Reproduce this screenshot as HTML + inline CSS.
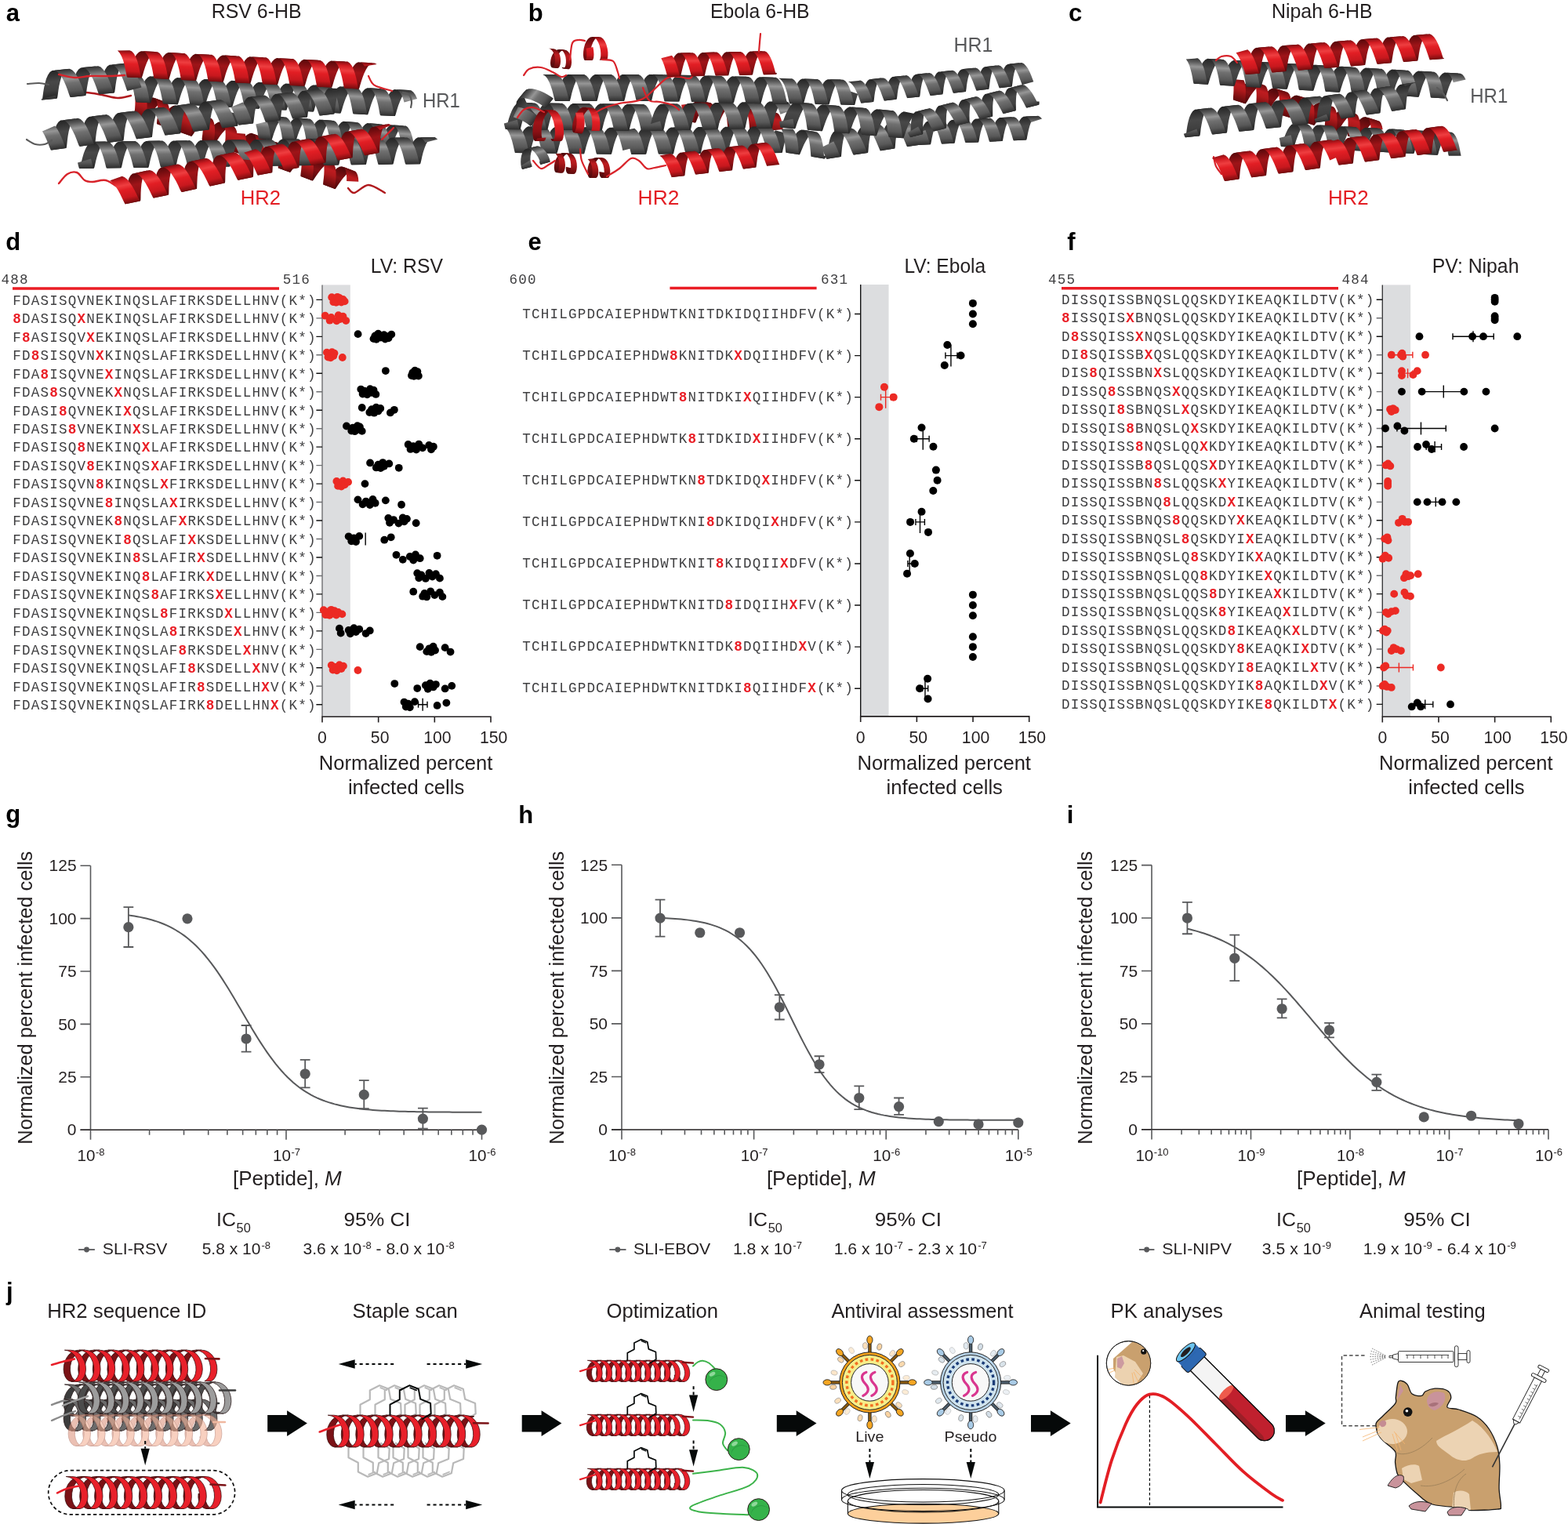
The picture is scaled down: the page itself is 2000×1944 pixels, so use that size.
<!DOCTYPE html><html><head><meta charset="utf-8"><title>Figure</title><style>html,body{margin:0;padding:0;background:#fff;width:2000px;height:1944px;overflow:hidden}svg{display:block}</style></head><body><svg width="2000" height="1944" viewBox="0 0 2000 1944" font-family="'Liberation Sans',Arial,Helvetica,sans-serif" fill="#231f20"><defs><linearGradient id="hg1f" gradientUnits="userSpaceOnUse" x1="241.07" y1="140.88" x2="230.93" y2="169.12"><stop offset="0" stop-color="#690c0e"/><stop offset="0.3" stop-color="#be1c20"/><stop offset="0.5" stop-color="#b01a1c"/><stop offset="1" stop-color="#600a0c"/></linearGradient><linearGradient id="hg1b" gradientUnits="userSpaceOnUse" x1="241.07" y1="140.88" x2="230.93" y2="169.12"><stop offset="0" stop-color="#4c080a"/><stop offset="0.5" stop-color="#841014"/><stop offset="1" stop-color="#48080a"/></linearGradient><linearGradient id="hg2f" gradientUnits="userSpaceOnUse" x1="378.2" y1="190.93" x2="367.8" y2="219.07"><stop offset="0" stop-color="#690c0e"/><stop offset="0.3" stop-color="#be1c20"/><stop offset="0.5" stop-color="#b01a1c"/><stop offset="1" stop-color="#600a0c"/></linearGradient><linearGradient id="hg2b" gradientUnits="userSpaceOnUse" x1="378.2" y1="190.93" x2="367.8" y2="219.07"><stop offset="0" stop-color="#4c080a"/><stop offset="0.5" stop-color="#841014"/><stop offset="1" stop-color="#48080a"/></linearGradient><linearGradient id="hg3f" gradientUnits="userSpaceOnUse" x1="427.09" y1="154.04" x2="424.91" y2="183.96"><stop offset="0" stop-color="#303030"/><stop offset="0.16" stop-color="#5c5c5c"/><stop offset="0.34" stop-color="#969696"/><stop offset="0.5" stop-color="#707070"/><stop offset="0.78" stop-color="#585858"/><stop offset="1" stop-color="#2e2e2e"/></linearGradient><linearGradient id="hg3b" gradientUnits="userSpaceOnUse" x1="427.09" y1="154.04" x2="424.91" y2="183.96"><stop offset="0" stop-color="#242424"/><stop offset="0.4" stop-color="#484848"/><stop offset="0.7" stop-color="#404040"/><stop offset="1" stop-color="#222222"/></linearGradient><linearGradient id="hg4f" gradientUnits="userSpaceOnUse" x1="325.77" y1="178" x2="326.23" y2="212"><stop offset="0" stop-color="#303030"/><stop offset="0.16" stop-color="#5c5c5c"/><stop offset="0.34" stop-color="#969696"/><stop offset="0.5" stop-color="#707070"/><stop offset="0.78" stop-color="#585858"/><stop offset="1" stop-color="#2e2e2e"/></linearGradient><linearGradient id="hg4b" gradientUnits="userSpaceOnUse" x1="325.77" y1="178" x2="326.23" y2="212"><stop offset="0" stop-color="#242424"/><stop offset="0.4" stop-color="#484848"/><stop offset="0.7" stop-color="#404040"/><stop offset="1" stop-color="#222222"/></linearGradient><linearGradient id="hg5f" gradientUnits="userSpaceOnUse" x1="344.92" y1="105.52" x2="343.08" y2="139.48"><stop offset="0" stop-color="#303030"/><stop offset="0.16" stop-color="#5c5c5c"/><stop offset="0.34" stop-color="#969696"/><stop offset="0.5" stop-color="#707070"/><stop offset="0.78" stop-color="#585858"/><stop offset="1" stop-color="#2e2e2e"/></linearGradient><linearGradient id="hg5b" gradientUnits="userSpaceOnUse" x1="344.92" y1="105.52" x2="343.08" y2="139.48"><stop offset="0" stop-color="#242424"/><stop offset="0.4" stop-color="#484848"/><stop offset="0.7" stop-color="#404040"/><stop offset="1" stop-color="#222222"/></linearGradient><linearGradient id="hg6f" gradientUnits="userSpaceOnUse" x1="111.21" y1="85.59" x2="114.79" y2="121.41"><stop offset="0" stop-color="#303030"/><stop offset="0.16" stop-color="#5c5c5c"/><stop offset="0.34" stop-color="#969696"/><stop offset="0.5" stop-color="#707070"/><stop offset="0.78" stop-color="#585858"/><stop offset="1" stop-color="#2e2e2e"/></linearGradient><linearGradient id="hg6b" gradientUnits="userSpaceOnUse" x1="111.21" y1="85.59" x2="114.79" y2="121.41"><stop offset="0" stop-color="#242424"/><stop offset="0.4" stop-color="#484848"/><stop offset="0.7" stop-color="#404040"/><stop offset="1" stop-color="#222222"/></linearGradient><linearGradient id="hg7f" gradientUnits="userSpaceOnUse" x1="177.69" y1="140.65" x2="182.31" y2="176.35"><stop offset="0" stop-color="#303030"/><stop offset="0.16" stop-color="#5c5c5c"/><stop offset="0.34" stop-color="#969696"/><stop offset="0.5" stop-color="#707070"/><stop offset="0.78" stop-color="#585858"/><stop offset="1" stop-color="#2e2e2e"/></linearGradient><linearGradient id="hg7b" gradientUnits="userSpaceOnUse" x1="177.69" y1="140.65" x2="182.31" y2="176.35"><stop offset="0" stop-color="#242424"/><stop offset="0.4" stop-color="#484848"/><stop offset="0.7" stop-color="#404040"/><stop offset="1" stop-color="#222222"/></linearGradient><linearGradient id="hg8f" gradientUnits="userSpaceOnUse" x1="363.05" y1="118.61" x2="366.95" y2="152.39"><stop offset="0" stop-color="#303030"/><stop offset="0.16" stop-color="#5c5c5c"/><stop offset="0.34" stop-color="#969696"/><stop offset="0.5" stop-color="#707070"/><stop offset="0.78" stop-color="#585858"/><stop offset="1" stop-color="#2e2e2e"/></linearGradient><linearGradient id="hg8b" gradientUnits="userSpaceOnUse" x1="363.05" y1="118.61" x2="366.95" y2="152.39"><stop offset="0" stop-color="#242424"/><stop offset="0.4" stop-color="#484848"/><stop offset="0.7" stop-color="#404040"/><stop offset="1" stop-color="#222222"/></linearGradient><linearGradient id="hg9f" gradientUnits="userSpaceOnUse" x1="313.87" y1="72.02" x2="312.13" y2="105.98"><stop offset="0" stop-color="#820e12"/><stop offset="0.16" stop-color="#d21c22"/><stop offset="0.34" stop-color="#ee3e40"/><stop offset="0.5" stop-color="#e21e24"/><stop offset="0.78" stop-color="#c8181e"/><stop offset="1" stop-color="#760c0e"/></linearGradient><linearGradient id="hg9b" gradientUnits="userSpaceOnUse" x1="313.87" y1="72.02" x2="312.13" y2="105.98"><stop offset="0" stop-color="#58080a"/><stop offset="0.4" stop-color="#9e1418"/><stop offset="0.7" stop-color="#8c1014"/><stop offset="1" stop-color="#54080a"/></linearGradient><linearGradient id="hg10f" gradientUnits="userSpaceOnUse" x1="231.27" y1="208.39" x2="238.73" y2="243.61"><stop offset="0" stop-color="#820e12"/><stop offset="0.16" stop-color="#d21c22"/><stop offset="0.34" stop-color="#ee3e40"/><stop offset="0.5" stop-color="#e21e24"/><stop offset="0.78" stop-color="#c8181e"/><stop offset="1" stop-color="#760c0e"/></linearGradient><linearGradient id="hg10b" gradientUnits="userSpaceOnUse" x1="231.27" y1="208.39" x2="238.73" y2="243.61"><stop offset="0" stop-color="#58080a"/><stop offset="0.4" stop-color="#9e1418"/><stop offset="0.7" stop-color="#8c1014"/><stop offset="1" stop-color="#54080a"/></linearGradient><linearGradient id="hg11f" gradientUnits="userSpaceOnUse" x1="402.89" y1="175.29" x2="409.11" y2="208.71"><stop offset="0" stop-color="#820e12"/><stop offset="0.16" stop-color="#d21c22"/><stop offset="0.34" stop-color="#ee3e40"/><stop offset="0.5" stop-color="#e21e24"/><stop offset="0.78" stop-color="#c8181e"/><stop offset="1" stop-color="#760c0e"/></linearGradient><linearGradient id="hg11b" gradientUnits="userSpaceOnUse" x1="402.89" y1="175.29" x2="409.11" y2="208.71"><stop offset="0" stop-color="#58080a"/><stop offset="0.4" stop-color="#9e1418"/><stop offset="0.7" stop-color="#8c1014"/><stop offset="1" stop-color="#54080a"/></linearGradient><linearGradient id="hg12f" gradientUnits="userSpaceOnUse" x1="933.11" y1="135.16" x2="928.89" y2="162.84"><stop offset="0" stop-color="#690c0e"/><stop offset="0.3" stop-color="#be1c20"/><stop offset="0.5" stop-color="#b01a1c"/><stop offset="1" stop-color="#600a0c"/></linearGradient><linearGradient id="hg12b" gradientUnits="userSpaceOnUse" x1="933.11" y1="135.16" x2="928.89" y2="162.84"><stop offset="0" stop-color="#4c080a"/><stop offset="0.5" stop-color="#841014"/><stop offset="1" stop-color="#48080a"/></linearGradient><linearGradient id="hg13f" gradientUnits="userSpaceOnUse" x1="726.23" y1="162" x2="725.77" y2="196"><stop offset="0" stop-color="#303030"/><stop offset="0.16" stop-color="#5c5c5c"/><stop offset="0.34" stop-color="#969696"/><stop offset="0.5" stop-color="#707070"/><stop offset="0.78" stop-color="#585858"/><stop offset="1" stop-color="#2e2e2e"/></linearGradient><linearGradient id="hg13b" gradientUnits="userSpaceOnUse" x1="726.23" y1="162" x2="725.77" y2="196"><stop offset="0" stop-color="#242424"/><stop offset="0.4" stop-color="#484848"/><stop offset="0.7" stop-color="#404040"/><stop offset="1" stop-color="#222222"/></linearGradient><linearGradient id="hg14f" gradientUnits="userSpaceOnUse" x1="899.83" y1="162" x2="900.17" y2="196"><stop offset="0" stop-color="#303030"/><stop offset="0.16" stop-color="#5c5c5c"/><stop offset="0.34" stop-color="#969696"/><stop offset="0.5" stop-color="#707070"/><stop offset="0.78" stop-color="#585858"/><stop offset="1" stop-color="#2e2e2e"/></linearGradient><linearGradient id="hg14b" gradientUnits="userSpaceOnUse" x1="899.83" y1="162" x2="900.17" y2="196"><stop offset="0" stop-color="#242424"/><stop offset="0.4" stop-color="#484848"/><stop offset="0.7" stop-color="#404040"/><stop offset="1" stop-color="#222222"/></linearGradient><linearGradient id="hg15f" gradientUnits="userSpaceOnUse" x1="1027.53" y1="166.2" x2="1022.47" y2="197.8"><stop offset="0" stop-color="#303030"/><stop offset="0.16" stop-color="#5c5c5c"/><stop offset="0.34" stop-color="#969696"/><stop offset="0.5" stop-color="#707070"/><stop offset="0.78" stop-color="#585858"/><stop offset="1" stop-color="#2e2e2e"/></linearGradient><linearGradient id="hg15b" gradientUnits="userSpaceOnUse" x1="1027.53" y1="166.2" x2="1022.47" y2="197.8"><stop offset="0" stop-color="#242424"/><stop offset="0.4" stop-color="#484848"/><stop offset="0.7" stop-color="#404040"/><stop offset="1" stop-color="#222222"/></linearGradient><linearGradient id="hg16f" gradientUnits="userSpaceOnUse" x1="1108.44" y1="160.19" x2="1113.56" y2="193.81"><stop offset="0" stop-color="#303030"/><stop offset="0.16" stop-color="#5c5c5c"/><stop offset="0.34" stop-color="#969696"/><stop offset="0.5" stop-color="#707070"/><stop offset="0.78" stop-color="#585858"/><stop offset="1" stop-color="#2e2e2e"/></linearGradient><linearGradient id="hg16b" gradientUnits="userSpaceOnUse" x1="1108.44" y1="160.19" x2="1113.56" y2="193.81"><stop offset="0" stop-color="#242424"/><stop offset="0.4" stop-color="#484848"/><stop offset="0.7" stop-color="#404040"/><stop offset="1" stop-color="#222222"/></linearGradient><linearGradient id="hg17f" gradientUnits="userSpaceOnUse" x1="1244.3" y1="151.52" x2="1245.7" y2="181.48"><stop offset="0" stop-color="#303030"/><stop offset="0.16" stop-color="#5c5c5c"/><stop offset="0.34" stop-color="#969696"/><stop offset="0.5" stop-color="#707070"/><stop offset="0.78" stop-color="#585858"/><stop offset="1" stop-color="#2e2e2e"/></linearGradient><linearGradient id="hg17b" gradientUnits="userSpaceOnUse" x1="1244.3" y1="151.52" x2="1245.7" y2="181.48"><stop offset="0" stop-color="#242424"/><stop offset="0.4" stop-color="#484848"/><stop offset="0.7" stop-color="#404040"/><stop offset="1" stop-color="#222222"/></linearGradient><linearGradient id="hg18f" gradientUnits="userSpaceOnUse" x1="739.19" y1="132" x2="738.81" y2="166"><stop offset="0" stop-color="#303030"/><stop offset="0.16" stop-color="#5c5c5c"/><stop offset="0.34" stop-color="#969696"/><stop offset="0.5" stop-color="#707070"/><stop offset="0.78" stop-color="#585858"/><stop offset="1" stop-color="#2e2e2e"/></linearGradient><linearGradient id="hg18b" gradientUnits="userSpaceOnUse" x1="739.19" y1="132" x2="738.81" y2="166"><stop offset="0" stop-color="#242424"/><stop offset="0.4" stop-color="#484848"/><stop offset="0.7" stop-color="#404040"/><stop offset="1" stop-color="#222222"/></linearGradient><linearGradient id="hg19f" gradientUnits="userSpaceOnUse" x1="914.6" y1="131" x2="915.4" y2="165"><stop offset="0" stop-color="#303030"/><stop offset="0.16" stop-color="#5c5c5c"/><stop offset="0.34" stop-color="#969696"/><stop offset="0.5" stop-color="#707070"/><stop offset="0.78" stop-color="#585858"/><stop offset="1" stop-color="#2e2e2e"/></linearGradient><linearGradient id="hg19b" gradientUnits="userSpaceOnUse" x1="914.6" y1="131" x2="915.4" y2="165"><stop offset="0" stop-color="#242424"/><stop offset="0.4" stop-color="#484848"/><stop offset="0.7" stop-color="#404040"/><stop offset="1" stop-color="#222222"/></linearGradient><linearGradient id="hg20f" gradientUnits="userSpaceOnUse" x1="1081.48" y1="136.06" x2="1078.52" y2="169.94"><stop offset="0" stop-color="#303030"/><stop offset="0.16" stop-color="#5c5c5c"/><stop offset="0.34" stop-color="#969696"/><stop offset="0.5" stop-color="#707070"/><stop offset="0.78" stop-color="#585858"/><stop offset="1" stop-color="#2e2e2e"/></linearGradient><linearGradient id="hg20b" gradientUnits="userSpaceOnUse" x1="1081.48" y1="136.06" x2="1078.52" y2="169.94"><stop offset="0" stop-color="#242424"/><stop offset="0.4" stop-color="#484848"/><stop offset="0.7" stop-color="#404040"/><stop offset="1" stop-color="#222222"/></linearGradient><linearGradient id="hg21f" gradientUnits="userSpaceOnUse" x1="1235.32" y1="125.46" x2="1242.68" y2="154.54"><stop offset="0" stop-color="#303030"/><stop offset="0.16" stop-color="#5c5c5c"/><stop offset="0.34" stop-color="#969696"/><stop offset="0.5" stop-color="#707070"/><stop offset="0.78" stop-color="#585858"/><stop offset="1" stop-color="#2e2e2e"/></linearGradient><linearGradient id="hg21b" gradientUnits="userSpaceOnUse" x1="1235.32" y1="125.46" x2="1242.68" y2="154.54"><stop offset="0" stop-color="#242424"/><stop offset="0.4" stop-color="#484848"/><stop offset="0.7" stop-color="#404040"/><stop offset="1" stop-color="#222222"/></linearGradient><linearGradient id="hg22f" gradientUnits="userSpaceOnUse" x1="770" y1="95" x2="770" y2="129"><stop offset="0" stop-color="#303030"/><stop offset="0.16" stop-color="#5c5c5c"/><stop offset="0.34" stop-color="#969696"/><stop offset="0.5" stop-color="#707070"/><stop offset="0.78" stop-color="#585858"/><stop offset="1" stop-color="#2e2e2e"/></linearGradient><linearGradient id="hg22b" gradientUnits="userSpaceOnUse" x1="770" y1="95" x2="770" y2="129"><stop offset="0" stop-color="#242424"/><stop offset="0.4" stop-color="#484848"/><stop offset="0.7" stop-color="#404040"/><stop offset="1" stop-color="#222222"/></linearGradient><linearGradient id="hg23f" gradientUnits="userSpaceOnUse" x1="662.88" y1="124.19" x2="689.12" y2="145.81"><stop offset="0" stop-color="#303030"/><stop offset="0.16" stop-color="#5c5c5c"/><stop offset="0.34" stop-color="#969696"/><stop offset="0.5" stop-color="#707070"/><stop offset="0.78" stop-color="#585858"/><stop offset="1" stop-color="#2e2e2e"/></linearGradient><linearGradient id="hg23b" gradientUnits="userSpaceOnUse" x1="662.88" y1="124.19" x2="689.12" y2="145.81"><stop offset="0" stop-color="#242424"/><stop offset="0.4" stop-color="#484848"/><stop offset="0.7" stop-color="#404040"/><stop offset="1" stop-color="#222222"/></linearGradient><linearGradient id="hg24f" gradientUnits="userSpaceOnUse" x1="676.91" y1="188.41" x2="683.09" y2="211.59"><stop offset="0" stop-color="#303030"/><stop offset="0.16" stop-color="#5c5c5c"/><stop offset="0.34" stop-color="#969696"/><stop offset="0.5" stop-color="#707070"/><stop offset="0.78" stop-color="#585858"/><stop offset="1" stop-color="#2e2e2e"/></linearGradient><linearGradient id="hg24b" gradientUnits="userSpaceOnUse" x1="676.91" y1="188.41" x2="683.09" y2="211.59"><stop offset="0" stop-color="#242424"/><stop offset="0.4" stop-color="#484848"/><stop offset="0.7" stop-color="#404040"/><stop offset="1" stop-color="#222222"/></linearGradient><linearGradient id="hg25f" gradientUnits="userSpaceOnUse" x1="920.42" y1="97.01" x2="919.58" y2="130.99"><stop offset="0" stop-color="#303030"/><stop offset="0.16" stop-color="#5c5c5c"/><stop offset="0.34" stop-color="#969696"/><stop offset="0.5" stop-color="#707070"/><stop offset="0.78" stop-color="#585858"/><stop offset="1" stop-color="#2e2e2e"/></linearGradient><linearGradient id="hg25b" gradientUnits="userSpaceOnUse" x1="920.42" y1="97.01" x2="919.58" y2="130.99"><stop offset="0" stop-color="#242424"/><stop offset="0.4" stop-color="#484848"/><stop offset="0.7" stop-color="#404040"/><stop offset="1" stop-color="#222222"/></linearGradient><linearGradient id="hg26f" gradientUnits="userSpaceOnUse" x1="1045.36" y1="101" x2="1044.64" y2="133"><stop offset="0" stop-color="#303030"/><stop offset="0.16" stop-color="#5c5c5c"/><stop offset="0.34" stop-color="#969696"/><stop offset="0.5" stop-color="#707070"/><stop offset="0.78" stop-color="#585858"/><stop offset="1" stop-color="#2e2e2e"/></linearGradient><linearGradient id="hg26b" gradientUnits="userSpaceOnUse" x1="1045.36" y1="101" x2="1044.64" y2="133"><stop offset="0" stop-color="#242424"/><stop offset="0.4" stop-color="#484848"/><stop offset="0.7" stop-color="#404040"/><stop offset="1" stop-color="#222222"/></linearGradient><linearGradient id="hg27f" gradientUnits="userSpaceOnUse" x1="1197.41" y1="91.59" x2="1200.59" y2="120.41"><stop offset="0" stop-color="#303030"/><stop offset="0.16" stop-color="#5c5c5c"/><stop offset="0.34" stop-color="#969696"/><stop offset="0.5" stop-color="#707070"/><stop offset="0.78" stop-color="#585858"/><stop offset="1" stop-color="#2e2e2e"/></linearGradient><linearGradient id="hg27b" gradientUnits="userSpaceOnUse" x1="1197.41" y1="91.59" x2="1200.59" y2="120.41"><stop offset="0" stop-color="#242424"/><stop offset="0.4" stop-color="#484848"/><stop offset="0.7" stop-color="#404040"/><stop offset="1" stop-color="#222222"/></linearGradient><linearGradient id="hg28f" gradientUnits="userSpaceOnUse" x1="714.09" y1="63.05" x2="711.91" y2="86.95"><stop offset="0" stop-color="#690c0e"/><stop offset="0.3" stop-color="#be1c20"/><stop offset="0.5" stop-color="#b01a1c"/><stop offset="1" stop-color="#600a0c"/></linearGradient><linearGradient id="hg28b" gradientUnits="userSpaceOnUse" x1="714.09" y1="63.05" x2="711.91" y2="86.95"><stop offset="0" stop-color="#4c080a"/><stop offset="0.5" stop-color="#841014"/><stop offset="1" stop-color="#48080a"/></linearGradient><linearGradient id="hg29f" gradientUnits="userSpaceOnUse" x1="757" y1="47" x2="757" y2="77"><stop offset="0" stop-color="#820e12"/><stop offset="0.16" stop-color="#d21c22"/><stop offset="0.34" stop-color="#ee3e40"/><stop offset="0.5" stop-color="#e21e24"/><stop offset="0.78" stop-color="#c8181e"/><stop offset="1" stop-color="#760c0e"/></linearGradient><linearGradient id="hg29b" gradientUnits="userSpaceOnUse" x1="757" y1="47" x2="757" y2="77"><stop offset="0" stop-color="#58080a"/><stop offset="0.4" stop-color="#9e1418"/><stop offset="0.7" stop-color="#8c1014"/><stop offset="1" stop-color="#54080a"/></linearGradient><linearGradient id="hg30f" gradientUnits="userSpaceOnUse" x1="699" y1="140" x2="699" y2="180"><stop offset="0" stop-color="#820e12"/><stop offset="0.16" stop-color="#d21c22"/><stop offset="0.34" stop-color="#ee3e40"/><stop offset="0.5" stop-color="#e21e24"/><stop offset="0.78" stop-color="#c8181e"/><stop offset="1" stop-color="#760c0e"/></linearGradient><linearGradient id="hg30b" gradientUnits="userSpaceOnUse" x1="699" y1="140" x2="699" y2="180"><stop offset="0" stop-color="#58080a"/><stop offset="0.4" stop-color="#9e1418"/><stop offset="0.7" stop-color="#8c1014"/><stop offset="1" stop-color="#54080a"/></linearGradient><linearGradient id="hg31f" gradientUnits="userSpaceOnUse" x1="746.11" y1="136.63" x2="741.89" y2="170.37"><stop offset="0" stop-color="#820e12"/><stop offset="0.16" stop-color="#d21c22"/><stop offset="0.34" stop-color="#ee3e40"/><stop offset="0.5" stop-color="#e21e24"/><stop offset="0.78" stop-color="#c8181e"/><stop offset="1" stop-color="#760c0e"/></linearGradient><linearGradient id="hg31b" gradientUnits="userSpaceOnUse" x1="746.11" y1="136.63" x2="741.89" y2="170.37"><stop offset="0" stop-color="#58080a"/><stop offset="0.4" stop-color="#9e1418"/><stop offset="0.7" stop-color="#8c1014"/><stop offset="1" stop-color="#54080a"/></linearGradient><linearGradient id="hg32f" gradientUnits="userSpaceOnUse" x1="721.08" y1="195.04" x2="718.92" y2="220.96"><stop offset="0" stop-color="#690c0e"/><stop offset="0.3" stop-color="#be1c20"/><stop offset="0.5" stop-color="#b01a1c"/><stop offset="1" stop-color="#600a0c"/></linearGradient><linearGradient id="hg32b" gradientUnits="userSpaceOnUse" x1="721.08" y1="195.04" x2="718.92" y2="220.96"><stop offset="0" stop-color="#4c080a"/><stop offset="0.5" stop-color="#841014"/><stop offset="1" stop-color="#48080a"/></linearGradient><linearGradient id="hg33f" gradientUnits="userSpaceOnUse" x1="762" y1="201" x2="762" y2="227"><stop offset="0" stop-color="#690c0e"/><stop offset="0.3" stop-color="#be1c20"/><stop offset="0.5" stop-color="#b01a1c"/><stop offset="1" stop-color="#600a0c"/></linearGradient><linearGradient id="hg33b" gradientUnits="userSpaceOnUse" x1="762" y1="201" x2="762" y2="227"><stop offset="0" stop-color="#4c080a"/><stop offset="0.5" stop-color="#841014"/><stop offset="1" stop-color="#48080a"/></linearGradient><linearGradient id="hg34f" gradientUnits="userSpaceOnUse" x1="916.17" y1="66.5" x2="916.83" y2="96.5"><stop offset="0" stop-color="#820e12"/><stop offset="0.16" stop-color="#d21c22"/><stop offset="0.34" stop-color="#ee3e40"/><stop offset="0.5" stop-color="#e21e24"/><stop offset="0.78" stop-color="#c8181e"/><stop offset="1" stop-color="#760c0e"/></linearGradient><linearGradient id="hg34b" gradientUnits="userSpaceOnUse" x1="916.17" y1="66.5" x2="916.83" y2="96.5"><stop offset="0" stop-color="#58080a"/><stop offset="0.4" stop-color="#9e1418"/><stop offset="0.7" stop-color="#8c1014"/><stop offset="1" stop-color="#54080a"/></linearGradient><linearGradient id="hg35f" gradientUnits="userSpaceOnUse" x1="915.25" y1="189.1" x2="918.75" y2="218.9"><stop offset="0" stop-color="#820e12"/><stop offset="0.16" stop-color="#d21c22"/><stop offset="0.34" stop-color="#ee3e40"/><stop offset="0.5" stop-color="#e21e24"/><stop offset="0.78" stop-color="#c8181e"/><stop offset="1" stop-color="#760c0e"/></linearGradient><linearGradient id="hg35b" gradientUnits="userSpaceOnUse" x1="915.25" y1="189.1" x2="918.75" y2="218.9"><stop offset="0" stop-color="#58080a"/><stop offset="0.4" stop-color="#9e1418"/><stop offset="0.7" stop-color="#8c1014"/><stop offset="1" stop-color="#54080a"/></linearGradient><linearGradient id="hg36f" gradientUnits="userSpaceOnUse" x1="1667.5" y1="125.69" x2="1658.5" y2="154.31"><stop offset="0" stop-color="#690c0e"/><stop offset="0.3" stop-color="#be1c20"/><stop offset="0.5" stop-color="#b01a1c"/><stop offset="1" stop-color="#600a0c"/></linearGradient><linearGradient id="hg36b" gradientUnits="userSpaceOnUse" x1="1667.5" y1="125.69" x2="1658.5" y2="154.31"><stop offset="0" stop-color="#4c080a"/><stop offset="0.5" stop-color="#841014"/><stop offset="1" stop-color="#48080a"/></linearGradient><linearGradient id="hg37f" gradientUnits="userSpaceOnUse" x1="1746.82" y1="163.02" x2="1745.18" y2="192.98"><stop offset="0" stop-color="#303030"/><stop offset="0.16" stop-color="#5c5c5c"/><stop offset="0.34" stop-color="#969696"/><stop offset="0.5" stop-color="#707070"/><stop offset="0.78" stop-color="#585858"/><stop offset="1" stop-color="#2e2e2e"/></linearGradient><linearGradient id="hg37b" gradientUnits="userSpaceOnUse" x1="1746.82" y1="163.02" x2="1745.18" y2="192.98"><stop offset="0" stop-color="#242424"/><stop offset="0.4" stop-color="#484848"/><stop offset="0.7" stop-color="#404040"/><stop offset="1" stop-color="#222222"/></linearGradient><linearGradient id="hg38f" gradientUnits="userSpaceOnUse" x1="1688.97" y1="83.53" x2="1687.03" y2="116.47"><stop offset="0" stop-color="#303030"/><stop offset="0.16" stop-color="#5c5c5c"/><stop offset="0.34" stop-color="#969696"/><stop offset="0.5" stop-color="#707070"/><stop offset="0.78" stop-color="#585858"/><stop offset="1" stop-color="#2e2e2e"/></linearGradient><linearGradient id="hg38b" gradientUnits="userSpaceOnUse" x1="1688.97" y1="83.53" x2="1687.03" y2="116.47"><stop offset="0" stop-color="#242424"/><stop offset="0.4" stop-color="#484848"/><stop offset="0.7" stop-color="#404040"/><stop offset="1" stop-color="#222222"/></linearGradient><linearGradient id="hg39f" gradientUnits="userSpaceOnUse" x1="1595.17" y1="132.1" x2="1598.83" y2="165.9"><stop offset="0" stop-color="#303030"/><stop offset="0.16" stop-color="#5c5c5c"/><stop offset="0.34" stop-color="#969696"/><stop offset="0.5" stop-color="#707070"/><stop offset="0.78" stop-color="#585858"/><stop offset="1" stop-color="#2e2e2e"/></linearGradient><linearGradient id="hg39b" gradientUnits="userSpaceOnUse" x1="1595.17" y1="132.1" x2="1598.83" y2="165.9"><stop offset="0" stop-color="#242424"/><stop offset="0.4" stop-color="#484848"/><stop offset="0.7" stop-color="#404040"/><stop offset="1" stop-color="#222222"/></linearGradient><linearGradient id="hg40f" gradientUnits="userSpaceOnUse" x1="1737.63" y1="115.18" x2="1742.37" y2="146.82"><stop offset="0" stop-color="#303030"/><stop offset="0.16" stop-color="#5c5c5c"/><stop offset="0.34" stop-color="#969696"/><stop offset="0.5" stop-color="#707070"/><stop offset="0.78" stop-color="#585858"/><stop offset="1" stop-color="#2e2e2e"/></linearGradient><linearGradient id="hg40b" gradientUnits="userSpaceOnUse" x1="1737.63" y1="115.18" x2="1742.37" y2="146.82"><stop offset="0" stop-color="#242424"/><stop offset="0.4" stop-color="#484848"/><stop offset="0.7" stop-color="#404040"/><stop offset="1" stop-color="#222222"/></linearGradient><linearGradient id="hg41f" gradientUnits="userSpaceOnUse" x1="1707.19" y1="52.55" x2="1709.81" y2="85.45"><stop offset="0" stop-color="#820e12"/><stop offset="0.16" stop-color="#d21c22"/><stop offset="0.34" stop-color="#ee3e40"/><stop offset="0.5" stop-color="#e21e24"/><stop offset="0.78" stop-color="#c8181e"/><stop offset="1" stop-color="#760c0e"/></linearGradient><linearGradient id="hg41b" gradientUnits="userSpaceOnUse" x1="1707.19" y1="52.55" x2="1709.81" y2="85.45"><stop offset="0" stop-color="#58080a"/><stop offset="0.4" stop-color="#9e1418"/><stop offset="0.7" stop-color="#8c1014"/><stop offset="1" stop-color="#54080a"/></linearGradient><linearGradient id="hg42f" gradientUnits="userSpaceOnUse" x1="1624.69" y1="188.16" x2="1629.31" y2="221.84"><stop offset="0" stop-color="#820e12"/><stop offset="0.16" stop-color="#d21c22"/><stop offset="0.34" stop-color="#ee3e40"/><stop offset="0.5" stop-color="#e21e24"/><stop offset="0.78" stop-color="#c8181e"/><stop offset="1" stop-color="#760c0e"/></linearGradient><linearGradient id="hg42b" gradientUnits="userSpaceOnUse" x1="1624.69" y1="188.16" x2="1629.31" y2="221.84"><stop offset="0" stop-color="#58080a"/><stop offset="0.4" stop-color="#9e1418"/><stop offset="0.7" stop-color="#8c1014"/><stop offset="1" stop-color="#54080a"/></linearGradient><linearGradient id="hg43f" gradientUnits="userSpaceOnUse" x1="1772.93" y1="169.13" x2="1777.07" y2="201.87"><stop offset="0" stop-color="#820e12"/><stop offset="0.16" stop-color="#d21c22"/><stop offset="0.34" stop-color="#ee3e40"/><stop offset="0.5" stop-color="#e21e24"/><stop offset="0.78" stop-color="#c8181e"/><stop offset="1" stop-color="#760c0e"/></linearGradient><linearGradient id="hg43b" gradientUnits="userSpaceOnUse" x1="1772.93" y1="169.13" x2="1777.07" y2="201.87"><stop offset="0" stop-color="#58080a"/><stop offset="0.4" stop-color="#9e1418"/><stop offset="0.7" stop-color="#8c1014"/><stop offset="1" stop-color="#54080a"/></linearGradient></defs><text x="7.7" y="26.8" font-size="31" font-weight="bold" fill="#000">a</text><text x="673.65" y="26.8" font-size="31" font-weight="bold" fill="#000">b</text><text x="1363.09" y="26.8" font-size="31" font-weight="bold" fill="#000">c</text><text x="7.13" y="319.4" font-size="31" font-weight="bold" fill="#000">d</text><text x="673.49" y="318.8" font-size="31" font-weight="bold" fill="#000">e</text><text x="1361.17" y="318.8" font-size="31" font-weight="bold" fill="#000">f</text><text x="7.13" y="1048.5" font-size="31" font-weight="bold" fill="#000">g</text><text x="661.33" y="1050.3" font-size="31" font-weight="bold" fill="#000">h</text><text x="1360.73" y="1050.3" font-size="31" font-weight="bold" fill="#000">i</text><text x="7.9" y="1657.5" font-size="31" font-weight="bold" fill="#000">j</text><text x="269.76" y="22.8" font-size="25.8" textLength="114.77" lengthAdjust="spacingAndGlyphs">RSV 6-HB</text><text x="905.97" y="23" font-size="25.8" textLength="126.54" lengthAdjust="spacingAndGlyphs">Ebola 6-HB</text><text x="1621.96" y="22.8" font-size="25.8" textLength="128.76" lengthAdjust="spacingAndGlyphs">Nipah 6-HB</text><rect x="411" y="363.4" width="35.83" height="550.8" fill="#dcdddf"/><path d="M411 363.4V914.2" stroke="#6d6e71" stroke-width="1.4" fill="none"/><path d="M403.4 382.4H411M403.4 429.34H411M403.4 476.28H411M403.4 523.22H411M403.4 570.16H411M403.4 617.1H411M403.4 664.04H411M403.4 710.98H411M403.4 757.92H411M403.4 804.86H411M403.4 851.8H411M403.4 898.74H411" stroke="#111" stroke-width="1.4" fill="none"/><path d="M403.4 405.87H411M403.4 452.81H411M403.4 499.75H411M403.4 546.69H411M403.4 593.63H411M403.4 640.57H411M403.4 687.51H411M403.4 734.45H411M403.4 781.39H411M403.4 828.33H411M403.4 875.27H411" stroke="#6d6e71" stroke-width="1.4" fill="none"/><path d="M410.2 914.2H626.8M411 914.2V921.4M482.67 914.2V921.4M554.33 914.2V921.4M626 914.2V921.4" stroke="#231f20" stroke-width="1.6" fill="none"/><text x="405.11" y="947.5" font-size="21.2">0</text><text x="472.87" y="947.5" font-size="21.2">50</text><text x="540.16" y="947.5" font-size="21.2">100</text><text x="611.93" y="947.5" font-size="21.2">150</text><text x="406.81" y="982.4" font-size="25.3" textLength="221.46" lengthAdjust="spacingAndGlyphs">Normalized percent</text><text x="443.93" y="1012.7" font-size="25.3" textLength="148.34" lengthAdjust="spacingAndGlyphs">infected cells</text><text x="472.77" y="347.9" font-size="25.8" textLength="92.14" lengthAdjust="spacingAndGlyphs">LV: RSV</text><text x="16.15" y="388.7" font-size="17.6" letter-spacing="1.19" font-family="'Liberation Mono','Courier New',monospace" fill="#404042" xml:space="preserve">FDASISQVNEKINQSLAFIRKSDELLHNV(K*)</text><text x="16.15" y="412.17" font-size="17.6" letter-spacing="1.19" font-family="'Liberation Mono','Courier New',monospace" fill="#404042" xml:space="preserve"><tspan font-weight="bold" fill="#ea1d25">8</tspan>DASISQ<tspan font-weight="bold" fill="#ea1d25">X</tspan>NEKINQSLAFIRKSDELLHNV(K*)</text><text x="16.15" y="435.64" font-size="17.6" letter-spacing="1.19" font-family="'Liberation Mono','Courier New',monospace" fill="#404042" xml:space="preserve">F<tspan font-weight="bold" fill="#ea1d25">8</tspan>ASISQV<tspan font-weight="bold" fill="#ea1d25">X</tspan>EKINQSLAFIRKSDELLHNV(K*)</text><text x="16.15" y="459.11" font-size="17.6" letter-spacing="1.19" font-family="'Liberation Mono','Courier New',monospace" fill="#404042" xml:space="preserve">FD<tspan font-weight="bold" fill="#ea1d25">8</tspan>SISQVN<tspan font-weight="bold" fill="#ea1d25">X</tspan>KINQSLAFIRKSDELLHNV(K*)</text><text x="16.15" y="482.58" font-size="17.6" letter-spacing="1.19" font-family="'Liberation Mono','Courier New',monospace" fill="#404042" xml:space="preserve">FDA<tspan font-weight="bold" fill="#ea1d25">8</tspan>ISQVNE<tspan font-weight="bold" fill="#ea1d25">X</tspan>INQSLAFIRKSDELLHNV(K*)</text><text x="16.15" y="506.05" font-size="17.6" letter-spacing="1.19" font-family="'Liberation Mono','Courier New',monospace" fill="#404042" xml:space="preserve">FDAS<tspan font-weight="bold" fill="#ea1d25">8</tspan>SQVNEK<tspan font-weight="bold" fill="#ea1d25">X</tspan>NQSLAFIRKSDELLHNV(K*)</text><text x="16.15" y="529.52" font-size="17.6" letter-spacing="1.19" font-family="'Liberation Mono','Courier New',monospace" fill="#404042" xml:space="preserve">FDASI<tspan font-weight="bold" fill="#ea1d25">8</tspan>QVNEKI<tspan font-weight="bold" fill="#ea1d25">X</tspan>QSLAFIRKSDELLHNV(K*)</text><text x="16.15" y="552.99" font-size="17.6" letter-spacing="1.19" font-family="'Liberation Mono','Courier New',monospace" fill="#404042" xml:space="preserve">FDASIS<tspan font-weight="bold" fill="#ea1d25">8</tspan>VNEKIN<tspan font-weight="bold" fill="#ea1d25">X</tspan>SLAFIRKSDELLHNV(K*)</text><text x="16.15" y="576.46" font-size="17.6" letter-spacing="1.19" font-family="'Liberation Mono','Courier New',monospace" fill="#404042" xml:space="preserve">FDASISQ<tspan font-weight="bold" fill="#ea1d25">8</tspan>NEKINQ<tspan font-weight="bold" fill="#ea1d25">X</tspan>LAFIRKSDELLHNV(K*)</text><text x="16.15" y="599.93" font-size="17.6" letter-spacing="1.19" font-family="'Liberation Mono','Courier New',monospace" fill="#404042" xml:space="preserve">FDASISQV<tspan font-weight="bold" fill="#ea1d25">8</tspan>EKINQS<tspan font-weight="bold" fill="#ea1d25">X</tspan>AFIRKSDELLHNV(K*)</text><text x="16.15" y="623.4" font-size="17.6" letter-spacing="1.19" font-family="'Liberation Mono','Courier New',monospace" fill="#404042" xml:space="preserve">FDASISQVN<tspan font-weight="bold" fill="#ea1d25">8</tspan>KINQSL<tspan font-weight="bold" fill="#ea1d25">X</tspan>FIRKSDELLHNV(K*)</text><text x="16.15" y="646.87" font-size="17.6" letter-spacing="1.19" font-family="'Liberation Mono','Courier New',monospace" fill="#404042" xml:space="preserve">FDASISQVNE<tspan font-weight="bold" fill="#ea1d25">8</tspan>INQSLA<tspan font-weight="bold" fill="#ea1d25">X</tspan>IRKSDELLHNV(K*)</text><text x="16.15" y="670.34" font-size="17.6" letter-spacing="1.19" font-family="'Liberation Mono','Courier New',monospace" fill="#404042" xml:space="preserve">FDASISQVNEK<tspan font-weight="bold" fill="#ea1d25">8</tspan>NQSLAF<tspan font-weight="bold" fill="#ea1d25">X</tspan>RKSDELLHNV(K*)</text><text x="16.15" y="693.81" font-size="17.6" letter-spacing="1.19" font-family="'Liberation Mono','Courier New',monospace" fill="#404042" xml:space="preserve">FDASISQVNEKI<tspan font-weight="bold" fill="#ea1d25">8</tspan>QSLAFI<tspan font-weight="bold" fill="#ea1d25">X</tspan>KSDELLHNV(K*)</text><text x="16.15" y="717.28" font-size="17.6" letter-spacing="1.19" font-family="'Liberation Mono','Courier New',monospace" fill="#404042" xml:space="preserve">FDASISQVNEKIN<tspan font-weight="bold" fill="#ea1d25">8</tspan>SLAFIR<tspan font-weight="bold" fill="#ea1d25">X</tspan>SDELLHNV(K*)</text><text x="16.15" y="740.75" font-size="17.6" letter-spacing="1.19" font-family="'Liberation Mono','Courier New',monospace" fill="#404042" xml:space="preserve">FDASISQVNEKINQ<tspan font-weight="bold" fill="#ea1d25">8</tspan>LAFIRK<tspan font-weight="bold" fill="#ea1d25">X</tspan>DELLHNV(K*)</text><text x="16.15" y="764.22" font-size="17.6" letter-spacing="1.19" font-family="'Liberation Mono','Courier New',monospace" fill="#404042" xml:space="preserve">FDASISQVNEKINQS<tspan font-weight="bold" fill="#ea1d25">8</tspan>AFIRKS<tspan font-weight="bold" fill="#ea1d25">X</tspan>ELLHNV(K*)</text><text x="16.15" y="787.69" font-size="17.6" letter-spacing="1.19" font-family="'Liberation Mono','Courier New',monospace" fill="#404042" xml:space="preserve">FDASISQVNEKINQSL<tspan font-weight="bold" fill="#ea1d25">8</tspan>FIRKSD<tspan font-weight="bold" fill="#ea1d25">X</tspan>LLHNV(K*)</text><text x="16.15" y="811.16" font-size="17.6" letter-spacing="1.19" font-family="'Liberation Mono','Courier New',monospace" fill="#404042" xml:space="preserve">FDASISQVNEKINQSLA<tspan font-weight="bold" fill="#ea1d25">8</tspan>IRKSDE<tspan font-weight="bold" fill="#ea1d25">X</tspan>LHNV(K*)</text><text x="16.15" y="834.63" font-size="17.6" letter-spacing="1.19" font-family="'Liberation Mono','Courier New',monospace" fill="#404042" xml:space="preserve">FDASISQVNEKINQSLAF<tspan font-weight="bold" fill="#ea1d25">8</tspan>RKSDEL<tspan font-weight="bold" fill="#ea1d25">X</tspan>HNV(K*)</text><text x="16.15" y="858.1" font-size="17.6" letter-spacing="1.19" font-family="'Liberation Mono','Courier New',monospace" fill="#404042" xml:space="preserve">FDASISQVNEKINQSLAFI<tspan font-weight="bold" fill="#ea1d25">8</tspan>KSDELL<tspan font-weight="bold" fill="#ea1d25">X</tspan>NV(K*)</text><text x="16.15" y="881.57" font-size="17.6" letter-spacing="1.19" font-family="'Liberation Mono','Courier New',monospace" fill="#404042" xml:space="preserve">FDASISQVNEKINQSLAFIR<tspan font-weight="bold" fill="#ea1d25">8</tspan>SDELLH<tspan font-weight="bold" fill="#ea1d25">X</tspan>V(K*)</text><text x="16.15" y="905.04" font-size="17.6" letter-spacing="1.19" font-family="'Liberation Mono','Courier New',monospace" fill="#404042" xml:space="preserve">FDASISQVNEKINQSLAFIRK<tspan font-weight="bold" fill="#ea1d25">8</tspan>DELLHN<tspan font-weight="bold" fill="#ea1d25">X</tspan>(K*)</text><text x="1.4" y="361.8" font-size="17.6" letter-spacing="1.19" font-family="'Liberation Mono','Courier New',monospace" fill="#404042">488</text><text x="360.8" y="361.8" font-size="17.6" letter-spacing="1.19" font-family="'Liberation Mono','Courier New',monospace" fill="#404042">516</text><path d="M16 368H356" stroke="#ea1d25" stroke-width="3.6"/><circle cx="423.18" cy="379.2" r="4.9" fill="#ec2a24"/><circle cx="425.33" cy="385.2" r="4.9" fill="#ec2a24"/><circle cx="427.48" cy="381.4" r="4.9" fill="#ec2a24"/><circle cx="428.77" cy="385.9" r="4.9" fill="#ec2a24"/><circle cx="430.35" cy="378.8" r="4.9" fill="#ec2a24"/><circle cx="431.64" cy="383.6" r="4.9" fill="#ec2a24"/><circle cx="433.22" cy="380.2" r="4.9" fill="#ec2a24"/><circle cx="435.37" cy="385.6" r="4.9" fill="#ec2a24"/><circle cx="437.52" cy="382" r="4.9" fill="#ec2a24"/><circle cx="439.67" cy="384.4" r="4.9" fill="#ec2a24"/><circle cx="414.73" cy="402.67" r="4.9" fill="#ec2a24"/><circle cx="420.6" cy="408.67" r="4.9" fill="#ec2a24"/><circle cx="422.47" cy="404.87" r="4.9" fill="#ec2a24"/><circle cx="429.35" cy="409.37" r="4.9" fill="#ec2a24"/><circle cx="431.64" cy="402.27" r="4.9" fill="#ec2a24"/><circle cx="433.93" cy="407.07" r="4.9" fill="#ec2a24"/><circle cx="437.52" cy="403.67" r="4.9" fill="#ec2a24"/><circle cx="441.24" cy="409.07" r="4.9" fill="#ec2a24"/><circle cx="456.58" cy="426.14" r="4.9" fill="#000"/><circle cx="476.5" cy="432.14" r="4.9" fill="#000"/><circle cx="478.37" cy="428.34" r="4.9" fill="#000"/><circle cx="480.09" cy="432.84" r="4.9" fill="#000"/><circle cx="482.38" cy="425.74" r="4.9" fill="#000"/><circle cx="485.53" cy="430.54" r="4.9" fill="#000"/><circle cx="489.83" cy="427.14" r="4.9" fill="#000"/><circle cx="491.27" cy="432.54" r="4.9" fill="#000"/><circle cx="492.56" cy="428.94" r="4.9" fill="#000"/><circle cx="495.57" cy="431.34" r="4.9" fill="#000"/><circle cx="499.29" cy="426.54" r="4.9" fill="#000"/><circle cx="416.88" cy="449.61" r="4.9" fill="#ec2a24"/><circle cx="418.45" cy="455.61" r="4.9" fill="#ec2a24"/><circle cx="419.89" cy="451.81" r="4.9" fill="#ec2a24"/><circle cx="421.75" cy="456.31" r="4.9" fill="#ec2a24"/><circle cx="423.47" cy="449.21" r="4.9" fill="#ec2a24"/><circle cx="425.33" cy="454.01" r="4.9" fill="#ec2a24"/><circle cx="426.48" cy="450.61" r="4.9" fill="#ec2a24"/><circle cx="436.8" cy="456.01" r="4.9" fill="#ec2a24"/><circle cx="491.84" cy="473.08" r="4.9" fill="#000"/><circle cx="524.95" cy="479.08" r="4.9" fill="#000"/><circle cx="526.38" cy="475.28" r="4.9" fill="#000"/><circle cx="527.96" cy="479.78" r="4.9" fill="#000"/><circle cx="529.25" cy="472.68" r="4.9" fill="#000"/><circle cx="530.68" cy="477.48" r="4.9" fill="#000"/><circle cx="532.4" cy="474.08" r="4.9" fill="#000"/><circle cx="533.84" cy="479.48" r="4.9" fill="#000"/><circle cx="460.31" cy="496.55" r="4.9" fill="#000"/><circle cx="462.6" cy="502.55" r="4.9" fill="#000"/><circle cx="464.75" cy="498.75" r="4.9" fill="#000"/><circle cx="468.33" cy="503.25" r="4.9" fill="#000"/><circle cx="472.06" cy="496.15" r="4.9" fill="#000"/><circle cx="474.07" cy="500.95" r="4.9" fill="#000"/><circle cx="476.5" cy="497.55" r="4.9" fill="#000"/><circle cx="479.37" cy="502.95" r="4.9" fill="#000"/><circle cx="461.74" cy="520.02" r="4.9" fill="#000"/><circle cx="471.34" cy="526.02" r="4.9" fill="#000"/><circle cx="474.07" cy="522.22" r="4.9" fill="#000"/><circle cx="477.22" cy="526.72" r="4.9" fill="#000"/><circle cx="479.8" cy="519.62" r="4.9" fill="#000"/><circle cx="482.38" cy="524.42" r="4.9" fill="#000"/><circle cx="485.25" cy="521.02" r="4.9" fill="#000"/><circle cx="497.86" cy="526.42" r="4.9" fill="#000"/><circle cx="502.88" cy="522.82" r="4.9" fill="#000"/><circle cx="441.96" cy="543.49" r="4.9" fill="#000"/><circle cx="448.27" cy="549.49" r="4.9" fill="#000"/><circle cx="449.99" cy="545.69" r="4.9" fill="#000"/><circle cx="452.57" cy="550.19" r="4.9" fill="#000"/><circle cx="455.86" cy="543.09" r="4.9" fill="#000"/><circle cx="456.87" cy="547.89" r="4.9" fill="#000"/><circle cx="458.87" cy="544.49" r="4.9" fill="#000"/><circle cx="461.74" cy="549.89" r="4.9" fill="#000"/><circle cx="520.65" cy="566.96" r="4.9" fill="#000"/><circle cx="523.52" cy="572.96" r="4.9" fill="#000"/><circle cx="527.1" cy="569.16" r="4.9" fill="#000"/><circle cx="530.97" cy="573.66" r="4.9" fill="#000"/><circle cx="534.27" cy="566.56" r="4.9" fill="#000"/><circle cx="539" cy="571.36" r="4.9" fill="#000"/><circle cx="547.17" cy="567.96" r="4.9" fill="#000"/><circle cx="550.03" cy="573.36" r="4.9" fill="#000"/><circle cx="552.9" cy="569.76" r="4.9" fill="#000"/><circle cx="472.06" cy="590.43" r="4.9" fill="#000"/><circle cx="479.8" cy="596.43" r="4.9" fill="#000"/><circle cx="482.38" cy="592.63" r="4.9" fill="#000"/><circle cx="485.53" cy="597.13" r="4.9" fill="#000"/><circle cx="488.26" cy="590.03" r="4.9" fill="#000"/><circle cx="489.83" cy="594.83" r="4.9" fill="#000"/><circle cx="496.28" cy="591.43" r="4.9" fill="#000"/><circle cx="508.75" cy="596.83" r="4.9" fill="#000"/><circle cx="429.35" cy="613.9" r="4.9" fill="#ec2a24"/><circle cx="431.07" cy="619.9" r="4.9" fill="#ec2a24"/><circle cx="433.07" cy="616.1" r="4.9" fill="#ec2a24"/><circle cx="435.37" cy="620.6" r="4.9" fill="#ec2a24"/><circle cx="437.52" cy="613.5" r="4.9" fill="#ec2a24"/><circle cx="439.67" cy="618.3" r="4.9" fill="#ec2a24"/><circle cx="444.11" cy="614.9" r="4.9" fill="#ec2a24"/><circle cx="465.47" cy="617.1" r="4.9" fill="#000"/><circle cx="456.44" cy="637.37" r="4.9" fill="#000"/><circle cx="462.6" cy="643.37" r="4.9" fill="#000"/><circle cx="466.76" cy="639.57" r="4.9" fill="#000"/><circle cx="471.77" cy="644.07" r="4.9" fill="#000"/><circle cx="475.5" cy="636.97" r="4.9" fill="#000"/><circle cx="478.65" cy="641.77" r="4.9" fill="#000"/><circle cx="491.84" cy="638.37" r="4.9" fill="#000"/><circle cx="512.05" cy="643.77" r="4.9" fill="#000"/><circle cx="495.28" cy="660.84" r="4.9" fill="#000"/><circle cx="497" cy="666.84" r="4.9" fill="#000"/><circle cx="502.02" cy="663.04" r="4.9" fill="#000"/><circle cx="508.47" cy="667.54" r="4.9" fill="#000"/><circle cx="513.77" cy="660.44" r="4.9" fill="#000"/><circle cx="515.63" cy="665.24" r="4.9" fill="#000"/><circle cx="518.93" cy="661.84" r="4.9" fill="#000"/><circle cx="530.68" cy="667.24" r="4.9" fill="#000"/><circle cx="444.68" cy="684.31" r="4.9" fill="#000"/><circle cx="448.27" cy="690.31" r="4.9" fill="#000"/><circle cx="451.42" cy="686.51" r="4.9" fill="#000"/><circle cx="454" cy="691.01" r="4.9" fill="#000"/><circle cx="458.3" cy="683.91" r="4.9" fill="#000"/><circle cx="490.26" cy="688.71" r="4.9" fill="#000"/><circle cx="498.72" cy="685.31" r="4.9" fill="#000"/><path d="M466.18 679.51V695.51" stroke="#000" stroke-width="1.4" fill="none"/><circle cx="505.46" cy="707.78" r="4.9" fill="#000"/><circle cx="513.77" cy="713.78" r="4.9" fill="#000"/><circle cx="522.8" cy="709.98" r="4.9" fill="#000"/><circle cx="527.24" cy="714.48" r="4.9" fill="#000"/><circle cx="529.97" cy="707.38" r="4.9" fill="#000"/><circle cx="535.7" cy="712.18" r="4.9" fill="#000"/><circle cx="557.63" cy="708.78" r="4.9" fill="#000"/><circle cx="532.26" cy="731.25" r="4.9" fill="#000"/><circle cx="534.27" cy="737.25" r="4.9" fill="#000"/><circle cx="537.42" cy="733.45" r="4.9" fill="#000"/><circle cx="542.87" cy="737.95" r="4.9" fill="#000"/><circle cx="547.45" cy="730.85" r="4.9" fill="#000"/><circle cx="551.47" cy="735.65" r="4.9" fill="#000"/><circle cx="555.91" cy="732.25" r="4.9" fill="#000"/><circle cx="560.93" cy="737.65" r="4.9" fill="#000"/><circle cx="527.24" cy="754.72" r="4.9" fill="#000"/><circle cx="539.14" cy="760.72" r="4.9" fill="#000"/><circle cx="541.43" cy="756.92" r="4.9" fill="#000"/><circle cx="544.3" cy="761.42" r="4.9" fill="#000"/><circle cx="549.17" cy="754.32" r="4.9" fill="#000"/><circle cx="554.33" cy="759.12" r="4.9" fill="#000"/><circle cx="560.93" cy="755.72" r="4.9" fill="#000"/><circle cx="564.37" cy="761.12" r="4.9" fill="#000"/><circle cx="412.72" cy="778.19" r="4.9" fill="#ec2a24"/><circle cx="415.3" cy="784.19" r="4.9" fill="#ec2a24"/><circle cx="417.74" cy="780.39" r="4.9" fill="#ec2a24"/><circle cx="420.32" cy="784.89" r="4.9" fill="#ec2a24"/><circle cx="422.47" cy="777.79" r="4.9" fill="#ec2a24"/><circle cx="424.47" cy="782.59" r="4.9" fill="#ec2a24"/><circle cx="426.77" cy="779.19" r="4.9" fill="#ec2a24"/><circle cx="428.92" cy="784.59" r="4.9" fill="#ec2a24"/><circle cx="431.35" cy="780.99" r="4.9" fill="#ec2a24"/><circle cx="436.37" cy="783.39" r="4.9" fill="#ec2a24"/><circle cx="432.93" cy="801.66" r="4.9" fill="#000"/><circle cx="434.65" cy="807.66" r="4.9" fill="#000"/><circle cx="444.68" cy="803.86" r="4.9" fill="#000"/><circle cx="446.83" cy="808.36" r="4.9" fill="#000"/><circle cx="451.42" cy="801.26" r="4.9" fill="#000"/><circle cx="454" cy="806.06" r="4.9" fill="#000"/><circle cx="458.3" cy="802.66" r="4.9" fill="#000"/><circle cx="466.61" cy="808.06" r="4.9" fill="#000"/><circle cx="471.77" cy="804.46" r="4.9" fill="#000"/><circle cx="535.7" cy="825.13" r="4.9" fill="#000"/><circle cx="544.3" cy="831.13" r="4.9" fill="#000"/><circle cx="547.45" cy="827.33" r="4.9" fill="#000"/><circle cx="550.03" cy="831.83" r="4.9" fill="#000"/><circle cx="552.61" cy="824.73" r="4.9" fill="#000"/><circle cx="555.05" cy="829.53" r="4.9" fill="#000"/><circle cx="567.66" cy="826.13" r="4.9" fill="#000"/><circle cx="574.54" cy="831.53" r="4.9" fill="#000"/><circle cx="422.75" cy="848.6" r="4.9" fill="#ec2a24"/><circle cx="424.62" cy="854.6" r="4.9" fill="#ec2a24"/><circle cx="427.91" cy="850.8" r="4.9" fill="#ec2a24"/><circle cx="429.63" cy="855.3" r="4.9" fill="#ec2a24"/><circle cx="432.93" cy="848.2" r="4.9" fill="#ec2a24"/><circle cx="435.37" cy="853" r="4.9" fill="#ec2a24"/><circle cx="437.95" cy="849.6" r="4.9" fill="#ec2a24"/><circle cx="456.44" cy="855" r="4.9" fill="#ec2a24"/><circle cx="503.31" cy="872.07" r="4.9" fill="#000"/><circle cx="532.26" cy="878.07" r="4.9" fill="#000"/><circle cx="542.87" cy="874.27" r="4.9" fill="#000"/><circle cx="545.73" cy="878.77" r="4.9" fill="#000"/><circle cx="548.6" cy="871.67" r="4.9" fill="#000"/><circle cx="552.61" cy="876.47" r="4.9" fill="#000"/><circle cx="555.91" cy="873.07" r="4.9" fill="#000"/><circle cx="567.66" cy="878.47" r="4.9" fill="#000"/><circle cx="576.26" cy="874.87" r="4.9" fill="#000"/><circle cx="515.49" cy="895.54" r="4.9" fill="#000"/><circle cx="517.78" cy="901.54" r="4.9" fill="#000"/><circle cx="520.65" cy="897.74" r="4.9" fill="#000"/><circle cx="522.8" cy="902.24" r="4.9" fill="#000"/><circle cx="528.96" cy="895.14" r="4.9" fill="#000"/><circle cx="557.63" cy="899.94" r="4.9" fill="#000"/><circle cx="569.38" cy="896.54" r="4.9" fill="#000"/><path d="M539.14 890.74V906.74M533.55 898.74H545.02M533.55 894.74V902.74M545.02 894.74V902.74" stroke="#000" stroke-width="1.4" fill="none"/><rect x="1097.7" y="363" width="35.83" height="550.9" fill="#dcdddf"/><path d="M1097.7 363V913.9" stroke="#111" stroke-width="1.4" fill="none"/><path d="M1090.1 400.5H1097.7M1090.1 453.58H1097.7M1090.1 506.66H1097.7M1090.1 559.74H1097.7M1090.1 612.82H1097.7M1090.1 665.9H1097.7M1090.1 718.98H1097.7M1090.1 772.06H1097.7M1090.1 825.14H1097.7M1090.1 878.22H1097.7" stroke="#111" stroke-width="1.4" fill="none"/><path d="M1096.9 913.9H1313.5M1097.7 913.9V921.1M1169.37 913.9V921.1M1241.03 913.9V921.1M1312.7 913.9V921.1" stroke="#231f20" stroke-width="1.6" fill="none"/><text x="1091.81" y="947.5" font-size="21.2">0</text><text x="1159.57" y="947.5" font-size="21.2">50</text><text x="1226.86" y="947.5" font-size="21.2">100</text><text x="1298.63" y="947.5" font-size="21.2">150</text><text x="1093.51" y="982.4" font-size="25.3" textLength="221.46" lengthAdjust="spacingAndGlyphs">Normalized percent</text><text x="1130.63" y="1012.7" font-size="25.3" textLength="148.34" lengthAdjust="spacingAndGlyphs">infected cells</text><text x="1153.39" y="347.9" font-size="25.8" textLength="103.82" lengthAdjust="spacingAndGlyphs">LV: Ebola</text><text x="666.15" y="405.7" font-size="17.6" letter-spacing="1.19" font-family="'Liberation Mono','Courier New',monospace" fill="#404042" xml:space="preserve">TCHILGPDCAIEPHDWTKNITDKIDQIIHDFV(K*)</text><text x="666.15" y="458.78" font-size="17.6" letter-spacing="1.19" font-family="'Liberation Mono','Courier New',monospace" fill="#404042" xml:space="preserve">TCHILGPDCAIEPHDW<tspan font-weight="bold" fill="#ea1d25">8</tspan>KNITDK<tspan font-weight="bold" fill="#ea1d25">X</tspan>DQIIHDFV(K*)</text><text x="666.15" y="511.86" font-size="17.6" letter-spacing="1.19" font-family="'Liberation Mono','Courier New',monospace" fill="#404042" xml:space="preserve">TCHILGPDCAIEPHDWT<tspan font-weight="bold" fill="#ea1d25">8</tspan>NITDKI<tspan font-weight="bold" fill="#ea1d25">X</tspan>QIIHDFV(K*)</text><text x="666.15" y="564.94" font-size="17.6" letter-spacing="1.19" font-family="'Liberation Mono','Courier New',monospace" fill="#404042" xml:space="preserve">TCHILGPDCAIEPHDWTK<tspan font-weight="bold" fill="#ea1d25">8</tspan>ITDKID<tspan font-weight="bold" fill="#ea1d25">X</tspan>IIHDFV(K*)</text><text x="666.15" y="618.02" font-size="17.6" letter-spacing="1.19" font-family="'Liberation Mono','Courier New',monospace" fill="#404042" xml:space="preserve">TCHILGPDCAIEPHDWTKN<tspan font-weight="bold" fill="#ea1d25">8</tspan>TDKIDQ<tspan font-weight="bold" fill="#ea1d25">X</tspan>IHDFV(K*)</text><text x="666.15" y="671.1" font-size="17.6" letter-spacing="1.19" font-family="'Liberation Mono','Courier New',monospace" fill="#404042" xml:space="preserve">TCHILGPDCAIEPHDWTKNI<tspan font-weight="bold" fill="#ea1d25">8</tspan>DKIDQI<tspan font-weight="bold" fill="#ea1d25">X</tspan>HDFV(K*)</text><text x="666.15" y="724.18" font-size="17.6" letter-spacing="1.19" font-family="'Liberation Mono','Courier New',monospace" fill="#404042" xml:space="preserve">TCHILGPDCAIEPHDWTKNIT<tspan font-weight="bold" fill="#ea1d25">8</tspan>KIDQII<tspan font-weight="bold" fill="#ea1d25">X</tspan>DFV(K*)</text><text x="666.15" y="777.26" font-size="17.6" letter-spacing="1.19" font-family="'Liberation Mono','Courier New',monospace" fill="#404042" xml:space="preserve">TCHILGPDCAIEPHDWTKNITD<tspan font-weight="bold" fill="#ea1d25">8</tspan>IDQIIH<tspan font-weight="bold" fill="#ea1d25">X</tspan>FV(K*)</text><text x="666.15" y="830.34" font-size="17.6" letter-spacing="1.19" font-family="'Liberation Mono','Courier New',monospace" fill="#404042" xml:space="preserve">TCHILGPDCAIEPHDWTKNITDK<tspan font-weight="bold" fill="#ea1d25">8</tspan>DQIIHD<tspan font-weight="bold" fill="#ea1d25">X</tspan>V(K*)</text><text x="666.15" y="883.42" font-size="17.6" letter-spacing="1.19" font-family="'Liberation Mono','Courier New',monospace" fill="#404042" xml:space="preserve">TCHILGPDCAIEPHDWTKNITDKI<tspan font-weight="bold" fill="#ea1d25">8</tspan>QIIHDF<tspan font-weight="bold" fill="#ea1d25">X</tspan>(K*)</text><text x="649.6" y="361.8" font-size="17.6" letter-spacing="1.19" font-family="'Liberation Mono','Courier New',monospace" fill="#404042">600</text><text x="1046.9" y="361.8" font-size="17.6" letter-spacing="1.19" font-family="'Liberation Mono','Courier New',monospace" fill="#404042">631</text><path d="M854.4 367.5H1041.6" stroke="#ea1d25" stroke-width="3.6"/><circle cx="1240.89" cy="386.9" r="5" fill="#000"/><circle cx="1240.89" cy="400.5" r="5" fill="#000"/><circle cx="1240.89" cy="413.3" r="5" fill="#000"/><circle cx="1208.35" cy="439.98" r="5" fill="#000"/><circle cx="1225.55" cy="453.58" r="5" fill="#000"/><circle cx="1204.77" cy="466.08" r="5" fill="#000"/><path d="M1212.94 439.58V467.58M1205.92 453.58H1220.97M1205.92 449.58V457.58M1220.97 449.58V457.58" stroke="#000" stroke-width="1.4" fill="none"/><circle cx="1127.94" cy="493.76" r="5" fill="#ec2a24"/><circle cx="1139.7" cy="506.66" r="5" fill="#ec2a24"/><circle cx="1121.35" cy="519.16" r="5" fill="#ec2a24"/><path d="M1129.66 492.66V520.66M1123.5 506.66H1136.4M1123.5 502.66V510.66M1136.4 502.66V510.66" stroke="#ec2a24" stroke-width="1.4" fill="none"/><circle cx="1175.53" cy="545.44" r="5" fill="#000"/><circle cx="1165.78" cy="559.74" r="5" fill="#000"/><circle cx="1190.44" cy="569.74" r="5" fill="#000"/><path d="M1177.25 545.74V573.74M1169.37 559.74H1185.13M1169.37 555.74V563.74M1185.13 555.74V563.74" stroke="#000" stroke-width="1.4" fill="none"/><circle cx="1193.88" cy="599.62" r="5" fill="#000"/><circle cx="1195.6" cy="612.82" r="5" fill="#000"/><circle cx="1190.29" cy="626.02" r="5" fill="#000"/><circle cx="1175.53" cy="652.8" r="5" fill="#000"/><circle cx="1161.05" cy="665.9" r="5" fill="#000"/><circle cx="1183.99" cy="678.9" r="5" fill="#000"/><path d="M1173.52 651.9V679.9M1167.93 665.9H1179.4M1167.93 661.9V669.9M1179.4 661.9V669.9" stroke="#000" stroke-width="1.4" fill="none"/><circle cx="1160.91" cy="706.08" r="5" fill="#000"/><circle cx="1166.79" cy="718.98" r="5" fill="#000"/><circle cx="1157.04" cy="731.78" r="5" fill="#000"/><path d="M1160.19 704.98V732.98M1157.9 718.98H1163.63M1157.9 714.98V722.98M1163.63 714.98V722.98" stroke="#000" stroke-width="1.4" fill="none"/><circle cx="1240.89" cy="758.66" r="5" fill="#000"/><circle cx="1240.89" cy="772.06" r="5" fill="#000"/><circle cx="1240.89" cy="785.26" r="5" fill="#000"/><circle cx="1240.89" cy="812.24" r="5" fill="#000"/><circle cx="1240.89" cy="825.14" r="5" fill="#000"/><circle cx="1240.89" cy="837.94" r="5" fill="#000"/><circle cx="1183.13" cy="865.72" r="5" fill="#000"/><circle cx="1173.09" cy="878.22" r="5" fill="#000"/><circle cx="1183.56" cy="891.42" r="5" fill="#000"/><path d="M1179.97 864.22V892.22M1176.53 878.22H1183.7M1176.53 874.22V882.22M1183.7 874.22V882.22" stroke="#000" stroke-width="1.4" fill="none"/><rect x="1763.3" y="363.4" width="35.83" height="550.9" fill="#dcdddf"/><path d="M1763.3 363.4V914.3" stroke="#3a3a3c" stroke-width="1.4" fill="none"/><path d="M1755.7 382.3H1763.3M1755.7 429.22H1763.3M1755.7 476.14H1763.3M1755.7 523.06H1763.3M1755.7 569.98H1763.3M1755.7 616.9H1763.3M1755.7 663.82H1763.3M1755.7 710.74H1763.3M1755.7 757.66H1763.3M1755.7 804.58H1763.3M1755.7 851.5H1763.3M1755.7 898.42H1763.3" stroke="#111" stroke-width="1.4" fill="none"/><path d="M1755.7 405.76H1763.3M1755.7 452.68H1763.3M1755.7 499.6H1763.3M1755.7 546.52H1763.3M1755.7 593.44H1763.3M1755.7 640.36H1763.3M1755.7 687.28H1763.3M1755.7 734.2H1763.3M1755.7 781.12H1763.3M1755.7 828.04H1763.3M1755.7 874.96H1763.3" stroke="#6d6e71" stroke-width="1.4" fill="none"/><path d="M1762.5 914.3H1979.1M1763.3 914.3V921.5M1834.97 914.3V921.5M1906.63 914.3V921.5M1978.3 914.3V921.5" stroke="#231f20" stroke-width="1.6" fill="none"/><text x="1757.41" y="947.5" font-size="21.2">0</text><text x="1825.17" y="947.5" font-size="21.2">50</text><text x="1892.46" y="947.5" font-size="21.2">100</text><text x="1964.23" y="947.5" font-size="21.2">150</text><text x="1759.11" y="982.4" font-size="25.3" textLength="221.46" lengthAdjust="spacingAndGlyphs">Normalized percent</text><text x="1796.23" y="1012.7" font-size="25.3" textLength="148.34" lengthAdjust="spacingAndGlyphs">infected cells</text><text x="1826.87" y="347.9" font-size="25.8" textLength="110.55" lengthAdjust="spacingAndGlyphs">PV: Nipah</text><text x="1354.05" y="387.6" font-size="17.6" letter-spacing="1.19" font-family="'Liberation Mono','Courier New',monospace" fill="#404042" xml:space="preserve">DISSQISSBNQSLQQSKDYIKEAQKILDTV(K*)</text><text x="1354.05" y="411.06" font-size="17.6" letter-spacing="1.19" font-family="'Liberation Mono','Courier New',monospace" fill="#404042" xml:space="preserve"><tspan font-weight="bold" fill="#ea1d25">8</tspan>ISSQIS<tspan font-weight="bold" fill="#ea1d25">X</tspan>BNQSLQQSKDYIKEAQKILDTV(K*)</text><text x="1354.05" y="434.52" font-size="17.6" letter-spacing="1.19" font-family="'Liberation Mono','Courier New',monospace" fill="#404042" xml:space="preserve">D<tspan font-weight="bold" fill="#ea1d25">8</tspan>SSQISS<tspan font-weight="bold" fill="#ea1d25">X</tspan>NQSLQQSKDYIKEAQKILDTV(K*)</text><text x="1354.05" y="457.98" font-size="17.6" letter-spacing="1.19" font-family="'Liberation Mono','Courier New',monospace" fill="#404042" xml:space="preserve">DI<tspan font-weight="bold" fill="#ea1d25">8</tspan>SQISSB<tspan font-weight="bold" fill="#ea1d25">X</tspan>QSLQQSKDYIKEAQKILDTV(K*)</text><text x="1354.05" y="481.44" font-size="17.6" letter-spacing="1.19" font-family="'Liberation Mono','Courier New',monospace" fill="#404042" xml:space="preserve">DIS<tspan font-weight="bold" fill="#ea1d25">8</tspan>QISSBN<tspan font-weight="bold" fill="#ea1d25">X</tspan>SLQQSKDYIKEAQKILDTV(K*)</text><text x="1354.05" y="504.9" font-size="17.6" letter-spacing="1.19" font-family="'Liberation Mono','Courier New',monospace" fill="#404042" xml:space="preserve">DISSQ<tspan font-weight="bold" fill="#ea1d25">8</tspan>SSBNQS<tspan font-weight="bold" fill="#ea1d25">X</tspan>QQSKDYIKEAQKILDTV(K*)</text><text x="1354.05" y="528.36" font-size="17.6" letter-spacing="1.19" font-family="'Liberation Mono','Courier New',monospace" fill="#404042" xml:space="preserve">DISSQI<tspan font-weight="bold" fill="#ea1d25">8</tspan>SBNQSL<tspan font-weight="bold" fill="#ea1d25">X</tspan>QSKDYIKEAQKILDTV(K*)</text><text x="1354.05" y="551.82" font-size="17.6" letter-spacing="1.19" font-family="'Liberation Mono','Courier New',monospace" fill="#404042" xml:space="preserve">DISSQIS<tspan font-weight="bold" fill="#ea1d25">8</tspan>BNQSLQ<tspan font-weight="bold" fill="#ea1d25">X</tspan>SKDYIKEAQKILDTV(K*)</text><text x="1354.05" y="575.28" font-size="17.6" letter-spacing="1.19" font-family="'Liberation Mono','Courier New',monospace" fill="#404042" xml:space="preserve">DISSQISS<tspan font-weight="bold" fill="#ea1d25">8</tspan>NQSLQQ<tspan font-weight="bold" fill="#ea1d25">X</tspan>KDYIKEAQKILDTV(K*)</text><text x="1354.05" y="598.74" font-size="17.6" letter-spacing="1.19" font-family="'Liberation Mono','Courier New',monospace" fill="#404042" xml:space="preserve">DISSQISSB<tspan font-weight="bold" fill="#ea1d25">8</tspan>QSLQQS<tspan font-weight="bold" fill="#ea1d25">X</tspan>DYIKEAQKILDTV(K*)</text><text x="1354.05" y="622.2" font-size="17.6" letter-spacing="1.19" font-family="'Liberation Mono','Courier New',monospace" fill="#404042" xml:space="preserve">DISSQISSBN<tspan font-weight="bold" fill="#ea1d25">8</tspan>SLQQSK<tspan font-weight="bold" fill="#ea1d25">X</tspan>YIKEAQKILDTV(K*)</text><text x="1354.05" y="645.66" font-size="17.6" letter-spacing="1.19" font-family="'Liberation Mono','Courier New',monospace" fill="#404042" xml:space="preserve">DISSQISSBNQ<tspan font-weight="bold" fill="#ea1d25">8</tspan>LQQSKD<tspan font-weight="bold" fill="#ea1d25">X</tspan>IKEAQKILDTV(K*)</text><text x="1354.05" y="669.12" font-size="17.6" letter-spacing="1.19" font-family="'Liberation Mono','Courier New',monospace" fill="#404042" xml:space="preserve">DISSQISSBNQS<tspan font-weight="bold" fill="#ea1d25">8</tspan>QQSKDY<tspan font-weight="bold" fill="#ea1d25">X</tspan>KEAQKILDTV(K*)</text><text x="1354.05" y="692.58" font-size="17.6" letter-spacing="1.19" font-family="'Liberation Mono','Courier New',monospace" fill="#404042" xml:space="preserve">DISSQISSBNQSL<tspan font-weight="bold" fill="#ea1d25">8</tspan>QSKDYI<tspan font-weight="bold" fill="#ea1d25">X</tspan>EAQKILDTV(K*)</text><text x="1354.05" y="716.04" font-size="17.6" letter-spacing="1.19" font-family="'Liberation Mono','Courier New',monospace" fill="#404042" xml:space="preserve">DISSQISSBNQSLQ<tspan font-weight="bold" fill="#ea1d25">8</tspan>SKDYIK<tspan font-weight="bold" fill="#ea1d25">X</tspan>AQKILDTV(K*)</text><text x="1354.05" y="739.5" font-size="17.6" letter-spacing="1.19" font-family="'Liberation Mono','Courier New',monospace" fill="#404042" xml:space="preserve">DISSQISSBNQSLQQ<tspan font-weight="bold" fill="#ea1d25">8</tspan>KDYIKE<tspan font-weight="bold" fill="#ea1d25">X</tspan>QKILDTV(K*)</text><text x="1354.05" y="762.96" font-size="17.6" letter-spacing="1.19" font-family="'Liberation Mono','Courier New',monospace" fill="#404042" xml:space="preserve">DISSQISSBNQSLQQS<tspan font-weight="bold" fill="#ea1d25">8</tspan>DYIKEA<tspan font-weight="bold" fill="#ea1d25">X</tspan>KILDTV(K*)</text><text x="1354.05" y="786.42" font-size="17.6" letter-spacing="1.19" font-family="'Liberation Mono','Courier New',monospace" fill="#404042" xml:space="preserve">DISSQISSBNQSLQQSK<tspan font-weight="bold" fill="#ea1d25">8</tspan>YIKEAQ<tspan font-weight="bold" fill="#ea1d25">X</tspan>ILDTV(K*)</text><text x="1354.05" y="809.88" font-size="17.6" letter-spacing="1.19" font-family="'Liberation Mono','Courier New',monospace" fill="#404042" xml:space="preserve">DISSQISSBNQSLQQSKD<tspan font-weight="bold" fill="#ea1d25">8</tspan>IKEAQK<tspan font-weight="bold" fill="#ea1d25">X</tspan>LDTV(K*)</text><text x="1354.05" y="833.34" font-size="17.6" letter-spacing="1.19" font-family="'Liberation Mono','Courier New',monospace" fill="#404042" xml:space="preserve">DISSQISSBNQSLQQSKDY<tspan font-weight="bold" fill="#ea1d25">8</tspan>KEAQKI<tspan font-weight="bold" fill="#ea1d25">X</tspan>DTV(K*)</text><text x="1354.05" y="856.8" font-size="17.6" letter-spacing="1.19" font-family="'Liberation Mono','Courier New',monospace" fill="#404042" xml:space="preserve">DISSQISSBNQSLQQSKDYI<tspan font-weight="bold" fill="#ea1d25">8</tspan>EAQKIL<tspan font-weight="bold" fill="#ea1d25">X</tspan>TV(K*)</text><text x="1354.05" y="880.26" font-size="17.6" letter-spacing="1.19" font-family="'Liberation Mono','Courier New',monospace" fill="#404042" xml:space="preserve">DISSQISSBNQSLQQSKDYIK<tspan font-weight="bold" fill="#ea1d25">8</tspan>AQKILD<tspan font-weight="bold" fill="#ea1d25">X</tspan>V(K*)</text><text x="1354.05" y="903.72" font-size="17.6" letter-spacing="1.19" font-family="'Liberation Mono','Courier New',monospace" fill="#404042" xml:space="preserve">DISSQISSBNQSLQQSKDYIKE<tspan font-weight="bold" fill="#ea1d25">8</tspan>QKILDT<tspan font-weight="bold" fill="#ea1d25">X</tspan>(K*)</text><text x="1337" y="361.8" font-size="17.6" letter-spacing="1.19" font-family="'Liberation Mono','Courier New',monospace" fill="#404042">455</text><text x="1711.6" y="361.8" font-size="17.6" letter-spacing="1.19" font-family="'Liberation Mono','Courier New',monospace" fill="#404042">484</text><path d="M1354 367.7H1707" stroke="#ea1d25" stroke-width="3.6"/><circle cx="1906.63" cy="379.8" r="4.9" fill="#000"/><circle cx="1906.63" cy="382.3" r="4.9" fill="#000"/><circle cx="1906.63" cy="384.8" r="4.9" fill="#000"/><circle cx="1906.63" cy="403.26" r="4.9" fill="#000"/><circle cx="1906.63" cy="405.76" r="4.9" fill="#000"/><circle cx="1906.63" cy="408.26" r="4.9" fill="#000"/><circle cx="1810.46" cy="429.22" r="4.9" fill="#000"/><circle cx="1878.11" cy="429.22" r="4.9" fill="#000"/><circle cx="1892.01" cy="429.22" r="4.9" fill="#000"/><circle cx="1935.3" cy="429.22" r="4.9" fill="#000"/><path d="M1878.97 422.22V436.22M1853.03 429.22H1905.2M1853.03 425.22V433.22M1905.2 425.22V433.22" stroke="#000" stroke-width="1.4" fill="none"/><circle cx="1774.77" cy="452.68" r="4.9" fill="#ec2a24"/><circle cx="1786.95" cy="452.68" r="4.9" fill="#ec2a24"/><circle cx="1788.38" cy="450.68" r="4.9" fill="#ec2a24"/><circle cx="1789.24" cy="454.68" r="4.9" fill="#ec2a24"/><circle cx="1818.05" cy="452.68" r="4.9" fill="#ec2a24"/><path d="M1789.1 446.68V458.68M1777.63 452.68H1801.86M1777.63 448.68V456.68M1801.86 448.68V456.68" stroke="#ec2a24" stroke-width="1.4" fill="none"/><circle cx="1787.95" cy="473.14" r="4.9" fill="#ec2a24"/><circle cx="1787.95" cy="479.14" r="4.9" fill="#ec2a24"/><circle cx="1802.43" cy="478.14" r="4.9" fill="#ec2a24"/><circle cx="1807.73" cy="473.14" r="4.9" fill="#ec2a24"/><path d="M1795.55 470.14V482.14M1789.1 476.14H1802M1789.1 472.14V480.14M1802 472.14V480.14" stroke="#ec2a24" stroke-width="1.4" fill="none"/><circle cx="1787.95" cy="499.6" r="4.9" fill="#000"/><circle cx="1813.61" cy="499.6" r="4.9" fill="#000"/><circle cx="1867.36" cy="499.6" r="4.9" fill="#000"/><circle cx="1895.45" cy="499.6" r="4.9" fill="#000"/><path d="M1841.27 491.6V507.6M1813.61 499.6H1867.36M1813.61 495.6V503.6M1867.36 495.6V503.6" stroke="#000" stroke-width="1.4" fill="none"/><circle cx="1773.05" cy="522.06" r="4.9" fill="#ec2a24"/><circle cx="1774.77" cy="525.06" r="4.9" fill="#ec2a24"/><circle cx="1776.92" cy="521.06" r="4.9" fill="#ec2a24"/><circle cx="1779.78" cy="523.06" r="4.9" fill="#ec2a24"/><circle cx="1767.03" cy="546.52" r="4.9" fill="#000"/><circle cx="1782.36" cy="543.52" r="4.9" fill="#000"/><circle cx="1791.39" cy="549.52" r="4.9" fill="#000"/><circle cx="1906.63" cy="546.52" r="4.9" fill="#000"/><path d="M1812.46 538.52V554.52M1781.93 546.52H1844.28M1781.93 542.52V550.52M1844.28 542.52V550.52" stroke="#000" stroke-width="1.4" fill="none"/><circle cx="1808.02" cy="569.98" r="4.9" fill="#000"/><circle cx="1819.06" cy="566.98" r="4.9" fill="#000"/><circle cx="1826.08" cy="572.98" r="4.9" fill="#000"/><circle cx="1867.07" cy="569.98" r="4.9" fill="#000"/><path d="M1830.09 562.98V576.98M1819.2 569.98H1838.55M1819.2 565.98V573.98M1838.55 565.98V573.98" stroke="#000" stroke-width="1.4" fill="none"/><circle cx="1767.6" cy="593.44" r="4.9" fill="#ec2a24"/><circle cx="1770.47" cy="591.44" r="4.9" fill="#ec2a24"/><circle cx="1773.33" cy="594.44" r="4.9" fill="#ec2a24"/><circle cx="1770.18" cy="613.9" r="4.9" fill="#ec2a24"/><circle cx="1770.18" cy="616.9" r="4.9" fill="#ec2a24"/><circle cx="1770.18" cy="619.9" r="4.9" fill="#ec2a24"/><circle cx="1807.73" cy="640.36" r="4.9" fill="#000"/><circle cx="1820.49" cy="640.36" r="4.9" fill="#000"/><circle cx="1839.55" cy="640.36" r="4.9" fill="#000"/><circle cx="1857.33" cy="640.36" r="4.9" fill="#000"/><path d="M1831.24 634.36V646.36M1820.63 640.36H1842.13M1820.63 636.36V644.36M1842.13 636.36V644.36" stroke="#000" stroke-width="1.4" fill="none"/><circle cx="1783.94" cy="666.82" r="4.9" fill="#ec2a24"/><circle cx="1788.67" cy="661.82" r="4.9" fill="#ec2a24"/><circle cx="1791.97" cy="665.82" r="4.9" fill="#ec2a24"/><circle cx="1796.12" cy="665.82" r="4.9" fill="#ec2a24"/><circle cx="1766.17" cy="687.28" r="4.9" fill="#ec2a24"/><circle cx="1769.46" cy="685.28" r="4.9" fill="#ec2a24"/><circle cx="1770.47" cy="689.28" r="4.9" fill="#ec2a24"/><circle cx="1763.59" cy="712.74" r="4.9" fill="#ec2a24"/><circle cx="1766.88" cy="708.74" r="4.9" fill="#ec2a24"/><circle cx="1771.18" cy="711.74" r="4.9" fill="#ec2a24"/><circle cx="1790.96" cy="737.2" r="4.9" fill="#ec2a24"/><circle cx="1793.4" cy="732.2" r="4.9" fill="#ec2a24"/><circle cx="1796.27" cy="735.2" r="4.9" fill="#ec2a24"/><circle cx="1799.13" cy="734.2" r="4.9" fill="#ec2a24"/><circle cx="1808.74" cy="732.2" r="4.9" fill="#ec2a24"/><circle cx="1778.21" cy="757.66" r="4.9" fill="#ec2a24"/><circle cx="1791.39" cy="755.66" r="4.9" fill="#ec2a24"/><circle cx="1793.83" cy="759.66" r="4.9" fill="#ec2a24"/><circle cx="1798.99" cy="760.66" r="4.9" fill="#ec2a24"/><circle cx="1767.74" cy="781.12" r="4.9" fill="#ec2a24"/><circle cx="1770.47" cy="783.12" r="4.9" fill="#ec2a24"/><circle cx="1774.77" cy="780.12" r="4.9" fill="#ec2a24"/><circle cx="1779.93" cy="779.12" r="4.9" fill="#ec2a24"/><circle cx="1764.02" cy="804.58" r="4.9" fill="#ec2a24"/><circle cx="1766.17" cy="802.58" r="4.9" fill="#ec2a24"/><circle cx="1768.32" cy="806.58" r="4.9" fill="#ec2a24"/><circle cx="1769.75" cy="804.58" r="4.9" fill="#ec2a24"/><circle cx="1774.77" cy="830.04" r="4.9" fill="#ec2a24"/><circle cx="1777.63" cy="826.04" r="4.9" fill="#ec2a24"/><circle cx="1781.22" cy="828.04" r="4.9" fill="#ec2a24"/><circle cx="1786.95" cy="830.04" r="4.9" fill="#ec2a24"/><circle cx="1765.02" cy="851.5" r="4.9" fill="#ec2a24"/><circle cx="1767.31" cy="849.5" r="4.9" fill="#ec2a24"/><circle cx="1837.83" cy="851.5" r="4.9" fill="#ec2a24"/><path d="M1784.37 845.5V857.5M1766.17 851.5H1802.43M1766.17 847.5V855.5M1802.43 847.5V855.5" stroke="#ec2a24" stroke-width="1.4" fill="none"/><circle cx="1763.59" cy="874.96" r="4.9" fill="#ec2a24"/><circle cx="1766.17" cy="872.96" r="4.9" fill="#ec2a24"/><circle cx="1769.03" cy="875.96" r="4.9" fill="#ec2a24"/><circle cx="1774.77" cy="876.96" r="4.9" fill="#ec2a24"/><circle cx="1800.71" cy="901.42" r="4.9" fill="#000"/><circle cx="1807.73" cy="896.42" r="4.9" fill="#000"/><circle cx="1812.18" cy="901.42" r="4.9" fill="#000"/><circle cx="1850.02" cy="898.42" r="4.9" fill="#000"/><path d="M1817.77 892.42V904.42M1812.03 898.42H1827.8M1812.03 894.42V902.42M1827.8 894.42V902.42" stroke="#000" stroke-width="1.4" fill="none"/><path d="M115.5 1104.2V1441.2M102.5 1441.2H115.5M102.5 1373.8H115.5M102.5 1306.4H115.5M102.5 1239H115.5M102.5 1171.6H115.5M102.5 1104.2H115.5" stroke="#58595b" stroke-width="1.6" fill="none"/><path d="M102.5 1441.2H614.5" stroke="#231f20" stroke-width="1.6" fill="none"/><path d="M115.5 1441.2V1453.8M190.61 1441.2V1447.7M234.54 1441.2V1447.7M265.71 1441.2V1447.7M289.89 1441.2V1447.7M309.65 1441.2V1447.7M326.35 1441.2V1447.7M340.82 1441.2V1447.7M353.58 1441.2V1447.7M365 1441.2V1453.8M440.11 1441.2V1447.7M484.04 1441.2V1447.7M515.21 1441.2V1447.7M539.39 1441.2V1447.7M559.15 1441.2V1447.7M575.85 1441.2V1447.7M590.32 1441.2V1447.7M603.08 1441.2V1447.7M614.5 1441.2V1453.8" stroke="#58595b" stroke-width="1.6" fill="none"/><text x="85.84" y="1448.4" font-size="21">0</text><text x="74.23" y="1381" font-size="21">25</text><text x="74.17" y="1313.6" font-size="21">50</text><text x="74.23" y="1246.2" font-size="21">75</text><text x="62.49" y="1178.8" font-size="21">100</text><text x="62.55" y="1111.4" font-size="21">125</text><text x="98.55" y="1481.2" font-size="20.6">10</text><text x="121.88" y="1474.3" font-size="13">-8</text><text x="348.1" y="1481.2" font-size="20.6">10</text><text x="371.43" y="1474.3" font-size="13">-7</text><text x="597.56" y="1481.2" font-size="20.6">10</text><text x="620.89" y="1474.3" font-size="13">-6</text><text x="297" y="1512.4" font-size="26">[Peptide], <tspan font-style="italic">M</tspan></text><text transform="translate(40.8 1272.7) rotate(-90)" text-anchor="middle" font-size="25.6" textLength="374" lengthAdjust="spacingAndGlyphs">Normalized percent infected cells</text><path d="M163.86 1167.38L167.61 1167.92L171.37 1168.51L175.12 1169.16L178.88 1169.88L182.63 1170.67L186.39 1171.53L190.15 1172.48L193.9 1173.53L197.66 1174.67L201.41 1175.92L205.17 1177.29L208.92 1178.79L212.68 1180.42L216.43 1182.2L220.19 1184.13L223.94 1186.24L227.7 1188.52L231.45 1191L235.21 1193.67L238.97 1196.56L242.72 1199.66L246.48 1203L250.23 1206.57L253.99 1210.38L257.74 1214.44L261.5 1218.75L265.25 1223.3L269.01 1228.11L272.76 1233.15L276.52 1238.43L280.27 1243.92L284.03 1249.62L287.78 1255.5L291.54 1261.55L295.3 1267.74L299.05 1274.04L302.81 1280.41L306.56 1286.84L310.32 1293.29L314.07 1299.72L317.83 1306.11L321.58 1312.42L325.34 1318.62L329.09 1324.69L332.85 1330.6L336.6 1336.32L340.36 1341.84L344.11 1347.15L347.87 1352.22L351.63 1357.06L355.38 1361.65L359.14 1365.99L362.89 1370.08L366.65 1373.93L370.4 1377.53L374.16 1380.9L377.91 1384.03L381.67 1386.95L385.42 1389.65L389.18 1392.15L392.93 1394.46L396.69 1396.58L400.45 1398.54L404.2 1400.34L407.96 1401.99L411.71 1403.51L415.47 1404.89L419.22 1406.16L422.98 1407.31L426.73 1408.37L430.49 1409.33L434.24 1410.21L438 1411.01L441.75 1411.74L445.51 1412.4L449.26 1413L453.02 1413.54L456.78 1414.04L460.53 1414.49L464.29 1414.9L468.04 1415.27L471.8 1415.6L475.55 1415.91L479.31 1416.18L483.06 1416.43L486.82 1416.66L490.57 1416.86L494.33 1417.05L498.08 1417.22L501.84 1417.37L505.59 1417.51L509.35 1417.63L513.11 1417.75L516.86 1417.85L520.62 1417.94L524.37 1418.03L528.13 1418.1L531.88 1418.17L535.64 1418.23L539.39 1418.29L543.15 1418.34L546.9 1418.39L550.66 1418.43L554.41 1418.47L558.17 1418.5L561.93 1418.53L565.68 1418.56L569.44 1418.58L573.19 1418.61L576.95 1418.63L580.7 1418.65L584.46 1418.66L588.21 1418.68L591.97 1418.69L595.72 1418.7L599.48 1418.72L603.23 1418.73L606.99 1418.74L610.74 1418.74L614.5 1418.75" stroke="#58595b" stroke-width="2" fill="none"/><path d="M163.86 1157.04V1208M157.46 1157.04H170.26M157.46 1208H170.26M314.07 1308.02V1341.72M307.67 1308.02H320.47M307.67 1341.72H320.47M389.18 1351.96V1387.28M382.78 1351.96H395.58M382.78 1387.28H395.58M464.29 1378.11V1414.24M457.89 1378.11H470.69M457.89 1414.24H470.69M539.39 1413.57V1439.58M532.99 1413.57H545.79M532.99 1439.58H545.79" stroke="#58595b" stroke-width="1.8" fill="none"/><circle cx="163.86" cy="1182.65" r="6.6" fill="#58595b"/><circle cx="238.97" cy="1171.87" r="6.6" fill="#58595b"/><circle cx="314.07" cy="1325" r="6.6" fill="#58595b"/><circle cx="389.18" cy="1369.76" r="6.6" fill="#58595b"/><circle cx="464.29" cy="1396.45" r="6.6" fill="#58595b"/><circle cx="539.39" cy="1427.05" r="6.6" fill="#58595b"/><circle cx="614.5" cy="1441.2" r="6.6" fill="#58595b"/><text x="276.02" y="1563.8" font-size="24.8">IC</text><text x="301.62" y="1572.3" font-size="16.3">50</text><text x="438.48" y="1563.8" font-size="24.8" textLength="85.01" lengthAdjust="spacingAndGlyphs">95% CI</text><path d="M100.1 1594H120.9" stroke="#58595b" stroke-width="1.8"/><circle cx="110.5" cy="1594" r="3.4" fill="#58595b"/><text x="130.85" y="1600.4" font-size="21" textLength="82.46" lengthAdjust="spacingAndGlyphs">SLI-RSV</text><g transform="translate(257.66 0) scale(1 1)"><text x="0" y="1600.4" font-size="21" xml:space="preserve">5.8 x 10</text><text x="75.72" y="1592.6" font-size="13" xml:space="preserve">-8</text></g><g transform="translate(386.5 0) scale(1 1)"><text x="0" y="1600.4" font-size="21" xml:space="preserve">3.6 x 10</text><text x="75.72" y="1592.6" font-size="13" xml:space="preserve">-8</text><text x="87.28" y="1600.4" font-size="21" xml:space="preserve"> - 8.0 x 10</text><text x="181.66" y="1592.6" font-size="13" xml:space="preserve">-8</text></g><path d="M793 1103.3V1441M780 1441H793M780 1373.46H793M780 1305.92H793M780 1238.38H793M780 1170.84H793M780 1103.3H793" stroke="#58595b" stroke-width="1.6" fill="none"/><path d="M780 1441H1298.8" stroke="#231f20" stroke-width="1.6" fill="none"/><path d="M793 1441V1453.6M843.75 1441V1447.5M873.44 1441V1447.5M894.51 1441V1447.5M910.85 1441V1447.5M924.2 1441V1447.5M935.48 1441V1447.5M945.26 1441V1447.5M953.89 1441V1447.5M961.6 1441V1453.6M1012.35 1441V1447.5M1042.04 1441V1447.5M1063.11 1441V1447.5M1079.45 1441V1447.5M1092.8 1441V1447.5M1104.08 1441V1447.5M1113.86 1441V1447.5M1122.49 1441V1447.5M1130.2 1441V1453.6M1180.95 1441V1447.5M1210.64 1441V1447.5M1231.71 1441V1447.5M1248.05 1441V1447.5M1261.4 1441V1447.5M1272.68 1441V1447.5M1282.46 1441V1447.5M1291.09 1441V1447.5M1298.8 1441V1453.6" stroke="#58595b" stroke-width="1.6" fill="none"/><text x="763.34" y="1448.2" font-size="21">0</text><text x="751.73" y="1380.66" font-size="21">25</text><text x="751.67" y="1313.12" font-size="21">50</text><text x="751.73" y="1245.58" font-size="21">75</text><text x="739.99" y="1178.04" font-size="21">100</text><text x="740.05" y="1110.5" font-size="21">125</text><text x="776.05" y="1481.2" font-size="20.6">10</text><text x="799.38" y="1474.3" font-size="13">-8</text><text x="944.7" y="1481.2" font-size="20.6">10</text><text x="968.03" y="1474.3" font-size="13">-7</text><text x="1113.26" y="1481.2" font-size="20.6">10</text><text x="1136.59" y="1474.3" font-size="13">-6</text><text x="1281.85" y="1481.2" font-size="20.6">10</text><text x="1305.18" y="1474.3" font-size="13">-5</text><text x="977.9" y="1512.4" font-size="26">[Peptide], <tspan font-style="italic">M</tspan></text><text transform="translate(719 1272.7) rotate(-90)" text-anchor="middle" font-size="25.6" textLength="374" lengthAdjust="spacingAndGlyphs">Normalized percent infected cells</text><path d="M842.02 1170.83L845.82 1171L849.63 1171.19L853.44 1171.4L857.24 1171.64L861.05 1171.92L864.86 1172.22L868.66 1172.56L872.47 1172.95L876.28 1173.38L880.08 1173.87L883.89 1174.41L887.7 1175.02L891.5 1175.71L895.31 1176.48L899.11 1177.34L902.92 1178.3L906.73 1179.38L910.53 1180.58L914.34 1181.92L918.15 1183.42L921.95 1185.08L925.76 1186.93L929.57 1188.98L933.37 1191.25L937.18 1193.75L940.99 1196.51L944.79 1199.54L948.6 1202.87L952.41 1206.51L956.21 1210.46L960.02 1214.76L963.83 1219.4L967.63 1224.4L971.44 1229.75L975.25 1235.46L979.05 1241.51L982.86 1247.9L986.67 1254.59L990.47 1261.56L994.28 1268.78L998.08 1276.2L1001.89 1283.78L1005.7 1291.47L1009.5 1299.21L1013.31 1306.95L1017.12 1314.64L1020.92 1322.22L1024.73 1329.64L1028.54 1336.85L1032.34 1343.82L1036.15 1350.51L1039.96 1356.89L1043.76 1362.94L1047.57 1368.64L1051.38 1373.99L1055.18 1378.98L1058.99 1383.62L1062.8 1387.91L1066.6 1391.87L1070.41 1395.5L1074.22 1398.82L1078.02 1401.85L1081.83 1404.61L1085.63 1407.11L1089.44 1409.38L1093.25 1411.42L1097.05 1413.27L1100.86 1414.93L1104.67 1416.42L1108.47 1417.76L1112.28 1418.96L1116.09 1420.04L1119.89 1421L1123.7 1421.86L1127.51 1422.63L1131.31 1423.31L1135.12 1423.93L1138.93 1424.47L1142.73 1424.96L1146.54 1425.39L1150.35 1425.77L1154.15 1426.12L1157.96 1426.42L1161.77 1426.69L1165.57 1426.93L1169.38 1427.15L1173.18 1427.34L1176.99 1427.5L1180.8 1427.65L1184.6 1427.79L1188.41 1427.91L1192.22 1428.01L1196.02 1428.11L1199.83 1428.19L1203.64 1428.26L1207.44 1428.33L1211.25 1428.39L1215.06 1428.44L1218.86 1428.48L1222.67 1428.52L1226.48 1428.56L1230.28 1428.59L1234.09 1428.62L1237.9 1428.64L1241.7 1428.67L1245.51 1428.69L1249.32 1428.7L1253.12 1428.72L1256.93 1428.73L1260.73 1428.75L1264.54 1428.76L1268.35 1428.77L1272.15 1428.78L1275.96 1428.78L1279.77 1428.79L1283.57 1428.8L1287.38 1428.8L1291.19 1428.81L1294.99 1428.81L1298.8 1428.81" stroke="#58595b" stroke-width="2" fill="none"/><path d="M842.02 1147.61V1194.61M835.62 1147.61H848.42M835.62 1194.61H848.42M994.28 1269.18V1300.52M987.88 1269.18H1000.68M987.88 1300.52H1000.68M1045.03 1347.25V1368.06M1038.63 1347.25H1051.43M1038.63 1368.06H1051.43M1095.79 1385.35V1415.06M1089.39 1385.35H1102.19M1089.39 1415.06H1102.19M1146.54 1400.48V1421.82M1140.14 1400.48H1152.94M1140.14 1421.82H1152.94" stroke="#58595b" stroke-width="1.8" fill="none"/><circle cx="842.02" cy="1171.11" r="6.6" fill="#58595b"/><circle cx="892.77" cy="1189.75" r="6.6" fill="#58595b"/><circle cx="943.52" cy="1189.75" r="6.6" fill="#58595b"/><circle cx="994.28" cy="1284.85" r="6.6" fill="#58595b"/><circle cx="1045.03" cy="1357.79" r="6.6" fill="#58595b"/><circle cx="1095.79" cy="1400.48" r="6.6" fill="#58595b"/><circle cx="1146.54" cy="1411.55" r="6.6" fill="#58595b"/><circle cx="1197.29" cy="1430.6" r="6.6" fill="#58595b"/><circle cx="1248.05" cy="1433.98" r="6.6" fill="#58595b"/><circle cx="1298.8" cy="1432.08" r="6.6" fill="#58595b"/><text x="954.12" y="1563.8" font-size="24.8">IC</text><text x="979.72" y="1572.3" font-size="16.3">50</text><text x="1115.78" y="1563.8" font-size="24.8" textLength="85.12" lengthAdjust="spacingAndGlyphs">95% CI</text><path d="M777.3 1594H798.5" stroke="#58595b" stroke-width="1.8"/><circle cx="787.9" cy="1594" r="3.4" fill="#58595b"/><text x="808.14" y="1600.4" font-size="21" textLength="97.96" lengthAdjust="spacingAndGlyphs">SLI-EBOV</text><g transform="translate(934.88 0) scale(1.01 1)"><text x="0" y="1600.4" font-size="21" xml:space="preserve">1.8 x 10</text><text x="75.72" y="1592.6" font-size="13" xml:space="preserve">-7</text></g><g transform="translate(1063.68 0) scale(1.01 1)"><text x="0" y="1600.4" font-size="21" xml:space="preserve">1.6 x 10</text><text x="75.72" y="1592.6" font-size="13" xml:space="preserve">-7</text><text x="87.28" y="1600.4" font-size="21" xml:space="preserve"> - 2.3 x 10</text><text x="181.66" y="1592.6" font-size="13" xml:space="preserve">-7</text></g><path d="M1469 1103.6V1440.8M1456 1440.8H1469M1456 1373.36H1469M1456 1305.92H1469M1456 1238.48H1469M1456 1171.04H1469M1456 1103.6H1469" stroke="#58595b" stroke-width="1.6" fill="none"/><path d="M1456 1440.8H1975" stroke="#231f20" stroke-width="1.6" fill="none"/><path d="M1469 1440.8V1453.4M1507.08 1440.8V1447.3M1529.36 1440.8V1447.3M1545.16 1440.8V1447.3M1557.42 1440.8V1447.3M1567.44 1440.8V1447.3M1575.9 1440.8V1447.3M1583.24 1440.8V1447.3M1589.71 1440.8V1447.3M1595.5 1440.8V1453.4M1633.58 1440.8V1447.3M1655.86 1440.8V1447.3M1671.66 1440.8V1447.3M1683.92 1440.8V1447.3M1693.94 1440.8V1447.3M1702.4 1440.8V1447.3M1709.74 1440.8V1447.3M1716.21 1440.8V1447.3M1722 1440.8V1453.4M1760.08 1440.8V1447.3M1782.36 1440.8V1447.3M1798.16 1440.8V1447.3M1810.42 1440.8V1447.3M1820.44 1440.8V1447.3M1828.9 1440.8V1447.3M1836.24 1440.8V1447.3M1842.71 1440.8V1447.3M1848.5 1440.8V1453.4M1886.58 1440.8V1447.3M1908.86 1440.8V1447.3M1924.66 1440.8V1447.3M1936.92 1440.8V1447.3M1946.94 1440.8V1447.3M1955.4 1440.8V1447.3M1962.74 1440.8V1447.3M1969.21 1440.8V1447.3M1975 1440.8V1453.4" stroke="#58595b" stroke-width="1.6" fill="none"/><text x="1439.34" y="1448" font-size="21">0</text><text x="1427.73" y="1380.56" font-size="21">25</text><text x="1427.67" y="1313.12" font-size="21">50</text><text x="1427.73" y="1245.68" font-size="21">75</text><text x="1415.99" y="1178.24" font-size="21">100</text><text x="1416.05" y="1110.8" font-size="21">125</text><text x="1448.41" y="1481.2" font-size="20.6">10</text><text x="1471.74" y="1474.3" font-size="13">-10</text><text x="1578.58" y="1481.2" font-size="20.6">10</text><text x="1601.91" y="1474.3" font-size="13">-9</text><text x="1705.05" y="1481.2" font-size="20.6">10</text><text x="1728.38" y="1474.3" font-size="13">-8</text><text x="1831.6" y="1481.2" font-size="20.6">10</text><text x="1854.93" y="1474.3" font-size="13">-7</text><text x="1958.06" y="1481.2" font-size="20.6">10</text><text x="1981.39" y="1474.3" font-size="13">-6</text><text x="1654" y="1512.4" font-size="26">[Peptide], <tspan font-style="italic">M</tspan></text><text transform="translate(1392.9 1272.7) rotate(-90)" text-anchor="middle" font-size="25.6" textLength="374" lengthAdjust="spacingAndGlyphs">Normalized percent infected cells</text><path d="M1514.43 1184.66L1517.95 1185.51L1521.47 1186.42L1524.99 1187.37L1528.51 1188.38L1532.03 1189.45L1535.55 1190.57L1539.07 1191.76L1542.59 1193.02L1546.12 1194.34L1549.64 1195.74L1553.16 1197.21L1556.68 1198.76L1560.2 1200.38L1563.72 1202.09L1567.24 1203.89L1570.76 1205.77L1574.28 1207.75L1577.8 1209.82L1581.32 1211.98L1584.84 1214.24L1588.36 1216.6L1591.89 1219.06L1595.41 1221.62L1598.93 1224.28L1602.45 1227.04L1605.97 1229.91L1609.49 1232.88L1613.01 1235.96L1616.53 1239.13L1620.05 1242.4L1623.57 1245.77L1627.09 1249.23L1630.61 1252.78L1634.13 1256.41L1637.66 1260.13L1641.18 1263.92L1644.7 1267.78L1648.22 1271.71L1651.74 1275.69L1655.26 1279.73L1658.78 1283.81L1662.3 1287.92L1665.82 1292.06L1669.34 1296.22L1672.86 1300.38L1676.38 1304.55L1679.9 1308.72L1683.43 1312.87L1686.95 1316.99L1690.47 1321.08L1693.99 1325.13L1697.51 1329.14L1701.03 1333.09L1704.55 1336.98L1708.07 1340.8L1711.59 1344.54L1715.11 1348.21L1718.63 1351.8L1722.15 1355.29L1725.67 1358.7L1729.2 1362L1732.72 1365.22L1736.24 1368.33L1739.76 1371.34L1743.28 1374.25L1746.8 1377.05L1750.32 1379.75L1753.84 1382.35L1757.36 1384.85L1760.88 1387.25L1764.4 1389.55L1767.92 1391.75L1771.44 1393.85L1774.96 1395.86L1778.49 1397.78L1782.01 1399.61L1785.53 1401.36L1789.05 1403.02L1792.57 1404.6L1796.09 1406.1L1799.61 1407.52L1803.13 1408.87L1806.65 1410.15L1810.17 1411.37L1813.69 1412.52L1817.21 1413.61L1820.73 1414.64L1824.26 1415.62L1827.78 1416.54L1831.3 1417.41L1834.82 1418.23L1838.34 1419.01L1841.86 1419.74L1845.38 1420.43L1848.9 1421.08L1852.42 1421.7L1855.94 1422.28L1859.46 1422.82L1862.98 1423.33L1866.5 1423.82L1870.03 1424.27L1873.55 1424.7L1877.07 1425.1L1880.59 1425.48L1884.11 1425.84L1887.63 1426.18L1891.15 1426.49L1894.67 1426.79L1898.19 1427.07L1901.71 1427.33L1905.23 1427.58L1908.75 1427.81L1912.27 1428.03L1915.8 1428.23L1919.32 1428.42L1922.84 1428.6L1926.36 1428.77L1929.88 1428.93L1933.4 1429.08L1936.92 1429.22" stroke="#58595b" stroke-width="2" fill="none"/><path d="M1514.43 1150.81V1191.27M1508.03 1150.81H1520.83M1508.03 1191.27H1520.83M1574.78 1192.62V1251.16M1568.38 1192.62H1581.18M1568.38 1251.16H1581.18M1635.14 1274.36V1298.37M1628.74 1274.36H1641.54M1628.74 1298.37H1641.54M1695.5 1304.84V1323.45M1689.1 1304.84H1701.9M1689.1 1323.45H1701.9M1755.85 1370.66V1390.89M1749.45 1370.66H1762.25M1749.45 1390.89H1762.25" stroke="#58595b" stroke-width="1.8" fill="none"/><circle cx="1514.43" cy="1171.04" r="6.6" fill="#58595b"/><circle cx="1574.78" cy="1222.29" r="6.6" fill="#58595b"/><circle cx="1635.14" cy="1286.77" r="6.6" fill="#58595b"/><circle cx="1695.5" cy="1314.01" r="6.6" fill="#58595b"/><circle cx="1755.85" cy="1380.37" r="6.6" fill="#58595b"/><circle cx="1816.21" cy="1424.88" r="6.6" fill="#58595b"/><circle cx="1876.56" cy="1423.27" r="6.6" fill="#58595b"/><circle cx="1936.92" cy="1433.52" r="6.6" fill="#58595b"/><text x="1628.12" y="1563.8" font-size="24.8">IC</text><text x="1653.72" y="1572.3" font-size="16.3">50</text><text x="1790.27" y="1563.8" font-size="24.8" textLength="85.53" lengthAdjust="spacingAndGlyphs">95% CI</text><path d="M1452.9 1594H1472.4" stroke="#58595b" stroke-width="1.8"/><circle cx="1462.65" cy="1594" r="3.4" fill="#58595b"/><text x="1482.24" y="1600.4" font-size="21" textLength="88.66" lengthAdjust="spacingAndGlyphs">SLI-NIPV</text><g transform="translate(1609.8 0) scale(1.01 1)"><text x="0" y="1600.4" font-size="21" xml:space="preserve">3.5 x 10</text><text x="75.72" y="1592.6" font-size="13" xml:space="preserve">-9</text></g><g transform="translate(1738.69 0) scale(1.01 1)"><text x="0" y="1600.4" font-size="21" xml:space="preserve">1.9 x 10</text><text x="75.72" y="1592.6" font-size="13" xml:space="preserve">-9</text><text x="87.28" y="1600.4" font-size="21" xml:space="preserve"> - 6.4 x 10</text><text x="181.66" y="1592.6" font-size="13" xml:space="preserve">-9</text></g><path d="M167 122C164.17 122.5 156.17 125.17 150 125C143.83 124.83 136.67 122.17 130 121C123.33 119.83 116.5 118.33 110 118C103.5 117.67 94.17 118.83 91 119" stroke="#b01a1e" stroke-width="2.4" fill="none" stroke-linecap="round" stroke-linejoin="round"/><g><path d="M186.4 153.1L186.8 153.3L187.8 152.1L189.4 149.7L191.6 146.4L194.2 142.5L197.3 138.6L200.6 134.9L203.9 132L207.1 130.2L209.9 129.7L197.2 125.1L194.8 124.3L191.9 124.8L188.7 126.6L185.4 129.5L182.2 133.1L179.1 137.1L176.4 140.9L174.3 144.2L172.7 146.6L171.7 147.8ZM215.2 163.5L215.6 163.6L216.6 162.4L218.2 160L220.4 156.7L223 152.9L226.1 148.9L229.4 145.3L232.7 142.4L235.9 140.6L238.7 140L226 135.5L223.6 134.6L220.7 135.1L217.5 137L214.2 139.9L210.9 143.5L207.9 147.4L205.2 151.3L203.1 154.6L201.5 157L200.5 158.2ZM244 173.8L244.4 174L245.4 172.8L247 170.4L249.2 167L251.8 163.2L254.9 159.3L258.2 155.6L261.5 152.7L264.7 150.9L267.5 150.4L254.8 145.8L252.4 145L249.5 145.5L246.3 147.3L243 150.2L239.7 153.8L236.7 157.8L234 161.6L231.9 164.9L230.3 167.3L229.3 168.5ZM272.8 184.2L273.2 184.3L274.2 183.1L275.8 180.7L278 177.4L280.6 173.6L283.7 169.6L287 166L290.3 163.1L293.5 161.3L296.3 160.7L283.6 156.2L281.2 155.3L278.3 155.8L275.1 157.7L271.8 160.6L268.5 164.2L265.5 168.1L262.8 172L260.7 175.3L259.1 177.7L258.1 178.9ZM301.6 194.5L301.6 194.7L301.7 194.8L287.3 188.8L287.1 189.1L286.9 189.2Z" fill="url(#hg1b)"/><path d="M184.7 121.4L186.3 124.5L187.3 128.8L187.6 133.8L187.5 139.1L187.2 144.1L186.7 148.3L186.4 151.4L186.4 153.1L171.7 147.8L171.2 147.6L171.3 145.9L171.6 142.7L172.1 138.4L172.4 133.4L172.5 128.1L172.1 123.1L171.1 118.9ZM209.9 129.7L212.4 130.6L214.2 132.8L215.5 136.2L216.2 140.6L216.5 145.5L216.3 150.5L215.9 155.1L215.5 159L215.2 161.9L215.2 163.5L200.5 158.2L200 158L200 156.4L200.3 153.6L200.8 149.7L201.2 145L201.3 140L201.1 135.1L200.4 130.8L199.1 127.4L197.2 125.1ZM238.7 140L241.2 140.9L243 143.2L244.3 146.6L245 150.9L245.3 155.8L245.1 160.8L244.7 165.5L244.3 169.4L244 172.2L244 173.8L229.3 168.5L228.8 168.4L228.8 166.8L229.1 163.9L229.6 160L230 155.3L230.1 150.4L229.9 145.5L229.2 141.1L227.9 137.7L226 135.5ZM267.5 150.4L270 151.3L271.8 153.5L273.1 156.9L273.8 161.3L274.1 166.2L273.9 171.2L273.5 175.8L273.1 179.7L272.8 182.6L272.8 184.2L258.1 178.9L257.6 178.7L257.6 177.1L257.9 174.3L258.4 170.4L258.8 165.7L258.9 160.7L258.7 155.8L258 151.5L256.7 148.1L254.8 145.8ZM296.3 160.7L298.7 161.6L300.6 163.9L301.9 167.3L302.6 171.6L302.8 176.5L302.7 181.5L302.3 186.2L301.8 190.1L301.5 192.9L301.6 194.5L286.9 189.2L286.4 189.1L286.4 187.5L286.7 184.6L287.2 180.7L287.6 176L287.7 171L287.5 166.2L286.8 161.8L285.5 158.4L283.6 156.2Z" fill="url(#hg1f)"/></g><g><path d="M312.3 198.6L312.8 198.7L313.8 197.5L315.4 195.1L317.6 191.9L320.3 188L323.4 184.1L326.7 180.5L330.1 177.7L333.3 175.9L336.1 175.4L323.5 170.7L321 169.8L318.2 170.3L315 172.1L311.6 175L308.3 178.6L305.2 182.5L302.5 186.3L300.3 189.6L298.7 192L297.7 193.2ZM341 209.2L341.5 209.3L342.5 208.1L344.1 205.8L346.3 202.5L349 198.7L352.1 194.7L355.4 191.1L358.8 188.3L362 186.5L364.8 186L352.2 181.3L349.7 180.4L346.9 180.9L343.7 182.7L340.3 185.6L337 189.2L333.9 193.1L331.2 196.9L329 200.2L327.4 202.6L326.4 203.8ZM369.7 219.8L370.2 220L371.2 218.8L372.8 216.4L375 213.1L377.7 209.3L380.8 205.3L384.1 201.7L387.5 198.9L390.7 197.1L393.5 196.6L380.9 191.9L378.4 191L375.6 191.5L372.4 193.3L369 196.2L365.7 199.8L362.6 203.7L359.9 207.5L357.7 210.8L356.1 213.2L355.1 214.4ZM398.4 230.4L398.9 230.6L399.9 229.4L401.5 227L403.7 223.7L406.4 219.9L409.5 216L412.8 212.4L416.2 209.5L419.4 207.7L422.2 207.2L409.6 202.5L407.1 201.6L404.3 202.1L401.1 203.9L397.7 206.8L394.4 210.4L391.3 214.3L388.6 218.1L386.4 221.4L384.8 223.8L383.8 225ZM427.1 241L427.6 241.2L428.6 240L430.2 237.6L432.4 234.3L435.1 230.5L438.2 226.6L441.5 223L444.9 220.1L448.1 218.3L450.9 217.8L438.3 213.1L435.8 212.3L433 212.8L429.8 214.6L426.4 217.4L423.1 221L420 224.9L417.3 228.8L415.1 232L413.5 234.4L412.5 235.6Z" fill="url(#hg2b)"/><path d="M312.8 170.8L313.6 175.2L313.8 180.1L313.6 185.2L313.2 190L312.7 194L312.4 197L312.3 198.6L297.7 193.2L297.3 193L297.3 191.3L297.6 188.4L298.1 184.3L298.5 179.5L298.7 174.4L298.5 169.5ZM336.1 175.4L338.5 176.3L340.4 178.5L341.7 182L342.3 186.3L342.5 191.2L342.3 196.2L341.9 200.8L341.4 204.8L341.1 207.6L341 209.2L326.4 203.8L326 203.6L326 202L326.3 199.2L326.8 195.2L327.2 190.6L327.4 185.6L327.3 180.7L326.6 176.4L325.3 172.9L323.5 170.7ZM364.8 186L367.2 186.9L369.1 189.1L370.4 192.6L371 196.9L371.2 201.8L371 206.8L370.6 211.5L370.1 215.4L369.8 218.2L369.7 219.8L355.1 214.4L354.7 214.2L354.7 212.6L355 209.8L355.5 205.9L355.9 201.2L356.1 196.2L356 191.3L355.3 187L354 183.5L352.2 181.3ZM393.5 196.6L395.9 197.5L397.8 199.8L399.1 203.2L399.7 207.5L399.9 212.4L399.7 217.4L399.3 222.1L398.8 226L398.5 228.8L398.4 230.4L383.8 225L383.4 224.8L383.4 223.3L383.7 220.4L384.2 216.5L384.6 211.8L384.8 206.8L384.7 201.9L384 197.6L382.7 194.2L380.9 191.9ZM422.2 207.2L424.6 208.1L426.5 210.4L427.8 213.8L428.4 218.2L428.6 223L428.4 228L428 232.7L427.5 236.6L427.2 239.5L427.1 241L412.5 235.6L412.1 235.4L412.1 233.9L412.4 231L412.9 227.1L413.3 222.4L413.5 217.4L413.4 212.6L412.7 208.2L411.4 204.8L409.6 202.5ZM450.9 217.8L453.2 218.6L454.9 220.5L456.2 223.5L457 227.3L457.3 231.7L442.1 231.1L442.2 226.5L441.9 222.1L441.2 218.2L440 215.2L438.3 213.1Z" fill="url(#hg2f)"/></g><path d="M444 240C445.33 241 447.67 246.67 452 246C456.33 245.33 463.5 236 470 236C476.5 236 487.5 244.33 491 246" stroke="#b01a1e" stroke-width="2.4" fill="none" stroke-linecap="round" stroke-linejoin="round"/><g><path d="M346.1 178.2L346.6 178.2L347.2 176.8L348.1 174.1L349.3 170.3L350.9 165.9L352.7 161.3L354.9 156.9L357.3 153.2L359.9 150.6L362.5 149.3L349 148.3L346.5 148.2L343.8 149.5L341.3 152.1L338.9 155.7L336.7 160.1L334.8 164.7L333.3 169.2L332.1 172.9L331.2 175.7L330.6 177.1ZM376.6 180.4L377.1 180.5L377.8 179L378.6 176.3L379.8 172.5L381.4 168.1L383.2 163.5L385.4 159.1L387.8 155.4L390.4 152.8L393 151.6L379.6 150.6L377 150.4L374.4 151.7L371.8 154.3L369.4 158L367.2 162.3L365.3 167L363.8 171.4L362.6 175.2L361.7 177.9L361.1 179.3ZM407.2 182.7L407.6 182.7L408.3 181.3L409.2 178.5L410.4 174.8L411.9 170.3L413.8 165.7L415.9 161.3L418.4 157.7L420.9 155.1L423.6 153.8L410.1 152.8L407.5 152.6L404.9 153.9L402.3 156.5L399.9 160.2L397.7 164.6L395.9 169.2L394.3 173.6L393.1 177.4L392.2 180.1L391.6 181.5ZM437.7 184.9L438.2 184.9L438.8 183.5L439.7 180.8L440.9 177L442.4 172.6L444.3 167.9L446.5 163.6L448.9 159.9L451.5 157.3L454.1 156L440.6 155L438 154.8L435.4 156.1L432.8 158.7L430.4 162.4L428.2 166.8L426.4 171.4L424.8 175.8L423.6 179.6L422.8 182.3L422.1 183.8ZM468.2 187.1L468.7 187.1L469.3 185.7L470.2 183L471.4 179.2L472.9 174.8L474.8 170.2L477 165.8L479.4 162.1L482 159.5L484.6 158.2L471.1 157.3L468.5 157.1L465.9 158.4L463.4 161L460.9 164.6L458.8 169L456.9 173.6L455.4 178.1L454.2 181.8L453.3 184.6L452.6 186ZM498.7 189.3L499.2 189.4L499.8 187.9L500.7 185.2L501.9 181.4L503.4 177L505.3 172.4L507.5 168L509.9 164.3L512.5 161.7L515.1 160.5L501.6 159.5L499.1 159.3L496.4 160.6L493.9 163.2L491.5 166.9L489.3 171.2L487.4 175.9L485.9 180.3L484.7 184.1L483.8 186.8L483.2 188.2Z" fill="url(#hg3b)"/><path d="M340.7 155.1L342.3 159.8L343.6 164.8L344.5 169.6L345.2 173.7L345.7 176.6L346.1 178.2L330.6 177.1L330.1 177L329.6 175.4L329.1 172.4L328.4 168.3L327.5 163.5L326.2 158.5ZM362.5 149.3L365.1 149.5L367.5 151.2L369.7 154.1L371.5 158.1L373 162.8L374.2 167.6L375.1 172.2L375.7 176.1L376.2 178.9L376.6 180.4L361.1 179.3L360.6 179.3L360.2 177.8L359.7 174.9L359.1 171L358.2 166.4L357 161.6L355.5 156.9L353.6 152.9L351.5 150L349 148.3ZM393 151.6L395.6 151.7L398 153.4L400.2 156.4L402 160.4L403.6 165L404.7 169.8L405.6 174.4L406.2 178.3L406.7 181.2L407.2 182.7L391.6 181.5L391.1 181.5L390.7 180L390.2 177.1L389.6 173.2L388.7 168.6L387.5 163.8L386 159.2L384.1 155.2L382 152.2L379.6 150.6ZM423.6 153.8L426.1 154L428.5 155.6L430.7 158.6L432.6 162.6L434.1 167.2L435.3 172.1L436.1 176.7L436.8 180.6L437.2 183.4L437.7 184.9L422.1 183.8L421.6 183.7L421.2 182.2L420.7 179.4L420.1 175.5L419.2 170.9L418 166L416.5 161.4L414.7 157.4L412.5 154.4L410.1 152.8ZM454.1 156L456.6 156.2L459.1 157.9L461.2 160.8L463.1 164.8L464.6 169.4L465.8 174.3L466.7 178.9L467.3 182.8L467.8 185.6L468.2 187.1L452.6 186L452.2 185.9L451.7 184.4L451.2 181.6L450.6 177.7L449.7 173.1L448.6 168.3L447 163.6L445.2 159.6L443 156.7L440.6 155ZM484.6 158.2L487.2 158.4L489.6 160.1L491.7 163L493.6 167L495.1 171.7L496.3 176.5L497.2 181.1L497.8 185L498.3 187.8L498.7 189.3L483.2 188.2L482.7 188.2L482.2 186.7L481.8 183.8L481.1 179.9L480.3 175.3L479.1 170.5L477.6 165.8L475.7 161.8L473.5 158.9L471.1 157.3ZM515.1 160.5L517.6 160.6L519.9 162.1L522 164.9L523.9 168.6L525.4 173L526.6 177.7L527.5 182.2L528.2 186.2L528.7 189.3L529.1 191.2L513.5 190.6L513.1 190.1L512.6 188.2L512.1 185.2L511.5 181.2L510.6 176.7L509.4 172L507.9 167.6L506.1 163.8L504 161L501.6 159.5Z" fill="url(#hg3f)"/></g><g><path d="M119.4 214.8L119.9 214.8L120.5 213.1L121.2 209.9L122.2 205.6L123.5 200.4L125.2 195L127.2 189.9L129.6 185.5L132.2 182.3L135.1 180.6L119.8 180.8L116.8 180.8L114 182.5L111.3 185.7L109 190.1L106.9 195.3L105.3 200.7L104 205.8L103 210.2L102.3 213.4L101.7 215ZM154 214.3L154.6 214.3L155.2 212.6L155.9 209.5L156.9 205.1L158.2 199.9L159.9 194.5L161.9 189.4L164.3 185L166.9 181.8L169.7 180.1L154.4 180.3L151.5 180.4L148.7 182.1L146 185.3L143.7 189.7L141.6 194.8L140 200.2L138.7 205.4L137.7 209.7L137 212.9L136.4 214.6ZM188.7 213.9L189.3 213.8L189.9 212.2L190.6 209L191.6 204.6L192.9 199.5L194.5 194.1L196.6 188.9L198.9 184.5L201.6 181.3L204.4 179.6L189.1 179.8L186.2 179.9L183.4 181.6L180.7 184.8L178.3 189.2L176.3 194.3L174.6 199.8L173.3 204.9L172.4 209.3L171.6 212.4L171 214.1ZM223.4 213.4L223.9 213.4L224.5 211.7L225.3 208.5L226.2 204.1L227.5 199L229.2 193.6L231.2 188.5L233.6 184.1L236.3 180.9L239.1 179.2L223.8 179.4L220.9 179.4L218 181.1L215.4 184.3L213 188.7L211 193.9L209.3 199.3L208 204.4L207 208.8L206.3 212L205.7 213.6ZM258.1 212.9L258.6 212.9L259.2 211.2L259.9 208.1L260.9 203.7L262.2 198.5L263.9 193.1L265.9 188L268.3 183.6L270.9 180.4L273.8 178.7L258.5 178.9L255.5 179L252.7 180.7L250.1 183.9L247.7 188.3L245.7 193.4L244 198.8L242.7 204L241.7 208.3L241 211.5L240.4 213.2ZM292.7 212.5L293.3 212.4L293.9 210.8L294.6 207.6L295.6 203.2L296.9 198.1L298.6 192.7L300.6 187.5L303 183.1L305.6 179.9L308.4 178.2L293.1 178.4L290.2 178.5L287.4 180.2L284.7 183.4L282.4 187.8L280.3 192.9L278.7 198.3L277.4 203.5L276.4 207.9L275.7 211L275.1 212.7ZM327.4 212L328 212L328.6 210.3L329.3 207.1L330.3 202.7L331.6 197.6L333.2 192.2L335.3 187L337.6 182.7L340.3 179.5L343.1 177.8L327.8 178L324.9 178L322.1 179.7L319.4 182.9L317 187.3L315 192.5L313.3 197.9L312.1 203L311.1 207.4L310.3 210.6L309.8 212.2ZM362.1 211.5L362.7 211.5L363.2 209.8L364 206.6L364.9 202.3L366.2 197.1L367.9 191.7L369.9 186.6L372.3 182.2L375 179L377.8 177.3L362.5 177.5L359.6 177.5L356.7 179.3L354.1 182.5L351.7 186.9L349.7 192L348 197.4L346.7 202.5L345.8 206.9L345 210.1L344.4 211.8ZM396.8 211L397.3 211L397.9 209.4L398.6 206.2L399.6 201.8L400.9 196.7L402.6 191.3L404.6 186.1L407 181.7L409.6 178.5L412.5 176.8L397.2 177L394.2 177.1L391.4 178.8L388.8 182L386.4 186.4L384.4 191.5L382.7 196.9L381.4 202.1L380.4 206.4L379.7 209.6L379.1 211.3ZM431.5 210.6L432 210.6L432.6 208.9L433.3 205.7L434.3 201.3L435.6 196.2L437.3 190.8L439.3 185.6L441.7 181.3L444.3 178.1L447.2 176.4L431.8 176.6L428.9 176.6L426.1 178.3L423.4 181.5L421.1 185.9L419 191.1L417.4 196.5L416.1 201.6L415.1 206L414.4 209.1L413.8 210.8ZM466.1 210.1L466.7 210.1L467.3 208.4L468 205.2L469 200.9L470.3 195.7L471.9 190.3L474 185.2L476.3 180.8L479 177.6L481.8 175.9L466.5 176.1L463.6 176.1L460.8 177.9L458.1 181.1L455.7 185.4L453.7 190.6L452.1 196L450.8 201.1L449.8 205.5L449 208.7L448.5 210.3ZM500.8 209.6L501.4 209.6L501.9 208L502.7 204.8L503.7 200.4L505 195.3L506.6 189.9L508.7 184.7L511 180.3L513.7 177.1L516.5 175.4L501.2 175.6L498.3 175.7L495.4 177.4L492.8 180.6L490.4 185L488.4 190.1L486.7 195.5L485.4 200.7L484.5 205L483.7 208.2L483.1 209.9ZM535.5 209.2L536 209.2L536.6 207.5L537.4 204.3L538.3 199.9L539.6 194.8L541.3 189.4L543.3 184.2L545.7 179.9L548.3 176.7L551.2 175L535.9 175.2L533 175.2L530.1 176.9L527.5 180.1L525.1 184.5L523.1 189.7L521.4 195.1L520.1 200.2L519.1 204.6L518.4 207.7L517.8 209.4Z" fill="url(#hg4b)"/><path d="M116 202.5L117.2 206.9L118.1 210.7L118.8 213.4L119.4 214.8L101.7 215L101.2 215.1L100.6 213.8L99.9 211.2L99 207.6ZM135.1 180.6L138 180.5L140.9 182.2L143.6 185.3L146.1 189.6L148.3 194.7L150.1 200.1L151.5 205.2L152.6 209.5L153.4 212.7L154 214.3L136.4 214.6L135.8 214.6L135.2 212.9L134.4 209.7L133.3 205.4L131.8 200.3L130 194.9L127.9 189.9L125.4 185.5L122.6 182.4L119.8 180.8ZM169.7 180.1L172.7 180.1L175.5 181.7L178.3 184.8L180.8 189.2L182.9 194.3L184.7 199.6L186.2 204.7L187.3 209.1L188.1 212.2L188.7 213.9L171 214.1L170.5 214.1L169.9 212.4L169.1 209.3L168 204.9L166.5 199.8L164.7 194.5L162.5 189.4L160 185.1L157.3 181.9L154.4 180.3ZM204.4 179.6L207.3 179.6L210.2 181.2L213 184.4L215.4 188.7L217.6 193.8L219.4 199.1L220.9 204.2L221.9 208.6L222.8 211.7L223.4 213.4L205.7 213.6L205.2 213.6L204.5 212L203.7 208.8L202.6 204.5L201.2 199.4L199.4 194L197.2 188.9L194.7 184.6L192 181.5L189.1 179.8ZM239.1 179.2L242 179.1L244.9 180.8L247.6 183.9L250.1 188.2L252.3 193.3L254.1 198.7L255.5 203.8L256.6 208.1L257.4 211.3L258.1 212.9L240.4 213.2L239.9 213.2L239.2 211.5L238.4 208.3L237.3 204L235.9 198.9L234.1 193.5L231.9 188.4L229.4 184.1L226.7 181L223.8 179.4ZM273.8 178.7L276.7 178.7L279.6 180.3L282.3 183.4L284.8 187.8L287 192.8L288.8 198.2L290.2 203.3L291.3 207.6L292.1 210.8L292.7 212.5L275.1 212.7L274.5 212.7L273.9 211L273.1 207.9L272 203.5L270.5 198.4L268.7 193.1L266.6 188L264.1 183.7L261.3 180.5L258.5 178.9ZM308.4 178.2L311.4 178.2L314.3 179.8L317 183L319.5 187.3L321.6 192.4L323.4 197.7L324.9 202.8L326 207.2L326.8 210.3L327.4 212L309.8 212.2L309.2 212.2L308.6 210.6L307.8 207.4L306.7 203.1L305.2 198L303.4 192.6L301.2 187.5L298.8 183.2L296 180.1L293.1 178.4ZM343.1 177.8L346 177.7L348.9 179.4L351.7 182.5L354.1 186.8L356.3 191.9L358.1 197.3L359.6 202.4L360.7 206.7L361.5 209.9L362.1 211.5L344.4 211.8L343.9 211.8L343.3 210.1L342.4 206.9L341.3 202.6L339.9 197.5L338.1 192.1L335.9 187L333.4 182.7L330.7 179.6L327.8 178ZM377.8 177.3L380.7 177.3L383.6 178.9L386.3 182L388.8 186.4L391 191.4L392.8 196.8L394.2 201.9L395.3 206.2L396.1 209.4L396.8 211L379.1 211.3L378.6 211.3L377.9 209.6L377.1 206.5L376 202.1L374.6 197L372.8 191.7L370.6 186.6L368.1 182.3L365.4 179.1L362.5 177.5ZM412.5 176.8L415.4 176.8L418.3 178.4L421 181.6L423.5 185.9L425.7 191L427.5 196.3L428.9 201.4L430 205.8L430.8 208.9L431.5 210.6L413.8 210.8L413.2 210.8L412.6 209.2L411.8 206L410.7 201.7L409.3 196.6L407.4 191.2L405.3 186.1L402.8 181.8L400.1 178.7L397.2 177ZM447.2 176.4L450.1 176.3L453 178L455.7 181.1L458.2 185.4L460.3 190.5L462.2 195.9L463.6 201L464.7 205.3L465.5 208.5L466.1 210.1L448.5 210.3L447.9 210.3L447.3 208.7L446.5 205.5L445.4 201.2L443.9 196.1L442.1 190.7L440 185.6L437.5 181.3L434.7 178.2L431.8 176.6ZM481.8 175.9L484.8 175.9L487.6 177.5L490.4 180.6L492.9 184.9L495 190L496.8 195.4L498.3 200.5L499.4 204.8L500.2 208L500.8 209.6L483.1 209.9L482.6 209.9L482 208.2L481.1 205.1L480 200.7L478.6 195.6L476.8 190.3L474.6 185.2L472.1 180.8L469.4 177.7L466.5 176.1ZM516.5 175.4L519.4 175.4L522.3 177L525 180.2L527.5 184.5L529.7 189.6L531.5 194.9L532.9 200L534 204.4L534.9 207.5L535.5 209.2L517.8 209.4L517.3 209.4L516.6 207.8L515.8 204.6L514.7 200.3L513.3 195.1L511.5 189.8L509.3 184.7L506.8 180.4L504.1 177.3L501.2 175.6ZM551.2 175L554.8 175.1L558.2 177.8L542.6 181.7L539.4 177.4L535.9 175.2Z" fill="url(#hg4f)"/></g><g><path d="M191.6 131.3L192.1 131.3L192.8 129.7L193.8 126.6L195 122.3L196.7 117.2L198.7 111.9L201.1 106.9L203.7 102.7L206.6 99.7L209.5 98.2L194.2 97.4L191.3 97.2L188.4 98.8L185.5 101.8L182.9 106L180.5 111L178.5 116.3L176.8 121.3L175.6 125.6L174.6 128.7L173.9 130.3ZM226.2 133.2L226.7 133.2L227.4 131.6L228.4 128.4L229.7 124.1L231.3 119.1L233.3 113.8L235.7 108.8L238.4 104.6L241.2 101.6L244.2 100.1L228.9 99.3L226 99.1L223 100.6L220.2 103.6L217.5 107.9L215.1 112.9L213.1 118.1L211.5 123.2L210.2 127.5L209.2 130.6L208.6 132.2ZM260.8 135L261.4 135.1L262.1 133.4L263 130.3L264.3 126L265.9 121L268 115.7L270.3 110.7L273 106.5L275.9 103.5L278.8 102L263.5 101.1L260.6 101L257.6 102.5L254.8 105.5L252.1 109.7L249.8 114.7L247.7 120L246.1 125.1L244.8 129.3L243.9 132.5L243.2 134.1ZM295.5 136.9L296 136.9L296.7 135.3L297.6 132.2L298.9 127.9L300.6 122.8L302.6 117.6L305 112.6L307.6 108.3L310.5 105.3L313.4 103.8L298.1 103L295.2 102.8L292.3 104.4L289.4 107.4L286.8 111.6L284.4 116.6L282.4 121.9L280.7 126.9L279.5 131.2L278.5 134.3L277.8 136ZM330.1 138.8L330.6 138.8L331.3 137.2L332.3 134L333.5 129.7L335.2 124.7L337.2 119.4L339.6 114.4L342.3 110.2L345.1 107.2L348.1 105.7L332.8 104.9L329.9 104.7L326.9 106.2L324 109.2L321.4 113.5L319 118.5L317 123.8L315.4 128.8L314.1 133.1L313.1 136.2L312.4 137.8ZM364.7 140.6L365.3 140.7L366 139L366.9 135.9L368.2 131.6L369.8 126.6L371.8 121.3L374.2 116.3L376.9 112.1L379.7 109.1L382.7 107.6L367.4 106.7L364.5 106.6L361.5 108.1L358.7 111.1L356 115.3L353.6 120.3L351.6 125.6L350 130.7L348.7 135L347.8 138.1L347.1 139.7ZM399.3 142.5L399.9 142.5L400.6 140.9L401.5 137.8L402.8 133.5L404.5 128.4L406.5 123.2L408.8 118.2L411.5 113.9L414.4 110.9L417.3 109.4L402 108.6L399.1 108.5L396.2 110L393.3 113L390.6 117.2L388.3 122.2L386.3 127.5L384.6 132.5L383.3 136.8L382.4 139.9L381.7 141.6ZM434 144.4L434.5 144.4L435.2 142.8L436.2 139.7L437.4 135.4L439.1 130.3L441.1 125L443.5 120L446.1 115.8L449 112.8L451.9 111.3L436.7 110.5L433.7 110.3L430.8 111.8L427.9 114.9L425.3 119.1L422.9 124.1L420.9 129.4L419.2 134.4L418 138.7L417 141.8L416.3 143.4ZM468.6 146.3L469.2 146.3L469.8 144.6L470.8 141.5L472.1 137.2L473.7 132.2L475.7 126.9L478.1 121.9L480.8 117.7L483.6 114.7L486.6 113.2L471.3 112.3L468.4 112.2L465.4 113.7L462.6 116.7L459.9 120.9L457.5 125.9L455.5 131.2L453.9 136.3L452.6 140.6L451.7 143.7L451 145.3ZM503.2 148.1L503.8 148.1L504.5 146.5L505.4 143.4L506.7 139.1L508.3 134.1L510.4 128.8L512.7 123.8L515.4 119.6L518.3 116.5L521.2 115L505.9 114.2L503 114.1L500.1 115.6L497.2 118.6L494.5 122.8L492.2 127.8L490.1 133.1L488.5 138.1L487.2 142.4L486.3 145.5L485.6 147.2Z" fill="url(#hg5b)"/><path d="M177.7 96.5L180.5 98.2L183 101.5L185.2 106L187.1 111.2L188.5 116.7L189.6 121.9L190.4 126.4L191 129.6L191.6 131.3L173.9 130.3L173.4 130.3L172.9 128.6L172.2 125.3L171.4 120.9L170.3 115.7L168.9 110.2L167 104.9L164.8 100.5L162.3 97.2ZM209.5 98.2L212.5 98.4L215.2 100.2L217.7 103.5L219.9 108L221.7 113.2L223.2 118.7L224.3 123.9L225.1 128.3L225.7 131.5L226.2 133.2L208.6 132.2L208 132.2L207.5 130.5L206.9 127.3L206.1 122.9L205 117.7L203.5 112.2L201.7 107L199.5 102.5L197 99.2L194.2 97.4ZM244.2 100.1L247.1 100.2L249.8 102.1L252.4 105.4L254.6 109.9L256.4 115.1L257.8 120.6L258.9 125.7L259.7 130.1L260.3 133.3L260.8 135L243.2 134.1L242.6 134L242.1 132.3L241.5 129.1L240.7 124.7L239.6 119.5L238.2 114.1L236.4 108.9L234.2 104.4L231.6 101.1L228.9 99.3ZM278.8 102L281.7 102.1L284.5 103.9L287 107.2L289.2 111.7L291 117L292.4 122.4L293.5 127.6L294.3 132L294.9 135.2L295.5 136.9L277.8 136L277.3 135.9L276.7 134.2L276.1 131L275.3 126.6L274.2 121.4L272.8 115.9L271 110.7L268.8 106.2L266.3 102.9L263.5 101.1ZM313.4 103.8L316.3 104L319.1 105.8L321.6 109.1L323.8 113.6L325.6 118.8L327.1 124.3L328.2 129.5L329 133.9L329.6 137.1L330.1 138.8L312.4 137.8L311.9 137.8L311.4 136.1L310.8 132.9L310 128.5L308.9 123.3L307.4 117.8L305.6 112.6L303.4 108.1L300.9 104.8L298.1 103ZM348.1 105.7L351 105.9L353.7 107.7L356.3 111L358.4 115.5L360.3 120.7L361.7 126.2L362.8 131.4L363.6 135.8L364.2 139L364.7 140.6L347.1 139.7L346.5 139.7L346 138L345.4 134.8L344.6 130.3L343.5 125.2L342.1 119.7L340.2 114.5L338.1 110L335.5 106.7L332.8 104.9ZM382.7 107.6L385.6 107.7L388.4 109.5L390.9 112.9L393.1 117.3L394.9 122.6L396.3 128L397.4 133.2L398.2 137.6L398.8 140.8L399.3 142.5L381.7 141.6L381.2 141.5L380.6 139.8L380 136.6L379.2 132.2L378.1 127L376.7 121.6L374.9 116.3L372.7 111.9L370.2 108.5L367.4 106.7ZM417.3 109.4L420.2 109.6L423 111.4L425.5 114.7L427.7 119.2L429.5 124.4L431 129.9L432.1 135.1L432.9 139.5L433.5 142.7L434 144.4L416.3 143.4L415.8 143.4L415.3 141.7L414.7 138.5L413.9 134.1L412.8 128.9L411.3 123.4L409.5 118.2L407.3 113.7L404.8 110.4L402 108.6ZM451.9 111.3L454.9 111.5L457.6 113.3L460.1 116.6L462.3 121.1L464.2 126.3L465.6 131.8L466.7 137L467.5 141.4L468.1 144.6L468.6 146.3L451 145.3L450.4 145.3L449.9 143.6L449.3 140.4L448.5 136L447.4 130.8L446 125.3L444.1 120.1L441.9 115.6L439.4 112.3L436.7 110.5ZM486.6 113.2L489.5 113.3L492.3 115.2L494.8 118.5L497 122.9L498.8 128.2L500.2 133.6L501.3 138.8L502.1 143.2L502.7 146.4L503.2 148.1L485.6 147.2L485 147.1L484.5 145.4L483.9 142.2L483.1 137.8L482 132.6L480.6 127.2L478.8 121.9L476.6 117.5L474.1 114.2L471.3 112.3ZM521.2 115L524.3 115.3L527.2 117.4L529.8 121.1L532.1 126.1L515.6 130.4L513.8 124.7L511.5 119.8L508.8 116.2L505.9 114.2Z" fill="url(#hg5f)"/></g><path d="M514 118C515.33 118.5 520.17 119 522 121C523.83 123 524.67 127.33 525 130C525.33 132.67 524.17 135.83 524 137" stroke="#5a5a5a" stroke-width="2.2" fill="none" stroke-linecap="round" stroke-linejoin="round"/><g><path d="M72.2 125.7L72.8 125.6L73.3 123.8L73.8 120.4L74.4 115.7L75.3 110.1L76.6 104.3L78.2 98.6L80.4 93.8L82.9 90.2L85.7 88.1L69.6 89.8L66.5 90.1L63.6 92.1L61.1 95.7L59 100.6L57.4 106.2L56.1 112.1L55.2 117.6L54.6 122.3L54.1 125.7L53.6 127.5ZM108.8 122L109.4 121.9L109.8 120.1L110.3 116.7L110.9 112L111.9 106.5L113.1 100.6L114.8 95L116.9 90.2L119.4 86.5L122.2 84.5L106.1 86.1L103 86.4L100.2 88.5L97.7 92.1L95.6 96.9L93.9 102.6L92.7 108.4L91.8 114L91.1 118.6L90.6 122.1L90.2 123.9ZM145.3 118.4L145.9 118.3L146.4 116.5L146.9 113.1L147.5 108.4L148.4 102.8L149.6 97L151.3 91.3L153.4 86.5L155.9 82.9L158.8 80.8L142.6 82.4L139.6 82.8L136.7 84.8L134.2 88.4L132.1 93.3L130.4 98.9L129.2 104.8L128.3 110.3L127.7 115L127.2 118.4L126.7 120.2Z" fill="url(#hg6b)"/><path d="M70.6 121.8L71.6 124.3L72.2 125.7L53.6 127.5L53.1 127.7L52.5 126.5ZM85.7 88.1L88.8 87.8L92 89.3L95.1 92.3L98.1 96.7L100.9 101.9L103.3 107.4L105.3 112.6L106.8 117.1L108 120.3L108.8 122L90.2 123.9L89.6 123.9L88.8 122.2L87.6 119L86.1 114.5L84.1 109.2L81.7 103.8L78.9 98.6L75.9 94.2L72.7 91.2L69.6 89.8ZM122.2 84.5L125.3 84.2L128.5 85.6L131.7 88.7L134.7 93L137.4 98.2L139.8 103.7L141.8 108.9L143.4 113.4L144.5 116.7L145.3 118.4L126.7 120.2L126.1 120.3L125.3 118.6L124.2 115.3L122.6 110.8L120.6 105.6L118.2 100.1L115.5 94.9L112.5 90.6L109.3 87.5L106.1 86.1ZM158.8 80.8L162 80.6L165.4 82.3L168.8 85.8L171.9 90.6L174.7 96.2L177.1 102L179.1 107.3L180.5 111.5L162.3 116L161.2 113.2L159.8 108.9L157.8 103.6L155.4 97.8L152.5 92.2L149.4 87.4L146 84L142.6 82.4Z" fill="url(#hg6f)"/></g><path d="M35 107C37.5 106.83 45.5 105.83 50 106C54.5 106.17 60 107.67 62 108" stroke="#5a5a5a" stroke-width="2.2" fill="none" stroke-linecap="round" stroke-linejoin="round"/><g><path d="M84 189L84.6 189L85 187.1L85.4 183.7L85.9 179L86.6 173.4L87.7 167.5L89.2 161.9L91.2 157L93.6 153.3L96.4 151.2L80.3 153.2L77.2 153.6L74.4 155.8L72 159.5L70.1 164.4L68.6 170L67.5 175.9L66.7 181.5L66.2 186.2L65.9 189.6L65.4 191.4ZM120.4 184.3L121 184.3L121.4 182.4L121.8 179L122.3 174.3L123 168.7L124.1 162.8L125.6 157.2L127.6 152.3L130 148.6L132.8 146.5L116.7 148.5L113.6 148.9L110.9 151.1L108.5 154.8L106.5 159.7L105 165.3L103.9 171.2L103.2 176.8L102.7 181.5L102.3 184.9L101.9 186.7ZM156.8 179.6L157.4 179.6L157.8 177.7L158.2 174.3L158.7 169.6L159.4 164L160.5 158.1L162.1 152.5L164 147.6L166.4 143.9L169.2 141.7L153.1 143.8L150 144.2L147.3 146.4L144.9 150.1L142.9 155L141.4 160.6L140.3 166.5L139.6 172.1L139.1 176.8L138.7 180.2L138.3 182ZM193.2 174.9L193.8 174.9L194.2 173L194.6 169.6L195.1 164.9L195.9 159.3L197 153.4L198.5 147.8L200.4 142.9L202.8 139.2L205.6 137L189.5 139.1L186.5 139.5L183.7 141.7L181.3 145.4L179.3 150.3L177.8 155.9L176.7 161.8L176 167.4L175.5 172.1L175.1 175.5L174.7 177.3ZM229.7 170.2L230.2 170.2L230.7 168.3L231 164.9L231.5 160.2L232.3 154.6L233.4 148.7L234.9 143.1L236.8 138.2L239.2 134.5L242 132.3L225.9 134.4L222.9 134.8L220.1 137L217.7 140.6L215.7 145.6L214.2 151.2L213.1 157.1L212.4 162.7L211.9 167.4L211.5 170.8L211.1 172.6ZM266.1 165.5L266.7 165.5L267.1 163.6L267.5 160.2L268 155.5L268.7 149.9L269.8 144L271.3 138.4L273.3 133.5L275.7 129.8L278.4 127.6L262.4 129.7L259.3 130.1L256.5 132.3L254.1 135.9L252.2 140.9L250.7 146.5L249.6 152.4L248.8 158L248.3 162.7L247.9 166.1L247.5 167.9ZM302.5 160.8L303.1 160.7L303.5 158.9L303.9 155.5L304.4 150.8L305.1 145.3L287.1 141.9L286 147.8L285.2 153.3L284.7 158L284.4 161.4L283.9 163.2Z" fill="url(#hg7b)"/><path d="M70.1 160.5L73.1 164.8L75.9 169.8L78.3 175.1L80.4 180.1L82 184.4L83.2 187.5L84 189L65.4 191.4L64.9 191.5L64.1 190L62.9 186.9L61.3 182.7L59.2 177.7L56.8 172.4L54 167.4ZM96.4 151.2L99.4 150.8L102.7 152.1L105.9 155.1L109.1 159.3L111.9 164.4L114.5 169.9L116.6 175L118.3 179.5L119.6 182.7L120.4 184.3L101.9 186.7L101.3 186.8L100.4 185.1L99.2 181.9L97.5 177.5L95.4 172.3L92.8 166.9L89.9 161.8L86.8 157.5L83.5 154.6L80.3 153.2ZM132.8 146.5L135.8 146.1L139.1 147.4L142.3 150.4L145.5 154.6L148.4 159.7L150.9 165.1L153 170.3L154.7 174.8L156 178L156.8 179.6L138.3 182L137.7 182.1L136.8 180.4L135.6 177.2L133.9 172.8L131.8 167.6L129.2 162.2L126.3 157.1L123.2 152.8L119.9 149.9L116.7 148.5ZM169.2 141.7L172.3 141.4L175.5 142.7L178.7 145.7L181.9 149.9L184.8 155L187.3 160.4L189.5 165.6L191.1 170.1L192.4 173.3L193.2 174.9L174.7 177.3L174.1 177.4L173.3 175.7L172 172.5L170.3 168.1L168.2 162.9L165.6 157.5L162.7 152.4L159.6 148.1L156.3 145.2L153.1 143.8ZM205.6 137L208.7 136.7L211.9 138L215.2 141L218.3 145.2L221.2 150.3L223.8 155.7L225.9 160.9L227.6 165.4L228.8 168.6L229.7 170.2L211.1 172.6L210.5 172.7L209.7 171L208.4 167.8L206.7 163.4L204.6 158.2L202.1 152.8L199.2 147.7L196 143.4L192.8 140.5L189.5 139.1ZM242 132.3L245.1 131.9L248.3 133.3L251.6 136.3L254.7 140.5L257.6 145.6L260.2 151L262.3 156.2L264 160.7L265.2 163.9L266.1 165.5L247.5 167.9L247 168L246.1 166.3L244.8 163.1L243.2 158.7L241 153.5L238.5 148.1L235.6 143L232.4 138.7L229.2 135.8L225.9 134.4ZM278.4 127.6L281.5 127.2L284.7 128.6L288 131.6L291.1 135.8L294 140.9L296.6 146.3L298.7 151.5L300.4 156L301.6 159.2L302.5 160.8L283.9 163.2L283.4 163.3L282.5 161.6L281.3 158.4L279.6 154L277.4 148.8L274.9 143.4L272 138.3L268.8 134L265.6 131.1L262.4 129.7Z" fill="url(#hg7f)"/></g><g><path d="M322.5 157.5L323 157.5L323.4 155.7L323.8 152.5L324.4 148L325.1 142.8L326.2 137.2L327.7 131.9L329.7 127.3L332 123.9L334.6 121.9L319.4 123.6L316.5 124L313.9 126L311.6 129.4L309.6 134L308.1 139.4L307 144.9L306.3 150.2L305.7 154.6L305.3 157.8L304.9 159.5ZM356.9 153.5L357.5 153.5L357.9 151.8L358.3 148.5L358.8 144.1L359.6 138.8L360.7 133.3L362.2 127.9L364.1 123.3L366.4 119.9L369.1 117.9L353.9 119.7L351 120L348.3 122L346 125.5L344.1 130.1L342.6 135.4L341.5 140.9L340.7 146.2L340.2 150.6L339.8 153.9L339.4 155.6ZM391.4 149.6L391.9 149.5L392.3 147.8L392.7 144.5L393.3 140.1L394 134.8L395.1 129.3L396.6 124L398.6 119.4L400.9 115.9L403.5 113.9L388.3 115.7L385.4 116L382.8 118L380.5 121.5L378.5 126.1L377 131.4L375.9 137L375.2 142.2L374.6 146.6L374.2 149.9L373.8 151.6ZM425.8 145.6L426.3 145.6L426.8 144L427.1 141L427.6 136.9L428.3 131.9L429.3 126.6L430.7 121.4L432.4 116.7L434.5 113L418.9 112.6L416.5 115L414.3 118.7L412.6 123.3L411.3 128.5L410.3 133.8L409.5 138.8L409.1 143L408.7 146L408.3 147.6Z" fill="url(#hg8b)"/><path d="M309.7 130.4L312.5 134.5L315.1 139.3L317.3 144.3L319.1 149L320.6 153.1L321.7 156L322.5 157.5L304.9 159.5L304.4 159.6L303.6 158.1L302.5 155.2L301.1 151.2L299.2 146.5L297 141.5L294.5 136.7ZM334.6 121.9L337.5 121.6L340.6 122.9L343.6 125.7L346.5 129.8L349.2 134.6L351.5 139.8L353.5 144.7L355 148.9L356.1 152L356.9 153.5L339.4 155.6L338.8 155.6L338 154L336.9 151L335.4 146.8L333.4 141.8L331.1 136.7L328.4 131.8L325.5 127.8L322.4 125L319.4 123.6ZM369.1 117.9L372 117.6L375 118.9L378 121.8L381 125.8L383.6 130.7L386 135.8L387.9 140.7L389.4 144.9L390.6 148L391.4 149.6L373.8 151.6L373.3 151.7L372.5 150.1L371.3 147L369.8 142.8L367.9 137.9L365.5 132.7L362.8 127.9L359.9 123.8L356.9 121L353.9 119.7ZM403.5 113.9L406.4 113.6L409.5 114.9L412.5 117.8L415.4 121.8L418.1 126.7L420.4 131.8L422.4 136.8L423.9 141L425 144L425.8 145.6L408.3 147.6L407.7 147.7L406.9 146.1L405.8 143L404.3 138.8L402.3 133.9L400 128.7L397.3 123.9L394.4 119.8L391.3 117L388.3 115.7Z" fill="url(#hg8f)"/></g><path d="M34 178C35.83 179 41.17 183 45 184C48.83 185 53.5 184.83 57 184C60.5 183.17 64.5 179.83 66 179" stroke="#5a5a5a" stroke-width="2.2" fill="none" stroke-linecap="round" stroke-linejoin="round"/><path d="M75 95C78.33 95.67 88.33 98.67 95 99C101.67 99.33 107.5 97.33 115 97C122.5 96.67 132.67 97.17 140 97C147.33 96.83 155.83 96.17 159 96" stroke="#d8232a" stroke-width="2.4" fill="none" stroke-linecap="round" stroke-linejoin="round"/><g><path d="M180.2 99.3L180.7 99.3L181.4 97.6L182.4 94.5L183.6 90.2L185.2 85.2L187.2 79.9L189.6 74.9L192.3 70.7L195.1 67.6L198 66.1L182.8 65.3L179.8 65.2L176.9 66.7L174 69.7L171.4 74L169 79L167 84.3L165.4 89.3L164.2 93.6L163.2 96.7L162.5 98.4ZM214.8 101L215.4 101L216 99.4L217 96.3L218.2 92L219.9 86.9L221.9 81.6L224.2 76.6L226.9 72.4L229.7 69.4L232.7 67.9L217.4 67.1L214.5 67L211.5 68.5L208.7 71.5L206 75.7L203.7 80.7L201.7 86L200 91.1L198.8 95.4L197.9 98.5L197.2 100.1ZM249.4 102.8L250 102.8L250.7 101.2L251.6 98L252.9 93.7L254.5 88.7L256.5 83.4L258.9 78.4L261.5 74.2L264.4 71.2L267.3 69.7L252 68.9L249.1 68.7L246.2 70.2L243.3 73.3L240.7 77.5L238.3 82.5L236.3 87.8L234.7 92.8L233.4 97.1L232.5 100.3L231.8 101.9ZM284.1 104.5L284.6 104.6L285.3 102.9L286.3 99.8L287.5 95.5L289.1 90.5L291.1 85.2L293.5 80.2L296.2 75.9L299 72.9L302 71.4L286.7 70.6L283.7 70.5L280.8 72L277.9 75L275.3 79.3L272.9 84.3L270.9 89.6L269.3 94.6L268.1 98.9L267.1 102L266.4 103.6ZM318.7 106.3L319.3 106.3L320 104.7L320.9 101.6L322.2 97.3L323.8 92.2L325.8 86.9L328.1 81.9L330.8 77.7L333.6 74.7L336.6 73.2L321.3 72.4L318.4 72.3L315.4 73.8L312.6 76.8L309.9 81L307.6 86L305.6 91.3L303.9 96.4L302.7 100.7L301.8 103.8L301.1 105.4ZM353.3 108.1L353.9 108.1L354.6 106.5L355.5 103.3L356.8 99L358.4 94L360.4 88.7L362.8 83.7L365.4 79.5L368.3 76.5L371.2 74.9L355.9 74.2L353 74L350.1 75.5L347.2 78.6L344.6 82.8L342.2 87.8L340.2 93.1L338.6 98.1L337.3 102.4L336.4 105.6L335.7 107.2ZM388 109.8L388.5 109.9L389.2 108.2L390.2 105.1L391.4 100.8L393 95.8L395.1 90.5L397.4 85.5L400.1 81.2L402.9 78.2L405.9 76.7L390.6 75.9L387.6 75.8L384.7 77.3L381.9 80.3L379.2 84.6L376.8 89.6L374.8 94.9L373.2 99.9L372 104.2L371 107.3L370.3 108.9ZM422.6 111.6L423.2 111.6L423.9 110L424.8 106.9L426.1 102.6L427.7 97.5L429.7 92.2L432 87.2L434.7 83L437.5 80L440.5 78.5L425.2 77.7L422.3 77.6L419.3 79.1L416.5 82.1L413.8 86.3L411.5 91.3L409.5 96.6L407.9 101.7L406.6 106L405.7 109.1L405 110.7ZM457.3 113.4L457.8 113.4L458.5 111.8L459.4 108.6L460.7 104.3L462.3 99.3L464.3 94L466.7 89L469.3 84.8L472.2 81.8L475.1 80.2L459.8 79.5L456.9 79.3L454 80.8L451.1 83.9L448.5 88.1L446.1 93.1L444.1 98.4L442.5 103.4L441.2 107.7L440.3 110.8L439.6 112.5Z" fill="url(#hg9b)"/><path d="M165.3 64.3L168.2 65.6L170.9 68.6L173.3 72.9L175.3 78.2L176.9 83.9L178.1 89.4L179 94.1L179.6 97.5L180.2 99.3L162.5 98.4L162 98.3L161.4 96.4L160.8 92.9L159.9 88.2L158.7 82.7L157.1 77.1L155 71.8L152.6 67.5L149.9 64.5ZM198 66.1L201 66.3L203.7 68.1L206.3 71.4L208.5 75.9L210.3 81.1L211.8 86.6L212.9 91.7L213.7 96.1L214.3 99.3L214.8 101L197.2 100.1L196.6 100.1L196.1 98.4L195.5 95.2L194.7 90.8L193.6 85.6L192.1 80.1L190.3 74.9L188.1 70.4L185.5 67.1L182.8 65.3ZM232.7 67.9L235.6 68L238.4 69.9L240.9 73.2L243.1 77.6L244.9 82.9L246.4 88.3L247.5 93.5L248.3 97.9L248.9 101.1L249.4 102.8L231.8 101.9L231.2 101.9L230.7 100.2L230.1 97L229.3 92.5L228.2 87.4L226.7 81.9L224.9 76.7L222.7 72.2L220.2 68.9L217.4 67.1ZM267.3 69.7L270.2 69.8L273 71.6L275.5 74.9L277.7 79.4L279.6 84.6L281 90.1L282.1 95.3L282.9 99.7L283.6 102.9L284.1 104.5L266.4 103.6L265.9 103.6L265.4 101.9L264.7 98.7L263.9 94.3L262.8 89.1L261.4 83.7L259.5 78.4L257.3 74L254.8 70.7L252 68.9ZM302 71.4L304.9 71.6L307.6 73.4L310.2 76.7L312.4 81.2L314.2 86.4L315.7 91.8L316.8 97L317.6 101.4L318.2 104.6L318.7 106.3L301.1 105.4L300.5 105.4L300 103.7L299.4 100.5L298.6 96.1L297.5 90.9L296 85.4L294.2 80.2L292 75.7L289.4 72.4L286.7 70.6ZM336.6 73.2L339.5 73.3L342.3 75.1L344.8 78.4L347 82.9L348.8 88.1L350.3 93.6L351.4 98.8L352.2 103.2L352.8 106.4L353.3 108.1L335.7 107.2L335.2 107.1L334.6 105.4L334 102.2L333.2 97.8L332.1 92.7L330.6 87.2L328.8 82L326.6 77.5L324.1 74.2L321.3 72.4ZM371.2 74.9L374.1 75.1L376.9 76.9L379.4 80.2L381.6 84.7L383.5 89.9L384.9 95.4L386 100.6L386.8 105L387.5 108.2L388 109.8L370.3 108.9L369.8 108.9L369.3 107.2L368.7 104L367.8 99.6L366.7 94.4L365.3 89L363.4 83.7L361.2 79.3L358.7 76L355.9 74.2ZM405.9 76.7L408.8 76.9L411.5 78.7L414.1 82L416.3 86.5L418.1 91.7L419.6 97.1L420.7 102.3L421.5 106.7L422.1 109.9L422.6 111.6L405 110.7L404.4 110.7L403.9 109L403.3 105.8L402.5 101.4L401.4 96.2L399.9 90.7L398.1 85.5L395.9 81L393.3 77.7L390.6 75.9ZM440.5 78.5L443.4 78.6L446.2 80.4L448.7 83.7L450.9 88.2L452.7 93.4L454.2 98.9L455.3 104.1L456.1 108.5L456.7 111.7L457.3 113.4L439.6 112.5L439.1 112.4L438.5 110.7L437.9 107.5L437.1 103.1L436 97.9L434.5 92.5L432.7 87.3L430.5 82.8L428 79.5L425.2 77.7ZM475.1 80.2L478 80.4L480.7 82.1L465 84.4L462.5 81.2L459.8 79.5Z" fill="url(#hg9f)"/></g><path d="M470 97C470.67 98.33 472.33 102.83 474 105C475.67 107.17 475.67 108.17 480 110C484.33 111.83 496.67 115 500 116" stroke="#d8232a" stroke-width="2.2" fill="none" stroke-linecap="round" stroke-linejoin="round"/><path d="M75 234C76.83 232 82.17 224.33 86 222C89.83 219.67 94.33 218.67 98 220C101.67 221.33 104.67 228 108 230C111.33 232 113.5 232 118 232C122.5 232 129.33 228.67 135 230C140.67 231.33 149.17 238.33 152 240" stroke="#d8232a" stroke-width="2.4" fill="none" stroke-linecap="round" stroke-linejoin="round"/><g><path d="M178.6 256.4L179.1 256.2L179.4 254.4L179.5 250.9L179.6 246.2L179.9 240.6L180.5 234.6L181.6 228.8L183.1 223.8L185.2 219.9L187.8 217.6L172 220.9L169 221.6L166.4 223.9L164.3 227.8L162.7 232.9L161.7 238.6L161 244.6L160.7 250.2L160.6 254.9L160.5 258.4L160.3 260.2ZM214.5 248.7L215 248.6L215.3 246.8L215.4 243.3L215.5 238.6L215.8 233L216.5 227L217.5 221.2L219.1 216.2L221.2 212.3L223.8 210L207.9 213.3L204.9 214L202.3 216.3L200.2 220.2L198.6 225.3L197.6 231L197 237L196.7 242.6L196.5 247.3L196.4 250.8L196.2 252.6ZM250.4 241.1L251 241L251.2 239.2L251.3 235.7L251.5 231L251.8 225.3L252.4 219.4L253.4 213.6L255 208.6L257.1 204.7L259.7 202.4L243.8 205.7L240.8 206.4L238.2 208.7L236.1 212.6L234.5 217.7L233.5 223.4L232.9 229.4L232.6 235L232.5 239.7L232.4 243.2L232.1 245ZM286.3 233.5L286.9 233.4L287.2 231.5L287.3 228.1L287.4 223.3L287.7 217.7L288.3 211.8L289.4 206L290.9 201L293 197.1L295.6 194.8L279.7 198.1L276.7 198.8L274.1 201.1L272 205L270.5 210L269.4 215.8L268.8 221.8L268.5 227.4L268.4 232.1L268.3 235.6L268 237.4ZM322.2 225.9L322.8 225.8L323.1 224L323.2 220.7L323.3 216L323.6 210.5L324.2 204.7L306.3 202.9L305.3 208.6L304.7 214.5L304.4 220L304.3 224.6L304.2 228L303.9 229.8Z" fill="url(#hg10b)"/><path d="M155.8 224.7L159.1 226.2L162.5 229.1L165.8 233.2L169 238L171.8 243L174.2 247.8L176.2 251.9L177.6 254.8L178.6 256.4L160.3 260.2L159.7 260.4L158.8 258.9L157.3 256L155.4 251.9L153 247.1L150.2 242.1L147.1 237.3L143.7 233.2L140.3 230.2ZM187.8 217.6L190.9 217L194.2 218.1L197.7 220.7L201.1 224.7L204.4 229.6L207.4 234.8L210 239.8L212 244.1L213.5 247.2L214.5 248.7L196.2 252.6L195.6 252.7L194.6 251.1L193.1 248L191.1 243.7L188.5 238.7L185.6 233.5L182.3 228.7L178.8 224.7L175.3 222L172 220.9ZM223.8 210L226.8 209.3L230.1 210.4L233.6 213.1L237.1 217.1L240.4 222L243.3 227.2L245.9 232.2L247.9 236.4L249.4 239.6L250.4 241.1L232.1 245L231.5 245.1L230.5 243.5L229 240.4L227 236.1L224.5 231.1L221.5 225.9L218.2 221.1L214.7 217.1L211.2 214.4L207.9 213.3ZM259.7 202.4L262.7 201.7L266 202.8L269.5 205.5L273 209.5L276.3 214.4L279.3 219.6L281.8 224.6L283.8 228.8L285.3 231.9L286.3 233.5L268 237.4L267.5 237.5L266.5 235.9L265 232.8L262.9 228.5L260.4 223.5L257.4 218.3L254.1 213.5L250.6 209.5L247.1 206.8L243.8 205.7ZM295.6 194.8L298.6 194.1L302 195.2L305.4 197.9L308.9 201.9L312.2 206.8L315.2 211.9L317.7 217L319.8 221.2L321.3 224.3L322.2 225.9L303.9 229.8L303.4 229.9L302.4 228.3L300.9 225.2L298.8 220.9L296.3 215.9L293.3 210.7L290 205.9L286.6 201.9L283.1 199.2L279.7 198.1Z" fill="url(#hg10f)"/></g><g><path d="M346.7 220.3L347.2 220.2L347.5 218.5L347.7 215.2L347.9 210.7L348.3 205.5L349 199.8L350.2 194.4L351.8 189.7L353.8 186.1L356.3 183.9L341.3 186.7L338.4 187.3L335.9 189.4L333.8 193.1L332.3 197.8L331.1 203.2L330.4 208.8L330 214.1L329.8 218.6L329.6 221.8L329.3 223.6ZM380.8 214L381.3 213.9L381.6 212.1L381.8 208.9L382 204.4L382.4 199.1L383.1 193.5L384.3 188.1L385.9 183.4L387.9 179.8L390.4 177.6L375.4 180.4L372.5 180.9L370 183.1L367.9 186.7L366.3 191.4L365.2 196.9L364.5 202.5L364.1 207.8L363.9 212.2L363.7 215.5L363.4 217.2ZM414.9 207.6L415.4 207.5L415.7 205.8L415.9 202.5L416.1 198.1L416.5 192.8L417.2 187.2L418.4 181.7L420 177L422 173.4L424.5 171.3L409.5 174.1L406.6 174.6L404.1 176.8L402 180.4L400.4 185.1L399.3 190.5L398.6 196.1L398.2 201.4L398 205.9L397.8 209.1L397.5 210.9ZM449 201.3L449.5 201.2L449.8 199.4L450 196.2L450.2 191.7L450.6 186.4L451.3 180.8L452.5 175.4L454 170.7L456.1 167.1L458.6 164.9L443.6 167.7L440.7 168.3L438.2 170.4L436.1 174L434.5 178.8L433.4 184.2L432.7 189.8L432.3 195.1L432.1 199.5L431.9 202.8L431.6 204.5ZM483.1 195L483.6 194.9L483.9 193.1L484.1 189.8L484.3 185.4L484.7 180.1L485.4 174.5L486.6 169.1L488.1 164.3L490.2 160.7L492.7 158.6L477.7 161.4L474.8 161.9L472.3 164.1L470.2 167.7L468.6 172.4L467.5 177.8L466.8 183.4L466.4 188.7L466.2 193.2L466 196.4L465.7 198.2Z" fill="url(#hg11b)"/><path d="M326 189.9L329 191.4L332.1 194.2L335.2 198.1L338.1 202.7L340.6 207.6L342.8 212.2L344.5 216.1L345.8 218.9L346.7 220.3L329.3 223.6L328.8 223.7L327.9 222.3L326.7 219.5L324.9 215.6L322.8 211L320.2 206.2L317.4 201.6L314.3 197.6L311.2 194.8ZM356.3 183.9L359.2 183.4L362.3 184.5L365.6 187.2L368.7 191L371.7 195.7L374.4 200.6L376.7 205.4L378.5 209.5L379.9 212.5L380.8 214L363.4 217.2L362.9 217.3L362 215.8L360.6 212.8L358.8 208.7L356.5 203.9L353.8 199L350.8 194.3L347.6 190.5L344.4 187.9L341.3 186.7ZM390.4 177.6L393.3 177.1L396.4 178.2L399.7 180.8L402.8 184.7L405.8 189.3L408.5 194.3L410.8 199.1L412.6 203.2L414 206.1L414.9 207.6L397.5 210.9L396.9 211L396 209.4L394.7 206.5L392.9 202.4L390.6 197.6L387.9 192.6L384.9 188L381.7 184.1L378.5 181.5L375.4 180.4ZM424.5 171.3L427.4 170.7L430.5 171.8L433.7 174.5L436.9 178.3L439.9 183L442.6 187.9L444.9 192.7L446.7 196.8L448.1 199.8L449 201.3L431.6 204.5L431 204.6L430.1 203.1L428.8 200.1L427 196L424.7 191.2L422 186.3L419 181.6L415.8 177.8L412.6 175.2L409.5 174.1ZM458.6 164.9L461.5 164.4L464.6 165.5L467.8 168.1L471 172L474 176.6L476.7 181.6L479 186.4L480.8 190.5L482.2 193.4L483.1 195L465.7 198.2L465.1 198.3L464.2 196.8L462.9 193.8L461.1 189.7L458.8 184.9L456.1 179.9L453.1 175.3L449.9 171.4L446.7 168.8L443.6 167.7ZM492.7 158.6L495.8 158.1L499.2 159.5L484.6 165.7L481.1 162.6L477.7 161.4Z" fill="url(#hg11f)"/></g><path d="M487 178C488.33 176.67 492.5 172.5 495 170C497.5 167.5 500.83 164.17 502 163" stroke="#d8232a" stroke-width="2.4" fill="none" stroke-linecap="round" stroke-linejoin="round"/><text x="538.94" y="137.4" font-size="26" fill="#58595b" textLength="47.85" lengthAdjust="spacingAndGlyphs">HR1</text><text x="306.7" y="261" font-size="25.6" fill="#e31e24">HR2</text><g><path d="M886.7 156.4L887.2 156.5L887.9 155.2L888.9 152.7L890.3 149.3L892 145.3L894.1 141.1L896.4 137.2L899 134L901.5 131.7L904.1 130.7L891.6 128.8L889.2 128.5L886.7 129.5L884.1 131.7L881.6 135L879.3 138.9L877.2 143L875.4 147L874 150.5L873 152.9L872.3 154.2ZM914.9 160.7L915.4 160.8L916.1 159.5L917.1 157L918.5 153.6L920.3 149.6L922.3 145.4L924.7 141.5L927.2 138.3L929.8 136L932.3 135L919.9 133.1L917.5 132.8L914.9 133.8L912.4 136L909.8 139.3L907.5 143.2L905.4 147.4L903.7 151.3L902.3 154.8L901.3 157.2L900.6 158.5ZM943.2 165L943.6 165.1L944.3 163.8L945.3 161.3L946.7 157.9L948.5 153.9L950.6 149.7L952.9 145.8L955.4 142.6L958 140.3L960.6 139.3L948.1 137.4L945.7 137.1L943.2 138.1L940.6 140.3L938.1 143.6L935.7 147.5L933.6 151.7L931.9 155.7L930.5 159.1L929.5 161.5L928.8 162.8ZM971.4 169.3L971.9 169.4L972.6 168.1L973.6 165.6L975 162.2L976.7 158.2L978.8 154L981.1 150.1L983.7 146.9L986.2 144.6L988.8 143.7L976.3 141.8L973.9 141.4L971.4 142.4L968.8 144.6L966.3 147.9L964 151.8L961.9 156L960.1 160L958.7 163.4L957.7 165.9L957 167.1Z" fill="url(#hg12b)"/><path d="M882.4 132.1L883.8 135.9L884.8 140.3L885.5 144.8L885.9 149L886.2 152.5L886.4 155L886.7 156.4L872.3 154.2L871.9 154.2L871.6 152.8L871.4 150.3L871.1 146.8L870.6 142.6L870 138.1L869 133.8ZM904.1 130.7L906.5 131.1L908.6 132.8L910.4 135.7L911.8 139.6L912.9 144L913.6 148.6L914.1 152.9L914.4 156.6L914.7 159.3L914.9 160.7L900.6 158.5L900.1 158.4L899.8 157L899.6 154.3L899.3 150.7L898.8 146.3L898.1 141.7L897 137.3L895.5 133.4L893.7 130.5L891.6 128.8ZM932.3 135L934.7 135.4L936.8 137.1L938.6 140L940 143.9L941.1 148.3L941.9 152.9L942.3 157.2L942.6 160.9L942.9 163.6L943.2 165L928.8 162.8L928.3 162.8L928.1 161.3L927.8 158.6L927.5 155L927 150.6L926.3 146L925.2 141.6L923.8 137.8L922 134.8L919.9 133.1ZM960.6 139.3L962.9 139.7L965 141.4L966.8 144.3L968.3 148.2L969.4 152.6L970.1 157.2L970.6 161.6L970.9 165.2L971.1 167.9L971.4 169.3L957 167.1L956.6 167.1L956.3 165.6L956 162.9L955.7 159.3L955.3 154.9L954.5 150.3L953.4 145.9L952 142.1L950.2 139.2L948.1 137.4ZM988.8 143.7L991.1 144L993.2 145.6L994.9 148.3L996.4 152L997.4 156.2L998.2 160.6L998.7 164.9L984.2 166.5L983.9 162.8L983.4 158.5L982.6 154L981.6 149.8L980.1 146.1L978.4 143.4L976.3 141.8Z" fill="url(#hg12f)"/></g><g><path d="M675.2 195.3L675.7 195.3L676.4 193.7L677.2 190.5L678.3 186.2L679.7 181.1L681.5 175.7L683.7 170.6L686.2 166.3L688.9 163.2L691.8 161.5L676.5 161.3L673.6 161.3L670.7 162.9L668 166.1L665.5 170.4L663.3 175.5L661.5 180.8L660.1 185.9L659 190.3L658.1 193.4L657.5 195.1ZM709.9 195.8L710.4 195.8L711 194.1L711.9 191L713 186.6L714.4 181.5L716.2 176.2L718.4 171.1L720.9 166.7L723.6 163.6L726.5 162L711.2 161.8L708.2 161.8L705.4 163.4L702.6 166.5L700.1 170.9L698 175.9L696.2 181.3L694.7 186.4L693.6 190.7L692.8 193.9L692.2 195.5ZM744.5 196.3L745.1 196.3L745.7 194.6L746.5 191.4L747.6 187.1L749.1 182L750.9 176.6L753 171.5L755.5 167.2L758.3 164.1L761.2 162.5L745.8 162.3L742.9 162.2L740 163.9L737.3 167L734.8 171.3L732.7 176.4L730.8 181.8L729.4 186.9L728.3 191.2L727.5 194.4L726.9 196ZM779.2 196.7L779.8 196.7L780.4 195.1L781.2 191.9L782.3 187.6L783.7 182.5L785.6 177.1L787.7 172L790.2 167.7L793 164.6L795.8 162.9L780.5 162.7L777.6 162.7L774.7 164.3L772 167.5L769.5 171.8L767.3 176.9L765.5 182.2L764.1 187.3L763 191.7L762.2 194.8L761.5 196.5Z" fill="url(#hg13b)"/><path d="M661.7 161.9L664.6 164.7L667.2 169L669.4 174.2L671.3 179.9L672.7 185.4L673.8 190.1L674.6 193.5L675.2 195.3L657.5 195.1L656.9 195L656.3 193.1L655.5 189.6L654.4 184.8L653 179.3L651.1 173.7L648.9 168.5L646.2 164.3ZM691.8 161.5L694.7 161.6L697.6 163.3L700.2 166.5L702.6 170.9L704.6 176L706.3 181.4L707.6 186.6L708.5 190.9L709.3 194.1L709.9 195.8L692.2 195.5L691.6 195.5L691.1 193.9L690.3 190.7L689.3 186.3L688 181.2L686.4 175.8L684.4 170.6L682 166.2L679.3 163L676.5 161.3ZM726.5 162L729.4 162L732.2 163.8L734.9 167L737.3 171.4L739.3 176.5L740.9 181.9L742.2 187L743.2 191.4L744 194.6L744.5 196.3L726.9 196L726.3 196L725.7 194.3L725 191.1L724 186.8L722.7 181.6L721.1 176.2L719 171.1L716.7 166.7L714 163.5L711.2 161.8ZM761.2 162.5L764.1 162.5L766.9 164.2L769.6 167.4L771.9 171.8L774 177L775.6 182.4L776.9 187.5L777.9 191.9L778.6 195.1L779.2 196.7L761.5 196.5L761 196.5L760.4 194.8L759.7 191.6L758.7 187.2L757.4 182.1L755.7 176.7L753.7 171.5L751.3 167.2L748.7 164L745.8 162.3ZM795.8 162.9L798.7 163L801.6 164.7L804.2 167.8L806.5 172.2L808.6 177.3L810.2 182.6L811.5 187.7L794.3 191.9L793.3 187.5L792 182.4L790.4 177L788.3 171.9L786 167.6L783.3 164.4L780.5 162.7Z" fill="url(#hg13f)"/></g><g><path d="M823.6 196.8L824.1 196.8L824.7 195.1L825.5 191.9L826.5 187.5L827.8 182.4L829.5 177L831.5 171.9L833.9 167.5L836.6 164.3L839.4 162.6L824.1 162.8L821.2 162.8L818.3 164.5L815.7 167.7L813.3 172.1L811.2 177.2L809.6 182.6L808.2 187.7L807.2 192.1L806.5 195.3L805.9 196.9ZM858.3 196.4L858.8 196.4L859.4 194.7L860.1 191.6L861.1 187.2L862.5 182.1L864.1 176.7L866.2 171.5L868.6 167.1L871.2 163.9L874.1 162.3L858.8 162.4L855.9 162.4L853 164.1L850.3 167.3L848 171.7L845.9 176.9L844.2 182.3L842.9 187.4L841.9 191.8L841.2 194.9L840.6 196.6ZM892.9 196.1L893.5 196.1L894.1 194.4L894.8 191.2L895.8 186.8L897.1 181.7L898.8 176.3L900.9 171.2L903.3 166.8L905.9 163.6L908.8 161.9L893.4 162.1L890.5 162.1L887.7 163.8L885 167L882.6 171.4L880.6 176.5L878.9 181.9L877.6 187.1L876.6 191.4L875.9 194.6L875.3 196.2ZM927.6 195.7L928.2 195.7L928.8 194L929.5 190.9L930.5 186.5L931.8 181.4L933.5 176L935.5 170.8L937.9 166.4L940.6 163.3L943.4 161.6L928.1 161.7L925.2 161.8L922.4 163.4L919.7 166.6L917.3 171L915.3 176.2L913.6 181.6L912.3 186.7L911.3 191.1L910.5 194.2L909.9 195.9ZM962.3 195.4L962.8 195.4L963.4 193.7L964.2 190.5L965.2 186.1L966.5 181L968.2 175.6L970.2 170.5L972.6 166.1L975.3 162.9L978.1 161.2L962.8 161.4L959.9 161.4L957 163.1L954.4 166.3L952 170.7L949.9 175.8L948.3 181.2L947 186.4L946 190.7L945.2 193.9L944.6 195.6ZM997 195L997.5 195L998.1 193.4L998.8 190.3L999.8 186L1001.1 180.9L1002.8 175.6L1004.8 170.4L988.9 166.2L986.6 170.6L984.5 175.7L982.9 181.1L981.6 186.1L980.6 190.4L979.9 193.6L979.3 195.2Z" fill="url(#hg14b)"/><path d="M809.4 163.7L812.3 166.4L815 170.6L817.4 175.8L819.3 181.4L820.9 186.9L822.1 191.6L822.9 195L823.6 196.8L805.9 196.9L805.3 196.9L804.7 195L803.8 191.5L802.6 186.8L801 181.3L799 175.7L796.6 170.5L793.9 166.4ZM839.4 162.6L842.3 162.6L845.2 164.2L847.9 167.4L850.4 171.7L852.5 176.8L854.3 182.2L855.8 187.3L856.8 191.6L857.6 194.8L858.3 196.4L840.6 196.6L840 196.6L839.4 194.9L838.6 191.8L837.5 187.4L836.1 182.3L834.3 176.9L832.2 171.9L829.7 167.5L827 164.4L824.1 162.8ZM874.1 162.3L877 162.2L879.9 163.9L882.6 167L885.1 171.3L887.2 176.5L889 181.8L890.4 186.9L891.5 191.3L892.3 194.4L892.9 196.1L875.3 196.2L874.7 196.2L874.1 194.6L873.3 191.4L872.2 187.1L870.8 182L869 176.6L866.8 171.5L864.4 167.2L861.6 164L858.8 162.4ZM908.8 161.9L911.7 161.9L914.6 163.5L917.3 166.7L919.8 171L921.9 176.1L923.7 181.5L925.1 186.6L926.2 190.9L927 194.1L927.6 195.7L909.9 195.9L909.4 195.9L908.8 194.2L908 191.1L906.9 186.7L905.5 181.6L903.7 176.3L901.5 171.2L899.1 166.8L896.3 163.7L893.4 162.1ZM943.4 161.6L946.4 161.5L949.2 163.2L952 166.3L954.4 170.7L956.6 175.8L958.4 181.1L959.8 186.2L960.9 190.6L961.7 193.7L962.3 195.4L944.6 195.6L944.1 195.6L943.5 193.9L942.6 190.7L941.6 186.4L940.1 181.3L938.4 175.9L936.2 170.8L933.7 166.5L931 163.3L928.1 161.7ZM978.1 161.2L981 161.2L983.9 162.8L986.6 166L989.1 170.3L991.3 175.4L993 180.8L994.5 185.9L995.5 190.2L996.4 193.4L997 195L979.3 195.2L978.8 195.2L978.1 193.5L977.3 190.4L976.2 186L974.8 180.9L973 175.6L970.9 170.5L968.4 166.1L965.7 163L962.8 161.4Z" fill="url(#hg14f)"/></g><g><path d="M1019.2 197.3L1019.7 197.4L1020.6 195.9L1021.8 193.1L1023.4 189.2L1025.4 184.6L1027.8 179.9L1030.5 175.4L1033.4 171.7L1036.4 169.2L1039.3 168.1L1025.1 165.8L1022.4 165.4L1019.5 166.5L1016.5 169L1013.6 172.7L1010.9 177.2L1008.5 181.9L1006.4 186.5L1004.8 190.4L1003.6 193.2L1002.8 194.7ZM1051.5 202.4L1051.9 202.6L1052.5 201.6L1053.5 199.5L1038 193.2L1036.7 196.4L1035.7 198.6L1035 199.8Z" fill="url(#hg15b)"/><path d="M1011.3 164.4L1013.6 167.4L1015.4 171.7L1016.8 176.8L1017.7 182.4L1018.3 187.7L1018.6 192.2L1018.9 195.5L1019.2 197.3L1002.8 194.7L1002.3 194.5L1002 192.7L1001.7 189.3L1001.3 184.7L1000.7 179.4L999.8 173.8L998.4 168.7L996.5 164.4ZM1039.3 168.1L1042 168.5L1044.4 170.5L1046.5 173.8L1048.1 178.3L1049.3 183.3L1050.1 188.6L1050.6 193.6L1050.9 197.8L1051.1 200.8L1051.5 202.4L1035 199.8L1034.5 199.7L1034.2 198.1L1034 195L1033.6 190.8L1033.1 185.9L1032.3 180.6L1031.1 175.5L1029.5 171.1L1027.5 167.8L1025.1 165.8Z" fill="url(#hg15f)"/></g><g><path d="M1072.3 200.1L1072.8 200L1073.1 198.3L1073.4 195L1073.8 190.6L1074.4 185.3L1075.3 179.7L1076.6 174.3L1078.3 169.7L1080.5 166.1L1083.1 164.1L1068 166.4L1065.1 166.8L1062.5 168.9L1060.3 172.4L1058.6 177.1L1057.3 182.5L1056.4 188.1L1055.8 193.3L1055.4 197.8L1055.1 201L1054.8 202.8ZM1106.5 194.9L1107.1 194.8L1107.4 193L1107.7 189.8L1108.1 185.3L1108.7 180.1L1109.6 174.5L1110.9 169.1L1112.6 164.4L1114.8 160.9L1117.4 158.8L1102.2 161.1L1099.4 161.6L1096.8 163.7L1094.6 167.2L1092.9 171.9L1091.6 177.3L1090.7 182.8L1090.1 188.1L1089.7 192.6L1089.4 195.8L1089.1 197.5ZM1140.8 189.6L1141.4 189.6L1141.7 187.8L1142 184.6L1142.4 180.1L1143 174.8L1143.9 169.2L1145.2 163.9L1146.9 159.2L1149.1 155.7L1151.7 153.6L1136.5 155.9L1133.6 156.4L1131.1 158.4L1128.9 162L1127.1 166.6L1125.8 172L1124.9 177.6L1124.4 182.9L1124 187.3L1123.7 190.6L1123.4 192.3ZM1175.1 184.4L1175.6 184.4L1175.9 183.1L1176.2 180.4L1176.5 176.7L1159 174.5L1158.5 179L1158.2 182.8L1158 185.6L1157.6 187.1Z" fill="url(#hg16b)"/><path d="M1063.2 180.4L1065.9 185.6L1068.2 190.8L1070 195.2L1071.4 198.5L1072.3 200.1L1054.8 202.8L1054.2 202.8L1053.3 201.1L1051.9 197.8L1050.1 193.3L1047.8 188.1ZM1083.1 164.1L1086 163.6L1089.1 164.8L1092.2 167.6L1095.3 171.5L1098.1 176.3L1100.6 181.3L1102.8 186.2L1104.4 190.3L1105.7 193.3L1106.5 194.9L1089.1 197.5L1088.5 197.6L1087.7 196.1L1086.4 193L1084.7 188.9L1082.6 184L1080.1 179L1077.2 174.2L1074.2 170.3L1071 167.6L1068 166.4ZM1117.4 158.8L1120.3 158.4L1123.4 159.6L1126.5 162.3L1129.6 166.3L1132.4 171L1134.9 176.1L1137 180.9L1138.7 185.1L1140 188.1L1140.8 189.6L1123.4 192.3L1122.8 192.4L1122 190.8L1120.7 187.8L1119 183.7L1116.9 178.8L1114.4 173.7L1111.5 169L1108.5 165.1L1105.3 162.3L1102.2 161.1ZM1151.7 153.6L1154.6 153.2L1157.6 154.4L1160.8 157.1L1163.8 161.1L1166.7 165.8L1169.2 170.9L1171.3 175.7L1173 179.9L1174.3 182.9L1175.1 184.4L1157.6 187.1L1157.1 187.2L1156.2 185.6L1155 182.6L1153.3 178.4L1151.2 173.6L1148.7 168.5L1145.8 163.8L1142.7 159.8L1139.6 157.1L1136.5 155.9Z" fill="url(#hg16f)"/></g><g><path d="M1186.5 184.2L1187 184.2L1187.4 182.7L1188 179.9L1188.7 176L1189.7 171.4L1191 166.6L1192.7 162L1194.6 158.1L1196.9 155.2L1199.3 153.6L1185.8 154.2L1183.2 154.4L1180.8 156L1178.6 158.9L1176.6 162.8L1175 167.4L1173.6 172.2L1172.7 176.8L1171.9 180.7L1171.4 183.5L1170.9 185ZM1217 182.8L1217.5 182.8L1218 181.3L1218.5 178.5L1219.3 174.6L1220.3 170L1221.6 165.2L1223.2 160.6L1225.2 156.7L1227.4 153.8L1229.9 152.2L1216.4 152.8L1213.8 152.9L1211.4 154.5L1209.1 157.4L1207.2 161.4L1205.5 166L1204.2 170.8L1203.2 175.4L1202.5 179.2L1201.9 182.1L1201.5 183.5ZM1247.6 181.4L1248.1 181.4L1248.6 179.9L1249.1 177L1249.8 173.2L1250.8 168.6L1252.2 163.8L1253.8 159.2L1255.8 155.2L1258 152.3L1260.5 150.8L1247 151.4L1244.4 151.5L1241.9 153.1L1239.7 156L1237.7 159.9L1236.1 164.6L1234.8 169.4L1233.8 173.9L1233.1 177.8L1232.5 180.6L1232 182.1ZM1278.2 180L1278.7 179.9L1279.1 178.4L1279.7 175.6L1280.4 171.7L1281.4 167.2L1282.7 162.3L1284.4 157.8L1286.3 153.8L1288.6 150.9L1291 149.3L1277.5 150L1274.9 150.1L1272.5 151.7L1270.3 154.6L1268.3 158.5L1266.7 163.1L1265.3 167.9L1264.4 172.5L1263.6 176.4L1263.1 179.2L1262.6 180.7ZM1308.7 178.5L1309.2 178.5L1309.7 177L1310.2 174.2L1311 170.3L1312 165.7L1313.3 160.9L1314.9 156.3L1316.9 152.4L1319.1 149.5L1321.6 147.9L1308.1 148.5L1305.5 148.7L1303.1 150.3L1300.8 153.2L1298.9 157.1L1297.2 161.7L1295.9 166.5L1294.9 171.1L1294.2 175L1293.6 177.8L1293.2 179.3Z" fill="url(#hg17b)"/><path d="M1180.4 166.1L1182.3 171L1183.8 175.7L1185 179.8L1185.8 182.7L1186.5 184.2L1170.9 185L1170.4 185L1169.7 183.3L1168.9 180.3L1167.7 176.2L1166.1 171.5ZM1199.3 153.6L1201.9 153.5L1204.5 154.9L1207 157.5L1209.3 161.3L1211.4 165.7L1213.1 170.4L1214.5 174.8L1215.6 178.6L1216.4 181.4L1217 182.8L1201.5 183.5L1201 183.6L1200.4 182.1L1199.6 179.4L1198.5 175.6L1197 171.1L1195.3 166.4L1193.2 162L1190.9 158.3L1188.4 155.6L1185.8 154.2ZM1229.9 152.2L1232.5 152.1L1235 153.4L1237.6 156.1L1239.9 159.8L1241.9 164.3L1243.7 169L1245.1 173.4L1246.2 177.2L1247 180L1247.6 181.4L1232 182.1L1231.5 182.1L1230.9 180.7L1230.1 177.9L1229 174.1L1227.6 169.7L1225.9 165L1223.8 160.6L1221.5 156.8L1219 154.2L1216.4 152.8ZM1260.5 150.8L1263 150.6L1265.6 152L1268.1 154.7L1270.4 158.4L1272.5 162.9L1274.2 167.5L1275.7 172L1276.8 175.8L1277.6 178.5L1278.2 180L1262.6 180.7L1262.1 180.7L1261.5 179.3L1260.7 176.5L1259.6 172.7L1258.2 168.2L1256.4 163.6L1254.4 159.1L1252 155.4L1249.5 152.7L1247 151.4ZM1291 149.3L1293.6 149.2L1296.2 150.6L1298.7 153.3L1301 157L1303.1 161.4L1304.8 166.1L1306.2 170.6L1307.3 174.3L1308.1 177.1L1308.7 178.5L1293.2 179.3L1292.7 179.3L1292.1 177.8L1291.3 175.1L1290.2 171.3L1288.7 166.8L1287 162.1L1284.9 157.7L1282.6 154L1280.1 151.3L1277.5 150ZM1321.6 147.9L1324.1 147.8L1326.6 149L1329.1 151.6L1315.3 156L1313.1 152.4L1310.6 149.8L1308.1 148.5Z" fill="url(#hg17f)"/></g><g><path d="M662.9 165.2L663.5 165.2L664.1 163.5L664.9 160.3L666 156L667.4 150.9L669.2 145.5L671.4 140.4L673.9 136.1L676.6 133L679.5 131.3L664.2 131.2L661.3 131.1L658.4 132.8L655.6 135.9L653.2 140.3L651 145.4L649.2 150.7L647.8 155.8L646.7 160.2L645.9 163.3L645.3 165ZM697.6 165.5L698.2 165.5L698.8 163.9L699.6 160.7L700.7 156.4L702.1 151.3L703.9 145.9L706.1 140.8L708.6 136.5L711.3 133.4L714.2 131.7L698.8 131.6L695.9 131.5L693.1 133.2L690.3 136.3L687.8 140.6L685.7 145.7L683.9 151.1L682.5 156.2L681.4 160.5L680.6 163.7L680 165.4ZM732.3 165.9L732.9 165.9L733.5 164.3L734.3 161.1L735.4 156.8L736.8 151.7L738.6 146.3L740.8 141.2L743.2 136.9L746 133.7L748.8 132.1L733.5 131.9L730.6 131.9L727.7 133.5L725 136.7L722.5 141L720.4 146.1L718.6 151.5L717.2 156.6L716.1 160.9L715.3 164.1L714.6 165.7ZM767 166.3L767.5 166.3L768.2 164.6L769 161.5L770.1 157.1L771.5 152L773.3 146.7L775.4 141.6L777.9 137.2L780.6 134.1L783.5 132.5L768.2 132.3L765.3 132.3L762.4 133.9L759.7 137.1L757.2 141.4L755 146.5L753.3 151.9L751.8 157L750.7 161.3L749.9 164.5L749.3 166.1ZM801.7 166.7L802.2 166.7L802.8 165L803.6 161.9L804.7 157.5L806.2 152.4L808 147.1L810.1 142L812.6 137.6L815.3 134.5L818.2 132.9L802.9 132.7L800 132.7L797.1 134.3L794.4 137.4L791.9 141.8L789.7 146.9L787.9 152.2L786.5 157.3L785.4 161.7L784.6 164.8L784 166.5ZM836.3 167.1L836.7 167.3L837.1 166.7L819.5 164.3L819.1 166L818.7 166.9Z" fill="url(#hg18b)"/><path d="M659.8 152.8L660.9 157.3L661.8 161L662.4 163.7L662.9 165.2L645.3 165L644.8 165L644.3 163.7L643.6 161.1L642.8 157.5ZM679.5 131.3L682.4 131.4L685.2 133.1L687.9 136.3L690.3 140.7L692.3 145.8L694 151.2L695.3 156.3L696.3 160.7L697 163.9L697.6 165.5L680 165.4L679.4 165.3L678.8 163.7L678.1 160.5L677.1 156.1L675.8 151L674.1 145.6L672.1 140.4L669.7 136.1L667 132.9L664.2 131.2ZM714.2 131.7L717.1 131.8L719.9 133.5L722.6 136.7L725 141L727 146.2L728.7 151.6L730 156.7L731 161.1L731.7 164.3L732.3 165.9L714.6 165.7L714.1 165.7L713.5 164L712.8 160.9L711.8 156.5L710.5 151.4L708.8 146L706.7 140.8L704.3 136.4L701.7 133.2L698.8 131.6ZM748.8 132.1L751.8 132.1L754.6 133.8L757.3 137L759.6 141.4L761.7 146.6L763.4 152L764.7 157.1L765.7 161.5L766.4 164.6L767 166.3L749.3 166.1L748.8 166.1L748.2 164.4L747.4 161.3L746.4 156.9L745.1 151.7L743.5 146.3L741.4 141.2L739 136.8L736.4 133.6L733.5 131.9ZM783.5 132.5L786.4 132.5L789.3 134.2L791.9 137.4L794.3 141.8L796.4 147L798 152.4L799.3 157.5L800.3 161.9L801.1 165L801.7 166.7L784 166.5L783.4 166.5L782.9 164.8L782.1 161.6L781.1 157.3L779.8 152.1L778.1 146.7L776.1 141.6L773.7 137.2L771 134L768.2 132.3ZM818.2 132.9L821.1 132.9L824 134.6L826.6 137.8L829 142.2L831 147.3L832.7 152.7L834 157.9L835 162.2L835.7 165.4L836.3 167.1L818.7 166.9L818.1 166.9L817.5 165.2L816.8 162L815.8 157.6L814.5 152.5L812.8 147.1L810.8 142L808.4 137.6L805.7 134.4L802.9 132.7Z" fill="url(#hg18f)"/></g><g><path d="M845.5 166.6L846.1 166.6L846.6 164.9L847.4 161.8L848.3 157.4L849.5 152.2L851.1 146.8L853.1 141.6L855.5 137.2L858.1 134L860.9 132.3L845.6 132.6L842.7 132.7L839.8 134.4L837.2 137.7L834.9 142.1L832.9 147.3L831.3 152.7L830.1 157.8L829.1 162.2L828.4 165.4L827.9 167.1ZM880.2 165.8L880.8 165.8L881.3 164.1L882 160.9L883 156.6L884.2 151.4L885.8 146L887.8 140.8L890.1 136.4L892.7 133.2L895.6 131.5L880.2 131.8L877.3 131.9L874.5 133.6L871.9 136.9L869.6 141.3L867.6 146.4L866 151.9L864.7 157L863.8 161.4L863.1 164.6L862.5 166.2ZM914.9 165L915.4 165L916 163.3L916.7 160.1L917.6 155.7L918.9 150.6L920.5 145.2L922.5 140L924.8 135.6L927.4 132.4L930.2 130.6L914.9 131L912 131.1L909.2 132.8L906.6 136L904.2 140.5L902.3 145.6L900.7 151L899.4 156.2L898.5 160.6L897.8 163.8L897.2 165.4ZM949.5 164.2L950.1 164.2L950.7 162.5L951.4 159.3L952.3 154.9L953.5 149.8L955.2 144.3L957.1 139.2L959.5 134.8L962.1 131.5L964.9 129.8L949.6 130.2L946.7 130.3L943.9 132L941.2 135.2L938.9 139.6L936.9 144.8L935.3 150.2L934.1 155.4L933.1 159.8L932.4 162.9L931.9 164.6ZM984.2 163.4L984.8 163.4L985.3 161.7L986 158.5L987 154.1L988.2 149L989.8 143.5L991.8 138.4L994.1 134L996.8 130.7L999.6 129L984.3 129.4L981.3 129.4L978.5 131.2L975.9 134.4L973.6 138.8L971.6 144L970 149.4L968.8 154.6L967.8 158.9L967.1 162.1L966.5 163.8Z" fill="url(#hg19b)"/><path d="M842 154.4L843.2 158.8L844.2 162.5L845 165.2L845.5 166.6L827.9 167.1L827.4 167.1L826.8 165.8L826.1 163.3L825.1 159.6ZM860.9 132.3L863.8 132.2L866.7 133.8L869.5 136.9L872 141.2L874.2 146.3L876.1 151.6L877.6 156.7L878.7 161L879.6 164.2L880.2 165.8L862.5 166.2L862 166.2L861.3 164.6L860.5 161.4L859.3 157.1L857.9 152L856 146.7L853.8 141.6L851.2 137.3L848.5 134.2L845.6 132.6ZM895.6 131.5L898.5 131.4L901.4 133L904.1 136.1L906.7 140.4L908.9 145.5L910.8 150.8L912.2 155.9L913.4 160.2L914.2 163.4L914.9 165L897.2 165.4L896.7 165.4L896 163.8L895.2 160.6L894 156.3L892.5 151.2L890.7 145.9L888.4 140.8L885.9 136.5L883.1 133.4L880.2 131.8ZM930.2 130.6L933.1 130.6L936 132.2L938.8 135.3L941.3 139.6L943.6 144.6L945.4 150L946.9 155.1L948 159.4L948.9 162.5L949.5 164.2L931.9 164.6L931.3 164.6L930.7 163L929.8 159.8L928.7 155.5L927.2 150.4L925.3 145L923.1 140L920.6 135.7L917.8 132.6L914.9 131ZM964.9 129.8L967.8 129.8L970.7 131.4L973.5 134.5L976 138.8L978.2 143.8L980.1 149.2L981.6 154.3L982.7 158.6L983.6 161.7L984.2 163.4L966.5 163.8L966 163.8L965.4 162.1L964.5 159L963.4 154.7L961.9 149.6L960 144.2L957.8 139.2L955.3 134.9L952.5 131.8L949.6 130.2ZM999.6 129L1002.8 129L1006 131.1L1009 134.9L1011.7 140.1L995.5 145.7L993.2 139.9L990.5 134.9L987.5 131.2L984.3 129.4Z" fill="url(#hg19f)"/></g><g><path d="M1013.6 164.3L1014.1 164.3L1014.9 162.7L1015.9 159.6L1017.4 155.3L1019.2 150.4L1021.4 145.2L1023.9 140.2L1026.7 136.1L1029.7 133.2L1032.7 131.8L1017.4 130.5L1014.5 130.2L1011.5 131.6L1008.5 134.5L1005.7 138.7L1003.2 143.6L1001 148.8L999.2 153.8L997.8 158L996.7 161.1L996 162.7ZM1048.1 167.3L1048.7 167.3L1049.4 165.7L1050.5 162.6L1051.9 158.4L1053.7 153.4L1055.9 148.2L1058.5 143.3L1061.3 139.1L1064.2 136.2L1067.2 134.8L1052 133.5L1049 133.2L1046.1 134.6L1043.1 137.6L1040.3 141.7L1037.8 146.6L1035.6 151.8L1033.8 156.8L1032.3 161.1L1031.3 164.1L1030.5 165.7ZM1082.7 170.3L1083.2 170.3L1084 168.7L1085 165.6L1086.5 161.4L1088.3 156.4L1090.5 151.2L1093 146.3L1095.8 142.2L1098.8 139.2L1101.8 137.8L1086.5 136.5L1083.6 136.3L1080.6 137.7L1077.6 140.6L1074.8 144.7L1072.3 149.6L1070.1 154.9L1068.3 159.8L1066.9 164.1L1065.8 167.2L1065.1 168.8ZM1117.2 173.3L1117.8 173.4L1118.5 171.8L1119.6 168.7L1121 164.4L1122.8 159.4L1125 154.2L1127.6 149.3L1130.4 145.2L1133.3 142.3L1136.3 140.9L1121 139.5L1118.1 139.3L1115.1 140.7L1112.2 143.6L1109.4 147.7L1106.9 152.7L1104.7 157.9L1102.8 162.9L1101.4 167.1L1100.4 170.2L1099.6 171.8ZM1151.8 176.3L1152.3 176.4L1153.1 174.8L1154.1 171.7L1155.5 167.5L1157.4 162.5L1159.5 157.3L1162.1 152.4L1164.9 148.2L1167.8 145.3L1152.7 142.3L1149.7 143.7L1146.7 146.7L1143.9 150.8L1141.4 155.7L1139.2 160.9L1137.4 165.9L1136 170.1L1134.9 173.2L1134.2 174.8Z" fill="url(#hg20b)"/><path d="M1011.4 151.7L1012.2 156.2L1012.7 160L1013.2 162.8L1013.6 164.3L996 162.7L995.5 162.7L995.1 161.4L994.6 158.7L994.1 155ZM1032.7 131.8L1035.6 132.1L1038.3 134L1040.7 137.4L1042.7 141.9L1044.4 147.2L1045.6 152.7L1046.5 157.9L1047.2 162.4L1047.7 165.6L1048.1 167.3L1030.5 165.7L1030 165.7L1029.5 164L1029 160.7L1028.4 156.3L1027.5 151.1L1026.2 145.6L1024.6 140.3L1022.5 135.7L1020.1 132.4L1017.4 130.5ZM1067.2 134.8L1070.1 135.1L1072.8 137L1075.2 140.4L1077.3 144.9L1078.9 150.2L1080.2 155.7L1081.1 161L1081.7 165.4L1082.2 168.6L1082.7 170.3L1065.1 168.8L1064.5 168.7L1064.1 167L1063.6 163.8L1062.9 159.3L1062 154.1L1060.8 148.6L1059.1 143.3L1057.1 138.8L1054.7 135.4L1052 133.5ZM1101.8 137.8L1104.7 138.1L1107.4 140L1109.8 143.4L1111.8 148L1113.5 153.2L1114.7 158.8L1115.6 164L1116.3 168.4L1116.8 171.6L1117.2 173.3L1099.6 171.8L1099.1 171.7L1098.6 170L1098.1 166.8L1097.5 162.4L1096.6 157.1L1095.3 151.6L1093.7 146.3L1091.6 141.8L1089.2 138.4L1086.5 136.5ZM1136.3 140.9L1139.2 141.1L1141.9 143L1144.3 146.4L1146.4 151L1148 156.3L1149.3 161.8L1150.2 167L1150.8 171.4L1151.3 174.6L1151.8 176.3L1134.2 174.8L1133.6 174.8L1133.2 173L1132.7 169.8L1132 165.4L1131.1 160.2L1129.9 154.6L1128.2 149.4L1126.2 144.8L1123.8 141.4L1121 139.5Z" fill="url(#hg20f)"/></g><g><path d="M1176.6 171.3L1177.1 171.1L1177.3 169.6L1177.2 166.7L1177.2 162.8L1177.2 158.1L1177.6 153.1L1178.2 148.3L1179.4 144L1181 140.7L1183.1 138.7L1170 142L1167.5 142.6L1165.4 144.7L1163.8 148L1162.7 152.2L1162 157.1L1161.7 162L1161.6 166.7L1161.7 170.7L1161.7 173.5L1161.5 175.1ZM1206.3 163.8L1206.8 163.6L1206.9 162.1L1206.9 159.2L1206.8 155.2L1206.9 150.6L1207.2 145.6L1207.9 140.7L1209 136.5L1210.7 133.2L1212.8 131.2L1199.7 134.5L1197.2 135.1L1195.1 137.2L1193.5 140.5L1192.3 144.7L1191.6 149.6L1191.3 154.5L1191.3 159.2L1191.3 163.2L1191.3 166L1191.2 167.6ZM1236 156.2L1236.4 156.1L1236.6 154.6L1236.6 151.7L1236.5 147.7L1236.6 143.1L1236.9 138.1L1237.6 133.2L1238.7 129L1240.3 125.7L1242.4 123.7L1229.3 127L1226.8 127.6L1224.7 129.7L1223.1 133L1222 137.2L1221.3 142L1221 147L1220.9 151.7L1221 155.6L1221 158.5L1220.8 160.1ZM1265.6 148.7L1266.1 148.6L1266.2 147.1L1266.2 144.2L1266.2 140.2L1266.2 135.5L1266.6 130.6L1267.2 125.7L1268.4 121.5L1270 118.2L1272.1 116.2L1259 119.5L1256.5 120.1L1254.4 122.2L1252.8 125.4L1251.7 129.7L1251 134.5L1250.6 139.5L1250.6 144.2L1250.6 148.1L1250.7 151L1250.5 152.6ZM1295.3 141.2L1295.8 141.1L1295.9 139.5L1295.9 136.7L1295.8 132.7L1295.9 128L1296.2 123.1L1296.9 118.2L1298 114L1299.7 110.7L1301.7 108.6L1288.6 112L1286.2 112.6L1284.1 114.6L1282.5 117.9L1281.3 122.2L1280.6 127L1280.3 132L1280.3 136.7L1280.3 140.6L1280.3 143.5L1280.2 145.1ZM1324.9 133.7L1325.4 133.6L1325.6 132.2L1325.6 129.5L1309.9 129.6L1310 133.4L1310 136.1L1309.8 137.5Z" fill="url(#hg21b)"/><path d="M1171.2 161.4L1173.1 165L1174.7 168L1175.8 170.1L1176.6 171.3L1161.5 175.1L1161.1 175.3L1160.4 174.2L1159.2 172.2L1157.7 169.2ZM1183.1 138.7L1185.6 138.1L1188.4 138.9L1191.4 141L1194.4 144.2L1197.3 148.1L1200 152.3L1202.2 156.4L1204.1 159.9L1205.4 162.5L1206.3 163.8L1191.2 167.6L1190.7 167.7L1189.8 166.4L1188.5 163.9L1186.6 160.4L1184.4 156.3L1181.7 152L1178.8 148.1L1175.8 144.9L1172.8 142.8L1170 142ZM1212.8 131.2L1215.3 130.5L1218.1 131.4L1221 133.5L1224.1 136.7L1227 140.6L1229.6 144.8L1231.9 148.9L1233.7 152.4L1235.1 155L1236 156.2L1220.8 160.1L1220.4 160.2L1219.5 158.9L1218.1 156.3L1216.3 152.8L1214 148.8L1211.4 144.5L1208.5 140.6L1205.4 137.4L1202.5 135.3L1199.7 134.5ZM1242.4 123.7L1244.9 123L1247.7 123.8L1250.7 126L1253.7 129.2L1256.6 133.1L1259.3 137.3L1261.6 141.4L1263.4 144.9L1264.7 147.4L1265.6 148.7L1250.5 152.6L1250 152.7L1249.2 151.4L1247.8 148.8L1246 145.3L1243.7 141.2L1241 137L1238.1 133.1L1235.1 129.9L1232.1 127.8L1229.3 127ZM1272.1 116.2L1274.6 115.5L1277.4 116.3L1280.4 118.5L1283.4 121.7L1286.3 125.6L1289 129.8L1291.2 133.9L1293.1 137.4L1294.4 139.9L1295.3 141.2L1280.2 145.1L1279.7 145.2L1278.8 143.9L1277.5 141.3L1275.6 137.8L1273.4 133.7L1270.7 129.5L1267.8 125.6L1264.8 122.4L1261.8 120.3L1259 119.5ZM1301.7 108.6L1304.2 108L1307.1 108.8L1310 110.9L1313.1 114.2L1316 118.1L1318.6 122.3L1320.9 126.4L1322.7 129.9L1324.1 132.4L1324.9 133.7L1309.8 137.5L1309.4 137.7L1308.5 136.4L1307.1 133.8L1305.3 130.3L1303 126.2L1300.4 122L1297.5 118.1L1294.4 114.9L1291.5 112.8L1288.6 112Z" fill="url(#hg21f)"/></g><g><path d="M726.2 129L726.7 129L727.3 127.3L728.1 124.2L729.1 119.8L730.5 114.7L732.3 109.3L734.4 104.2L736.8 99.8L739.5 96.7L742.3 95L727 95L724.1 95L721.2 96.7L718.6 99.8L716.1 104.2L714 109.3L712.3 114.7L710.9 119.8L709.9 124.2L709.1 127.3L708.5 129ZM760.9 129L761.4 129L762 127.3L762.8 124.2L763.8 119.8L765.2 114.7L766.9 109.3L769 104.2L771.5 99.8L774.2 96.7L777 95L761.7 95L758.8 95L755.9 96.7L753.2 99.8L750.8 104.2L748.7 109.3L747 114.7L745.6 119.8L744.6 124.2L743.8 127.3L743.2 129ZM795.5 129L796.1 129L796.7 127.3L797.5 124.2L798.5 119.8L799.9 114.7L801.6 109.3L803.7 104.2L806.1 99.8L808.8 96.7L811.7 95L796.4 95L793.5 95L790.6 96.7L787.9 99.8L785.5 104.2L783.4 109.3L781.7 114.7L780.3 119.8L779.2 124.2L778.5 127.3L777.9 129ZM830.2 129L830.8 129L831.4 127.3L832.1 124.2L833.2 119.8L834.6 114.7L836.3 109.3L838.4 104.2L840.8 99.8L843.5 96.7L846.4 95L831.1 95L828.1 95L825.3 96.7L822.6 99.8L820.2 104.2L818.1 109.3L816.3 114.7L815 119.8L813.9 124.2L813.2 127.3L812.5 129Z" fill="url(#hg22b)"/><path d="M707.7 95L710.6 95L713.4 96.7L716.1 99.8L718.6 104.2L720.7 109.3L722.4 114.7L723.8 119.8L724.8 124.2L725.6 127.3L726.2 129L708.5 129L708 129L707.3 127.3L706.6 124.2L705.5 119.8L704.2 114.7L702.4 109.3L700.3 104.2L697.9 99.8L695.2 96.7L692.3 95ZM742.3 95L745.3 95L748.1 96.7L750.8 99.8L753.2 104.2L755.3 109.3L757.1 114.7L758.4 119.8L759.5 124.2L760.2 127.3L760.9 129L743.2 129L742.6 129L742 127.3L741.3 124.2L740.2 119.8L738.8 114.7L737.1 109.3L735 104.2L732.6 99.8L729.9 96.7L727 95ZM777 95L779.9 95L782.8 96.7L785.5 99.8L787.9 104.2L790 109.3L791.7 114.7L793.1 119.8L794.2 124.2L794.9 127.3L795.5 129L777.9 129L777.3 129L776.7 127.3L775.9 124.2L774.9 119.8L773.5 114.7L771.8 109.3L769.7 104.2L767.3 99.8L764.6 96.7L761.7 95ZM811.7 95L814.6 95L817.5 96.7L820.2 99.8L822.6 104.2L824.7 109.3L826.4 114.7L827.8 119.8L828.8 124.2L829.6 127.3L830.2 129L812.5 129L812 129L811.4 127.3L810.6 124.2L809.6 119.8L808.2 114.7L806.5 109.3L804.4 104.2L801.9 99.8L799.2 96.7L796.4 95ZM846.4 95L847.5 94.8L848.5 94.8L833.2 96.1L832.1 95.4L831.1 95Z" fill="url(#hg22f)"/></g><g><path d="M686.6 148.9L686.4 148.8L684.9 147.7L682.5 145.4L679.5 142.1L676.2 138L673 133.4L670.5 128.6L668.8 124L668.3 119.9L669.1 116.6L660.7 126.8L658.9 129.4L658.4 132.9L659.2 137.1L661.1 141.8L663.9 146.5L667.1 151.1L670.4 155L673.3 158L675.5 160.1L676.6 161ZM705.7 125.7L705.6 125.7L704.6 125L702.8 123.4L690.8 133.3L693.1 135.6L694.8 137.1L695.7 137.8Z" fill="url(#hg23b)"/><path d="M660.7 136.4L665.6 137.5L670.7 139.4L675.5 141.6L679.8 144L683.3 146.2L685.5 147.9L686.6 148.9L676.6 161L676.6 160.8L675.2 159.6L672.7 157.8L669 155.5L664.6 153.1L659.6 150.9L654.6 149.3ZM669.1 116.6L671.2 114.3L674.6 113.2L678.9 113.2L683.9 114.2L689.1 115.9L694.1 118.2L698.6 120.7L702.2 123L704.6 124.7L705.7 125.7L695.7 137.8L695.6 137.6L694.2 136.4L691.5 134.5L687.7 132.1L683 129.7L677.9 127.5L672.7 125.9L667.9 125.1L663.8 125.4L660.7 126.8Z" fill="url(#hg23f)"/></g><g><path d="M678.5 212.8L678.2 212.9L677.7 211.8L677.1 209.6L676.6 206.5L676.4 202.9L676.6 198.9L677.3 195L678.5 191.5L680.3 188.7L682.5 186.9L672.9 189.5L670.3 190.2L668 192L666.3 194.8L665.1 198.4L664.4 202.3L664.2 206.3L664.4 209.9L664.9 213L665.5 215.1L666.1 216.1ZM701.7 206.6L701.4 206.6L700.7 205.2L688 206.1L688.7 208.7L689.3 209.9Z" fill="url(#hg24b)"/><path d="M675.9 204.6L677.2 207.5L678.1 209.9L678.5 211.8L678.5 212.8L666.1 216.1L666.4 216.1L666.4 215.1L666 213.3L665.1 210.9ZM682.5 186.9L685.2 186.2L688 186.7L691 188.3L693.8 190.7L696.3 193.8L698.4 197.1L700.1 200.4L701.1 203.3L701.7 205.5L701.7 206.6L689.3 209.9L689.6 209.8L689.5 208.6L688.9 206.4L687.8 203.5L686.2 200.2L684 196.9L681.5 193.8L678.7 191.4L675.7 189.9L672.9 189.5Z" fill="url(#hg24f)"/></g><g><path d="M865.7 129.6L866.3 129.7L866.9 128L867.8 124.9L868.9 120.5L870.4 115.4L872.3 110.1L874.5 105L877.1 100.7L879.8 97.7L882.7 96.1L867.4 95.7L864.5 95.6L861.6 97.2L858.9 100.3L856.3 104.6L854.1 109.7L852.2 115L850.7 120.1L849.6 124.4L848.7 127.6L848.1 129.2ZM900.4 130.5L901 130.5L901.6 128.9L902.5 125.7L903.6 121.4L905.1 116.3L907 111L909.2 105.9L911.7 101.6L914.5 98.5L917.4 96.9L902.1 96.5L899.2 96.5L896.3 98.1L893.5 101.2L891 105.5L888.8 110.5L886.9 115.9L885.4 121L884.2 125.3L883.4 128.4L882.7 130.1ZM935.1 131.4L935.6 131.4L936.3 129.7L937.1 126.6L938.3 122.3L939.8 117.2L941.6 111.8L943.9 106.8L946.4 102.5L949.2 99.4L952.1 97.8L936.8 97.4L933.9 97.3L931 98.9L928.2 102L925.7 106.3L923.4 111.4L921.6 116.7L920.1 121.8L918.9 126.2L918.1 129.3L917.4 130.9ZM969.7 132.2L970.3 132.3L970.9 130.6L971.8 127.5L973 123.1L974.4 118L976.3 112.7L978.5 107.6L981.1 103.3L983.9 100.3L986.8 98.7L971.4 98.3L968.5 98.2L965.6 99.8L962.9 102.9L960.3 107.2L958.1 112.3L956.2 117.6L954.7 122.7L953.6 127L952.7 130.2L952.1 131.8ZM1004.4 133.1L1005.1 133L1005.8 130.7L988.6 126.7L987.5 130.6L986.8 132.7Z" fill="url(#hg25b)"/><path d="M848.1 95.2L851 95.3L853.8 97L856.4 100.2L858.7 104.7L860.7 109.8L862.3 115.3L863.6 120.4L864.5 124.8L865.2 128L865.7 129.6L848.1 129.2L847.5 129.2L847 127.5L846.3 124.3L845.3 119.9L844.1 114.8L842.5 109.4L840.5 104.2L838.2 99.8L835.6 96.5L832.8 94.8ZM882.7 96.1L885.7 96.1L888.5 97.9L891.1 101.1L893.4 105.5L895.4 110.7L897 116.1L898.2 121.3L899.2 125.7L899.8 128.8L900.4 130.5L882.7 130.1L882.2 130.1L881.6 128.4L880.9 125.2L880 120.8L878.8 115.6L877.2 110.2L875.2 105.1L872.9 100.6L870.3 97.4L867.4 95.7ZM917.4 96.9L920.3 97L923.2 98.7L925.8 102L928.1 106.4L930.1 111.6L931.7 117L932.9 122.2L933.8 126.5L934.5 129.7L935.1 131.4L917.4 130.9L916.9 130.9L916.3 129.2L915.6 126.1L914.7 121.7L913.4 116.5L911.8 111.1L909.9 105.9L907.5 101.5L904.9 98.3L902.1 96.5ZM952.1 97.8L955 97.9L957.8 99.6L960.4 102.8L962.8 107.3L964.7 112.4L966.3 117.9L967.6 123L968.5 127.4L969.2 130.6L969.7 132.2L952.1 131.8L951.5 131.8L951 130.1L950.3 126.9L949.3 122.5L948.1 117.4L946.5 112L944.5 106.8L942.2 102.4L939.6 99.1L936.8 97.4ZM986.8 98.7L989.7 98.7L992.5 100.5L995.1 103.7L997.4 108.1L999.4 113.3L1001 118.7L1002.2 123.9L1003.2 128.3L1003.9 131.4L1004.4 133.1L986.8 132.7L986.2 132.7L985.6 131L984.9 127.8L984 123.4L982.8 118.2L981.2 112.8L979.2 107.7L976.9 103.2L974.3 100L971.4 98.3Z" fill="url(#hg25f)"/></g><g><path d="M1024.3 132.5L1024.8 132.6L1025.4 131L1026.2 128L1027.3 123.9L1028.7 119.2L1030.4 114.1L1032.5 109.4L1034.9 105.3L1037.5 102.4L1040.2 100.9L1025.8 100.6L1023 100.5L1020.3 102L1017.7 104.9L1015.3 109L1013.3 113.8L1011.5 118.8L1010.1 123.6L1009 127.7L1008.3 130.6L1007.6 132.2ZM1056.9 133.3L1057.4 133.3L1058 131.7L1058.8 128.8L1059.9 124.7L1061.3 119.9L1063 114.9L1065.1 110.1L1067.5 106L1070.1 103.1L1072.8 101.6L1058.4 101.3L1055.7 101.2L1052.9 102.7L1050.3 105.7L1048 109.7L1045.9 114.5L1044.1 119.5L1042.7 124.3L1041.7 128.4L1040.9 131.4L1040.3 132.9ZM1089.5 134L1090.1 134L1090.7 132.3L1091.5 129.1L1092.7 124.8L1094.2 119.8L1078.8 114.4L1077 119.6L1075.5 124.6L1074.4 128.9L1073.5 132L1072.9 133.6Z" fill="url(#hg26b)"/><path d="M1007.6 100.2L1010.3 100.2L1013 101.9L1015.4 104.9L1017.6 109L1019.5 113.9L1021 119L1022.2 123.9L1023.1 128L1023.7 131L1024.3 132.5L1007.6 132.2L1007.1 132.2L1006.6 130.6L1005.9 127.6L1005 123.5L1003.9 118.6L1002.3 113.5L1000.5 108.6L998.3 104.5L995.8 101.5L993.2 99.8ZM1040.2 100.9L1042.9 101L1045.6 102.6L1048.1 105.6L1050.3 109.8L1052.1 114.6L1053.6 119.7L1054.8 124.6L1055.7 128.7L1056.4 131.7L1056.9 133.3L1040.3 132.9L1039.8 132.9L1039.2 131.3L1038.6 128.3L1037.7 124.2L1036.5 119.3L1035 114.2L1033.1 109.4L1030.9 105.2L1028.4 102.2L1025.8 100.6ZM1072.8 101.6L1075.6 101.7L1078.2 103.3L1080.7 106.3L1082.9 110.5L1084.8 115.4L1086.3 120.5L1087.5 125.3L1088.3 129.4L1089 132.4L1089.5 134L1072.9 133.6L1072.4 133.6L1071.9 132L1071.2 129L1070.3 124.9L1069.1 120.1L1067.6 115L1065.7 110.1L1063.5 105.9L1061.1 102.9L1058.4 101.3Z" fill="url(#hg26f)"/></g><g><path d="M1113.8 130L1114.2 129.9L1114.6 128.4L1115 125.7L1115.4 121.9L1116.1 117.4L1117.1 112.7L1118.4 108.2L1120 104.2L1122 101.3L1124.3 99.6L1111.3 101.1L1108.8 101.3L1106.6 103L1104.6 106L1102.9 109.9L1101.6 114.4L1100.7 119.1L1100 123.6L1099.5 127.4L1099.2 130.2L1098.8 131.6ZM1143.2 126.7L1143.6 126.7L1144 125.2L1144.4 122.4L1144.8 118.7L1145.5 114.2L1146.5 109.5L1147.8 104.9L1149.5 101L1151.4 98.1L1153.7 96.4L1140.7 97.8L1138.3 98.1L1136 99.8L1134 102.7L1132.3 106.6L1131 111.2L1130.1 115.9L1129.4 120.4L1128.9 124.2L1128.6 126.9L1128.2 128.4ZM1172.6 123.5L1173 123.4L1173.4 122L1173.8 119.2L1174.2 115.4L1174.9 110.9L1175.9 106.2L1177.2 101.7L1178.9 97.8L1180.8 94.8L1183.1 93.2L1170.1 94.6L1167.7 94.9L1165.4 96.5L1163.4 99.5L1161.7 103.4L1160.4 107.9L1159.5 112.7L1158.8 117.1L1158.3 120.9L1158 123.7L1157.6 125.1ZM1202 120.3L1202.5 120.2L1202.8 118.7L1203.2 116L1203.6 112.2L1204.3 107.7L1205.3 103L1206.6 98.4L1208.3 94.5L1210.2 91.6L1212.5 89.9L1199.5 91.4L1197.1 91.6L1194.8 93.3L1192.8 96.2L1191.1 100.2L1189.8 104.7L1188.9 109.4L1188.2 113.9L1187.7 117.7L1187.4 120.4L1187 121.9ZM1231.4 117L1231.9 117L1232.2 115.5L1232.6 112.7L1233 108.9L1233.7 104.5L1234.7 99.7L1236 95.2L1237.7 91.3L1239.6 88.4L1241.9 86.7L1228.9 88.1L1226.5 88.4L1224.2 90.1L1222.2 93L1220.6 96.9L1219.2 101.5L1218.3 106.2L1217.6 110.7L1217.1 114.5L1216.8 117.2L1216.4 118.7ZM1260.8 113.8L1261.3 113.7L1261.6 112.3L1262 109.5L1262.5 105.7L1263.1 101.2L1264.1 96.5L1265.4 92L1267.1 88.1L1269 85.1L1271.3 83.5L1258.3 84.9L1255.9 85.2L1253.6 86.8L1251.6 89.8L1250 93.7L1248.7 98.2L1247.7 103L1247 107.4L1246.5 111.2L1246.2 114L1245.8 115.4ZM1290.2 110.5L1290.7 110.5L1291 109L1291.4 106.3L1291.9 102.5L1292.5 98L1293.5 93.3L1294.8 88.7L1296.5 84.8L1298.5 81.9L1300.7 80.2L1287.7 81.6L1285.3 81.9L1283 83.6L1281 86.5L1279.4 90.5L1278.1 95L1277.1 99.7L1276.4 104.2L1275.9 108L1275.6 110.7L1275.2 112.2Z" fill="url(#hg27b)"/><path d="M1094.9 102.9L1097.4 102.6L1100 103.8L1102.5 106.2L1105 109.7L1107.3 113.8L1109.2 118.2L1110.9 122.4L1112.2 126L1113.1 128.6L1113.8 130L1098.8 131.6L1098.3 131.7L1097.7 130.3L1096.7 127.7L1095.4 124.1L1093.8 119.9L1091.8 115.5L1089.5 111.3L1087.1 107.9L1084.5 105.4L1081.9 104.3ZM1124.3 99.6L1126.8 99.4L1129.4 100.5L1131.9 102.9L1134.4 106.4L1136.7 110.6L1138.6 115L1140.3 119.2L1141.6 122.8L1142.5 125.4L1143.2 126.7L1128.2 128.4L1127.7 128.4L1127.1 127.1L1126.1 124.5L1124.8 120.9L1123.2 116.6L1121.2 112.2L1118.9 108.1L1116.5 104.6L1113.9 102.2L1111.3 101.1ZM1153.7 96.4L1156.2 96.1L1158.8 97.3L1161.3 99.7L1163.8 103.2L1166.1 107.3L1168 111.7L1169.7 115.9L1171 119.5L1171.9 122.1L1172.6 123.5L1157.6 125.1L1157.1 125.2L1156.5 123.8L1155.5 121.2L1154.2 117.6L1152.6 113.4L1150.6 109L1148.4 104.9L1145.9 101.4L1143.3 99L1140.7 97.8ZM1183.1 93.2L1185.6 92.9L1188.2 94L1190.7 96.5L1193.2 99.9L1195.5 104.1L1197.4 108.5L1199.1 112.7L1200.4 116.3L1201.3 118.9L1202 120.3L1187 121.9L1186.5 122L1185.9 120.6L1184.9 118L1183.6 114.4L1182 110.2L1180 105.8L1177.8 101.6L1175.3 98.2L1172.7 95.7L1170.1 94.6ZM1212.5 89.9L1215 89.7L1217.6 90.8L1220.1 93.2L1222.6 96.7L1224.9 100.9L1226.8 105.3L1228.5 109.5L1229.8 113.1L1230.7 115.7L1231.4 117L1216.4 118.7L1215.9 118.7L1215.3 117.4L1214.3 114.7L1213 111.1L1211.4 106.9L1209.4 102.5L1207.2 98.4L1204.7 94.9L1202.1 92.5L1199.5 91.4ZM1241.9 86.7L1244.4 86.4L1247 87.6L1249.6 90L1252 93.5L1254.3 97.6L1256.2 102L1257.9 106.2L1259.2 109.8L1260.1 112.4L1260.8 113.8L1245.8 115.4L1245.3 115.5L1244.7 114.1L1243.7 111.5L1242.4 107.9L1240.8 103.7L1238.8 99.3L1236.6 95.1L1234.1 91.7L1231.5 89.3L1228.9 88.1ZM1271.3 83.5L1273.8 83.2L1276.4 84.3L1279 86.8L1281.4 90.2L1283.7 94.4L1285.6 98.8L1287.3 103L1288.6 106.6L1289.5 109.2L1290.2 110.5L1275.2 112.2L1274.7 112.2L1274.1 110.9L1273.1 108.3L1271.8 104.7L1270.2 100.5L1268.2 96.1L1266 91.9L1263.5 88.4L1260.9 86L1258.3 84.9ZM1300.7 80.2L1303.3 80L1306 81.2L1308.6 83.9L1311.2 87.6L1313.5 91.9L1315.4 96.5L1317 100.7L1318.3 104.2L1303.7 108.2L1302.8 105.8L1301.5 102.3L1299.9 98L1297.9 93.4L1295.6 89.1L1293.1 85.4L1290.4 82.8L1287.7 81.6Z" fill="url(#hg27f)"/></g><path d="M668 96C669.17 94.67 671.33 89.67 675 88C678.67 86.33 685 85.33 690 86C695 86.67 700.67 90 705 92C709.33 94 713.17 97.33 716 98C718.83 98.67 721 96.33 722 96" stroke="#d8232a" stroke-width="2.2" fill="none" stroke-linecap="round" stroke-linejoin="round"/><g><path d="M711.6 86.9L710.5 86.4L709.6 84.8L709.2 82.3L709.2 79L709.9 75.4L711.1 71.7L712.8 68.4L715.1 65.8L717.5 64.2L720.1 63.6L713.9 63L711.3 63.2L708.8 64.5L706.5 66.8L704.5 69.9L703.1 73.5L702.3 77.1L702 80.6L702.3 83.4L703.1 85.4L704.1 86.2ZM725.6 88.2L724.7 87.9L723.9 86.9L716.6 85.7L717.2 86.9L718.1 87.5Z" fill="url(#hg28b)"/><path d="M706.2 62.3L708.7 63L711 64.7L712.9 67.4L714.2 70.8L714.9 74.5L715.1 78.3L714.7 81.7L713.9 84.5L712.8 86.2L711.6 86.9L704.1 86.2L705.3 86L706.5 84.5L707.4 82.1L707.9 78.9L708 75.2L707.4 71.4L706.3 67.8L704.6 64.9L702.4 62.8L700 61.8ZM720.1 63.6L722.7 64.2L724.9 66L726.8 68.7L728.1 72L728.9 75.8L729.1 79.6L728.7 83L727.9 85.7L726.8 87.5L725.6 88.2L718.1 87.5L719.3 87.2L720.4 85.8L721.4 83.4L721.9 80.1L721.9 76.5L721.4 72.6L720.2 69.1L718.5 66.1L716.4 64L713.9 63Z" fill="url(#hg28f)"/></g><path d="M727 76C727.5 72.5 728.17 59.17 730 55C731.83 50.83 735.33 51.5 738 51C740.67 50.5 744.67 51.83 746 52" stroke="#d8232a" stroke-width="2.2" fill="none" stroke-linecap="round" stroke-linejoin="round"/><g><path d="M755.5 77L754.5 76.5L753.7 74.6L753.2 71.5L753.1 67.4L753.6 62.8L754.7 58.2L756.4 53.9L758.5 50.4L761 48L763.8 47L755.6 47L752.8 47.5L750.2 49.4L747.9 52.5L746.1 56.6L744.8 61.2L744.1 65.8L743.9 70.1L744.3 73.6L745 76L745.9 77Z" fill="url(#hg29b)"/><path d="M756.4 60.1L757.2 65L757.5 69.6L757.2 73.4L756.4 75.9L755.5 77L745.9 77L747 76.5L747.8 74.4L748.3 71L748.2 66.6L747.6 61.8ZM763.8 47L766.6 47.5L769.3 49.5L771.6 52.8L773.5 57L774.7 61.7L775.4 66.5L775.4 70.8L775 74.2L774.2 76.3L764.7 76.8L765.6 75.1L766.2 72.1L766.3 68.1L765.9 63.4L764.8 58.6L763.2 54.2L761 50.5L758.4 48L755.6 47Z" fill="url(#hg29f)"/></g><path d="M768 76C770.33 76.33 778.67 75.33 782 78C785.33 80.67 786.67 88.33 788 92C789.33 95.67 789.67 98.67 790 100" stroke="#d8232a" stroke-width="2.2" fill="none" stroke-linecap="round" stroke-linejoin="round"/><g><path d="M694 180L692.7 179.3L691.5 176.7L690.7 172.5L690.6 167.1L691.2 160.9L692.5 154.7L694.7 149L697.5 144.4L700.7 141.3L704.3 140L694.2 140L690.6 140.7L687.2 143.3L684.3 147.5L681.9 152.9L680.3 159.1L679.5 165.3L679.4 171L680 175.6L681.1 178.7L682.4 180ZM716 180L714.9 179.6L713.9 178L702.4 177.1L703.4 179.1L704.4 180Z" fill="url(#hg30b)"/><path d="M696.5 175.5L695.4 178.7L694 180L682.4 180L683.9 179.3L685.1 176.6ZM704.3 140L707.9 140.7L711.3 143.3L714.2 147.5L716.6 152.9L718.2 159.1L719 165.3L719.1 171L718.5 175.6L717.4 178.7L716 180L704.4 180L705.8 179.3L707 176.7L707.8 172.5L707.9 167.1L707.3 160.9L706 154.7L703.8 149L701 144.4L697.8 141.3L694.2 140Z" fill="url(#hg30f)"/></g><g><path d="M741.9 170.4L740.9 169.7L740.2 167.4L740 163.8L740.5 159.2L741.7 154.1L743.6 149L746.1 144.4L749 140.8L752.1 138.5L755.3 137.8L746.3 136.7L743.1 136.8L739.9 138.6L736.9 141.8L734.3 146.1L732.2 151.1L730.8 156.3L730 161.1L730 165.1L730.5 167.8L731.4 169.1Z" fill="url(#hg31b)"/><path d="M743.6 143.4L744.9 148.2L745.6 153.5L745.6 158.7L745.1 163.3L744.2 167L743.1 169.4L741.9 170.4L731.4 169.1L732.6 168.7L733.7 166.8L734.8 163.5L735.4 159.1L735.6 154.1L735.1 148.8L734 143.8ZM755.3 137.8L758.5 138.8L761.2 141.6L763.4 145.8L764.8 151L765.5 156.7L765.4 162.2L764.7 167L754.3 167.1L755.2 162.6L755.4 157.3L755 151.6L753.9 146.1L751.9 141.5L749.3 138.3L746.3 136.7Z" fill="url(#hg31f)"/></g><path d="M660 150C661.33 148.33 664.67 142.17 668 140C671.33 137.83 675.67 136.5 680 137C684.33 137.5 691.67 142 694 143" stroke="#d8232a" stroke-width="2.2" fill="none" stroke-linecap="round" stroke-linejoin="round"/><path d="M756 146C758.33 144.67 764.33 140.33 770 138C775.67 135.67 781.67 134 790 132C798.33 130 810 131.33 820 126C830 120.67 842.33 104.67 850 100C857.67 95.33 861 98 866 98C871 98 876.67 101 880 100C883.33 99 885 93.33 886 92" stroke="#d8232a" stroke-width="2.2" fill="none" stroke-linecap="round" stroke-linejoin="round"/><path d="M820 112C821.33 114.67 824.33 125 828 128C831.67 131 837 129 842 130C847 131 854 132.33 858 134C862 135.67 864.67 139 866 140" stroke="#d8232a" stroke-width="2.2" fill="none" stroke-linecap="round" stroke-linejoin="round"/><g><path d="M717.2 220.8L716 220.3L715 218.5L714.5 215.8L714.5 212.2L715.2 208.3L716.5 204.3L718.3 200.7L720.7 197.9L723.4 196.1L726.2 195.5L719.5 194.9L716.7 195.1L714 196.5L711.5 199.1L709.4 202.4L707.9 206.3L707.1 210.3L706.8 214L707.2 217.1L708 219.2L709.2 220.1ZM732.2 222.1L731 221.6L730.1 220.1L729.5 217.7L729.4 214.6L721.9 212.7L721.8 216L722.2 218.7L723.1 220.6L724.1 221.4Z" fill="url(#hg32b)"/><path d="M715.5 195.8L717.8 198.5L719.5 202.1L720.6 206.3L721 210.6L720.7 214.6L719.8 217.9L718.6 220L717.2 220.8L709.2 220.1L710.6 219.8L711.9 218L712.8 215.1L713.3 211.3L713.2 207.1L712.3 202.8L710.8 198.9L708.6 195.9ZM726.2 195.5L728.9 196.1L731.4 198L733.4 200.9L734.9 204.6L735.7 208.6L735.9 212.7L735.5 216.4L734.7 219.4L733.5 221.3L732.2 222.1L724.1 221.4L725.4 221.1L726.7 219.5L727.7 216.9L728.2 213.4L728.2 209.4L727.6 205.3L726.4 201.4L724.5 198.2L722.2 196L719.5 194.9Z" fill="url(#hg32f)"/></g><g><path d="M760.3 227L759.1 226.6L757.9 224.9L757.2 222.2L756.9 218.7L757.2 214.7L758.2 210.6L759.8 206.9L761.9 203.9L764.4 201.8L767.2 201L760.5 201L757.7 201.4L755.1 203.1L752.8 205.8L751 209.3L749.9 213.3L749.3 217.4L749.4 221.1L750 224.1L751 226.2L752.3 227ZM775.3 227L774.2 226.7L773.2 225.3L772.4 223.1L772 220.2L764.3 219L764.5 222.1L765.2 224.6L766.2 226.3L767.3 227Z" fill="url(#hg33b)"/><path d="M756.5 202.3L759 204.7L761.1 208.2L762.5 212.3L763.2 216.6L763.3 220.6L762.7 223.9L761.6 226.1L760.3 227L752.3 227L753.6 226.5L754.8 224.7L755.5 221.7L755.7 217.9L755.2 213.6L754 209.4L752.1 205.7L749.7 202.9ZM767.2 201L769.9 201.4L772.5 203.1L774.8 205.8L776.6 209.3L777.7 213.3L778.3 217.4L778.2 221.1L777.6 224.1L776.6 226.2L775.3 227L767.3 227L768.6 226.6L769.7 224.9L770.4 222.2L770.7 218.7L770.4 214.7L769.4 210.6L767.8 206.9L765.7 203.9L763.2 201.8L760.5 201Z" fill="url(#hg33f)"/></g><path d="M680 205C681.67 206.67 686.67 214.17 690 215C693.33 215.83 697 211.67 700 210C703 208.33 706.67 205.83 708 205" stroke="#d8232a" stroke-width="2.2" fill="none" stroke-linecap="round" stroke-linejoin="round"/><path d="M740 190C740.33 192.5 740.33 199.67 742 205C743.67 210.33 748.67 219.17 750 222" stroke="#d8232a" stroke-width="2.2" fill="none" stroke-linecap="round" stroke-linejoin="round"/><path d="M774 225C776.67 223.33 784.83 218.83 790 215C795.17 211.17 800.83 203.67 805 202C809.17 200.33 811.67 202.83 815 205C818.33 207.17 821.67 213.5 825 215C828.33 216.5 831 214.67 835 214C839 213.33 846.67 211.5 849 211" stroke="#d8232a" stroke-width="2.2" fill="none" stroke-linecap="round" stroke-linejoin="round"/><g><path d="M867.5 97.6L868 97.6L868.5 96.1L869.1 93.3L870 89.4L871.1 84.9L872.5 80.1L874.3 75.5L876.3 71.6L878.6 68.8L881.1 67.3L867.6 67.6L865 67.6L862.5 69.2L860.2 72L858.2 75.9L856.4 80.5L855 85.2L853.9 89.8L853.1 93.6L852.4 96.4L851.9 97.9ZM898.1 96.9L898.6 96.9L899.1 95.4L899.7 92.6L900.6 88.7L901.7 84.2L903.1 79.4L904.8 74.8L906.9 71L909.2 68.1L911.7 66.6L898.2 66.9L895.6 67L893.1 68.5L890.8 71.3L888.8 75.2L887 79.8L885.6 84.6L884.5 89.1L883.7 93L883 95.8L882.5 97.2ZM928.7 96.2L929.2 96.2L929.7 94.7L930.3 91.9L931.2 88.1L932.3 83.5L933.7 78.7L935.4 74.2L937.5 70.3L939.8 67.5L942.3 65.9L928.8 66.2L926.2 66.3L923.7 67.8L921.4 70.7L919.4 74.6L917.6 79.1L916.2 83.9L915.1 88.4L914.2 92.3L913.6 95.1L913.1 96.6ZM959.3 95.6L959.8 95.6L960.3 94.1L960.9 91.3L961.7 87.4L962.9 82.8L964.3 78.1L966 73.5L968.1 69.6L970.4 66.8L972.9 65.3L959.4 65.6L956.8 65.6L954.3 67.1L952 70L950 73.9L948.2 78.4L946.8 83.2L945.7 87.8L944.8 91.6L944.2 94.4L943.7 95.9ZM989.9 94.9L990.4 94.8L990.9 93.1L975.5 90.6L974.8 93.6L974.3 95.2Z" fill="url(#hg34b)"/><path d="M857 70.7L859.5 74.3L861.7 78.8L863.5 83.8L865 88.7L866.1 92.9L866.9 96L867.5 97.6L851.9 97.9L851.4 97.9L850.8 96.2L850 93L848.8 88.7L847.3 83.8L845.5 78.9L843.3 74.3ZM881.1 67.3L883.7 67.2L886.3 68.6L888.7 71.4L890.9 75.2L892.9 79.7L894.5 84.4L895.8 88.9L896.8 92.7L897.5 95.5L898.1 96.9L882.5 97.2L882 97.3L881.5 95.8L880.7 93L879.7 89.2L878.4 84.7L876.8 80L874.8 75.5L872.6 71.7L870.2 69L867.6 67.6ZM911.7 66.6L914.3 66.5L916.8 68L919.3 70.7L921.5 74.5L923.5 79L925.1 83.7L926.4 88.2L927.4 92L928.1 94.8L928.7 96.2L913.1 96.6L912.6 96.6L912.1 95.1L911.3 92.3L910.3 88.5L909 84L907.4 79.3L905.4 74.8L903.2 71L900.8 68.3L898.2 66.9ZM942.3 65.9L944.9 65.9L947.4 67.3L949.9 70L952.1 73.8L954.1 78.3L955.7 83L957 87.5L958 91.3L958.7 94.1L959.3 95.6L943.7 95.9L943.2 95.9L942.7 94.5L941.9 91.7L940.9 87.8L939.6 83.4L938 78.6L936 74.2L933.8 70.4L931.4 67.6L928.8 66.2ZM972.9 65.3L975.5 65.2L978 66.6L980.5 69.4L982.7 73.2L984.6 77.6L986.3 82.4L987.6 86.9L988.6 90.7L989.3 93.4L989.9 94.9L974.3 95.2L973.8 95.2L973.3 93.8L972.5 91L971.5 87.2L970.2 82.7L968.6 78L966.6 73.5L964.4 69.7L961.9 67L959.4 65.6Z" fill="url(#hg34f)"/></g><path d="M968 66C968.17 64 968.67 57.83 969 54C969.33 50.17 969.83 44.83 970 43" stroke="#d8232a" stroke-width="2.2" fill="none" stroke-linecap="round" stroke-linejoin="round"/><g><path d="M872.7 224.3L873.2 224.3L873.6 222.7L873.9 219.9L874.4 215.9L875.1 211.3L876 206.4L877.3 201.7L879 197.6L881 194.6L883.4 192.9L870 194.4L867.4 194.7L865.1 196.5L863 199.5L861.4 203.6L860 208.3L859.1 213.2L858.4 217.8L858 221.8L857.6 224.6L857.2 226.1ZM903.1 220.7L903.6 220.7L904 219.2L904.3 216.3L904.8 212.4L905.4 207.7L906.4 202.8L907.7 198.1L909.4 194.1L911.4 191L913.8 189.3L900.4 190.9L897.8 191.2L895.5 192.9L893.4 196L891.7 200L890.4 204.7L889.5 209.6L888.8 214.3L888.3 218.2L888 221L887.6 222.6ZM933.5 217.2L934 217.1L934.3 215.6L934.7 212.7L935.2 208.8L935.8 204.2L936.8 199.3L938.1 194.6L939.8 190.5L941.8 187.5L944.2 185.7L930.7 187.3L928.2 187.6L925.8 189.3L923.8 192.4L922.1 196.5L920.8 201.2L919.9 206.1L919.2 210.7L918.7 214.6L918.4 217.5L918 219ZM963.9 213.6L964.4 213.5L964.7 212L965.1 209.1L965.6 205.2L966.2 200.6L967.2 195.7L968.5 191L970.2 186.9L972.2 183.9L974.6 182.1L961.1 183.7L958.6 184L956.2 185.8L954.2 188.8L952.5 192.9L951.2 197.6L950.3 202.5L949.6 207.1L949.1 211L948.8 213.9L948.4 215.4Z" fill="url(#hg35b)"/><path d="M854.6 196.1L857.4 196.8L860.2 199L862.9 202.4L865.4 206.7L867.6 211.4L869.5 216L870.9 220L872 222.8L872.7 224.3L857.2 226.1L856.7 226.2L856 224.6L854.9 221.7L853.4 217.7L851.6 213.1L849.3 208.4L846.8 204.1L844.1 200.7L841.3 198.6ZM883.4 192.9L885.9 192.6L888.6 193.7L891.3 196.2L893.9 199.8L896.2 204.1L898.3 208.6L900 212.9L901.4 216.7L902.4 219.3L903.1 220.7L887.6 222.6L887.1 222.6L886.4 221.2L885.4 218.5L884.1 214.8L882.3 210.5L880.3 205.9L877.9 201.6L875.3 198.1L872.6 195.6L870 194.4ZM913.8 189.3L916.3 189L919 190.1L921.7 192.6L924.3 196.2L926.6 200.5L928.7 205L930.4 209.4L931.8 213.1L932.8 215.8L933.5 217.2L918 219L917.5 219L916.8 217.6L915.8 214.9L914.5 211.2L912.7 206.9L910.7 202.3L908.3 198.1L905.7 194.5L903 192L900.4 190.9ZM944.2 185.7L946.7 185.4L949.4 186.6L952.1 189.1L954.7 192.6L957 196.9L959.1 201.5L960.8 205.8L962.2 209.5L963.2 212.2L963.9 213.6L948.4 215.4L947.9 215.5L947.2 214.1L946.2 211.4L944.9 207.7L943.1 203.3L941.1 198.8L938.7 194.5L936.1 190.9L933.4 188.4L930.7 187.3ZM974.6 182.1L977.1 181.8L979.8 183L982.5 185.5L985.1 189.1L987.4 193.3L989.5 197.9L991.2 202.2L992.6 205.9L993.6 208.6L994.3 210L978.8 211.8L978.3 211.9L977.6 210.5L976.6 207.8L975.2 204.1L973.5 199.7L971.4 195.2L969.1 190.9L966.5 187.4L963.8 184.9L961.1 183.7Z" fill="url(#hg35f)"/></g><text x="1216.46" y="66.4" font-size="26" fill="#58595b" textLength="49.77" lengthAdjust="spacingAndGlyphs">HR1</text><text x="813.64" y="260.8" font-size="25.6" fill="#e31e24" textLength="52.69" lengthAdjust="spacingAndGlyphs">HR2</text><g><path d="M1588.3 132.2L1588.7 132.4L1589.7 131.1L1591.2 128.7L1593.2 125.3L1595.7 121.3L1598.6 117.2L1601.7 113.5L1604.9 110.5L1608 108.5L1610.9 107.9L1598 103.8L1595.5 103.1L1592.7 103.7L1589.6 105.7L1586.4 108.7L1583.3 112.4L1580.4 116.5L1577.9 120.5L1575.8 123.8L1574.4 126.3L1573.4 127.5ZM1617.5 141.4L1617.9 141.5L1618.9 140.3L1620.4 137.8L1622.4 134.4L1624.9 130.5L1627.8 126.4L1630.9 122.7L1634.1 119.6L1637.2 117.7L1640.1 117.1L1627.2 113L1624.7 112.2L1621.9 112.9L1618.8 114.8L1615.6 117.9L1612.5 121.6L1609.6 125.7L1607.1 129.6L1605 133L1603.5 135.5L1602.6 136.7ZM1646.7 150.6L1647.1 150.7L1648.1 149.5L1649.6 147L1651.6 143.6L1654.1 139.7L1657 135.6L1660.1 131.9L1663.3 128.8L1666.4 126.9L1669.3 126.2L1656.4 122.2L1653.9 121.4L1651.1 122.1L1648 124L1644.8 127L1641.6 130.8L1638.8 134.9L1636.2 138.8L1634.2 142.2L1632.7 144.7L1631.8 145.9ZM1675.8 159.8L1676.3 159.9L1677.3 158.7L1678.8 156.2L1680.8 152.8L1683.3 148.9L1686.2 144.8L1689.3 141L1692.5 138L1695.6 136.1L1698.5 135.4L1685.6 131.4L1683.1 130.6L1680.3 131.3L1677.2 133.2L1674 136.2L1670.8 140L1667.9 144.1L1665.4 148L1663.4 151.4L1661.9 153.9L1661 155.1ZM1705 168.9L1705.5 169.1L1706.5 167.8L1707.9 165.4L1710 162L1712.5 158L1715.4 154L1718.5 150.2L1721.7 147.2L1724.8 145.3L1727.6 144.6L1714.8 140.6L1712.3 139.8L1709.4 140.4L1706.3 142.4L1703.1 145.4L1700 149.2L1697.1 153.2L1694.6 157.2L1692.6 160.6L1691.1 163L1690.2 164.3ZM1734.2 178.1L1734.7 178.3L1735.6 177L1737.1 174.6L1739.2 171.2L1741.7 167.2L1744.6 163.2L1747.7 159.4L1750.9 156.4L1754 154.4L1756.8 153.8L1743.9 149.7L1741.5 149L1738.6 149.6L1735.5 151.6L1732.3 154.6L1729.2 158.4L1726.3 162.4L1723.8 166.4L1721.8 169.8L1720.3 172.2L1719.4 173.5Z" fill="url(#hg36b)"/><path d="M1586.5 102.3L1587.8 105.8L1588.5 110.1L1588.9 114.9L1588.9 119.7L1588.6 124.2L1588.4 128L1588.2 130.7L1588.3 132.2L1573.4 127.5L1573 127.4L1572.9 125.9L1573 123.2L1573.3 119.5L1573.5 115L1573.5 110.2L1573.2 105.4L1572.5 101.1ZM1610.9 107.9L1613.3 108.7L1615.3 110.8L1616.7 114.2L1617.6 118.5L1618 123.4L1618.1 128.4L1617.9 133L1617.6 137L1617.4 139.8L1617.5 141.4L1602.6 136.7L1602.1 136.6L1602.1 135L1602.2 132.1L1602.5 128.2L1602.7 123.5L1602.7 118.5L1602.3 113.7L1601.4 109.4L1600 106L1598 103.8ZM1640.1 117.1L1642.5 117.8L1644.5 120L1645.9 123.4L1646.8 127.7L1647.2 132.6L1647.3 137.6L1647 142.2L1646.8 146.2L1646.6 149L1646.7 150.6L1631.8 145.9L1631.3 145.8L1631.3 144.2L1631.4 141.3L1631.7 137.4L1631.9 132.7L1631.9 127.7L1631.5 122.8L1630.6 118.5L1629.2 115.2L1627.2 113ZM1669.3 126.2L1671.7 127L1673.7 129.2L1675.1 132.6L1676 136.9L1676.4 141.7L1676.4 146.7L1676.2 151.4L1676 155.3L1675.8 158.2L1675.8 159.8L1661 155.1L1660.5 154.9L1660.4 153.4L1660.6 150.5L1660.9 146.6L1661.1 141.9L1661.1 136.9L1660.7 132L1659.8 127.7L1658.3 124.3L1656.4 122.2ZM1698.5 135.4L1700.9 136.2L1702.9 138.4L1704.3 141.7L1705.2 146.1L1705.6 150.9L1705.6 155.9L1705.4 160.6L1705.1 164.5L1705 167.4L1705 168.9L1690.2 164.3L1689.7 164.1L1689.6 162.6L1689.8 159.7L1690.1 155.7L1690.3 151.1L1690.3 146.1L1689.9 141.2L1689 136.9L1687.5 133.5L1685.6 131.4ZM1727.6 144.6L1730.1 145.4L1732.1 147.6L1733.5 150.9L1734.4 155.2L1734.8 160.1L1734.8 165.1L1734.6 169.8L1734.3 173.7L1734.2 176.6L1734.2 178.1L1719.4 173.5L1718.9 173.3L1718.8 171.7L1719 168.9L1719.3 164.9L1719.5 160.2L1719.5 155.3L1719 150.4L1718.2 146.1L1716.7 142.7L1714.8 140.6ZM1756.8 153.8L1759.4 154.6L1761.4 157L1762.8 160.7L1763.7 165.3L1748.7 165.4L1748.3 160.2L1747.4 155.6L1746 152L1743.9 149.7Z" fill="url(#hg36f)"/></g><g><path d="M1650 187.8L1650.5 187.8L1651.1 186.4L1651.9 183.6L1653 179.8L1654.5 175.4L1656.3 170.7L1658.4 166.3L1660.7 162.6L1663.3 159.9L1665.9 158.6L1652.4 157.9L1649.8 157.7L1647.2 159.1L1644.7 161.7L1642.3 165.5L1640.2 169.9L1638.4 174.5L1637 179L1635.9 182.8L1635 185.5L1634.4 186.9ZM1680.5 189.5L1681 189.5L1681.6 188L1682.5 185.3L1683.6 181.5L1685 177L1686.8 172.4L1688.9 168L1691.3 164.3L1693.8 161.6L1696.4 160.3L1682.9 159.5L1680.3 159.4L1677.7 160.7L1675.2 163.4L1672.9 167.1L1670.8 171.5L1669 176.2L1667.5 180.6L1666.4 184.4L1665.6 187.2L1665 188.6ZM1711.1 191.1L1711.6 191.1L1712.2 189.7L1713 186.9L1714.1 183.2L1715.6 178.7L1717.4 174L1719.5 169.6L1721.8 165.9L1724.4 163.3L1727 161.9L1713.5 161.2L1710.9 161.1L1708.3 162.4L1705.8 165.1L1703.4 168.8L1701.3 173.2L1699.5 177.9L1698.1 182.3L1697 186.1L1696.1 188.8L1695.5 190.3ZM1741.6 192.8L1742.1 192.8L1742.7 191.4L1743.6 188.6L1744.7 184.8L1746.2 180.4L1747.9 175.7L1750 171.3L1752.4 167.6L1754.9 164.9L1757.5 163.6L1744 162.9L1741.5 162.7L1738.9 164.1L1736.3 166.7L1734 170.5L1731.9 174.9L1730.1 179.5L1728.6 184L1727.5 187.8L1726.7 190.5L1726.1 191.9ZM1772.2 194.5L1772.7 194.5L1773.3 193L1774.1 190.3L1775.3 186.5L1776.7 182L1778.5 177.4L1780.6 173L1782.9 169.3L1785.5 166.6L1788.1 165.3L1774.6 164.5L1772 164.4L1769.4 165.7L1766.9 168.4L1764.5 172.1L1762.4 176.5L1760.6 181.2L1759.2 185.6L1758.1 189.4L1757.2 192.2L1756.6 193.6ZM1802.8 196.1L1803.2 196.1L1803.9 194.7L1804.7 191.9L1805.8 188.2L1807.3 183.7L1809.1 179L1811.1 174.6L1813.5 170.9L1816 168.3L1818.6 166.9L1805.1 166.2L1802.6 166.1L1800 167.4L1797.4 170.1L1795.1 173.8L1793 178.2L1791.2 182.9L1789.8 187.3L1788.6 191.1L1787.8 193.8L1787.2 195.3ZM1833.3 197.8L1833.8 197.8L1834.4 196.4L1835.2 193.6L1836.4 189.8L1837.8 185.4L1839.6 180.7L1841.7 176.3L1844.1 172.6L1846.6 169.9L1849.2 168.6L1835.7 167.9L1833.1 167.7L1830.5 169.1L1828 171.7L1825.6 175.5L1823.5 179.9L1821.8 184.5L1820.3 189L1819.2 192.8L1818.4 195.5L1817.7 196.9Z" fill="url(#hg37b)"/><path d="M1646.6 172.2L1647.7 176.6L1648.5 180.6L1649.1 184L1649.6 186.5L1650 187.8L1634.4 186.9L1634 187L1633.5 185.7L1633.1 183.4L1632.5 180.1L1631.7 176ZM1665.9 158.6L1668.4 158.8L1670.9 160.4L1673.1 163.3L1675 167.2L1676.6 171.8L1677.9 176.7L1678.8 181.3L1679.5 185.1L1680.1 188L1680.5 189.5L1665 188.6L1664.5 188.6L1664 187.1L1663.5 184.2L1662.8 180.4L1661.8 175.8L1660.6 170.9L1659 166.3L1657 162.4L1654.8 159.5L1652.4 157.9ZM1696.4 160.3L1699 160.4L1701.4 162L1703.6 164.9L1705.6 168.9L1707.2 173.5L1708.4 178.3L1709.4 182.9L1710.1 186.8L1710.6 189.6L1711.1 191.1L1695.5 190.3L1695 190.2L1694.6 188.7L1694 185.9L1693.3 182L1692.4 177.4L1691.1 172.6L1689.5 168L1687.6 164.1L1685.4 161.1L1682.9 159.5ZM1727 161.9L1729.5 162.1L1732 163.7L1734.2 166.6L1736.1 170.6L1737.7 175.2L1739 180L1740 184.6L1740.7 188.5L1741.2 191.3L1741.6 192.8L1726.1 191.9L1725.6 191.9L1725.1 190.4L1724.6 187.6L1723.9 183.7L1722.9 179.1L1721.7 174.3L1720.1 169.7L1718.1 165.7L1715.9 162.8L1713.5 161.2ZM1757.5 163.6L1760.1 163.8L1762.5 165.4L1764.7 168.3L1766.7 172.2L1768.3 176.8L1769.5 181.7L1770.5 186.3L1771.2 190.1L1771.7 193L1772.2 194.5L1756.6 193.6L1756.1 193.6L1755.7 192.1L1755.2 189.2L1754.5 185.4L1753.5 180.8L1752.2 175.9L1750.6 171.3L1748.7 167.4L1746.5 164.5L1744 162.9ZM1788.1 165.3L1790.6 165.4L1793.1 167L1795.3 169.9L1797.2 173.9L1798.8 178.5L1800.1 183.3L1801.1 187.9L1801.8 191.8L1802.3 194.6L1802.8 196.1L1787.2 195.3L1786.7 195.2L1786.2 193.7L1785.7 190.9L1785 187L1784 182.4L1782.8 177.6L1781.2 173L1779.2 169.1L1777 166.1L1774.6 164.5ZM1818.6 166.9L1821.2 167.1L1823.6 168.7L1825.9 171.6L1827.8 175.6L1829.4 180.2L1830.7 185L1831.6 189.6L1832.3 193.5L1832.8 196.3L1833.3 197.8L1817.7 196.9L1817.3 196.9L1816.8 195.4L1816.3 192.6L1815.6 188.7L1814.6 184.1L1813.3 179.3L1811.7 174.7L1809.8 170.7L1807.6 167.8L1805.1 166.2ZM1849.2 168.6L1851.9 168.8L1854.4 170.6L1856.7 173.8L1858.7 178.1L1860.3 183L1861.5 188L1862.4 192.6L1863.1 196.3L1863.6 198.8L1848 198.8L1847.5 197.8L1847 195.3L1846.3 191.5L1845.4 186.9L1844.1 181.8L1842.5 176.9L1840.5 172.7L1838.2 169.6L1835.7 167.9Z" fill="url(#hg37f)"/></g><g><path d="M1540.3 107.8L1540.8 107.9L1541.5 106.3L1542.4 103.3L1543.7 99.1L1545.3 94.2L1547.3 89.1L1549.6 84.2L1552.2 80.2L1555 77.3L1557.9 75.8L1543 74.9L1540.2 74.8L1537.3 76.2L1534.5 79.2L1531.9 83.2L1529.6 88.1L1527.6 93.2L1526 98.1L1524.7 102.2L1523.8 105.3L1523.1 106.8ZM1573.9 109.8L1574.4 109.8L1575.1 108.3L1576 105.2L1577.3 101.1L1578.9 96.2L1580.9 91.1L1583.2 86.2L1585.8 82.1L1588.6 79.2L1591.5 77.8L1576.6 76.9L1573.8 76.8L1570.9 78.2L1568.1 81.1L1565.5 85.2L1563.2 90.1L1561.2 95.2L1559.6 100.1L1558.3 104.2L1557.4 107.2L1556.7 108.8ZM1607.5 111.8L1608 111.8L1608.7 110.2L1609.6 107.2L1610.9 103L1612.5 98.2L1614.5 93L1616.8 88.2L1619.4 84.1L1622.2 81.2L1625.1 79.8L1610.2 78.9L1607.4 78.7L1604.5 80.2L1601.7 83.1L1599.1 87.2L1596.8 92L1594.8 97.2L1593.2 102L1592 106.2L1591 109.2L1590.3 110.8ZM1641.1 113.8L1641.6 113.8L1642.3 112.2L1643.2 109.2L1644.5 105L1646.1 100.1L1648.1 95L1650.4 90.2L1653 86.1L1655.8 83.2L1658.7 81.7L1643.8 80.9L1641 80.7L1638.1 82.2L1635.3 85.1L1632.7 89.2L1630.4 94L1628.4 99.1L1626.8 104L1625.6 108.2L1624.6 111.2L1623.9 112.8ZM1674.7 115.7L1675.2 115.8L1675.9 114.2L1676.8 111.2L1678.1 107L1679.7 102.1L1681.7 97L1684 92.2L1686.6 88.1L1689.4 85.2L1692.3 83.7L1677.4 82.8L1674.6 82.7L1671.7 84.1L1668.9 87.1L1666.3 91.1L1664 96L1662 101.1L1660.4 106L1659.2 110.1L1658.2 113.2L1657.5 114.7ZM1708.3 117.7L1708.8 117.7L1709.5 116.2L1710.4 113.1L1711.7 109L1713.3 104.1L1715.3 99L1717.6 94.1L1720.2 90.1L1723 87.1L1725.9 85.7L1711 84.8L1708.2 84.7L1705.3 86.1L1702.5 89L1699.9 93.1L1697.6 98L1695.6 103.1L1694 108L1692.8 112.1L1691.8 115.1L1691.1 116.7ZM1741.9 119.7L1742.4 119.7L1743.1 118.1L1744 115.1L1745.3 111L1746.9 106.1L1748.9 100.9L1751.2 96.1L1753.8 92L1756.6 89.1L1759.5 87.7L1744.6 86.8L1741.8 86.6L1738.9 88.1L1736.1 91L1733.5 95.1L1731.2 99.9L1729.2 105.1L1727.6 109.9L1726.4 114.1L1725.4 117.1L1724.7 118.7ZM1775.5 121.7L1776 121.7L1776.7 120.1L1777.6 117.1L1778.9 112.9L1780.5 108L1782.5 102.9L1784.8 98.1L1787.4 94L1790.2 91.1L1793.1 89.7L1778.2 88.8L1775.4 88.6L1772.5 90.1L1769.7 93L1767.1 97.1L1764.8 101.9L1762.8 107L1761.2 111.9L1760 116.1L1759 119.1L1758.3 120.7ZM1809.1 123.7L1809.6 123.7L1810.3 122.1L1811.2 119.1L1812.5 114.9L1814.1 110L1816.1 104.9L1818.4 100.1L1821 96L1823.8 93.1L1826.7 91.6L1811.8 90.8L1809 90.6L1806.1 92L1803.3 95L1800.7 99L1798.4 103.9L1796.4 109L1794.8 113.9L1793.6 118.1L1792.6 121.1L1791.9 122.6ZM1842.7 125.6L1843.2 125.7L1843.9 124.1L1844.8 121L1846.1 116.9L1847.7 112L1849.7 106.9L1852 102L1854.6 98L1857.4 95L1860.3 93.6L1845.4 92.7L1842.6 92.6L1839.7 94L1836.9 96.9L1834.3 101L1832 105.9L1830 111L1828.4 115.9L1827.2 120L1826.2 123L1825.5 124.6Z" fill="url(#hg38b)"/><path d="M1527.8 74.3L1530.4 76.4L1532.7 79.9L1534.6 84.3L1536.3 89.3L1537.5 94.4L1538.5 99.2L1539.2 103.3L1539.8 106.3L1540.3 107.8L1523.1 106.8L1522.6 106.8L1522.1 105.3L1521.6 102.4L1520.9 98.3L1519.9 93.5L1518.6 88.4L1517 83.3L1515.1 78.9L1512.8 75.5ZM1557.9 75.8L1560.7 76L1563.4 77.8L1565.8 81L1567.9 85.4L1569.6 90.4L1571 95.7L1572 100.8L1572.8 105.1L1573.4 108.2L1573.9 109.8L1556.7 108.8L1556.2 108.8L1555.7 107.1L1555.1 104L1554.4 99.7L1553.3 94.7L1552 89.4L1550.2 84.3L1548.1 79.9L1545.7 76.7L1543 74.9ZM1591.5 77.8L1594.3 78L1597 79.7L1599.4 83L1601.5 87.3L1603.2 92.4L1604.6 97.7L1605.6 102.8L1606.4 107L1607 110.1L1607.5 111.8L1590.3 110.8L1589.8 110.7L1589.3 109.1L1588.7 106L1588 101.7L1586.9 96.7L1585.6 91.3L1583.8 86.3L1581.7 81.9L1579.3 78.7L1576.6 76.9ZM1625.1 79.8L1627.9 79.9L1630.6 81.7L1633 84.9L1635.1 89.3L1636.8 94.4L1638.2 99.7L1639.2 104.7L1640 109L1640.6 112.1L1641.1 113.8L1623.9 112.8L1623.4 112.7L1622.9 111.1L1622.3 108L1621.6 103.7L1620.5 98.6L1619.2 93.3L1617.4 88.2L1615.3 83.9L1612.9 80.7L1610.2 78.9ZM1658.7 81.7L1661.5 81.9L1664.2 83.7L1666.6 86.9L1668.7 91.3L1670.4 96.4L1671.8 101.7L1672.8 106.7L1673.6 111L1674.2 114.1L1674.7 115.7L1657.5 114.7L1657 114.7L1656.5 113L1655.9 109.9L1655.2 105.7L1654.2 100.6L1652.8 95.3L1651 90.2L1648.9 85.9L1646.5 82.6L1643.8 80.9ZM1692.3 83.7L1695.1 83.9L1697.8 85.7L1700.2 88.9L1702.3 93.3L1704 98.3L1705.4 103.7L1706.4 108.7L1707.2 113L1707.8 116.1L1708.3 117.7L1691.1 116.7L1690.6 116.7L1690.1 115L1689.5 111.9L1688.8 107.6L1687.8 102.6L1686.4 97.3L1684.6 92.2L1682.5 87.8L1680.1 84.6L1677.4 82.8ZM1725.9 85.7L1728.7 85.9L1731.4 87.6L1733.8 90.9L1735.9 95.2L1737.6 100.3L1739 105.6L1740 110.7L1740.8 114.9L1741.4 118.1L1741.9 119.7L1724.7 118.7L1724.2 118.7L1723.7 117L1723.1 113.9L1722.4 109.6L1721.4 104.6L1720 99.2L1718.2 94.2L1716.1 89.8L1713.7 86.6L1711 84.8ZM1759.5 87.7L1762.3 87.8L1765 89.6L1767.4 92.8L1769.5 97.2L1771.2 102.3L1772.6 107.6L1773.6 112.6L1774.4 116.9L1775 120L1775.5 121.7L1758.3 120.7L1757.8 120.6L1757.3 119L1756.7 115.9L1756 111.6L1755 106.5L1753.6 101.2L1751.8 96.1L1749.7 91.8L1747.3 88.6L1744.6 86.8ZM1793.1 89.7L1795.9 89.8L1798.6 91.6L1801 94.8L1803.1 99.2L1804.8 104.3L1806.2 109.6L1807.2 114.6L1808 118.9L1808.6 122L1809.1 123.7L1791.9 122.6L1791.4 122.6L1790.9 121L1790.4 117.8L1789.6 113.6L1788.6 108.5L1787.2 103.2L1785.4 98.1L1783.3 93.8L1780.9 90.5L1778.2 88.8ZM1826.7 91.6L1829.5 91.8L1832.2 93.6L1834.6 96.8L1836.7 101.2L1838.4 106.2L1839.8 111.6L1840.8 116.6L1841.6 120.9L1842.2 124L1842.7 125.6L1825.5 124.6L1825 124.6L1824.5 122.9L1824 119.8L1823.2 115.5L1822.2 110.5L1820.8 105.2L1819 100.1L1816.9 95.7L1814.5 92.5L1811.8 90.8ZM1860.3 93.6L1862.8 93.7L1865.3 95.1L1867.6 97.8L1869.6 101.5L1853.8 105.3L1852.1 100.8L1850.1 97.1L1847.9 94.3L1845.4 92.7Z" fill="url(#hg38f)"/></g><g><path d="M1529.8 173.4L1530.3 173.3L1530.8 171.6L1531.2 168.4L1531.7 163.9L1532.6 158.7L1533.7 153.1L1535.2 147.8L1537.2 143.2L1539.5 139.8L1542.2 137.8L1527 139.5L1524.1 139.8L1521.4 141.8L1519.1 145.2L1517.1 149.8L1515.6 155.1L1514.4 160.7L1513.6 165.9L1513.1 170.4L1512.6 173.6L1512.2 175.3ZM1564.3 169.6L1564.8 169.6L1565.2 167.9L1565.7 164.6L1566.2 160.2L1567 154.9L1568.2 149.4L1569.7 144.1L1571.7 139.5L1574 136.1L1576.7 134.1L1561.4 135.8L1558.5 136.1L1555.9 138L1553.5 141.5L1551.6 146.1L1550.1 151.4L1548.9 156.9L1548.1 162.2L1547.5 166.6L1547.1 169.8L1546.7 171.6ZM1598.7 165.9L1599.3 165.8L1599.7 164.1L1600.1 160.9L1600.7 156.4L1601.5 151.2L1602.7 145.7L1604.2 140.3L1606.1 135.8L1608.5 132.3L1611.1 130.4L1595.9 132L1593 132.3L1590.4 134.3L1588 137.7L1586.1 142.3L1584.5 147.7L1583.4 153.2L1582.6 158.4L1582 162.9L1581.6 166.1L1581.2 167.8ZM1633.2 162.2L1633.8 162.1L1634.2 160.4L1634.6 157.2L1635.2 152.7L1636 147.5L1637.1 141.9L1638.7 136.6L1640.6 132L1643 128.6L1645.6 126.6L1630.4 128.3L1627.5 128.6L1624.8 130.6L1622.5 134L1620.5 138.6L1619 143.9L1617.9 149.5L1617.1 154.7L1616.5 159.1L1616.1 162.4L1615.6 164.1ZM1667.7 158.4L1668.2 158.4L1668.7 156.6L1669.1 153.4L1669.7 149L1670.5 143.7L1671.6 138.2L1673.1 132.9L1675.1 128.3L1677.4 124.8L1680.1 122.9L1664.9 124.5L1662 124.9L1659.3 126.8L1657 130.3L1655 134.9L1653.5 140.2L1652.4 145.7L1651.5 151L1651 155.4L1650.6 158.6L1650.1 160.3Z" fill="url(#hg39b)"/><path d="M1526.4 164.5L1527.9 168.8L1529 171.8L1529.8 173.4L1512.2 175.3L1511.7 175.3L1510.9 173.8L1509.8 170.7ZM1542.2 137.8L1545.1 137.5L1548.1 138.9L1551.1 141.7L1554 145.8L1556.7 150.7L1559 155.8L1560.9 160.8L1562.4 165L1563.5 168.1L1564.3 169.6L1546.7 171.6L1546.1 171.6L1545.4 170L1544.2 166.9L1542.7 162.7L1540.8 157.8L1538.5 152.6L1535.9 147.8L1533 143.7L1530 140.8L1527 139.5ZM1576.7 134.1L1579.6 133.8L1582.6 135.1L1585.6 138L1588.5 142.1L1591.1 146.9L1593.4 152.1L1595.3 157.1L1596.8 161.3L1598 164.3L1598.7 165.9L1581.2 167.8L1580.6 167.9L1579.8 166.3L1578.7 163.2L1577.2 159L1575.3 154L1573 148.9L1570.4 144L1567.5 140L1564.5 137.1L1561.4 135.8ZM1611.1 130.4L1614 130.1L1617.1 131.4L1620.1 134.3L1623 138.3L1625.6 143.2L1627.9 148.4L1629.8 153.3L1631.3 157.5L1632.4 160.6L1633.2 162.2L1615.6 164.1L1615.1 164.1L1614.3 162.5L1613.2 159.5L1611.7 155.3L1609.8 150.3L1607.5 145.1L1604.8 140.3L1602 136.2L1598.9 133.4L1595.9 132ZM1645.6 126.6L1648.5 126.3L1651.5 127.7L1654.6 130.5L1657.4 134.6L1660.1 139.5L1662.4 144.6L1664.3 149.6L1665.8 153.8L1666.9 156.8L1667.7 158.4L1650.1 160.3L1649.6 160.4L1648.8 158.8L1647.7 155.7L1646.2 151.5L1644.3 146.6L1642 141.4L1639.3 136.5L1636.4 132.5L1633.4 129.6L1630.4 128.3ZM1680.1 122.9L1683.3 122.6L1686.6 124.4L1689.9 127.9L1674.6 134.2L1671.5 129.5L1668.2 126.1L1664.9 124.5Z" fill="url(#hg39f)"/></g><g><path d="M1695.4 153.9L1695.9 153.8L1696.3 152.1L1696.6 149.1L1696.9 144.9L1697.5 139.9L1698.3 134.7L1699.6 129.6L1701.2 125.2L1703.3 121.9L1705.7 120L1691.5 122.1L1688.8 122.5L1686.3 124.5L1684.3 127.8L1682.6 132.2L1681.4 137.2L1680.5 142.5L1680 147.5L1679.6 151.7L1679.3 154.7L1679 156.3ZM1727.7 149L1728.2 148.9L1728.6 147.3L1728.8 144.2L1729.2 140L1729.8 135.1L1730.6 129.8L1731.9 124.8L1733.5 120.4L1735.6 117.1L1738 115.1L1723.8 117.3L1721 117.7L1718.6 119.6L1716.5 122.9L1714.9 127.3L1713.7 132.4L1712.8 137.7L1712.2 142.6L1711.9 146.8L1711.6 149.9L1711.3 151.5ZM1760 144.2L1760.5 144.1L1760.8 142.5L1761.1 139.4L1761.5 135.2L1762 130.2L1762.9 125L1764.1 119.9L1765.8 115.5L1767.9 112.2L1770.3 110.3L1756 112.4L1753.3 112.8L1750.9 114.8L1748.8 118.1L1747.2 122.5L1745.9 127.6L1745.1 132.8L1744.5 137.8L1744.2 142L1743.9 145L1743.5 146.6ZM1792.3 139.3L1792.8 139.3L1793.1 137.6L1793.4 134.6L1793.8 130.4L1794.3 125.4L1795.2 120.1L1796.4 115.1L1798.1 110.7L1800.1 107.4L1802.6 105.4L1788.3 107.6L1785.6 108L1783.2 109.9L1781.1 113.3L1779.5 117.7L1778.2 122.7L1777.4 128L1776.8 132.9L1776.4 137.1L1776.2 140.2L1775.8 141.8Z" fill="url(#hg40b)"/><path d="M1691.9 145.7L1693.5 149.6L1694.6 152.4L1695.4 153.9L1679 156.3L1678.5 156.4L1677.7 154.9L1676.5 152.1ZM1705.7 120L1708.4 119.6L1711.3 120.7L1714.3 123.3L1717.2 127L1719.8 131.5L1722.2 136.2L1724.2 140.8L1725.8 144.7L1726.9 147.6L1727.7 149L1711.3 151.5L1710.8 151.6L1710 150.1L1708.8 147.3L1707.2 143.3L1705.2 138.8L1702.9 134L1700.2 129.5L1697.3 125.8L1694.4 123.2L1691.5 122.1ZM1738 115.1L1740.7 114.7L1743.6 115.9L1746.6 118.4L1749.4 122.2L1752.1 126.6L1754.5 131.4L1756.5 136L1758 139.9L1759.2 142.7L1760 144.2L1743.5 146.6L1743 146.7L1742.2 145.3L1741.1 142.4L1739.5 138.5L1737.5 133.9L1735.1 129.2L1732.5 124.7L1729.6 121L1726.6 118.4L1723.8 117.3ZM1770.3 110.3L1773 109.9L1775.9 111L1778.8 113.6L1781.7 117.3L1784.4 121.8L1786.8 126.6L1788.7 131.1L1790.3 135L1791.5 137.9L1792.3 139.3L1775.8 141.8L1775.3 141.9L1774.5 140.4L1773.3 137.6L1771.8 133.7L1769.8 129.1L1767.4 124.3L1764.7 119.8L1761.9 116.1L1758.9 113.6L1756 112.4ZM1802.6 105.4L1804.4 105L1806.3 105.3L1792.3 109.5L1790.3 108.2L1788.3 107.6Z" fill="url(#hg40f)"/></g><path d="M1833 112C1834.17 113 1837.83 115.33 1840 118C1842.17 120.67 1845 126.33 1846 128" stroke="#5a5a5a" stroke-width="2.2" fill="none" stroke-linecap="round" stroke-linejoin="round"/><path d="M1551 77C1552.17 76.17 1554.83 72.83 1558 72C1561.17 71.17 1566.67 70.67 1570 72C1573.33 73.33 1576.67 78.67 1578 80" stroke="#d8232a" stroke-width="2.2" fill="none" stroke-linecap="round" stroke-linejoin="round"/><g><path d="M1606.4 93.7L1607 93.6L1607.4 92L1607.9 88.9L1608.6 84.6L1609.5 79.5L1610.8 74.1L1612.4 69L1614.4 64.6L1616.8 61.4L1619.4 59.5L1604.6 60.7L1601.8 61L1599.2 62.8L1596.8 66.1L1594.8 70.5L1593.2 75.6L1591.9 80.9L1591 86L1590.3 90.3L1589.8 93.4L1589.3 95ZM1640 91L1640.5 91L1641 89.3L1641.5 86.2L1642.2 81.9L1643.1 76.8L1644.3 71.5L1646 66.4L1648 62L1650.4 58.7L1653 56.9L1638.2 58.1L1635.4 58.3L1632.7 60.1L1630.4 63.4L1628.3 67.8L1626.7 72.9L1625.4 78.3L1624.5 83.3L1623.9 87.6L1623.3 90.7L1622.9 92.4ZM1673.5 88.3L1674.1 88.3L1674.5 86.6L1675 83.5L1675.7 79.2L1676.6 74.1L1677.9 68.8L1679.5 63.7L1681.6 59.3L1683.9 56L1686.6 54.2L1671.7 55.4L1668.9 55.6L1666.3 57.4L1663.9 60.7L1661.9 65.1L1660.3 70.2L1659 75.6L1658.1 80.6L1657.4 84.9L1656.9 88L1656.4 89.7ZM1707.1 85.7L1707.6 85.6L1708.1 84L1708.6 80.8L1709.3 76.5L1710.2 71.5L1711.5 66.1L1713.1 61L1715.1 56.6L1717.5 53.3L1720.1 51.5L1705.3 52.7L1702.5 52.9L1699.8 54.8L1697.5 58L1695.5 62.4L1693.8 67.6L1692.6 72.9L1691.6 78L1691 82.3L1690.5 85.4L1690 87ZM1740.6 83L1741.2 82.9L1741.6 81.3L1742.1 78.2L1742.8 73.9L1743.7 68.8L1745 63.5L1746.6 58.3L1748.7 53.9L1751 50.7L1753.7 48.8L1738.8 50L1736 50.3L1733.4 52.1L1731 55.4L1729 59.8L1727.4 64.9L1726.1 70.2L1725.2 75.3L1724.5 79.6L1724 82.7L1723.5 84.4ZM1774.2 80.3L1774.7 80.3L1775.2 78.6L1775.7 75.5L1776.4 71.2L1777.3 66.1L1778.6 60.8L1780.2 55.7L1782.2 51.3L1784.6 48L1787.2 46.2L1772.4 47.4L1769.6 47.6L1766.9 49.4L1764.6 52.7L1762.6 57.1L1760.9 62.2L1759.7 67.6L1758.7 72.6L1758.1 76.9L1757.6 80L1757.1 81.7ZM1807.8 77.6L1808.3 77.6L1808.7 75.9L1809.3 72.8L1809.9 68.5L1810.8 63.5L1812.1 58.1L1813.8 53L1815.8 48.6L1818.1 45.3L1820.8 43.5L1806 44.7L1803.1 44.9L1800.5 46.7L1798.1 50L1796.1 54.4L1794.5 59.5L1793.2 64.9L1792.3 69.9L1791.6 74.2L1791.1 77.4L1790.7 79ZM1841.3 75L1841.7 75.1L1842.1 74.3L1824.9 73.2L1824.6 75.2L1824.2 76.3Z" fill="url(#hg41b)"/><path d="M1591.4 63.2L1594.2 66L1597 70L1599.4 74.8L1601.6 79.9L1603.3 84.8L1604.7 89L1605.7 92.1L1606.4 93.7L1589.3 95L1588.8 95.1L1588.1 93.5L1587.1 90.4L1585.7 86.2L1583.9 81.2L1581.8 76.1L1579.3 71.3L1576.6 67.3ZM1619.4 59.5L1622.3 59.3L1625.2 60.7L1628 63.6L1630.7 67.6L1633.1 72.4L1635.2 77.5L1636.9 82.3L1638.3 86.5L1639.3 89.5L1640 91L1622.9 92.4L1622.4 92.4L1621.6 90.8L1620.6 87.8L1619.3 83.7L1617.6 78.9L1615.5 73.8L1613.1 69L1610.4 65L1607.5 62.1L1604.6 60.7ZM1653 56.9L1655.8 56.6L1658.7 58L1661.6 60.9L1664.3 64.9L1666.7 69.7L1668.8 74.8L1670.5 79.6L1671.8 83.8L1672.8 86.8L1673.5 88.3L1656.4 89.7L1655.9 89.7L1655.2 88.2L1654.2 85.2L1652.9 81L1651.1 76.2L1649 71.1L1646.6 66.3L1643.9 62.3L1641.1 59.4L1638.2 58.1ZM1686.6 54.2L1689.4 54L1692.3 55.4L1695.1 58.2L1697.8 62.3L1700.2 67.1L1702.3 72.1L1704 77L1705.4 81.1L1706.4 84.1L1707.1 85.7L1690 87L1689.5 87.1L1688.7 85.5L1687.8 82.5L1686.4 78.4L1684.7 73.5L1682.6 68.4L1680.2 63.6L1677.5 59.6L1674.6 56.8L1671.7 55.4ZM1720.1 51.5L1722.9 51.3L1725.8 52.7L1728.7 55.6L1731.4 59.6L1733.8 64.4L1735.9 69.5L1737.6 74.3L1738.9 78.4L1739.9 81.4L1740.6 83L1723.5 84.4L1723 84.4L1722.3 82.8L1721.3 79.8L1720 75.7L1718.2 70.8L1716.2 65.8L1713.7 61L1711 56.9L1708.2 54.1L1705.3 52.7ZM1753.7 48.8L1756.5 48.6L1759.4 50L1762.2 52.9L1764.9 56.9L1767.3 61.7L1769.4 66.8L1771.2 71.6L1772.5 75.8L1773.5 78.8L1774.2 80.3L1757.1 81.7L1756.6 81.7L1755.9 80.2L1754.9 77.1L1753.5 73L1751.8 68.2L1749.7 63.1L1747.3 58.3L1744.6 54.3L1741.7 51.4L1738.8 50ZM1787.2 46.2L1790 46L1792.9 47.3L1795.8 50.2L1798.5 54.2L1800.9 59L1803 64.1L1804.7 69L1806 73.1L1807 76.1L1807.8 77.6L1790.7 79L1790.1 79L1789.4 77.5L1788.4 74.5L1787.1 70.3L1785.4 65.5L1783.3 60.4L1780.8 55.6L1778.1 51.6L1775.3 48.7L1772.4 47.4ZM1820.8 43.5L1823.6 43.3L1826.5 44.7L1829.3 47.5L1832 51.6L1834.5 56.4L1836.5 61.4L1838.3 66.3L1839.6 70.4L1840.6 73.4L1841.3 75L1824.2 76.3L1823.7 76.4L1823 74.8L1822 71.8L1820.6 67.7L1818.9 62.8L1816.8 57.7L1814.4 52.9L1811.7 48.9L1808.8 46.1L1806 44.7Z" fill="url(#hg41f)"/></g><path d="M1548 200C1548.5 202 1549.33 208.33 1551 212C1552.67 215.67 1556.83 220.33 1558 222" stroke="#d8232a" stroke-width="2.2" fill="none" stroke-linecap="round" stroke-linejoin="round"/><g><path d="M1580.1 228.6L1580.6 228.5L1581 226.8L1581.3 223.5L1581.7 219.1L1582.4 213.8L1583.4 208.2L1584.8 202.9L1586.6 198.2L1588.8 194.7L1591.5 192.7L1576.3 194.8L1573.4 195.2L1570.8 197.2L1568.5 200.7L1566.7 205.4L1565.3 210.7L1564.4 216.3L1563.7 221.6L1563.3 226L1562.9 229.3L1562.5 231ZM1614.4 223.9L1615 223.8L1615.3 222.1L1615.7 218.8L1616.1 214.4L1616.8 209.1L1617.8 203.5L1619.1 198.2L1621 193.5L1623.2 190L1625.8 188L1610.6 190.1L1607.7 190.5L1605.1 192.5L1602.9 196L1601.1 200.7L1599.7 206L1598.7 211.6L1598.1 216.9L1597.6 221.3L1597.3 224.6L1596.9 226.3ZM1648.8 219.2L1649.3 219.1L1649.7 217.4L1650 214.1L1650.5 209.7L1651.1 204.4L1652.1 198.8L1653.5 193.5L1655.3 188.8L1657.6 185.3L1660.2 183.3L1645 185.4L1642.1 185.8L1639.5 187.8L1637.3 191.3L1635.4 196L1634.1 201.3L1633.1 206.9L1632.4 212.2L1632 216.6L1631.6 219.8L1631.3 221.6ZM1683.1 214.5L1683.7 214.4L1684 212.7L1684.4 209.4L1684.8 205L1685.5 199.7L1686.5 194.1L1687.9 188.8L1689.7 184.1L1691.9 180.6L1694.5 178.6L1679.4 180.7L1676.5 181.1L1673.9 183.1L1671.6 186.6L1669.8 191.3L1668.4 196.6L1667.4 202.2L1666.8 207.5L1666.3 211.9L1666 215.1L1665.6 216.9Z" fill="url(#hg42b)"/><path d="M1560.8 197.2L1563.8 198.8L1566.8 201.8L1569.7 205.9L1572.3 210.6L1574.6 215.6L1576.6 220.2L1578.1 224.2L1579.3 227.1L1580.1 228.6L1562.5 231L1562 231.1L1561.2 229.6L1560.1 226.8L1558.6 222.8L1556.6 218.2L1554.3 213.2L1551.7 208.5L1548.8 204.4L1545.8 201.4ZM1591.5 192.7L1594.3 192.3L1597.4 193.6L1600.5 196.4L1603.5 200.3L1606.3 205.1L1608.7 210.2L1610.8 215.1L1612.4 219.3L1613.6 222.3L1614.4 223.9L1596.9 226.3L1596.4 226.4L1595.5 224.8L1594.3 221.7L1592.7 217.6L1590.7 212.7L1588.2 207.6L1585.4 202.8L1582.4 198.8L1579.3 196L1576.3 194.8ZM1625.8 188L1628.7 187.6L1631.8 188.9L1634.9 191.7L1637.9 195.6L1640.6 200.4L1643.1 205.5L1645.1 210.4L1646.7 214.6L1647.9 217.6L1648.8 219.2L1631.3 221.6L1630.7 221.6L1629.9 220.1L1628.7 217L1627.1 212.9L1625 208L1622.6 202.9L1619.8 198.1L1616.8 194.1L1613.7 191.3L1610.6 190.1ZM1660.2 183.3L1663.1 182.9L1666.1 184.2L1669.2 186.9L1672.2 190.9L1675 195.7L1677.4 200.8L1679.5 205.7L1681.1 209.9L1682.3 212.9L1683.1 214.5L1665.6 216.9L1665.1 216.9L1664.2 215.4L1663.1 212.3L1661.4 208.2L1659.4 203.3L1656.9 198.2L1654.2 193.4L1651.2 189.4L1648.1 186.6L1645 185.4ZM1694.5 178.6L1697.5 178.2L1700.7 179.6L1704 182.7L1707.1 187L1709.9 192.1L1712.4 197.4L1696.2 204.6L1694.2 199.6L1691.7 194.3L1688.9 189.3L1685.8 185L1682.5 182L1679.4 180.7Z" fill="url(#hg42f)"/></g><g><path d="M1725.2 208.4L1725.7 208.4L1726.1 206.7L1726.4 203.5L1726.9 199.2L1727.6 194.1L1728.6 188.7L1730 183.5L1731.8 179.1L1734 175.7L1736.6 173.7L1721.8 175.6L1719 176L1716.5 177.9L1714.3 181.3L1712.4 185.8L1711.1 191L1710 196.4L1709.3 201.5L1708.9 205.8L1708.5 208.9L1708.1 210.6ZM1758.5 204.2L1759.1 204.1L1759.5 202.5L1759.8 199.3L1760.3 195L1761 189.9L1762 184.5L1763.4 179.3L1765.2 174.8L1767.4 171.5L1770 169.5L1755.2 171.4L1752.4 171.7L1749.9 173.7L1747.6 177.1L1745.8 181.6L1744.4 186.8L1743.4 192.1L1742.7 197.2L1742.3 201.6L1741.9 204.7L1741.5 206.4ZM1791.9 200L1792.5 199.9L1792.8 198.2L1793.2 195.1L1793.7 190.8L1794.4 185.7L1795.4 180.3L1796.8 175.1L1798.6 170.6L1800.8 167.2L1803.4 165.3L1788.6 167.1L1785.8 167.5L1783.2 169.5L1781 172.8L1779.2 177.3L1777.8 182.5L1776.8 187.9L1776.1 193L1775.7 197.3L1775.3 200.5L1774.9 202.1ZM1825.3 195.8L1825.9 195.7L1826.2 194L1826.6 190.9L1827.1 186.5L1827.8 181.4L1828.8 176L1830.2 170.9L1832 166.4L1834.2 163L1836.7 161L1822 162.9L1819.2 163.3L1816.6 165.2L1814.4 168.6L1812.6 173.1L1811.2 178.3L1810.2 183.7L1809.5 188.8L1809.1 193.1L1808.7 196.2L1808.3 197.9ZM1858.7 191.5L1859 191.7L1859.3 191.3L1842.1 191.7L1841.9 192.9L1841.7 193.7Z" fill="url(#hg43b)"/><path d="M1706.8 177.8L1709.7 179.4L1712.5 182.3L1715.3 186.3L1717.8 190.9L1720 195.7L1721.9 200.3L1723.3 204.2L1724.4 207L1725.2 208.4L1708.1 210.6L1707.6 210.7L1706.9 209.3L1705.8 206.5L1704.4 202.6L1702.5 198.1L1700.3 193.3L1697.8 188.6L1695.1 184.6L1692.2 181.7ZM1736.6 173.7L1739.4 173.4L1742.3 174.6L1745.3 177.4L1748.2 181.3L1750.8 185.9L1753.2 190.9L1755.1 195.7L1756.6 199.7L1757.8 202.7L1758.5 204.2L1741.5 206.4L1741 206.4L1740.2 204.9L1739.1 201.9L1737.5 197.9L1735.6 193.1L1733.3 188.1L1730.6 183.5L1727.8 179.6L1724.8 176.9L1721.8 175.6ZM1770 169.5L1772.8 169.2L1775.7 170.4L1778.7 173.1L1781.6 177L1784.2 181.7L1786.5 186.7L1788.5 191.4L1790 195.5L1791.2 198.5L1791.9 200L1774.9 202.1L1774.4 202.2L1773.6 200.7L1772.5 197.7L1770.9 193.6L1769 188.9L1766.7 183.9L1764 179.2L1761.1 175.3L1758.2 172.6L1755.2 171.4ZM1803.4 165.3L1806.2 164.9L1809.1 166.2L1812.1 168.9L1815 172.8L1817.6 177.5L1819.9 182.5L1821.9 187.2L1823.4 191.3L1824.5 194.2L1825.3 195.8L1808.3 197.9L1807.8 198L1807 196.4L1805.9 193.5L1804.3 189.4L1802.4 184.7L1800.1 179.7L1797.4 175L1794.5 171.1L1791.6 168.4L1788.6 167.1ZM1836.7 161L1839.6 160.7L1842.5 162L1845.5 164.7L1848.4 168.6L1851 173.3L1853.3 178.2L1855.3 183L1856.8 187.1L1857.9 190L1858.7 191.5L1841.7 193.7L1841.2 193.7L1840.4 192.2L1839.3 189.3L1837.7 185.2L1835.8 180.4L1833.5 175.4L1830.8 170.8L1827.9 166.9L1825 164.2L1822 162.9Z" fill="url(#hg43f)"/></g><text x="1875.23" y="130.8" font-size="26" fill="#58595b" textLength="48.06" lengthAdjust="spacingAndGlyphs">HR1</text><text x="1693.88" y="261" font-size="25.6" fill="#e31e24" textLength="51.73" lengthAdjust="spacingAndGlyphs">HR2</text><text x="60.19" y="1680.6" font-size="25.3" textLength="203.05" lengthAdjust="spacingAndGlyphs">HR2 sequence ID</text><text x="449.64" y="1680.6" font-size="25.3" textLength="134.24" lengthAdjust="spacingAndGlyphs">Staple scan</text><text x="773.49" y="1680.6" font-size="25.3" textLength="142.59" lengthAdjust="spacingAndGlyphs">Optimization</text><text x="1060.45" y="1680.6" font-size="25.3">Antiviral assessment</text><text x="1416.48" y="1680.6" font-size="25.3" textLength="143.44" lengthAdjust="spacingAndGlyphs">PK analyses</text><text x="1733.95" y="1680.6" font-size="25.3" textLength="160.68" lengthAdjust="spacingAndGlyphs">Animal testing</text><path d="M341.2 1804.9L366.1 1804.9L366.1 1799.2L391.9 1815.5L366.1 1831.9L366.1 1826.5L341.2 1826.5Z" fill="#060909"/><path d="M665.7 1804.9L690.6 1804.9L690.6 1799.2L716.4 1815.5L690.6 1831.9L690.6 1826.5L665.7 1826.5Z" fill="#060909"/><path d="M990.8 1804.9L1015.7 1804.9L1015.7 1799.2L1041.5 1815.5L1015.7 1831.9L1015.7 1826.5L990.8 1826.5Z" fill="#060909"/><path d="M1315 1804.9L1339.9 1804.9L1339.9 1799.2L1365.7 1815.5L1339.9 1831.9L1339.9 1826.5L1315 1826.5Z" fill="#060909"/><path d="M1640 1804.9L1664.9 1804.9L1664.9 1799.2L1690.7 1815.5L1664.9 1831.9L1664.9 1826.5L1640 1826.5Z" fill="#060909"/><g><path d="M99.8 1806L96.8 1805.5L94.1 1803.6L91.8 1800.6L90.2 1796.5L89.4 1791.8L89.6 1786.6L90.8 1781.4L92.9 1776.5L95.8 1772.3L99.5 1769L103.7 1766.8L108.2 1766L101 1766L96.5 1766.5L92.2 1768.4L88.3 1771.4L85.2 1775.5L82.9 1780.2L81.5 1785.4L81.1 1790.6L81.7 1795.5L83.1 1799.7L85.2 1803L87.9 1805.2L90.8 1806ZM118.4 1806L115.4 1805.5L112.7 1803.6L110.4 1800.6L108.8 1796.5L108 1791.8L108.2 1786.6L109.4 1781.4L111.5 1776.5L114.4 1772.3L118.1 1769L122.3 1766.8L126.8 1766L119.6 1766L115.1 1766.5L110.8 1768.4L106.9 1771.4L103.8 1775.5L101.5 1780.2L100.1 1785.4L99.7 1790.6L100.3 1795.5L101.7 1799.7L103.8 1803L106.5 1805.2L109.4 1806ZM137 1806L134 1805.5L131.3 1803.6L129 1800.6L127.4 1796.5L126.6 1791.8L126.8 1786.6L128 1781.4L130.1 1776.5L133 1772.3L136.7 1769L140.9 1766.8L145.4 1766L138.2 1766L133.7 1766.5L129.4 1768.4L125.5 1771.4L122.4 1775.5L120.1 1780.2L118.7 1785.4L118.3 1790.6L118.9 1795.5L120.3 1799.7L122.4 1803L125.1 1805.2L128 1806ZM155.6 1806L152.6 1805.5L149.9 1803.6L147.6 1800.6L146 1796.5L145.2 1791.8L145.4 1786.6L146.6 1781.4L148.7 1776.5L151.6 1772.3L155.3 1769L159.5 1766.8L164 1766L156.8 1766L152.3 1766.5L148 1768.4L144.1 1771.4L141 1775.5L138.7 1780.2L137.3 1785.4L136.9 1790.6L137.5 1795.5L138.9 1799.7L141 1803L143.7 1805.2L146.6 1806ZM174.2 1806L171.2 1805.5L168.5 1803.6L166.2 1800.6L164.6 1796.5L163.8 1791.8L164 1786.6L165.2 1781.4L167.3 1776.5L170.2 1772.3L173.9 1769L178.1 1766.8L182.6 1766L175.4 1766L170.9 1766.5L166.6 1768.4L162.7 1771.4L159.6 1775.5L157.3 1780.2L155.9 1785.4L155.5 1790.6L156.1 1795.5L157.5 1799.7L159.6 1803L162.3 1805.2L165.2 1806ZM192.8 1806L189.8 1805.5L187.1 1803.6L184.8 1800.6L183.2 1796.5L182.4 1791.8L182.6 1786.6L183.8 1781.4L185.9 1776.5L188.8 1772.3L192.5 1769L196.7 1766.8L201.2 1766L194 1766L189.5 1766.5L185.2 1768.4L181.3 1771.4L178.2 1775.5L175.9 1780.2L174.5 1785.4L174.1 1790.6L174.7 1795.5L176.1 1799.7L178.2 1803L180.9 1805.2L183.8 1806ZM211.4 1806L208.4 1805.5L205.7 1803.6L203.4 1800.6L201.8 1796.5L201 1791.8L201.2 1786.6L202.4 1781.4L204.5 1776.5L207.4 1772.3L211.1 1769L215.3 1766.8L219.8 1766L212.6 1766L208.1 1766.5L203.8 1768.4L199.9 1771.4L196.8 1775.5L194.5 1780.2L193.1 1785.4L192.7 1790.6L193.3 1795.5L194.7 1799.7L196.8 1803L199.5 1805.2L202.4 1806ZM230 1806L227 1805.5L224.3 1803.6L222 1800.6L220.4 1796.5L219.6 1791.8L219.8 1786.6L221 1781.4L223.1 1776.5L226 1772.3L229.7 1769L233.9 1766.8L238.4 1766L231.2 1766L226.7 1766.5L222.4 1768.4L218.5 1771.4L215.4 1775.5L213.1 1780.2L211.7 1785.4L211.3 1790.6L211.9 1795.5L213.3 1799.7L215.4 1803L218.1 1805.2L221 1806ZM248.6 1806L245.6 1805.5L242.9 1803.6L240.6 1800.6L239 1796.5L238.2 1791.8L238.4 1786.6L239.6 1781.4L241.7 1776.5L244.6 1772.3L248.3 1769L252.5 1766.8L257 1766L249.8 1766L245.3 1766.5L241 1768.4L237.1 1771.4L234 1775.5L231.7 1780.2L230.3 1785.4L229.9 1790.6L230.5 1795.5L231.9 1799.7L234 1803L236.7 1805.2L239.6 1806Z" fill="#3c3c3c" stroke="#2a1a1a" stroke-width="0.8" stroke-linejoin="round"/><path d="M89.6 1766L94.1 1766.5L98.4 1768.4L102.3 1771.4L105.4 1775.5L107.7 1780.2L109.1 1785.4L109.5 1790.6L108.9 1795.5L107.5 1799.7L105.4 1803L102.7 1805.2L99.8 1806L90.8 1806L93.8 1805.5L96.5 1803.6L98.8 1800.6L100.4 1796.5L101.2 1791.8L101 1786.6L99.8 1781.4L97.7 1776.5L94.8 1772.3L91.1 1769L86.9 1766.8L82.4 1766ZM108.2 1766L112.7 1766.5L117 1768.4L120.9 1771.4L124 1775.5L126.3 1780.2L127.7 1785.4L128.1 1790.6L127.5 1795.5L126.1 1799.7L124 1803L121.3 1805.2L118.4 1806L109.4 1806L112.4 1805.5L115.1 1803.6L117.4 1800.6L119 1796.5L119.8 1791.8L119.6 1786.6L118.4 1781.4L116.3 1776.5L113.4 1772.3L109.7 1769L105.5 1766.8L101 1766ZM126.8 1766L131.3 1766.5L135.6 1768.4L139.5 1771.4L142.6 1775.5L144.9 1780.2L146.3 1785.4L146.7 1790.6L146.1 1795.5L144.7 1799.7L142.6 1803L139.9 1805.2L137 1806L128 1806L131 1805.5L133.7 1803.6L136 1800.6L137.6 1796.5L138.4 1791.8L138.2 1786.6L137 1781.4L134.9 1776.5L132 1772.3L128.3 1769L124.1 1766.8L119.6 1766ZM145.4 1766L149.9 1766.5L154.2 1768.4L158.1 1771.4L161.2 1775.5L163.5 1780.2L164.9 1785.4L165.3 1790.6L164.7 1795.5L163.3 1799.7L161.2 1803L158.5 1805.2L155.6 1806L146.6 1806L149.6 1805.5L152.3 1803.6L154.6 1800.6L156.2 1796.5L157 1791.8L156.8 1786.6L155.6 1781.4L153.5 1776.5L150.6 1772.3L146.9 1769L142.7 1766.8L138.2 1766ZM164 1766L168.5 1766.5L172.8 1768.4L176.7 1771.4L179.8 1775.5L182.1 1780.2L183.5 1785.4L183.9 1790.6L183.3 1795.5L181.9 1799.7L179.8 1803L177.1 1805.2L174.2 1806L165.2 1806L168.2 1805.5L170.9 1803.6L173.2 1800.6L174.8 1796.5L175.6 1791.8L175.4 1786.6L174.2 1781.4L172.1 1776.5L169.2 1772.3L165.5 1769L161.3 1766.8L156.8 1766ZM182.6 1766L187.1 1766.5L191.4 1768.4L195.3 1771.4L198.4 1775.5L200.7 1780.2L202.1 1785.4L202.5 1790.6L201.9 1795.5L200.5 1799.7L198.4 1803L195.7 1805.2L192.8 1806L183.8 1806L186.8 1805.5L189.5 1803.6L191.8 1800.6L193.4 1796.5L194.2 1791.8L194 1786.6L192.8 1781.4L190.7 1776.5L187.8 1772.3L184.1 1769L179.9 1766.8L175.4 1766ZM201.2 1766L205.7 1766.5L210 1768.4L213.9 1771.4L217 1775.5L219.3 1780.2L220.7 1785.4L221.1 1790.6L220.5 1795.5L219.1 1799.7L217 1803L214.3 1805.2L211.4 1806L202.4 1806L205.4 1805.5L208.1 1803.6L210.4 1800.6L212 1796.5L212.8 1791.8L212.6 1786.6L211.4 1781.4L209.3 1776.5L206.4 1772.3L202.7 1769L198.5 1766.8L194 1766ZM219.8 1766L224.3 1766.5L228.6 1768.4L232.5 1771.4L235.6 1775.5L237.9 1780.2L239.3 1785.4L239.7 1790.6L239.1 1795.5L237.7 1799.7L235.6 1803L232.9 1805.2L230 1806L221 1806L224 1805.5L226.7 1803.6L229 1800.6L230.6 1796.5L231.4 1791.8L231.2 1786.6L230 1781.4L227.9 1776.5L225 1772.3L221.3 1769L217.1 1766.8L212.6 1766ZM238.4 1766L242.9 1766.5L247.2 1768.4L251.1 1771.4L254.2 1775.5L256.5 1780.2L257.9 1785.4L258.3 1790.6L257.7 1795.5L256.3 1799.7L254.2 1803L251.5 1805.2L248.6 1806L239.6 1806L242.6 1805.5L245.3 1803.6L247.6 1800.6L249.2 1796.5L250 1791.8L249.8 1786.6L248.6 1781.4L246.5 1776.5L243.6 1772.3L239.9 1769L235.7 1766.8L231.2 1766ZM257 1766L261.6 1766.5L265.9 1768.4L269.8 1771.5L272.9 1775.6L275.2 1780.5L276.6 1785.7L276.9 1790.9L276.3 1795.8L274.8 1800L272.6 1803.3L269.8 1805.3L260.9 1805.6L263.7 1803.8L266 1800.8L267.7 1796.8L268.5 1792.1L268.4 1786.9L267.3 1781.6L265.2 1776.7L262.2 1772.4L258.5 1769L254.3 1766.9L249.8 1766Z" fill="#6f6f6f" stroke="#2a1a1a" stroke-width="0.8" stroke-linejoin="round"/></g><path d="M262 1790L279 1790" stroke="#3c3c3c" stroke-width="2.6" fill="none" stroke-linecap="round" stroke-linejoin="round"/><path d="M66 1792C68.33 1791.17 75.67 1788.17 80 1787C84.33 1785.83 90 1785.33 92 1785" stroke="#8a8a8a" stroke-width="2.4" fill="none" stroke-linecap="round" stroke-linejoin="round"/><g><path d="M99.8 1762.2L96.8 1761.7L94.1 1759.8L91.8 1756.8L90.2 1752.7L89.4 1748L89.6 1742.8L90.8 1737.6L92.9 1732.7L95.8 1728.5L99.5 1725.2L103.7 1723L108.2 1722.2L101 1722.2L96.5 1722.7L92.2 1724.6L88.3 1727.6L85.2 1731.7L82.9 1736.4L81.5 1741.6L81.1 1746.8L81.7 1751.7L83.1 1755.9L85.2 1759.2L87.9 1761.4L90.8 1762.2ZM118.4 1762.2L115.4 1761.7L112.7 1759.8L110.4 1756.8L108.8 1752.7L108 1748L108.2 1742.8L109.4 1737.6L111.5 1732.7L114.4 1728.5L118.1 1725.2L122.3 1723L126.8 1722.2L119.6 1722.2L115.1 1722.7L110.8 1724.6L106.9 1727.6L103.8 1731.7L101.5 1736.4L100.1 1741.6L99.7 1746.8L100.3 1751.7L101.7 1755.9L103.8 1759.2L106.5 1761.4L109.4 1762.2ZM137 1762.2L134 1761.7L131.3 1759.8L129 1756.8L127.4 1752.7L126.6 1748L126.8 1742.8L128 1737.6L130.1 1732.7L133 1728.5L136.7 1725.2L140.9 1723L145.4 1722.2L138.2 1722.2L133.7 1722.7L129.4 1724.6L125.5 1727.6L122.4 1731.7L120.1 1736.4L118.7 1741.6L118.3 1746.8L118.9 1751.7L120.3 1755.9L122.4 1759.2L125.1 1761.4L128 1762.2ZM155.6 1762.2L152.6 1761.7L149.9 1759.8L147.6 1756.8L146 1752.7L145.2 1748L145.4 1742.8L146.6 1737.6L148.7 1732.7L151.6 1728.5L155.3 1725.2L159.5 1723L164 1722.2L156.8 1722.2L152.3 1722.7L148 1724.6L144.1 1727.6L141 1731.7L138.7 1736.4L137.3 1741.6L136.9 1746.8L137.5 1751.7L138.9 1755.9L141 1759.2L143.7 1761.4L146.6 1762.2ZM174.2 1762.2L171.2 1761.7L168.5 1759.8L166.2 1756.8L164.6 1752.7L163.8 1748L164 1742.8L165.2 1737.6L167.3 1732.7L170.2 1728.5L173.9 1725.2L178.1 1723L182.6 1722.2L175.4 1722.2L170.9 1722.7L166.6 1724.6L162.7 1727.6L159.6 1731.7L157.3 1736.4L155.9 1741.6L155.5 1746.8L156.1 1751.7L157.5 1755.9L159.6 1759.2L162.3 1761.4L165.2 1762.2ZM192.8 1762.2L189.8 1761.7L187.1 1759.8L184.8 1756.8L183.2 1752.7L182.4 1748L182.6 1742.8L183.8 1737.6L185.9 1732.7L188.8 1728.5L192.5 1725.2L196.7 1723L201.2 1722.2L194 1722.2L189.5 1722.7L185.2 1724.6L181.3 1727.6L178.2 1731.7L175.9 1736.4L174.5 1741.6L174.1 1746.8L174.7 1751.7L176.1 1755.9L178.2 1759.2L180.9 1761.4L183.8 1762.2ZM211.4 1762.2L208.4 1761.7L205.7 1759.8L203.4 1756.8L201.8 1752.7L201 1748L201.2 1742.8L202.4 1737.6L204.5 1732.7L207.4 1728.5L211.1 1725.2L215.3 1723L219.8 1722.2L212.6 1722.2L208.1 1722.7L203.8 1724.6L199.9 1727.6L196.8 1731.7L194.5 1736.4L193.1 1741.6L192.7 1746.8L193.3 1751.7L194.7 1755.9L196.8 1759.2L199.5 1761.4L202.4 1762.2ZM230 1762.2L227 1761.7L224.3 1759.8L222 1756.8L220.4 1752.7L219.6 1748L219.8 1742.8L221 1737.6L223.1 1732.7L226 1728.5L229.7 1725.2L233.9 1723L238.4 1722.2L231.2 1722.2L226.7 1722.7L222.4 1724.6L218.5 1727.6L215.4 1731.7L213.1 1736.4L211.7 1741.6L211.3 1746.8L211.9 1751.7L213.3 1755.9L215.4 1759.2L218.1 1761.4L221 1762.2ZM248.6 1762.2L245.6 1761.7L242.9 1759.8L240.6 1756.8L239 1752.7L238.2 1748L238.4 1742.8L239.6 1737.6L241.7 1732.7L244.6 1728.5L248.3 1725.2L252.5 1723L257 1722.2L249.8 1722.2L245.3 1722.7L241 1724.6L237.1 1727.6L234 1731.7L231.7 1736.4L230.3 1741.6L229.9 1746.8L230.5 1751.7L231.9 1755.9L234 1759.2L236.7 1761.4L239.6 1762.2Z" fill="#7b1216" stroke="#3b0c0e" stroke-width="0.8" stroke-linejoin="round"/><path d="M89.6 1722.2L94.1 1722.7L98.4 1724.6L102.3 1727.6L105.4 1731.7L107.7 1736.4L109.1 1741.6L109.5 1746.8L108.9 1751.7L107.5 1755.9L105.4 1759.2L102.7 1761.4L99.8 1762.2L90.8 1762.2L93.8 1761.7L96.5 1759.8L98.8 1756.8L100.4 1752.7L101.2 1748L101 1742.8L99.8 1737.6L97.7 1732.7L94.8 1728.5L91.1 1725.2L86.9 1723L82.4 1722.2ZM108.2 1722.2L112.7 1722.7L117 1724.6L120.9 1727.6L124 1731.7L126.3 1736.4L127.7 1741.6L128.1 1746.8L127.5 1751.7L126.1 1755.9L124 1759.2L121.3 1761.4L118.4 1762.2L109.4 1762.2L112.4 1761.7L115.1 1759.8L117.4 1756.8L119 1752.7L119.8 1748L119.6 1742.8L118.4 1737.6L116.3 1732.7L113.4 1728.5L109.7 1725.2L105.5 1723L101 1722.2ZM126.8 1722.2L131.3 1722.7L135.6 1724.6L139.5 1727.6L142.6 1731.7L144.9 1736.4L146.3 1741.6L146.7 1746.8L146.1 1751.7L144.7 1755.9L142.6 1759.2L139.9 1761.4L137 1762.2L128 1762.2L131 1761.7L133.7 1759.8L136 1756.8L137.6 1752.7L138.4 1748L138.2 1742.8L137 1737.6L134.9 1732.7L132 1728.5L128.3 1725.2L124.1 1723L119.6 1722.2ZM145.4 1722.2L149.9 1722.7L154.2 1724.6L158.1 1727.6L161.2 1731.7L163.5 1736.4L164.9 1741.6L165.3 1746.8L164.7 1751.7L163.3 1755.9L161.2 1759.2L158.5 1761.4L155.6 1762.2L146.6 1762.2L149.6 1761.7L152.3 1759.8L154.6 1756.8L156.2 1752.7L157 1748L156.8 1742.8L155.6 1737.6L153.5 1732.7L150.6 1728.5L146.9 1725.2L142.7 1723L138.2 1722.2ZM164 1722.2L168.5 1722.7L172.8 1724.6L176.7 1727.6L179.8 1731.7L182.1 1736.4L183.5 1741.6L183.9 1746.8L183.3 1751.7L181.9 1755.9L179.8 1759.2L177.1 1761.4L174.2 1762.2L165.2 1762.2L168.2 1761.7L170.9 1759.8L173.2 1756.8L174.8 1752.7L175.6 1748L175.4 1742.8L174.2 1737.6L172.1 1732.7L169.2 1728.5L165.5 1725.2L161.3 1723L156.8 1722.2ZM182.6 1722.2L187.1 1722.7L191.4 1724.6L195.3 1727.6L198.4 1731.7L200.7 1736.4L202.1 1741.6L202.5 1746.8L201.9 1751.7L200.5 1755.9L198.4 1759.2L195.7 1761.4L192.8 1762.2L183.8 1762.2L186.8 1761.7L189.5 1759.8L191.8 1756.8L193.4 1752.7L194.2 1748L194 1742.8L192.8 1737.6L190.7 1732.7L187.8 1728.5L184.1 1725.2L179.9 1723L175.4 1722.2ZM201.2 1722.2L205.7 1722.7L210 1724.6L213.9 1727.6L217 1731.7L219.3 1736.4L220.7 1741.6L221.1 1746.8L220.5 1751.7L219.1 1755.9L217 1759.2L214.3 1761.4L211.4 1762.2L202.4 1762.2L205.4 1761.7L208.1 1759.8L210.4 1756.8L212 1752.7L212.8 1748L212.6 1742.8L211.4 1737.6L209.3 1732.7L206.4 1728.5L202.7 1725.2L198.5 1723L194 1722.2ZM219.8 1722.2L224.3 1722.7L228.6 1724.6L232.5 1727.6L235.6 1731.7L237.9 1736.4L239.3 1741.6L239.7 1746.8L239.1 1751.7L237.7 1755.9L235.6 1759.2L232.9 1761.4L230 1762.2L221 1762.2L224 1761.7L226.7 1759.8L229 1756.8L230.6 1752.7L231.4 1748L231.2 1742.8L230 1737.6L227.9 1732.7L225 1728.5L221.3 1725.2L217.1 1723L212.6 1722.2ZM238.4 1722.2L242.9 1722.7L247.2 1724.6L251.1 1727.6L254.2 1731.7L256.5 1736.4L257.9 1741.6L258.3 1746.8L257.7 1751.7L256.3 1755.9L254.2 1759.2L251.5 1761.4L248.6 1762.2L239.6 1762.2L242.6 1761.7L245.3 1759.8L247.6 1756.8L249.2 1752.7L250 1748L249.8 1742.8L248.6 1737.6L246.5 1732.7L243.6 1728.5L239.9 1725.2L235.7 1723L231.2 1722.2ZM257 1722.2L261.6 1722.7L265.9 1724.6L269.8 1727.7L272.9 1731.8L275.2 1736.7L276.6 1741.9L276.9 1747.1L276.3 1752L274.8 1756.2L272.6 1759.5L269.8 1761.5L260.9 1761.8L263.7 1760L266 1757L267.7 1753L268.5 1748.3L268.4 1743.1L267.3 1737.8L265.2 1732.9L262.2 1728.6L258.5 1725.2L254.3 1723.1L249.8 1722.2Z" fill="#e8202a" stroke="#3b0c0e" stroke-width="0.8" stroke-linejoin="round"/></g><path d="M66 1741C68.33 1740.33 75.17 1738.25 80 1737C84.83 1735.75 92.5 1734.08 95 1733.5" stroke="#e8202a" stroke-width="2.6" fill="none" stroke-linecap="round" stroke-linejoin="round"/><path d="M262 1733L279.5 1733.4" stroke="#7b1216" stroke-width="2.6" fill="none" stroke-linecap="round" stroke-linejoin="round"/><g><path d="M99.8 1825L96.8 1824.5L94.1 1822.6L91.8 1819.6L90.2 1815.5L89.4 1810.8L89.6 1805.6L90.8 1800.4L92.9 1795.5L95.8 1791.3L99.5 1788L103.7 1785.8L108.2 1785L101 1785L96.5 1785.5L92.2 1787.4L88.3 1790.4L85.2 1794.5L82.9 1799.2L81.5 1804.4L81.1 1809.6L81.7 1814.5L83.1 1818.7L85.2 1822L87.9 1824.2L90.8 1825ZM118.4 1825L115.4 1824.5L112.7 1822.6L110.4 1819.6L108.8 1815.5L108 1810.8L108.2 1805.6L109.4 1800.4L111.5 1795.5L114.4 1791.3L118.1 1788L122.3 1785.8L126.8 1785L119.6 1785L115.1 1785.5L110.8 1787.4L106.9 1790.4L103.8 1794.5L101.5 1799.2L100.1 1804.4L99.7 1809.6L100.3 1814.5L101.7 1818.7L103.8 1822L106.5 1824.2L109.4 1825ZM137 1825L134 1824.5L131.3 1822.6L129 1819.6L127.4 1815.5L126.6 1810.8L126.8 1805.6L128 1800.4L130.1 1795.5L133 1791.3L136.7 1788L140.9 1785.8L145.4 1785L138.2 1785L133.7 1785.5L129.4 1787.4L125.5 1790.4L122.4 1794.5L120.1 1799.2L118.7 1804.4L118.3 1809.6L118.9 1814.5L120.3 1818.7L122.4 1822L125.1 1824.2L128 1825ZM155.6 1825L152.6 1824.5L149.9 1822.6L147.6 1819.6L146 1815.5L145.2 1810.8L145.4 1805.6L146.6 1800.4L148.7 1795.5L151.6 1791.3L155.3 1788L159.5 1785.8L164 1785L156.8 1785L152.3 1785.5L148 1787.4L144.1 1790.4L141 1794.5L138.7 1799.2L137.3 1804.4L136.9 1809.6L137.5 1814.5L138.9 1818.7L141 1822L143.7 1824.2L146.6 1825ZM174.2 1825L171.2 1824.5L168.5 1822.6L166.2 1819.6L164.6 1815.5L163.8 1810.8L164 1805.6L165.2 1800.4L167.3 1795.5L170.2 1791.3L173.9 1788L178.1 1785.8L182.6 1785L175.4 1785L170.9 1785.5L166.6 1787.4L162.7 1790.4L159.6 1794.5L157.3 1799.2L155.9 1804.4L155.5 1809.6L156.1 1814.5L157.5 1818.7L159.6 1822L162.3 1824.2L165.2 1825ZM192.8 1825L189.8 1824.5L187.1 1822.6L184.8 1819.6L183.2 1815.5L182.4 1810.8L182.6 1805.6L183.8 1800.4L185.9 1795.5L188.8 1791.3L192.5 1788L196.7 1785.8L201.2 1785L194 1785L189.5 1785.5L185.2 1787.4L181.3 1790.4L178.2 1794.5L175.9 1799.2L174.5 1804.4L174.1 1809.6L174.7 1814.5L176.1 1818.7L178.2 1822L180.9 1824.2L183.8 1825ZM211.4 1825L208.4 1824.5L205.7 1822.6L203.4 1819.6L201.8 1815.5L201 1810.8L201.2 1805.6L202.4 1800.4L204.5 1795.5L207.4 1791.3L211.1 1788L215.3 1785.8L219.8 1785L212.6 1785L208.1 1785.5L203.8 1787.4L199.9 1790.4L196.8 1794.5L194.5 1799.2L193.1 1804.4L192.7 1809.6L193.3 1814.5L194.7 1818.7L196.8 1822L199.5 1824.2L202.4 1825ZM230 1825L227 1824.5L224.3 1822.6L222 1819.6L220.4 1815.5L219.6 1810.8L219.8 1805.6L221 1800.4L223.1 1795.5L226 1791.3L229.7 1788L233.9 1785.8L238.4 1785L231.2 1785L226.7 1785.5L222.4 1787.4L218.5 1790.4L215.4 1794.5L213.1 1799.2L211.7 1804.4L211.3 1809.6L211.9 1814.5L213.3 1818.7L215.4 1822L218.1 1824.2L221 1825ZM248.6 1825L245.6 1824.5L242.9 1822.6L240.6 1819.6L239 1815.5L238.2 1810.8L238.4 1805.6L239.6 1800.4L241.7 1795.5L244.6 1791.3L248.3 1788L252.5 1785.8L257 1785L249.8 1785L245.3 1785.5L241 1787.4L237.1 1790.4L234 1794.5L231.7 1799.2L230.3 1804.4L229.9 1809.6L230.5 1814.5L231.9 1818.7L234 1822L236.7 1824.2L239.6 1825Z" fill="#3c3c3c" stroke="#2a1a1a" stroke-width="0.8" stroke-linejoin="round"/><path d="M89.6 1785L94.1 1785.5L98.4 1787.4L102.3 1790.4L105.4 1794.5L107.7 1799.2L109.1 1804.4L109.5 1809.6L108.9 1814.5L107.5 1818.7L105.4 1822L102.7 1824.2L99.8 1825L90.8 1825L93.8 1824.5L96.5 1822.6L98.8 1819.6L100.4 1815.5L101.2 1810.8L101 1805.6L99.8 1800.4L97.7 1795.5L94.8 1791.3L91.1 1788L86.9 1785.8L82.4 1785ZM108.2 1785L112.7 1785.5L117 1787.4L120.9 1790.4L124 1794.5L126.3 1799.2L127.7 1804.4L128.1 1809.6L127.5 1814.5L126.1 1818.7L124 1822L121.3 1824.2L118.4 1825L109.4 1825L112.4 1824.5L115.1 1822.6L117.4 1819.6L119 1815.5L119.8 1810.8L119.6 1805.6L118.4 1800.4L116.3 1795.5L113.4 1791.3L109.7 1788L105.5 1785.8L101 1785ZM126.8 1785L131.3 1785.5L135.6 1787.4L139.5 1790.4L142.6 1794.5L144.9 1799.2L146.3 1804.4L146.7 1809.6L146.1 1814.5L144.7 1818.7L142.6 1822L139.9 1824.2L137 1825L128 1825L131 1824.5L133.7 1822.6L136 1819.6L137.6 1815.5L138.4 1810.8L138.2 1805.6L137 1800.4L134.9 1795.5L132 1791.3L128.3 1788L124.1 1785.8L119.6 1785ZM145.4 1785L149.9 1785.5L154.2 1787.4L158.1 1790.4L161.2 1794.5L163.5 1799.2L164.9 1804.4L165.3 1809.6L164.7 1814.5L163.3 1818.7L161.2 1822L158.5 1824.2L155.6 1825L146.6 1825L149.6 1824.5L152.3 1822.6L154.6 1819.6L156.2 1815.5L157 1810.8L156.8 1805.6L155.6 1800.4L153.5 1795.5L150.6 1791.3L146.9 1788L142.7 1785.8L138.2 1785ZM164 1785L168.5 1785.5L172.8 1787.4L176.7 1790.4L179.8 1794.5L182.1 1799.2L183.5 1804.4L183.9 1809.6L183.3 1814.5L181.9 1818.7L179.8 1822L177.1 1824.2L174.2 1825L165.2 1825L168.2 1824.5L170.9 1822.6L173.2 1819.6L174.8 1815.5L175.6 1810.8L175.4 1805.6L174.2 1800.4L172.1 1795.5L169.2 1791.3L165.5 1788L161.3 1785.8L156.8 1785ZM182.6 1785L187.1 1785.5L191.4 1787.4L195.3 1790.4L198.4 1794.5L200.7 1799.2L202.1 1804.4L202.5 1809.6L201.9 1814.5L200.5 1818.7L198.4 1822L195.7 1824.2L192.8 1825L183.8 1825L186.8 1824.5L189.5 1822.6L191.8 1819.6L193.4 1815.5L194.2 1810.8L194 1805.6L192.8 1800.4L190.7 1795.5L187.8 1791.3L184.1 1788L179.9 1785.8L175.4 1785ZM201.2 1785L205.7 1785.5L210 1787.4L213.9 1790.4L217 1794.5L219.3 1799.2L220.7 1804.4L221.1 1809.6L220.5 1814.5L219.1 1818.7L217 1822L214.3 1824.2L211.4 1825L202.4 1825L205.4 1824.5L208.1 1822.6L210.4 1819.6L212 1815.5L212.8 1810.8L212.6 1805.6L211.4 1800.4L209.3 1795.5L206.4 1791.3L202.7 1788L198.5 1785.8L194 1785ZM219.8 1785L224.3 1785.5L228.6 1787.4L232.5 1790.4L235.6 1794.5L237.9 1799.2L239.3 1804.4L239.7 1809.6L239.1 1814.5L237.7 1818.7L235.6 1822L232.9 1824.2L230 1825L221 1825L224 1824.5L226.7 1822.6L229 1819.6L230.6 1815.5L231.4 1810.8L231.2 1805.6L230 1800.4L227.9 1795.5L225 1791.3L221.3 1788L217.1 1785.8L212.6 1785ZM238.4 1785L242.9 1785.5L247.2 1787.4L251.1 1790.4L254.2 1794.5L256.5 1799.2L257.9 1804.4L258.3 1809.6L257.7 1814.5L256.3 1818.7L254.2 1822L251.5 1824.2L248.6 1825L239.6 1825L242.6 1824.5L245.3 1822.6L247.6 1819.6L249.2 1815.5L250 1810.8L249.8 1805.6L248.6 1800.4L246.5 1795.5L243.6 1791.3L239.9 1788L235.7 1785.8L231.2 1785ZM257 1785L261.6 1785.5L265.9 1787.4L269.8 1790.5L272.9 1794.6L275.2 1799.5L276.6 1804.7L276.9 1809.9L276.3 1814.8L274.8 1819L272.6 1822.3L269.8 1824.3L260.9 1824.6L263.7 1822.8L266 1819.8L267.7 1815.8L268.5 1811.1L268.4 1805.9L267.3 1800.6L265.2 1795.7L262.2 1791.4L258.5 1788L254.3 1785.9L249.8 1785Z" fill="#6a6a6a" stroke="#2a1a1a" stroke-width="0.8" stroke-linejoin="round"/></g><path d="M66 1812C68.33 1811 75 1808 80 1806C85 1804 93.33 1801 96 1800" stroke="#8a8a8a" stroke-width="2.4" fill="none" stroke-linecap="round" stroke-linejoin="round"/><g><path d="M117.8 1803L114.8 1802.5L112.1 1800.6L109.8 1797.6L108.2 1793.5L107.4 1788.8L107.6 1783.6L108.8 1778.4L110.9 1773.5L113.8 1769.3L117.5 1766L121.7 1763.8L126.2 1763L119 1763L114.5 1763.5L110.2 1765.4L106.3 1768.4L103.2 1772.5L100.9 1777.2L99.5 1782.4L99.1 1787.6L99.7 1792.5L101.1 1796.7L103.2 1800L105.9 1802.2L108.8 1803ZM136.4 1803L133.4 1802.5L130.7 1800.6L128.4 1797.6L126.8 1793.5L126 1788.8L126.2 1783.6L127.4 1778.4L129.5 1773.5L132.4 1769.3L136.1 1766L140.3 1763.8L144.8 1763L137.6 1763L133.1 1763.5L128.8 1765.4L124.9 1768.4L121.8 1772.5L119.5 1777.2L118.1 1782.4L117.7 1787.6L118.3 1792.5L119.7 1796.7L121.8 1800L124.5 1802.2L127.4 1803ZM155 1803L152 1802.5L149.3 1800.6L147 1797.6L145.4 1793.5L144.6 1788.8L144.8 1783.6L146 1778.4L148.1 1773.5L151 1769.3L154.7 1766L158.9 1763.8L163.4 1763L156.2 1763L151.7 1763.5L147.4 1765.4L143.5 1768.4L140.4 1772.5L138.1 1777.2L136.7 1782.4L136.3 1787.6L136.9 1792.5L138.3 1796.7L140.4 1800L143.1 1802.2L146 1803ZM173.6 1803L170.6 1802.5L167.9 1800.6L165.6 1797.6L164 1793.5L163.2 1788.8L163.4 1783.6L164.6 1778.4L166.7 1773.5L169.6 1769.3L173.3 1766L177.5 1763.8L182 1763L174.8 1763L170.3 1763.5L166 1765.4L162.1 1768.4L159 1772.5L156.7 1777.2L155.3 1782.4L154.9 1787.6L155.5 1792.5L156.9 1796.7L159 1800L161.7 1802.2L164.6 1803ZM192.2 1803L189.2 1802.5L186.5 1800.6L184.2 1797.6L182.6 1793.5L181.8 1788.8L182 1783.6L183.2 1778.4L185.3 1773.5L188.2 1769.3L191.9 1766L196.1 1763.8L200.6 1763L193.4 1763L188.9 1763.5L184.6 1765.4L180.7 1768.4L177.6 1772.5L175.3 1777.2L173.9 1782.4L173.5 1787.6L174.1 1792.5L175.5 1796.7L177.6 1800L180.3 1802.2L183.2 1803ZM210.8 1803L207.8 1802.5L205.1 1800.6L202.8 1797.6L201.2 1793.5L200.4 1788.8L200.6 1783.6L201.8 1778.4L203.9 1773.5L206.8 1769.3L210.5 1766L214.7 1763.8L219.2 1763L212 1763L207.5 1763.5L203.2 1765.4L199.3 1768.4L196.2 1772.5L193.9 1777.2L192.5 1782.4L192.1 1787.6L192.7 1792.5L194.1 1796.7L196.2 1800L198.9 1802.2L201.8 1803ZM229.4 1803L226.4 1802.5L223.7 1800.6L221.4 1797.6L219.8 1793.5L219 1788.8L219.2 1783.6L220.4 1778.4L222.5 1773.5L225.4 1769.3L229.1 1766L233.3 1763.8L237.8 1763L230.6 1763L226.1 1763.5L221.8 1765.4L217.9 1768.4L214.8 1772.5L212.5 1777.2L211.1 1782.4L210.7 1787.6L211.3 1792.5L212.7 1796.7L214.8 1800L217.5 1802.2L220.4 1803ZM248 1803L245 1802.5L242.3 1800.6L240 1797.6L238.4 1793.5L237.6 1788.8L237.8 1783.6L239 1778.4L241.1 1773.5L244 1769.3L247.7 1766L251.9 1763.8L256.4 1763L249.2 1763L244.7 1763.5L240.4 1765.4L236.5 1768.4L233.4 1772.5L231.1 1777.2L229.7 1782.4L229.3 1787.6L229.9 1792.5L231.3 1796.7L233.4 1800L236.1 1802.2L239 1803ZM266.6 1803L263.6 1802.5L260.9 1800.6L258.6 1797.6L257 1793.5L256.2 1788.8L256.4 1783.6L257.6 1778.4L259.7 1773.5L262.6 1769.3L266.3 1766L270.5 1763.8L275 1763L267.8 1763L263.3 1763.5L259 1765.4L255.1 1768.4L252 1772.5L249.7 1777.2L248.3 1782.4L247.9 1787.6L248.5 1792.5L249.9 1796.7L252 1800L254.7 1802.2L257.6 1803ZM285.2 1803L282.7 1802.7L280.3 1801.4L271.4 1800.8L273.7 1802.4L276.2 1803Z" fill="#4c4c4c" stroke="#2a1a1a" stroke-width="0.8" stroke-linejoin="round"/><path d="M107.6 1763L112.1 1763.5L116.4 1765.4L120.3 1768.4L123.4 1772.5L125.7 1777.2L127.1 1782.4L127.5 1787.6L126.9 1792.5L125.5 1796.7L123.4 1800L120.7 1802.2L117.8 1803L108.8 1803L111.8 1802.5L114.5 1800.6L116.8 1797.6L118.4 1793.5L119.2 1788.8L119 1783.6L117.8 1778.4L115.7 1773.5L112.8 1769.3L109.1 1766L104.9 1763.8L100.4 1763ZM126.2 1763L130.7 1763.5L135 1765.4L138.9 1768.4L142 1772.5L144.3 1777.2L145.7 1782.4L146.1 1787.6L145.5 1792.5L144.1 1796.7L142 1800L139.3 1802.2L136.4 1803L127.4 1803L130.4 1802.5L133.1 1800.6L135.4 1797.6L137 1793.5L137.8 1788.8L137.6 1783.6L136.4 1778.4L134.3 1773.5L131.4 1769.3L127.7 1766L123.5 1763.8L119 1763ZM144.8 1763L149.3 1763.5L153.6 1765.4L157.5 1768.4L160.6 1772.5L162.9 1777.2L164.3 1782.4L164.7 1787.6L164.1 1792.5L162.7 1796.7L160.6 1800L157.9 1802.2L155 1803L146 1803L149 1802.5L151.7 1800.6L154 1797.6L155.6 1793.5L156.4 1788.8L156.2 1783.6L155 1778.4L152.9 1773.5L150 1769.3L146.3 1766L142.1 1763.8L137.6 1763ZM163.4 1763L167.9 1763.5L172.2 1765.4L176.1 1768.4L179.2 1772.5L181.5 1777.2L182.9 1782.4L183.3 1787.6L182.7 1792.5L181.3 1796.7L179.2 1800L176.5 1802.2L173.6 1803L164.6 1803L167.6 1802.5L170.3 1800.6L172.6 1797.6L174.2 1793.5L175 1788.8L174.8 1783.6L173.6 1778.4L171.5 1773.5L168.6 1769.3L164.9 1766L160.7 1763.8L156.2 1763ZM182 1763L186.5 1763.5L190.8 1765.4L194.7 1768.4L197.8 1772.5L200.1 1777.2L201.5 1782.4L201.9 1787.6L201.3 1792.5L199.9 1796.7L197.8 1800L195.1 1802.2L192.2 1803L183.2 1803L186.2 1802.5L188.9 1800.6L191.2 1797.6L192.8 1793.5L193.6 1788.8L193.4 1783.6L192.2 1778.4L190.1 1773.5L187.2 1769.3L183.5 1766L179.3 1763.8L174.8 1763ZM200.6 1763L205.1 1763.5L209.4 1765.4L213.3 1768.4L216.4 1772.5L218.7 1777.2L220.1 1782.4L220.5 1787.6L219.9 1792.5L218.5 1796.7L216.4 1800L213.7 1802.2L210.8 1803L201.8 1803L204.8 1802.5L207.5 1800.6L209.8 1797.6L211.4 1793.5L212.2 1788.8L212 1783.6L210.8 1778.4L208.7 1773.5L205.8 1769.3L202.1 1766L197.9 1763.8L193.4 1763ZM219.2 1763L223.7 1763.5L228 1765.4L231.9 1768.4L235 1772.5L237.3 1777.2L238.7 1782.4L239.1 1787.6L238.5 1792.5L237.1 1796.7L235 1800L232.3 1802.2L229.4 1803L220.4 1803L223.4 1802.5L226.1 1800.6L228.4 1797.6L230 1793.5L230.8 1788.8L230.6 1783.6L229.4 1778.4L227.3 1773.5L224.4 1769.3L220.7 1766L216.5 1763.8L212 1763ZM237.8 1763L242.3 1763.5L246.6 1765.4L250.5 1768.4L253.6 1772.5L255.9 1777.2L257.3 1782.4L257.7 1787.6L257.1 1792.5L255.7 1796.7L253.6 1800L250.9 1802.2L248 1803L239 1803L242 1802.5L244.7 1800.6L247 1797.6L248.6 1793.5L249.4 1788.8L249.2 1783.6L248 1778.4L245.9 1773.5L243 1769.3L239.3 1766L235.1 1763.8L230.6 1763ZM256.4 1763L260.9 1763.5L265.2 1765.4L269.1 1768.4L272.2 1772.5L274.5 1777.2L275.9 1782.4L276.3 1787.6L275.7 1792.5L274.3 1796.7L272.2 1800L269.5 1802.2L266.6 1803L257.6 1803L260.6 1802.5L263.3 1800.6L265.6 1797.6L267.2 1793.5L268 1788.8L267.8 1783.6L266.6 1778.4L264.5 1773.5L261.6 1769.3L257.9 1766L253.7 1763.8L249.2 1763ZM275 1763L279.5 1763.5L283.8 1765.4L287.7 1768.4L290.8 1772.5L293.1 1777.2L294.5 1782.4L294.9 1787.6L294.3 1792.5L292.9 1796.7L290.8 1800L288.1 1802.2L285.2 1803L276.2 1803L279.2 1802.5L281.9 1800.6L284.2 1797.6L285.8 1793.5L286.6 1788.8L286.4 1783.6L285.2 1778.4L283.1 1773.5L280.2 1769.3L276.5 1766L272.3 1763.8L267.8 1763Z" fill="#9c9c9c" stroke="#2a1a1a" stroke-width="0.8" stroke-linejoin="round"/></g><path d="M80 1793C82.5 1792 89.67 1789 95 1787C100.33 1785 109.17 1782 112 1781" stroke="#9c9c9c" stroke-width="2.4" fill="none" stroke-linecap="round" stroke-linejoin="round"/><path d="M280 1773.5L300 1773.5" stroke="#3c3c3c" stroke-width="2.6" fill="none" stroke-linecap="round" stroke-linejoin="round"/><g opacity="0.62"><path d="M105.8 1844.5L102.8 1844L100.1 1842.1L97.8 1839.1L96.2 1835L95.4 1830.3L95.6 1825.1L96.8 1819.9L98.9 1815L101.8 1810.8L105.5 1807.5L109.7 1805.3L114.2 1804.5L107 1804.5L102.5 1805L98.2 1806.9L94.3 1809.9L91.2 1814L88.9 1818.7L87.5 1823.9L87.1 1829.1L87.7 1834L89.1 1838.2L91.2 1841.5L93.9 1843.7L96.8 1844.5ZM124.4 1844.5L121.4 1844L118.7 1842.1L116.4 1839.1L114.8 1835L114 1830.3L114.2 1825.1L115.4 1819.9L117.5 1815L120.4 1810.8L124.1 1807.5L128.3 1805.3L132.8 1804.5L125.6 1804.5L121.1 1805L116.8 1806.9L112.9 1809.9L109.8 1814L107.5 1818.7L106.1 1823.9L105.7 1829.1L106.3 1834L107.7 1838.2L109.8 1841.5L112.5 1843.7L115.4 1844.5ZM143 1844.5L140 1844L137.3 1842.1L135 1839.1L133.4 1835L132.6 1830.3L132.8 1825.1L134 1819.9L136.1 1815L139 1810.8L142.7 1807.5L146.9 1805.3L151.4 1804.5L144.2 1804.5L139.7 1805L135.4 1806.9L131.5 1809.9L128.4 1814L126.1 1818.7L124.7 1823.9L124.3 1829.1L124.9 1834L126.3 1838.2L128.4 1841.5L131.1 1843.7L134 1844.5ZM161.6 1844.5L158.6 1844L155.9 1842.1L153.6 1839.1L152 1835L151.2 1830.3L151.4 1825.1L152.6 1819.9L154.7 1815L157.6 1810.8L161.3 1807.5L165.5 1805.3L170 1804.5L162.8 1804.5L158.3 1805L154 1806.9L150.1 1809.9L147 1814L144.7 1818.7L143.3 1823.9L142.9 1829.1L143.5 1834L144.9 1838.2L147 1841.5L149.7 1843.7L152.6 1844.5ZM180.2 1844.5L177.2 1844L174.5 1842.1L172.2 1839.1L170.6 1835L169.8 1830.3L170 1825.1L171.2 1819.9L173.3 1815L176.2 1810.8L179.9 1807.5L184.1 1805.3L188.6 1804.5L181.4 1804.5L176.9 1805L172.6 1806.9L168.7 1809.9L165.6 1814L163.3 1818.7L161.9 1823.9L161.5 1829.1L162.1 1834L163.5 1838.2L165.6 1841.5L168.3 1843.7L171.2 1844.5ZM198.8 1844.5L195.8 1844L193.1 1842.1L190.8 1839.1L189.2 1835L188.4 1830.3L188.6 1825.1L189.8 1819.9L191.9 1815L194.8 1810.8L198.5 1807.5L202.7 1805.3L207.2 1804.5L200 1804.5L195.5 1805L191.2 1806.9L187.3 1809.9L184.2 1814L181.9 1818.7L180.5 1823.9L180.1 1829.1L180.7 1834L182.1 1838.2L184.2 1841.5L186.9 1843.7L189.8 1844.5ZM217.4 1844.5L214.4 1844L211.7 1842.1L209.4 1839.1L207.8 1835L207 1830.3L207.2 1825.1L208.4 1819.9L210.5 1815L213.4 1810.8L217.1 1807.5L221.3 1805.3L225.8 1804.5L218.6 1804.5L214.1 1805L209.8 1806.9L205.9 1809.9L202.8 1814L200.5 1818.7L199.1 1823.9L198.7 1829.1L199.3 1834L200.7 1838.2L202.8 1841.5L205.5 1843.7L208.4 1844.5ZM236 1844.5L233 1844L230.3 1842.1L228 1839.1L226.4 1835L225.6 1830.3L225.8 1825.1L227 1819.9L229.1 1815L232 1810.8L235.7 1807.5L239.9 1805.3L244.4 1804.5L237.2 1804.5L232.7 1805L228.4 1806.9L224.5 1809.9L221.4 1814L219.1 1818.7L217.7 1823.9L217.3 1829.1L217.9 1834L219.3 1838.2L221.4 1841.5L224.1 1843.7L227 1844.5ZM254.6 1844.5L251.6 1844L248.9 1842.1L246.6 1839.1L245 1835L244.2 1830.3L244.4 1825.1L245.6 1819.9L247.7 1815L250.6 1810.8L254.3 1807.5L258.5 1805.3L263 1804.5L255.8 1804.5L251.3 1805L247 1806.9L243.1 1809.9L240 1814L237.7 1818.7L236.3 1823.9L235.9 1829.1L236.5 1834L237.9 1838.2L240 1841.5L242.7 1843.7L245.6 1844.5ZM273.2 1844.5L270 1843.9L267.2 1841.8L264.8 1838.4L263.3 1833.8L254.8 1832.8L256.1 1837.5L258.3 1841.2L261.1 1843.6L264.2 1844.5Z" fill="#e09a85" stroke="#b07060" stroke-width="0.8" stroke-linejoin="round"/><path d="M95.6 1804.5L100.1 1805L104.4 1806.9L108.3 1809.9L111.4 1814L113.7 1818.7L115.1 1823.9L115.5 1829.1L114.9 1834L113.5 1838.2L111.4 1841.5L108.7 1843.7L105.8 1844.5L96.8 1844.5L99.8 1844L102.5 1842.1L104.8 1839.1L106.4 1835L107.2 1830.3L107 1825.1L105.8 1819.9L103.7 1815L100.8 1810.8L97.1 1807.5L92.9 1805.3L88.4 1804.5ZM114.2 1804.5L118.7 1805L123 1806.9L126.9 1809.9L130 1814L132.3 1818.7L133.7 1823.9L134.1 1829.1L133.5 1834L132.1 1838.2L130 1841.5L127.3 1843.7L124.4 1844.5L115.4 1844.5L118.4 1844L121.1 1842.1L123.4 1839.1L125 1835L125.8 1830.3L125.6 1825.1L124.4 1819.9L122.3 1815L119.4 1810.8L115.7 1807.5L111.5 1805.3L107 1804.5ZM132.8 1804.5L137.3 1805L141.6 1806.9L145.5 1809.9L148.6 1814L150.9 1818.7L152.3 1823.9L152.7 1829.1L152.1 1834L150.7 1838.2L148.6 1841.5L145.9 1843.7L143 1844.5L134 1844.5L137 1844L139.7 1842.1L142 1839.1L143.6 1835L144.4 1830.3L144.2 1825.1L143 1819.9L140.9 1815L138 1810.8L134.3 1807.5L130.1 1805.3L125.6 1804.5ZM151.4 1804.5L155.9 1805L160.2 1806.9L164.1 1809.9L167.2 1814L169.5 1818.7L170.9 1823.9L171.3 1829.1L170.7 1834L169.3 1838.2L167.2 1841.5L164.5 1843.7L161.6 1844.5L152.6 1844.5L155.6 1844L158.3 1842.1L160.6 1839.1L162.2 1835L163 1830.3L162.8 1825.1L161.6 1819.9L159.5 1815L156.6 1810.8L152.9 1807.5L148.7 1805.3L144.2 1804.5ZM170 1804.5L174.5 1805L178.8 1806.9L182.7 1809.9L185.8 1814L188.1 1818.7L189.5 1823.9L189.9 1829.1L189.3 1834L187.9 1838.2L185.8 1841.5L183.1 1843.7L180.2 1844.5L171.2 1844.5L174.2 1844L176.9 1842.1L179.2 1839.1L180.8 1835L181.6 1830.3L181.4 1825.1L180.2 1819.9L178.1 1815L175.2 1810.8L171.5 1807.5L167.3 1805.3L162.8 1804.5ZM188.6 1804.5L193.1 1805L197.4 1806.9L201.3 1809.9L204.4 1814L206.7 1818.7L208.1 1823.9L208.5 1829.1L207.9 1834L206.5 1838.2L204.4 1841.5L201.7 1843.7L198.8 1844.5L189.8 1844.5L192.8 1844L195.5 1842.1L197.8 1839.1L199.4 1835L200.2 1830.3L200 1825.1L198.8 1819.9L196.7 1815L193.8 1810.8L190.1 1807.5L185.9 1805.3L181.4 1804.5ZM207.2 1804.5L211.7 1805L216 1806.9L219.9 1809.9L223 1814L225.3 1818.7L226.7 1823.9L227.1 1829.1L226.5 1834L225.1 1838.2L223 1841.5L220.3 1843.7L217.4 1844.5L208.4 1844.5L211.4 1844L214.1 1842.1L216.4 1839.1L218 1835L218.8 1830.3L218.6 1825.1L217.4 1819.9L215.3 1815L212.4 1810.8L208.7 1807.5L204.5 1805.3L200 1804.5ZM225.8 1804.5L230.3 1805L234.6 1806.9L238.5 1809.9L241.6 1814L243.9 1818.7L245.3 1823.9L245.7 1829.1L245.1 1834L243.7 1838.2L241.6 1841.5L238.9 1843.7L236 1844.5L227 1844.5L230 1844L232.7 1842.1L235 1839.1L236.6 1835L237.4 1830.3L237.2 1825.1L236 1819.9L233.9 1815L231 1810.8L227.3 1807.5L223.1 1805.3L218.6 1804.5ZM244.4 1804.5L248.9 1805L253.2 1806.9L257.1 1809.9L260.2 1814L262.5 1818.7L263.9 1823.9L264.3 1829.1L263.7 1834L262.3 1838.2L260.2 1841.5L257.5 1843.7L254.6 1844.5L245.6 1844.5L248.6 1844L251.3 1842.1L253.6 1839.1L255.2 1835L256 1830.3L255.8 1825.1L254.6 1819.9L252.5 1815L249.6 1810.8L245.9 1807.5L241.7 1805.3L237.2 1804.5ZM263 1804.5L267.5 1805L271.8 1806.9L275.7 1809.9L278.8 1814L281.1 1818.7L282.5 1823.9L282.9 1829.1L282.3 1834L280.9 1838.2L278.8 1841.5L276.1 1843.7L273.2 1844.5L264.2 1844.5L267.2 1844L269.9 1842.1L272.2 1839.1L273.8 1835L274.6 1830.3L274.4 1825.1L273.2 1819.9L271.1 1815L268.2 1810.8L264.5 1807.5L260.3 1805.3L255.8 1804.5Z" fill="#f4b49a" stroke="#b07060" stroke-width="0.8" stroke-linejoin="round"/></g><path d="M272 1814L287 1814" stroke="#f0b8a0" stroke-width="2.4" fill="none" stroke-linecap="round" stroke-linejoin="round"/><path d="M185.2 1838V1847.8" stroke="#060909" stroke-width="2" stroke-dasharray="4 3.2"/><path d="M179.6 1847.8L190.8 1847.8L185.2 1869.3Z" fill="#060909"/><rect x="61.7" y="1875.7" width="237.9" height="56.2" rx="28.1" fill="none" stroke="#111" stroke-width="1.7" stroke-dasharray="4.4 3.2"/><g><path d="M102.2 1924.5L99.1 1924L96.3 1922.1L93.9 1918.9L92.3 1914.8L91.5 1909.9L91.7 1904.6L92.8 1899.3L95 1894.3L98 1889.9L101.8 1886.6L106.1 1884.4L110.7 1883.5L103.1 1883.5L98.5 1884L94.1 1885.9L90.2 1889.1L86.9 1893.2L84.6 1898.1L83.2 1903.4L82.8 1908.7L83.3 1913.7L84.8 1918.1L87 1921.4L89.7 1923.6L92.7 1924.5ZM121.1 1924.5L118 1924L115.2 1922.1L112.8 1918.9L111.2 1914.8L110.4 1909.9L110.6 1904.6L111.7 1899.3L113.9 1894.3L116.9 1889.9L120.7 1886.6L125 1884.4L129.6 1883.5L122 1883.5L117.4 1884L113 1885.9L109.1 1889.1L105.8 1893.2L103.5 1898.1L102.1 1903.4L101.7 1908.7L102.2 1913.7L103.7 1918.1L105.9 1921.4L108.6 1923.6L111.6 1924.5ZM140 1924.5L136.9 1924L134.1 1922.1L131.7 1918.9L130.1 1914.8L129.3 1909.9L129.5 1904.6L130.6 1899.3L132.8 1894.3L135.8 1889.9L139.6 1886.6L143.9 1884.4L148.5 1883.5L140.9 1883.5L136.3 1884L131.9 1885.9L128 1889.1L124.7 1893.2L122.4 1898.1L121 1903.4L120.6 1908.7L121.1 1913.7L122.6 1918.1L124.8 1921.4L127.5 1923.6L130.5 1924.5ZM158.9 1924.5L155.8 1924L153 1922.1L150.6 1918.9L149 1914.8L148.2 1909.9L148.4 1904.6L149.5 1899.3L151.7 1894.3L154.7 1889.9L158.5 1886.6L162.8 1884.4L167.4 1883.5L159.8 1883.5L155.2 1884L150.8 1885.9L146.9 1889.1L143.6 1893.2L141.3 1898.1L139.9 1903.4L139.5 1908.7L140 1913.7L141.5 1918.1L143.7 1921.4L146.4 1923.6L149.4 1924.5ZM177.8 1924.5L174.7 1924L171.9 1922.1L169.5 1918.9L167.9 1914.8L167.1 1909.9L167.3 1904.6L168.4 1899.3L170.6 1894.3L173.6 1889.9L177.4 1886.6L181.7 1884.4L186.3 1883.5L178.7 1883.5L174.1 1884L169.7 1885.9L165.8 1889.1L162.5 1893.2L160.2 1898.1L158.8 1903.4L158.4 1908.7L158.9 1913.7L160.4 1918.1L162.6 1921.4L165.3 1923.6L168.3 1924.5ZM196.7 1924.5L193.6 1924L190.8 1922.1L188.4 1918.9L186.8 1914.8L186 1909.9L186.2 1904.6L187.3 1899.3L189.5 1894.3L192.5 1889.9L196.3 1886.6L200.6 1884.4L205.2 1883.5L197.6 1883.5L193 1884L188.6 1885.9L184.7 1889.1L181.4 1893.2L179.1 1898.1L177.7 1903.4L177.3 1908.7L177.8 1913.7L179.3 1918.1L181.5 1921.4L184.2 1923.6L187.2 1924.5ZM215.6 1924.5L212.5 1924L209.7 1922.1L207.3 1918.9L205.7 1914.8L204.9 1909.9L205.1 1904.6L206.2 1899.3L208.4 1894.3L211.4 1889.9L215.2 1886.6L219.5 1884.4L224.1 1883.5L216.5 1883.5L211.9 1884L207.5 1885.9L203.6 1889.1L200.3 1893.2L198 1898.1L196.6 1903.4L196.2 1908.7L196.7 1913.7L198.2 1918.1L200.4 1921.4L203.1 1923.6L206.1 1924.5ZM234.5 1924.5L231.4 1924L228.6 1922.1L226.2 1918.9L224.6 1914.8L223.8 1909.9L224 1904.6L225.1 1899.3L227.3 1894.3L230.3 1889.9L234.1 1886.6L238.4 1884.4L243 1883.5L235.4 1883.5L230.8 1884L226.4 1885.9L222.5 1889.1L219.2 1893.2L216.9 1898.1L215.5 1903.4L215.1 1908.7L215.6 1913.7L217.1 1918.1L219.3 1921.4L222 1923.6L225 1924.5ZM253.4 1924.5L250.3 1924L247.5 1922.1L245.1 1918.9L243.5 1914.8L242.7 1909.9L242.9 1904.6L244 1899.3L246.2 1894.3L249.2 1889.9L253 1886.6L257.3 1884.4L261.9 1883.5L254.3 1883.5L249.7 1884L245.3 1885.9L241.4 1889.1L238.1 1893.2L235.8 1898.1L234.4 1903.4L234 1908.7L234.5 1913.7L236 1918.1L238.2 1921.4L240.9 1923.6L243.9 1924.5ZM272.3 1924.5L269.4 1924L266.7 1922.4L264.4 1919.6L262.7 1915.8L261.7 1911.4L261.6 1906.5L253 1905.2L252.9 1910.2L253.7 1914.8L255.2 1918.7L257.4 1921.8L260 1923.7L262.8 1924.5Z" fill="#7b1216" stroke="#3b0c0e" stroke-width="0.8" stroke-linejoin="round"/><path d="M91.8 1883.5L96.4 1884L100.8 1885.9L104.7 1889.1L108 1893.2L110.3 1898.1L111.7 1903.4L112.1 1908.7L111.6 1913.7L110.1 1918.1L107.9 1921.4L105.2 1923.6L102.2 1924.5L92.7 1924.5L95.8 1924L98.6 1922.1L101 1918.9L102.6 1914.8L103.4 1909.9L103.2 1904.6L102.1 1899.3L99.9 1894.3L96.9 1889.9L93.1 1886.6L88.8 1884.4L84.2 1883.5ZM110.7 1883.5L115.3 1884L119.7 1885.9L123.6 1889.1L126.9 1893.2L129.2 1898.1L130.6 1903.4L131 1908.7L130.5 1913.7L129 1918.1L126.8 1921.4L124.1 1923.6L121.1 1924.5L111.6 1924.5L114.7 1924L117.5 1922.1L119.9 1918.9L121.5 1914.8L122.3 1909.9L122.1 1904.6L121 1899.3L118.8 1894.3L115.8 1889.9L112 1886.6L107.7 1884.4L103.1 1883.5ZM129.6 1883.5L134.2 1884L138.6 1885.9L142.5 1889.1L145.8 1893.2L148.1 1898.1L149.5 1903.4L149.9 1908.7L149.4 1913.7L147.9 1918.1L145.7 1921.4L143 1923.6L140 1924.5L130.5 1924.5L133.6 1924L136.4 1922.1L138.8 1918.9L140.4 1914.8L141.2 1909.9L141 1904.6L139.9 1899.3L137.7 1894.3L134.7 1889.9L130.9 1886.6L126.6 1884.4L122 1883.5ZM148.5 1883.5L153.1 1884L157.5 1885.9L161.4 1889.1L164.7 1893.2L167 1898.1L168.4 1903.4L168.8 1908.7L168.3 1913.7L166.8 1918.1L164.6 1921.4L161.9 1923.6L158.9 1924.5L149.4 1924.5L152.5 1924L155.3 1922.1L157.7 1918.9L159.3 1914.8L160.1 1909.9L159.9 1904.6L158.8 1899.3L156.6 1894.3L153.6 1889.9L149.8 1886.6L145.5 1884.4L140.9 1883.5ZM167.4 1883.5L172 1884L176.4 1885.9L180.3 1889.1L183.6 1893.2L185.9 1898.1L187.3 1903.4L187.7 1908.7L187.2 1913.7L185.7 1918.1L183.5 1921.4L180.8 1923.6L177.8 1924.5L168.3 1924.5L171.4 1924L174.2 1922.1L176.6 1918.9L178.2 1914.8L179 1909.9L178.8 1904.6L177.7 1899.3L175.5 1894.3L172.5 1889.9L168.7 1886.6L164.4 1884.4L159.8 1883.5ZM186.3 1883.5L190.9 1884L195.3 1885.9L199.2 1889.1L202.5 1893.2L204.8 1898.1L206.2 1903.4L206.6 1908.7L206.1 1913.7L204.6 1918.1L202.4 1921.4L199.7 1923.6L196.7 1924.5L187.2 1924.5L190.3 1924L193.1 1922.1L195.5 1918.9L197.1 1914.8L197.9 1909.9L197.7 1904.6L196.6 1899.3L194.4 1894.3L191.4 1889.9L187.6 1886.6L183.3 1884.4L178.7 1883.5ZM205.2 1883.5L209.8 1884L214.2 1885.9L218.1 1889.1L221.4 1893.2L223.7 1898.1L225.1 1903.4L225.5 1908.7L225 1913.7L223.5 1918.1L221.3 1921.4L218.6 1923.6L215.6 1924.5L206.1 1924.5L209.2 1924L212 1922.1L214.4 1918.9L216 1914.8L216.8 1909.9L216.6 1904.6L215.5 1899.3L213.3 1894.3L210.3 1889.9L206.5 1886.6L202.2 1884.4L197.6 1883.5ZM224.1 1883.5L228.7 1884L233.1 1885.9L237 1889.1L240.3 1893.2L242.6 1898.1L244 1903.4L244.4 1908.7L243.9 1913.7L242.4 1918.1L240.2 1921.4L237.5 1923.6L234.5 1924.5L225 1924.5L228.1 1924L230.9 1922.1L233.3 1918.9L234.9 1914.8L235.7 1909.9L235.5 1904.6L234.4 1899.3L232.2 1894.3L229.2 1889.9L225.4 1886.6L221.1 1884.4L216.5 1883.5ZM243 1883.5L247.6 1884L252 1885.9L255.9 1889.1L259.2 1893.2L261.5 1898.1L262.9 1903.4L263.3 1908.7L262.8 1913.7L261.3 1918.1L259.1 1921.4L256.4 1923.6L253.4 1924.5L243.9 1924.5L247 1924L249.8 1922.1L252.2 1918.9L253.8 1914.8L254.6 1909.9L254.4 1904.6L253.3 1899.3L251.1 1894.3L248.1 1889.9L244.3 1886.6L240 1884.4L235.4 1883.5ZM261.9 1883.5L266.5 1884L270.9 1885.9L274.8 1889.1L278.1 1893.2L280.4 1898.1L281.8 1903.4L282.2 1908.7L281.7 1913.7L280.2 1918.1L278 1921.4L275.3 1923.6L272.3 1924.5L262.8 1924.5L265.9 1924L268.7 1922.1L271.1 1918.9L272.7 1914.8L273.5 1909.9L273.3 1904.6L272.2 1899.3L270 1894.3L267 1889.9L263.2 1886.6L258.9 1884.4L254.3 1883.5Z" fill="#e8202a" stroke="#3b0c0e" stroke-width="0.8" stroke-linejoin="round"/></g><path d="M73 1904.4C75 1903.5 79.75 1900.62 85 1899C90.25 1897.38 101.25 1895.42 104.5 1894.7" stroke="#e8202a" stroke-width="2.6" fill="none" stroke-linecap="round" stroke-linejoin="round"/><path d="M268.5 1893.5L287.4 1894.5" stroke="#7b1216" stroke-width="2.6" fill="none" stroke-linecap="round" stroke-linejoin="round"/><path d="M459.5 1805.2L459.5 1791.7L471.8 1785.2L471.8 1773.5L484.1 1767.3L495.8 1771.7L498.2 1784.7L511.1 1790L511.7 1803.4L500 1810.5" stroke="#b9b9b9" stroke-width="2.2" fill="none" stroke-linejoin="round"/><path d="M484.6 1769.9L493.8 1773.7" stroke="#b9b9b9" stroke-width="1.76" fill="none"/><path d="M478.5 1805.2L478.5 1791.7L490.8 1785.2L490.8 1773.5L503.1 1767.3L514.8 1771.7L517.2 1784.7L530.1 1790L530.7 1803.4L519 1810.5" stroke="#b9b9b9" stroke-width="2.2" fill="none" stroke-linejoin="round"/><path d="M503.6 1769.9L512.8 1773.7" stroke="#b9b9b9" stroke-width="1.76" fill="none"/><path d="M516.5 1805.2L516.5 1791.7L528.8 1785.2L528.8 1773.5L541.1 1767.3L552.8 1771.7L555.2 1784.7L568.1 1790L568.7 1803.4L557 1810.5" stroke="#b9b9b9" stroke-width="2.2" fill="none" stroke-linejoin="round"/><path d="M541.6 1769.9L550.8 1773.7" stroke="#b9b9b9" stroke-width="1.76" fill="none"/><path d="M535.5 1805.2L535.5 1791.7L547.8 1785.2L547.8 1773.5L560.1 1767.3L571.8 1771.7L574.2 1784.7L587.1 1790L587.7 1803.4L576 1810.5" stroke="#b9b9b9" stroke-width="2.2" fill="none" stroke-linejoin="round"/><path d="M560.6 1769.9L569.8 1773.7" stroke="#b9b9b9" stroke-width="1.76" fill="none"/><path d="M554.5 1805.2L554.5 1791.7L566.8 1785.2L566.8 1773.5L579.1 1767.3L590.8 1771.7L593.2 1784.7L606.1 1790L606.7 1803.4L595 1810.5" stroke="#b9b9b9" stroke-width="2.2" fill="none" stroke-linejoin="round"/><path d="M579.6 1769.9L588.8 1773.7" stroke="#b9b9b9" stroke-width="1.76" fill="none"/><path d="M444.5 1845.8L444.5 1859.3L456.8 1865.8L456.8 1877.5L469.1 1883.7L480.8 1879.3L483.2 1866.3L496.1 1861L496.7 1847.6L485 1840.5" stroke="#b9b9b9" stroke-width="2.2" fill="none" stroke-linejoin="round"/><path d="M469.6 1881.1L478.8 1877.3" stroke="#b9b9b9" stroke-width="1.76" fill="none"/><path d="M463.5 1845.8L463.5 1859.3L475.8 1865.8L475.8 1877.5L488.1 1883.7L499.8 1879.3L502.2 1866.3L515.1 1861L515.7 1847.6L504 1840.5" stroke="#b9b9b9" stroke-width="2.2" fill="none" stroke-linejoin="round"/><path d="M488.6 1881.1L497.8 1877.3" stroke="#b9b9b9" stroke-width="1.76" fill="none"/><path d="M482.5 1845.8L482.5 1859.3L494.8 1865.8L494.8 1877.5L507.1 1883.7L518.8 1879.3L521.2 1866.3L534.1 1861L534.7 1847.6L523 1840.5" stroke="#b9b9b9" stroke-width="2.2" fill="none" stroke-linejoin="round"/><path d="M507.6 1881.1L516.8 1877.3" stroke="#b9b9b9" stroke-width="1.76" fill="none"/><path d="M501.5 1845.8L501.5 1859.3L513.8 1865.8L513.8 1877.5L526.1 1883.7L537.8 1879.3L540.2 1866.3L553.1 1861L553.7 1847.6L542 1840.5" stroke="#b9b9b9" stroke-width="2.2" fill="none" stroke-linejoin="round"/><path d="M526.6 1881.1L535.8 1877.3" stroke="#b9b9b9" stroke-width="1.76" fill="none"/><path d="M520.5 1845.8L520.5 1859.3L532.8 1865.8L532.8 1877.5L545.1 1883.7L556.8 1879.3L559.2 1866.3L572.1 1861L572.7 1847.6L561 1840.5" stroke="#b9b9b9" stroke-width="2.2" fill="none" stroke-linejoin="round"/><path d="M545.6 1881.1L554.8 1877.3" stroke="#b9b9b9" stroke-width="1.76" fill="none"/><path d="M539.5 1845.8L539.5 1859.3L551.8 1865.8L551.8 1877.5L564.1 1883.7L575.8 1879.3L578.2 1866.3L591.1 1861L591.7 1847.6L580 1840.5" stroke="#b9b9b9" stroke-width="2.2" fill="none" stroke-linejoin="round"/><path d="M564.6 1881.1L573.8 1877.3" stroke="#b9b9b9" stroke-width="1.76" fill="none"/><g><path d="M435.8 1845.8L432.8 1845.2L430 1843.3L427.7 1840.2L426.1 1836.1L425.3 1831.3L425.5 1826.1L426.6 1820.8L428.7 1815.9L431.7 1811.6L435.4 1808.3L439.7 1806.1L444.2 1805.2L436.8 1805.2L432.2 1805.8L427.9 1807.7L424 1810.8L420.9 1814.9L418.5 1819.7L417.1 1824.9L416.8 1830.2L417.3 1835.1L418.8 1839.4L421 1842.7L423.7 1844.9L426.7 1845.8ZM454.3 1845.8L451.3 1845.2L448.5 1843.3L446.2 1840.2L444.6 1836.1L443.8 1831.3L444 1826.1L445.1 1820.8L447.2 1815.9L450.2 1811.6L453.9 1808.3L458.2 1806.1L462.7 1805.2L455.3 1805.2L450.7 1805.8L446.4 1807.7L442.5 1810.8L439.4 1814.9L437 1819.7L435.6 1824.9L435.3 1830.2L435.8 1835.1L437.3 1839.4L439.5 1842.7L442.2 1844.9L445.2 1845.8ZM472.8 1845.8L469.8 1845.2L467 1843.3L464.7 1840.2L463.1 1836.1L462.3 1831.3L462.5 1826.1L463.6 1820.8L465.7 1815.9L468.7 1811.6L472.4 1808.3L476.7 1806.1L481.2 1805.2L473.8 1805.2L469.2 1805.8L464.9 1807.7L461 1810.8L457.9 1814.9L455.5 1819.7L454.1 1824.9L453.8 1830.2L454.3 1835.1L455.8 1839.4L458 1842.7L460.7 1844.9L463.7 1845.8ZM491.3 1845.8L488.3 1845.2L485.5 1843.3L483.2 1840.2L481.6 1836.1L480.8 1831.3L481 1826.1L482.1 1820.8L484.2 1815.9L487.2 1811.6L490.9 1808.3L495.2 1806.1L499.7 1805.2L492.3 1805.2L487.7 1805.8L483.4 1807.7L479.5 1810.8L476.4 1814.9L474 1819.7L472.6 1824.9L472.3 1830.2L472.8 1835.1L474.3 1839.4L476.5 1842.7L479.2 1844.9L482.2 1845.8ZM509.8 1845.8L506.8 1845.2L504 1843.3L501.7 1840.2L500.1 1836.1L499.3 1831.3L499.5 1826.1L500.6 1820.8L502.7 1815.9L505.7 1811.6L509.4 1808.3L513.7 1806.1L518.2 1805.2L510.8 1805.2L506.2 1805.8L501.9 1807.7L498 1810.8L494.9 1814.9L492.5 1819.7L491.1 1824.9L490.8 1830.2L491.3 1835.1L492.8 1839.4L495 1842.7L497.7 1844.9L500.7 1845.8ZM528.3 1845.8L525.3 1845.2L522.5 1843.3L520.2 1840.2L518.6 1836.1L517.8 1831.3L518 1826.1L519.1 1820.8L521.2 1815.9L524.2 1811.6L527.9 1808.3L532.2 1806.1L536.7 1805.2L529.3 1805.2L524.7 1805.8L520.4 1807.7L516.5 1810.8L513.4 1814.9L511 1819.7L509.6 1824.9L509.3 1830.2L509.8 1835.1L511.3 1839.4L513.5 1842.7L516.2 1844.9L519.2 1845.8ZM546.8 1845.8L543.8 1845.2L541 1843.3L538.7 1840.2L537.1 1836.1L536.3 1831.3L536.5 1826.1L537.6 1820.8L539.7 1815.9L542.7 1811.6L546.4 1808.3L550.7 1806.1L555.2 1805.2L547.8 1805.2L543.2 1805.8L538.9 1807.7L535 1810.8L531.9 1814.9L529.5 1819.7L528.1 1824.9L527.8 1830.2L528.3 1835.1L529.8 1839.4L532 1842.7L534.7 1844.9L537.7 1845.8ZM565.3 1845.8L562.3 1845.2L559.5 1843.3L557.2 1840.2L555.6 1836.1L554.8 1831.3L555 1826.1L556.1 1820.8L558.2 1815.9L561.2 1811.6L564.9 1808.3L569.2 1806.1L573.7 1805.2L566.3 1805.2L561.7 1805.8L557.4 1807.7L553.5 1810.8L550.4 1814.9L548 1819.7L546.6 1824.9L546.3 1830.2L546.8 1835.1L548.3 1839.4L550.5 1842.7L553.2 1844.9L556.2 1845.8ZM583.8 1845.8L580.8 1845.2L578 1843.3L575.7 1840.2L574.1 1836.1L573.3 1831.3L573.5 1826.1L574.6 1820.8L576.7 1815.9L579.7 1811.6L583.4 1808.3L587.7 1806.1L592.2 1805.2L584.8 1805.2L580.2 1805.8L575.9 1807.7L572 1810.8L568.9 1814.9L566.5 1819.7L565.1 1824.9L564.8 1830.2L565.3 1835.1L566.8 1839.4L569 1842.7L571.7 1844.9L574.7 1845.8ZM602.3 1845.8L599.4 1845.2L596.7 1843.5L594.4 1840.5L592.7 1836.6L591.8 1832L591.9 1827L592.8 1821.8L594.7 1816.9L597.4 1812.6L600.9 1809.1L604.9 1806.6L597.4 1806.2L593.3 1808.4L589.7 1811.7L586.8 1815.8L584.7 1820.6L583.5 1825.8L583.3 1830.9L584 1835.6L585.4 1839.7L587.6 1842.9L590.2 1844.9L593.2 1845.8Z" fill="#7b1216" stroke="#3b0c0e" stroke-width="0.8" stroke-linejoin="round"/><path d="M425.7 1805.2L430.3 1805.8L434.6 1807.7L438.5 1810.8L441.6 1814.9L444 1819.7L445.4 1824.9L445.7 1830.2L445.2 1835.1L443.7 1839.4L441.5 1842.7L438.8 1844.9L435.8 1845.8L426.7 1845.8L429.7 1845.2L432.5 1843.3L434.8 1840.2L436.4 1836.1L437.2 1831.3L437 1826.1L435.9 1820.8L433.8 1815.9L430.8 1811.6L427.1 1808.3L422.8 1806.1L418.3 1805.2ZM444.2 1805.2L448.8 1805.8L453.1 1807.7L457 1810.8L460.1 1814.9L462.5 1819.7L463.9 1824.9L464.2 1830.2L463.7 1835.1L462.2 1839.4L460 1842.7L457.3 1844.9L454.3 1845.8L445.2 1845.8L448.2 1845.2L451 1843.3L453.3 1840.2L454.9 1836.1L455.7 1831.3L455.5 1826.1L454.4 1820.8L452.3 1815.9L449.3 1811.6L445.6 1808.3L441.3 1806.1L436.8 1805.2ZM462.7 1805.2L467.3 1805.8L471.6 1807.7L475.5 1810.8L478.6 1814.9L481 1819.7L482.4 1824.9L482.7 1830.2L482.2 1835.1L480.7 1839.4L478.5 1842.7L475.8 1844.9L472.8 1845.8L463.7 1845.8L466.7 1845.2L469.5 1843.3L471.8 1840.2L473.4 1836.1L474.2 1831.3L474 1826.1L472.9 1820.8L470.8 1815.9L467.8 1811.6L464.1 1808.3L459.8 1806.1L455.3 1805.2ZM481.2 1805.2L485.8 1805.8L490.1 1807.7L494 1810.8L497.1 1814.9L499.5 1819.7L500.9 1824.9L501.2 1830.2L500.7 1835.1L499.2 1839.4L497 1842.7L494.3 1844.9L491.3 1845.8L482.2 1845.8L485.2 1845.2L488 1843.3L490.3 1840.2L491.9 1836.1L492.7 1831.3L492.5 1826.1L491.4 1820.8L489.3 1815.9L486.3 1811.6L482.6 1808.3L478.3 1806.1L473.8 1805.2ZM499.7 1805.2L504.3 1805.8L508.6 1807.7L512.5 1810.8L515.6 1814.9L518 1819.7L519.4 1824.9L519.7 1830.2L519.2 1835.1L517.7 1839.4L515.5 1842.7L512.8 1844.9L509.8 1845.8L500.7 1845.8L503.7 1845.2L506.5 1843.3L508.8 1840.2L510.4 1836.1L511.2 1831.3L511 1826.1L509.9 1820.8L507.8 1815.9L504.8 1811.6L501.1 1808.3L496.8 1806.1L492.3 1805.2ZM518.2 1805.2L522.8 1805.8L527.1 1807.7L531 1810.8L534.1 1814.9L536.5 1819.7L537.9 1824.9L538.2 1830.2L537.7 1835.1L536.2 1839.4L534 1842.7L531.3 1844.9L528.3 1845.8L519.2 1845.8L522.2 1845.2L525 1843.3L527.3 1840.2L528.9 1836.1L529.7 1831.3L529.5 1826.1L528.4 1820.8L526.3 1815.9L523.3 1811.6L519.6 1808.3L515.3 1806.1L510.8 1805.2ZM536.7 1805.2L541.3 1805.8L545.6 1807.7L549.5 1810.8L552.6 1814.9L555 1819.7L556.4 1824.9L556.7 1830.2L556.2 1835.1L554.7 1839.4L552.5 1842.7L549.8 1844.9L546.8 1845.8L537.7 1845.8L540.7 1845.2L543.5 1843.3L545.8 1840.2L547.4 1836.1L548.2 1831.3L548 1826.1L546.9 1820.8L544.8 1815.9L541.8 1811.6L538.1 1808.3L533.8 1806.1L529.3 1805.2ZM555.2 1805.2L559.8 1805.8L564.1 1807.7L568 1810.8L571.1 1814.9L573.5 1819.7L574.9 1824.9L575.2 1830.2L574.7 1835.1L573.2 1839.4L571 1842.7L568.3 1844.9L565.3 1845.8L556.2 1845.8L559.2 1845.2L562 1843.3L564.3 1840.2L565.9 1836.1L566.7 1831.3L566.5 1826.1L565.4 1820.8L563.3 1815.9L560.3 1811.6L556.6 1808.3L552.3 1806.1L547.8 1805.2ZM573.7 1805.2L578.3 1805.8L582.6 1807.7L586.5 1810.8L589.6 1814.9L592 1819.7L593.4 1824.9L593.7 1830.2L593.2 1835.1L591.7 1839.4L589.5 1842.7L586.8 1844.9L583.8 1845.8L574.7 1845.8L577.7 1845.2L580.5 1843.3L582.8 1840.2L584.4 1836.1L585.2 1831.3L585 1826.1L583.9 1820.8L581.8 1815.9L578.8 1811.6L575.1 1808.3L570.8 1806.1L566.3 1805.2ZM592.2 1805.2L596.8 1805.8L601.1 1807.7L605 1810.8L608.1 1814.9L610.5 1819.7L611.9 1824.9L612.2 1830.2L611.7 1835.1L610.2 1839.4L608 1842.7L605.3 1844.9L602.3 1845.8L593.2 1845.8L596.2 1845.2L599 1843.3L601.3 1840.2L602.9 1836.1L603.7 1831.3L603.5 1826.1L602.4 1820.8L600.3 1815.9L597.3 1811.6L593.6 1808.3L589.3 1806.1L584.8 1805.2Z" fill="#e8202a" stroke="#3b0c0e" stroke-width="0.8" stroke-linejoin="round"/></g><path d="M407.7 1826.5C409.75 1825.75 414.95 1823.75 420 1822C425.05 1820.25 435 1817 438 1816" stroke="#e8202a" stroke-width="2.6" fill="none" stroke-linecap="round" stroke-linejoin="round"/><path d="M604 1815.2L622.6 1815.5" stroke="#7b1216" stroke-width="2.6" fill="none" stroke-linecap="round" stroke-linejoin="round"/><path d="M497.5 1805.2L497.5 1791.7L509.8 1785.2L509.8 1773.5L522.1 1767.3L533.8 1771.7L536.2 1784.7L549.1 1790L549.7 1803.4L538 1810.5" stroke="#060909" stroke-width="2" fill="none" stroke-linejoin="round"/><path d="M522.6 1769.9L531.8 1773.7" stroke="#060909" stroke-width="1.6" fill="none"/><path d="M502.2 1739.9H452.7" stroke="#060909" stroke-width="2" stroke-dasharray="4.1 3.8"/><path d="M452.7 1734.15L452.7 1745.65L431.7 1739.9Z" fill="#060909"/><path d="M544.6 1739.9H594.2" stroke="#060909" stroke-width="2" stroke-dasharray="4.1 3.8"/><path d="M594.2 1734.15L594.2 1745.65L615.2 1739.9Z" fill="#060909"/><path d="M502.2 1919.4H452.7" stroke="#060909" stroke-width="2" stroke-dasharray="4.1 3.8"/><path d="M452.7 1913.65L452.7 1925.15L431.7 1919.4Z" fill="#060909"/><path d="M544.6 1919.4H594.2" stroke="#060909" stroke-width="2" stroke-dasharray="4.1 3.8"/><path d="M594.2 1913.65L594.2 1925.15L615.2 1919.4Z" fill="#060909"/><g><path d="M761.6 1762.3L759.6 1762L757.7 1760.7L756.2 1758.7L755.1 1755.9L754.5 1752.7L754.6 1749.2L755.4 1745.7L756.8 1742.4L758.8 1739.6L761.3 1737.3L764.1 1735.9L767.1 1735.3L761.7 1735.3L758.6 1735.6L755.7 1736.9L753.1 1738.9L751 1741.7L749.4 1744.9L748.5 1748.4L748.2 1751.9L748.6 1755.2L749.6 1758L751 1760.3L752.8 1761.7L754.8 1762.3ZM774 1762.3L772 1762L770.1 1760.7L768.6 1758.7L767.5 1755.9L766.9 1752.7L767 1749.2L767.8 1745.7L769.2 1742.4L771.2 1739.6L773.7 1737.3L776.5 1735.9L779.5 1735.3L774.1 1735.3L771 1735.6L768.1 1736.9L765.5 1738.9L763.4 1741.7L761.8 1744.9L760.9 1748.4L760.6 1751.9L761 1755.2L762 1758L763.4 1760.3L765.2 1761.7L767.2 1762.3ZM786.4 1762.3L784.4 1762L782.5 1760.7L781 1758.7L779.9 1755.9L779.3 1752.7L779.4 1749.2L780.2 1745.7L781.6 1742.4L783.6 1739.6L786.1 1737.3L788.9 1735.9L791.9 1735.3L786.5 1735.3L783.4 1735.6L780.5 1736.9L777.9 1738.9L775.8 1741.7L774.2 1744.9L773.3 1748.4L773 1751.9L773.4 1755.2L774.4 1758L775.8 1760.3L777.6 1761.7L779.6 1762.3ZM798.8 1762.3L796.8 1762L794.9 1760.7L793.4 1758.7L792.3 1755.9L791.7 1752.7L791.8 1749.2L792.6 1745.7L794 1742.4L796 1739.6L798.5 1737.3L801.3 1735.9L804.3 1735.3L798.9 1735.3L795.8 1735.6L792.9 1736.9L790.3 1738.9L788.2 1741.7L786.6 1744.9L785.7 1748.4L785.4 1751.9L785.8 1755.2L786.8 1758L788.2 1760.3L790 1761.7L792 1762.3ZM811.2 1762.3L809.2 1762L807.3 1760.7L805.8 1758.7L804.7 1755.9L804.1 1752.7L804.2 1749.2L805 1745.7L806.4 1742.4L808.4 1739.6L810.9 1737.3L813.7 1735.9L816.7 1735.3L811.3 1735.3L808.2 1735.6L805.3 1736.9L802.7 1738.9L800.6 1741.7L799 1744.9L798.1 1748.4L797.8 1751.9L798.2 1755.2L799.2 1758L800.6 1760.3L802.4 1761.7L804.4 1762.3ZM823.6 1762.3L821.6 1762L819.7 1760.7L818.2 1758.7L817.1 1755.9L816.5 1752.7L816.6 1749.2L817.4 1745.7L818.8 1742.4L820.8 1739.6L823.3 1737.3L826.1 1735.9L829.1 1735.3L823.7 1735.3L820.6 1735.6L817.7 1736.9L815.1 1738.9L813 1741.7L811.4 1744.9L810.5 1748.4L810.2 1751.9L810.6 1755.2L811.6 1758L813 1760.3L814.8 1761.7L816.8 1762.3ZM836 1762.3L834 1762L832.1 1760.7L830.6 1758.7L829.5 1755.9L828.9 1752.7L829 1749.2L829.8 1745.7L831.2 1742.4L833.2 1739.6L835.7 1737.3L838.5 1735.9L841.5 1735.3L836.1 1735.3L833 1735.6L830.1 1736.9L827.5 1738.9L825.4 1741.7L823.8 1744.9L822.9 1748.4L822.6 1751.9L823 1755.2L824 1758L825.4 1760.3L827.2 1761.7L829.2 1762.3ZM848.4 1762.3L846.4 1762L844.5 1760.7L843 1758.7L841.9 1755.9L841.3 1752.7L841.4 1749.2L842.2 1745.7L843.6 1742.4L845.6 1739.6L848.1 1737.3L850.9 1735.9L853.9 1735.3L848.5 1735.3L845.4 1735.6L842.5 1736.9L839.9 1738.9L837.8 1741.7L836.2 1744.9L835.3 1748.4L835 1751.9L835.4 1755.2L836.4 1758L837.8 1760.3L839.6 1761.7L841.6 1762.3ZM860.8 1762.3L858.8 1762L856.9 1760.7L855.4 1758.7L854.3 1755.9L853.7 1752.7L853.8 1749.2L854.6 1745.7L856 1742.4L858 1739.6L860.5 1737.3L863.3 1735.9L866.3 1735.3L860.9 1735.3L857.8 1735.6L854.9 1736.9L852.3 1738.9L850.2 1741.7L848.6 1744.9L847.7 1748.4L847.4 1751.9L847.8 1755.2L848.8 1758L850.2 1760.3L852 1761.7L854 1762.3ZM873.2 1762.3L871.1 1761.9L869.1 1760.5L867.5 1758.2L866.5 1755.1L860.1 1754.3L861 1757.5L862.4 1760L864.3 1761.7L866.4 1762.3Z" fill="#7b1216" stroke="#3b0c0e" stroke-width="0.7" stroke-linejoin="round"/><path d="M754.7 1735.3L757.8 1735.6L760.7 1736.9L763.3 1738.9L765.4 1741.7L767 1744.9L767.9 1748.4L768.2 1751.9L767.8 1755.2L766.8 1758L765.4 1760.3L763.6 1761.7L761.6 1762.3L754.8 1762.3L756.8 1762L758.7 1760.7L760.2 1758.7L761.3 1755.9L761.9 1752.7L761.8 1749.2L761 1745.7L759.6 1742.4L757.6 1739.6L755.1 1737.3L752.3 1735.9L749.3 1735.3ZM767.1 1735.3L770.2 1735.6L773.1 1736.9L775.7 1738.9L777.8 1741.7L779.4 1744.9L780.3 1748.4L780.6 1751.9L780.2 1755.2L779.2 1758L777.8 1760.3L776 1761.7L774 1762.3L767.2 1762.3L769.2 1762L771.1 1760.7L772.6 1758.7L773.7 1755.9L774.3 1752.7L774.2 1749.2L773.4 1745.7L772 1742.4L770 1739.6L767.5 1737.3L764.7 1735.9L761.7 1735.3ZM779.5 1735.3L782.6 1735.6L785.5 1736.9L788.1 1738.9L790.2 1741.7L791.8 1744.9L792.7 1748.4L793 1751.9L792.6 1755.2L791.6 1758L790.2 1760.3L788.4 1761.7L786.4 1762.3L779.6 1762.3L781.6 1762L783.5 1760.7L785 1758.7L786.1 1755.9L786.7 1752.7L786.6 1749.2L785.8 1745.7L784.4 1742.4L782.4 1739.6L779.9 1737.3L777.1 1735.9L774.1 1735.3ZM791.9 1735.3L795 1735.6L797.9 1736.9L800.5 1738.9L802.6 1741.7L804.2 1744.9L805.1 1748.4L805.4 1751.9L805 1755.2L804 1758L802.6 1760.3L800.8 1761.7L798.8 1762.3L792 1762.3L794 1762L795.9 1760.7L797.4 1758.7L798.5 1755.9L799.1 1752.7L799 1749.2L798.2 1745.7L796.8 1742.4L794.8 1739.6L792.3 1737.3L789.5 1735.9L786.5 1735.3ZM804.3 1735.3L807.4 1735.6L810.3 1736.9L812.9 1738.9L815 1741.7L816.6 1744.9L817.5 1748.4L817.8 1751.9L817.4 1755.2L816.4 1758L815 1760.3L813.2 1761.7L811.2 1762.3L804.4 1762.3L806.4 1762L808.3 1760.7L809.8 1758.7L810.9 1755.9L811.5 1752.7L811.4 1749.2L810.6 1745.7L809.2 1742.4L807.2 1739.6L804.7 1737.3L801.9 1735.9L798.9 1735.3ZM816.7 1735.3L819.8 1735.6L822.7 1736.9L825.3 1738.9L827.4 1741.7L829 1744.9L829.9 1748.4L830.2 1751.9L829.8 1755.2L828.8 1758L827.4 1760.3L825.6 1761.7L823.6 1762.3L816.8 1762.3L818.8 1762L820.7 1760.7L822.2 1758.7L823.3 1755.9L823.9 1752.7L823.8 1749.2L823 1745.7L821.6 1742.4L819.6 1739.6L817.1 1737.3L814.3 1735.9L811.3 1735.3ZM829.1 1735.3L832.2 1735.6L835.1 1736.9L837.7 1738.9L839.8 1741.7L841.4 1744.9L842.3 1748.4L842.6 1751.9L842.2 1755.2L841.2 1758L839.8 1760.3L838 1761.7L836 1762.3L829.2 1762.3L831.2 1762L833.1 1760.7L834.6 1758.7L835.7 1755.9L836.3 1752.7L836.2 1749.2L835.4 1745.7L834 1742.4L832 1739.6L829.5 1737.3L826.7 1735.9L823.7 1735.3ZM841.5 1735.3L844.6 1735.6L847.5 1736.9L850.1 1738.9L852.2 1741.7L853.8 1744.9L854.7 1748.4L855 1751.9L854.6 1755.2L853.6 1758L852.2 1760.3L850.4 1761.7L848.4 1762.3L841.6 1762.3L843.6 1762L845.5 1760.7L847 1758.7L848.1 1755.9L848.7 1752.7L848.6 1749.2L847.8 1745.7L846.4 1742.4L844.4 1739.6L841.9 1737.3L839.1 1735.9L836.1 1735.3ZM853.9 1735.3L857 1735.6L859.9 1736.9L862.5 1738.9L864.6 1741.7L866.2 1744.9L867.1 1748.4L867.4 1751.9L867 1755.2L866 1758L864.6 1760.3L862.8 1761.7L860.8 1762.3L854 1762.3L856 1762L857.9 1760.7L859.4 1758.7L860.5 1755.9L861.1 1752.7L861 1749.2L860.2 1745.7L858.8 1742.4L856.8 1739.6L854.3 1737.3L851.5 1735.9L848.5 1735.3ZM866.3 1735.3L869.4 1735.6L872.3 1736.9L874.9 1738.9L877 1741.7L878.6 1744.9L879.5 1748.4L879.8 1751.9L879.4 1755.2L878.4 1758L877 1760.3L875.2 1761.7L873.2 1762.3L866.4 1762.3L868.4 1762L870.3 1760.7L871.8 1758.7L872.9 1755.9L873.5 1752.7L873.4 1749.2L872.6 1745.7L871.2 1742.4L869.2 1739.6L866.7 1737.3L863.9 1735.9L860.9 1735.3Z" fill="#e8202a" stroke="#3b0c0e" stroke-width="0.7" stroke-linejoin="round"/></g><path d="M740 1749.1C741.67 1748.58 746.8 1747 750 1746C753.2 1745 757.67 1743.58 759.2 1743.1" stroke="#e8202a" stroke-width="2.2" fill="none" stroke-linecap="round" stroke-linejoin="round"/><path d="M870.7 1737.8L884 1738.6" stroke="#7b1216" stroke-width="2.4" fill="none" stroke-linecap="round" stroke-linejoin="round"/><path d="M800.3 1735.2L800.3 1725.75L808.91 1721.2L808.91 1713.01L817.52 1708.67L825.71 1711.75L827.39 1720.85L836.42 1724.56L836.84 1733.94L828.65 1738.91" stroke="#060909" stroke-width="1.7" fill="none" stroke-linejoin="round"/><path d="M817.87 1710.49L824.31 1713.15" stroke="#060909" stroke-width="1.36" fill="none"/><g><path d="M761.6 1831.3L759.6 1831L757.7 1829.7L756.2 1827.7L755.1 1824.9L754.5 1821.7L754.6 1818.2L755.4 1814.7L756.8 1811.4L758.8 1808.6L761.3 1806.3L764.1 1804.9L767.1 1804.3L761.7 1804.3L758.6 1804.6L755.7 1805.9L753.1 1807.9L751 1810.7L749.4 1813.9L748.5 1817.4L748.2 1820.9L748.6 1824.2L749.6 1827L751 1829.3L752.8 1830.7L754.8 1831.3ZM774 1831.3L772 1831L770.1 1829.7L768.6 1827.7L767.5 1824.9L766.9 1821.7L767 1818.2L767.8 1814.7L769.2 1811.4L771.2 1808.6L773.7 1806.3L776.5 1804.9L779.5 1804.3L774.1 1804.3L771 1804.6L768.1 1805.9L765.5 1807.9L763.4 1810.7L761.8 1813.9L760.9 1817.4L760.6 1820.9L761 1824.2L762 1827L763.4 1829.3L765.2 1830.7L767.2 1831.3ZM786.4 1831.3L784.4 1831L782.5 1829.7L781 1827.7L779.9 1824.9L779.3 1821.7L779.4 1818.2L780.2 1814.7L781.6 1811.4L783.6 1808.6L786.1 1806.3L788.9 1804.9L791.9 1804.3L786.5 1804.3L783.4 1804.6L780.5 1805.9L777.9 1807.9L775.8 1810.7L774.2 1813.9L773.3 1817.4L773 1820.9L773.4 1824.2L774.4 1827L775.8 1829.3L777.6 1830.7L779.6 1831.3ZM798.8 1831.3L796.8 1831L794.9 1829.7L793.4 1827.7L792.3 1824.9L791.7 1821.7L791.8 1818.2L792.6 1814.7L794 1811.4L796 1808.6L798.5 1806.3L801.3 1804.9L804.3 1804.3L798.9 1804.3L795.8 1804.6L792.9 1805.9L790.3 1807.9L788.2 1810.7L786.6 1813.9L785.7 1817.4L785.4 1820.9L785.8 1824.2L786.8 1827L788.2 1829.3L790 1830.7L792 1831.3ZM811.2 1831.3L809.2 1831L807.3 1829.7L805.8 1827.7L804.7 1824.9L804.1 1821.7L804.2 1818.2L805 1814.7L806.4 1811.4L808.4 1808.6L810.9 1806.3L813.7 1804.9L816.7 1804.3L811.3 1804.3L808.2 1804.6L805.3 1805.9L802.7 1807.9L800.6 1810.7L799 1813.9L798.1 1817.4L797.8 1820.9L798.2 1824.2L799.2 1827L800.6 1829.3L802.4 1830.7L804.4 1831.3ZM823.6 1831.3L821.6 1831L819.7 1829.7L818.2 1827.7L817.1 1824.9L816.5 1821.7L816.6 1818.2L817.4 1814.7L818.8 1811.4L820.8 1808.6L823.3 1806.3L826.1 1804.9L829.1 1804.3L823.7 1804.3L820.6 1804.6L817.7 1805.9L815.1 1807.9L813 1810.7L811.4 1813.9L810.5 1817.4L810.2 1820.9L810.6 1824.2L811.6 1827L813 1829.3L814.8 1830.7L816.8 1831.3ZM836 1831.3L834 1831L832.1 1829.7L830.6 1827.7L829.5 1824.9L828.9 1821.7L829 1818.2L829.8 1814.7L831.2 1811.4L833.2 1808.6L835.7 1806.3L838.5 1804.9L841.5 1804.3L836.1 1804.3L833 1804.6L830.1 1805.9L827.5 1807.9L825.4 1810.7L823.8 1813.9L822.9 1817.4L822.6 1820.9L823 1824.2L824 1827L825.4 1829.3L827.2 1830.7L829.2 1831.3ZM848.4 1831.3L846.4 1831L844.5 1829.7L843 1827.7L841.9 1824.9L841.3 1821.7L841.4 1818.2L842.2 1814.7L843.6 1811.4L845.6 1808.6L848.1 1806.3L850.9 1804.9L853.9 1804.3L848.5 1804.3L845.4 1804.6L842.5 1805.9L839.9 1807.9L837.8 1810.7L836.2 1813.9L835.3 1817.4L835 1820.9L835.4 1824.2L836.4 1827L837.8 1829.3L839.6 1830.7L841.6 1831.3ZM860.8 1831.3L858.8 1831L856.9 1829.7L855.4 1827.7L854.3 1824.9L853.7 1821.7L853.8 1818.2L854.6 1814.7L856 1811.4L858 1808.6L860.5 1806.3L863.3 1804.9L866.3 1804.3L860.9 1804.3L857.8 1804.6L854.9 1805.9L852.3 1807.9L850.2 1810.7L848.6 1813.9L847.7 1817.4L847.4 1820.9L847.8 1824.2L848.8 1827L850.2 1829.3L852 1830.7L854 1831.3ZM873.2 1831.3L871.1 1830.9L869.1 1829.5L867.5 1827.2L866.5 1824.1L860.1 1823.3L861 1826.5L862.4 1829L864.3 1830.7L866.4 1831.3Z" fill="#7b1216" stroke="#3b0c0e" stroke-width="0.7" stroke-linejoin="round"/><path d="M754.7 1804.3L757.8 1804.6L760.7 1805.9L763.3 1807.9L765.4 1810.7L767 1813.9L767.9 1817.4L768.2 1820.9L767.8 1824.2L766.8 1827L765.4 1829.3L763.6 1830.7L761.6 1831.3L754.8 1831.3L756.8 1831L758.7 1829.7L760.2 1827.7L761.3 1824.9L761.9 1821.7L761.8 1818.2L761 1814.7L759.6 1811.4L757.6 1808.6L755.1 1806.3L752.3 1804.9L749.3 1804.3ZM767.1 1804.3L770.2 1804.6L773.1 1805.9L775.7 1807.9L777.8 1810.7L779.4 1813.9L780.3 1817.4L780.6 1820.9L780.2 1824.2L779.2 1827L777.8 1829.3L776 1830.7L774 1831.3L767.2 1831.3L769.2 1831L771.1 1829.7L772.6 1827.7L773.7 1824.9L774.3 1821.7L774.2 1818.2L773.4 1814.7L772 1811.4L770 1808.6L767.5 1806.3L764.7 1804.9L761.7 1804.3ZM779.5 1804.3L782.6 1804.6L785.5 1805.9L788.1 1807.9L790.2 1810.7L791.8 1813.9L792.7 1817.4L793 1820.9L792.6 1824.2L791.6 1827L790.2 1829.3L788.4 1830.7L786.4 1831.3L779.6 1831.3L781.6 1831L783.5 1829.7L785 1827.7L786.1 1824.9L786.7 1821.7L786.6 1818.2L785.8 1814.7L784.4 1811.4L782.4 1808.6L779.9 1806.3L777.1 1804.9L774.1 1804.3ZM791.9 1804.3L795 1804.6L797.9 1805.9L800.5 1807.9L802.6 1810.7L804.2 1813.9L805.1 1817.4L805.4 1820.9L805 1824.2L804 1827L802.6 1829.3L800.8 1830.7L798.8 1831.3L792 1831.3L794 1831L795.9 1829.7L797.4 1827.7L798.5 1824.9L799.1 1821.7L799 1818.2L798.2 1814.7L796.8 1811.4L794.8 1808.6L792.3 1806.3L789.5 1804.9L786.5 1804.3ZM804.3 1804.3L807.4 1804.6L810.3 1805.9L812.9 1807.9L815 1810.7L816.6 1813.9L817.5 1817.4L817.8 1820.9L817.4 1824.2L816.4 1827L815 1829.3L813.2 1830.7L811.2 1831.3L804.4 1831.3L806.4 1831L808.3 1829.7L809.8 1827.7L810.9 1824.9L811.5 1821.7L811.4 1818.2L810.6 1814.7L809.2 1811.4L807.2 1808.6L804.7 1806.3L801.9 1804.9L798.9 1804.3ZM816.7 1804.3L819.8 1804.6L822.7 1805.9L825.3 1807.9L827.4 1810.7L829 1813.9L829.9 1817.4L830.2 1820.9L829.8 1824.2L828.8 1827L827.4 1829.3L825.6 1830.7L823.6 1831.3L816.8 1831.3L818.8 1831L820.7 1829.7L822.2 1827.7L823.3 1824.9L823.9 1821.7L823.8 1818.2L823 1814.7L821.6 1811.4L819.6 1808.6L817.1 1806.3L814.3 1804.9L811.3 1804.3ZM829.1 1804.3L832.2 1804.6L835.1 1805.9L837.7 1807.9L839.8 1810.7L841.4 1813.9L842.3 1817.4L842.6 1820.9L842.2 1824.2L841.2 1827L839.8 1829.3L838 1830.7L836 1831.3L829.2 1831.3L831.2 1831L833.1 1829.7L834.6 1827.7L835.7 1824.9L836.3 1821.7L836.2 1818.2L835.4 1814.7L834 1811.4L832 1808.6L829.5 1806.3L826.7 1804.9L823.7 1804.3ZM841.5 1804.3L844.6 1804.6L847.5 1805.9L850.1 1807.9L852.2 1810.7L853.8 1813.9L854.7 1817.4L855 1820.9L854.6 1824.2L853.6 1827L852.2 1829.3L850.4 1830.7L848.4 1831.3L841.6 1831.3L843.6 1831L845.5 1829.7L847 1827.7L848.1 1824.9L848.7 1821.7L848.6 1818.2L847.8 1814.7L846.4 1811.4L844.4 1808.6L841.9 1806.3L839.1 1804.9L836.1 1804.3ZM853.9 1804.3L857 1804.6L859.9 1805.9L862.5 1807.9L864.6 1810.7L866.2 1813.9L867.1 1817.4L867.4 1820.9L867 1824.2L866 1827L864.6 1829.3L862.8 1830.7L860.8 1831.3L854 1831.3L856 1831L857.9 1829.7L859.4 1827.7L860.5 1824.9L861.1 1821.7L861 1818.2L860.2 1814.7L858.8 1811.4L856.8 1808.6L854.3 1806.3L851.5 1804.9L848.5 1804.3ZM866.3 1804.3L869.4 1804.6L872.3 1805.9L874.9 1807.9L877 1810.7L878.6 1813.9L879.5 1817.4L879.8 1820.9L879.4 1824.2L878.4 1827L877 1829.3L875.2 1830.7L873.2 1831.3L866.4 1831.3L868.4 1831L870.3 1829.7L871.8 1827.7L872.9 1824.9L873.5 1821.7L873.4 1818.2L872.6 1814.7L871.2 1811.4L869.2 1808.6L866.7 1806.3L863.9 1804.9L860.9 1804.3Z" fill="#e8202a" stroke="#3b0c0e" stroke-width="0.7" stroke-linejoin="round"/></g><path d="M740 1818.1C741.67 1817.58 746.8 1816 750 1815C753.2 1814 757.67 1812.58 759.2 1812.1" stroke="#e8202a" stroke-width="2.2" fill="none" stroke-linecap="round" stroke-linejoin="round"/><path d="M870.7 1806.8L884 1807.6" stroke="#7b1216" stroke-width="2.4" fill="none" stroke-linecap="round" stroke-linejoin="round"/><path d="M800.3 1804.2L800.3 1794.75L808.91 1790.2L808.91 1782.01L817.52 1777.67L825.71 1780.75L827.39 1789.85L836.42 1793.56L836.84 1802.94L828.65 1807.91" stroke="#060909" stroke-width="1.7" fill="none" stroke-linejoin="round"/><path d="M817.87 1779.49L824.31 1782.15" stroke="#060909" stroke-width="1.36" fill="none"/><g><path d="M761.6 1900.3L759.6 1900L757.7 1898.7L756.2 1896.7L755.1 1893.9L754.5 1890.7L754.6 1887.2L755.4 1883.7L756.8 1880.4L758.8 1877.6L761.3 1875.3L764.1 1873.9L767.1 1873.3L761.7 1873.3L758.6 1873.6L755.7 1874.9L753.1 1876.9L751 1879.7L749.4 1882.9L748.5 1886.4L748.2 1889.9L748.6 1893.2L749.6 1896L751 1898.3L752.8 1899.7L754.8 1900.3ZM774 1900.3L772 1900L770.1 1898.7L768.6 1896.7L767.5 1893.9L766.9 1890.7L767 1887.2L767.8 1883.7L769.2 1880.4L771.2 1877.6L773.7 1875.3L776.5 1873.9L779.5 1873.3L774.1 1873.3L771 1873.6L768.1 1874.9L765.5 1876.9L763.4 1879.7L761.8 1882.9L760.9 1886.4L760.6 1889.9L761 1893.2L762 1896L763.4 1898.3L765.2 1899.7L767.2 1900.3ZM786.4 1900.3L784.4 1900L782.5 1898.7L781 1896.7L779.9 1893.9L779.3 1890.7L779.4 1887.2L780.2 1883.7L781.6 1880.4L783.6 1877.6L786.1 1875.3L788.9 1873.9L791.9 1873.3L786.5 1873.3L783.4 1873.6L780.5 1874.9L777.9 1876.9L775.8 1879.7L774.2 1882.9L773.3 1886.4L773 1889.9L773.4 1893.2L774.4 1896L775.8 1898.3L777.6 1899.7L779.6 1900.3ZM798.8 1900.3L796.8 1900L794.9 1898.7L793.4 1896.7L792.3 1893.9L791.7 1890.7L791.8 1887.2L792.6 1883.7L794 1880.4L796 1877.6L798.5 1875.3L801.3 1873.9L804.3 1873.3L798.9 1873.3L795.8 1873.6L792.9 1874.9L790.3 1876.9L788.2 1879.7L786.6 1882.9L785.7 1886.4L785.4 1889.9L785.8 1893.2L786.8 1896L788.2 1898.3L790 1899.7L792 1900.3ZM811.2 1900.3L809.2 1900L807.3 1898.7L805.8 1896.7L804.7 1893.9L804.1 1890.7L804.2 1887.2L805 1883.7L806.4 1880.4L808.4 1877.6L810.9 1875.3L813.7 1873.9L816.7 1873.3L811.3 1873.3L808.2 1873.6L805.3 1874.9L802.7 1876.9L800.6 1879.7L799 1882.9L798.1 1886.4L797.8 1889.9L798.2 1893.2L799.2 1896L800.6 1898.3L802.4 1899.7L804.4 1900.3ZM823.6 1900.3L821.6 1900L819.7 1898.7L818.2 1896.7L817.1 1893.9L816.5 1890.7L816.6 1887.2L817.4 1883.7L818.8 1880.4L820.8 1877.6L823.3 1875.3L826.1 1873.9L829.1 1873.3L823.7 1873.3L820.6 1873.6L817.7 1874.9L815.1 1876.9L813 1879.7L811.4 1882.9L810.5 1886.4L810.2 1889.9L810.6 1893.2L811.6 1896L813 1898.3L814.8 1899.7L816.8 1900.3ZM836 1900.3L834 1900L832.1 1898.7L830.6 1896.7L829.5 1893.9L828.9 1890.7L829 1887.2L829.8 1883.7L831.2 1880.4L833.2 1877.6L835.7 1875.3L838.5 1873.9L841.5 1873.3L836.1 1873.3L833 1873.6L830.1 1874.9L827.5 1876.9L825.4 1879.7L823.8 1882.9L822.9 1886.4L822.6 1889.9L823 1893.2L824 1896L825.4 1898.3L827.2 1899.7L829.2 1900.3ZM848.4 1900.3L846.4 1900L844.5 1898.7L843 1896.7L841.9 1893.9L841.3 1890.7L841.4 1887.2L842.2 1883.7L843.6 1880.4L845.6 1877.6L848.1 1875.3L850.9 1873.9L853.9 1873.3L848.5 1873.3L845.4 1873.6L842.5 1874.9L839.9 1876.9L837.8 1879.7L836.2 1882.9L835.3 1886.4L835 1889.9L835.4 1893.2L836.4 1896L837.8 1898.3L839.6 1899.7L841.6 1900.3ZM860.8 1900.3L858.8 1900L856.9 1898.7L855.4 1896.7L854.3 1893.9L853.7 1890.7L853.8 1887.2L854.6 1883.7L856 1880.4L858 1877.6L860.5 1875.3L863.3 1873.9L866.3 1873.3L860.9 1873.3L857.8 1873.6L854.9 1874.9L852.3 1876.9L850.2 1879.7L848.6 1882.9L847.7 1886.4L847.4 1889.9L847.8 1893.2L848.8 1896L850.2 1898.3L852 1899.7L854 1900.3ZM873.2 1900.3L871.1 1899.9L869.1 1898.5L867.5 1896.2L866.5 1893.1L860.1 1892.3L861 1895.5L862.4 1898L864.3 1899.7L866.4 1900.3Z" fill="#7b1216" stroke="#3b0c0e" stroke-width="0.7" stroke-linejoin="round"/><path d="M754.7 1873.3L757.8 1873.6L760.7 1874.9L763.3 1876.9L765.4 1879.7L767 1882.9L767.9 1886.4L768.2 1889.9L767.8 1893.2L766.8 1896L765.4 1898.3L763.6 1899.7L761.6 1900.3L754.8 1900.3L756.8 1900L758.7 1898.7L760.2 1896.7L761.3 1893.9L761.9 1890.7L761.8 1887.2L761 1883.7L759.6 1880.4L757.6 1877.6L755.1 1875.3L752.3 1873.9L749.3 1873.3ZM767.1 1873.3L770.2 1873.6L773.1 1874.9L775.7 1876.9L777.8 1879.7L779.4 1882.9L780.3 1886.4L780.6 1889.9L780.2 1893.2L779.2 1896L777.8 1898.3L776 1899.7L774 1900.3L767.2 1900.3L769.2 1900L771.1 1898.7L772.6 1896.7L773.7 1893.9L774.3 1890.7L774.2 1887.2L773.4 1883.7L772 1880.4L770 1877.6L767.5 1875.3L764.7 1873.9L761.7 1873.3ZM779.5 1873.3L782.6 1873.6L785.5 1874.9L788.1 1876.9L790.2 1879.7L791.8 1882.9L792.7 1886.4L793 1889.9L792.6 1893.2L791.6 1896L790.2 1898.3L788.4 1899.7L786.4 1900.3L779.6 1900.3L781.6 1900L783.5 1898.7L785 1896.7L786.1 1893.9L786.7 1890.7L786.6 1887.2L785.8 1883.7L784.4 1880.4L782.4 1877.6L779.9 1875.3L777.1 1873.9L774.1 1873.3ZM791.9 1873.3L795 1873.6L797.9 1874.9L800.5 1876.9L802.6 1879.7L804.2 1882.9L805.1 1886.4L805.4 1889.9L805 1893.2L804 1896L802.6 1898.3L800.8 1899.7L798.8 1900.3L792 1900.3L794 1900L795.9 1898.7L797.4 1896.7L798.5 1893.9L799.1 1890.7L799 1887.2L798.2 1883.7L796.8 1880.4L794.8 1877.6L792.3 1875.3L789.5 1873.9L786.5 1873.3ZM804.3 1873.3L807.4 1873.6L810.3 1874.9L812.9 1876.9L815 1879.7L816.6 1882.9L817.5 1886.4L817.8 1889.9L817.4 1893.2L816.4 1896L815 1898.3L813.2 1899.7L811.2 1900.3L804.4 1900.3L806.4 1900L808.3 1898.7L809.8 1896.7L810.9 1893.9L811.5 1890.7L811.4 1887.2L810.6 1883.7L809.2 1880.4L807.2 1877.6L804.7 1875.3L801.9 1873.9L798.9 1873.3ZM816.7 1873.3L819.8 1873.6L822.7 1874.9L825.3 1876.9L827.4 1879.7L829 1882.9L829.9 1886.4L830.2 1889.9L829.8 1893.2L828.8 1896L827.4 1898.3L825.6 1899.7L823.6 1900.3L816.8 1900.3L818.8 1900L820.7 1898.7L822.2 1896.7L823.3 1893.9L823.9 1890.7L823.8 1887.2L823 1883.7L821.6 1880.4L819.6 1877.6L817.1 1875.3L814.3 1873.9L811.3 1873.3ZM829.1 1873.3L832.2 1873.6L835.1 1874.9L837.7 1876.9L839.8 1879.7L841.4 1882.9L842.3 1886.4L842.6 1889.9L842.2 1893.2L841.2 1896L839.8 1898.3L838 1899.7L836 1900.3L829.2 1900.3L831.2 1900L833.1 1898.7L834.6 1896.7L835.7 1893.9L836.3 1890.7L836.2 1887.2L835.4 1883.7L834 1880.4L832 1877.6L829.5 1875.3L826.7 1873.9L823.7 1873.3ZM841.5 1873.3L844.6 1873.6L847.5 1874.9L850.1 1876.9L852.2 1879.7L853.8 1882.9L854.7 1886.4L855 1889.9L854.6 1893.2L853.6 1896L852.2 1898.3L850.4 1899.7L848.4 1900.3L841.6 1900.3L843.6 1900L845.5 1898.7L847 1896.7L848.1 1893.9L848.7 1890.7L848.6 1887.2L847.8 1883.7L846.4 1880.4L844.4 1877.6L841.9 1875.3L839.1 1873.9L836.1 1873.3ZM853.9 1873.3L857 1873.6L859.9 1874.9L862.5 1876.9L864.6 1879.7L866.2 1882.9L867.1 1886.4L867.4 1889.9L867 1893.2L866 1896L864.6 1898.3L862.8 1899.7L860.8 1900.3L854 1900.3L856 1900L857.9 1898.7L859.4 1896.7L860.5 1893.9L861.1 1890.7L861 1887.2L860.2 1883.7L858.8 1880.4L856.8 1877.6L854.3 1875.3L851.5 1873.9L848.5 1873.3ZM866.3 1873.3L869.4 1873.6L872.3 1874.9L874.9 1876.9L877 1879.7L878.6 1882.9L879.5 1886.4L879.8 1889.9L879.4 1893.2L878.4 1896L877 1898.3L875.2 1899.7L873.2 1900.3L866.4 1900.3L868.4 1900L870.3 1898.7L871.8 1896.7L872.9 1893.9L873.5 1890.7L873.4 1887.2L872.6 1883.7L871.2 1880.4L869.2 1877.6L866.7 1875.3L863.9 1873.9L860.9 1873.3Z" fill="#e8202a" stroke="#3b0c0e" stroke-width="0.7" stroke-linejoin="round"/></g><path d="M740 1887.1C741.67 1886.58 746.8 1885 750 1884C753.2 1883 757.67 1881.58 759.2 1881.1" stroke="#e8202a" stroke-width="2.2" fill="none" stroke-linecap="round" stroke-linejoin="round"/><path d="M870.7 1875.8L884 1876.6" stroke="#7b1216" stroke-width="2.4" fill="none" stroke-linecap="round" stroke-linejoin="round"/><path d="M800.3 1873.2L800.3 1863.75L808.91 1859.2L808.91 1851.01L817.52 1846.67L825.71 1849.75L827.39 1858.85L836.42 1862.56L836.84 1871.94L828.65 1876.91" stroke="#060909" stroke-width="1.7" fill="none" stroke-linejoin="round"/><path d="M817.87 1848.49L824.31 1851.15" stroke="#060909" stroke-width="1.36" fill="none"/><path d="M884 1742.5C885 1741.67 888 1738.62 890 1737.5C892 1736.38 893.67 1735.63 896 1735.8C898.33 1735.97 901.37 1736.83 904 1738.5C906.63 1740.17 910.5 1744.58 911.8 1745.8" stroke="#3cb34a" stroke-width="2" fill="none" stroke-linecap="round" stroke-linejoin="round"/><circle cx="913.8" cy="1759.7" r="13.9" fill="#35b24a" stroke="#2a1a1a" stroke-width="1"/><path d="M903.79 1767.35A13.21 13.21 0 0 1 926.31 1758.31A13.9 13.9 0 0 0 903.79 1767.35Z" fill="#2a9440"/><ellipse cx="908.52" cy="1752.75" rx="4.17" ry="2.36" fill="#8fd89a" transform="rotate(-30 908.52 1752.75)"/><path d="M884 1811.5C887.08 1811.6 896.83 1811.27 902.5 1812.1C908.17 1812.93 914.23 1813.95 918 1816.5C921.77 1819.05 924.43 1823.32 925.1 1827.4C925.77 1831.48 921.57 1837.23 922 1841C922.43 1844.77 926.75 1848.5 927.7 1850" stroke="#3cb34a" stroke-width="2" fill="none" stroke-linecap="round" stroke-linejoin="round"/><circle cx="942.3" cy="1848.6" r="13.9" fill="#35b24a" stroke="#2a1a1a" stroke-width="1"/><path d="M932.29 1856.24A13.21 13.21 0 0 1 954.81 1847.21A13.9 13.9 0 0 0 932.29 1856.24Z" fill="#2a9440"/><ellipse cx="937.02" cy="1841.65" rx="4.17" ry="2.36" fill="#8fd89a" transform="rotate(-30 937.02 1841.65)"/><path d="M884 1879.8C889.3 1879.13 904.97 1877.12 915.8 1875.8C926.63 1874.48 940.63 1871.12 949 1871.9C957.37 1872.68 964.9 1876.63 966 1880.5C967.1 1884.37 963.97 1890.45 955.6 1895.1C947.23 1899.75 928.23 1903.92 915.8 1908.4C903.37 1912.88 884.97 1918.65 881 1922C877.03 1925.35 885.1 1927.02 892 1928.5C898.9 1929.98 912.02 1930.27 922.4 1930.9C932.78 1931.53 948.98 1932.07 954.3 1932.3" stroke="#3cb34a" stroke-width="2" fill="none" stroke-linecap="round" stroke-linejoin="round"/><circle cx="967.6" cy="1925.6" r="13.9" fill="#35b24a" stroke="#2a1a1a" stroke-width="1"/><path d="M957.59 1933.24A13.21 13.21 0 0 1 980.11 1924.21A13.9 13.9 0 0 0 957.59 1933.24Z" fill="#2a9440"/><ellipse cx="962.32" cy="1918.65" rx="4.17" ry="2.36" fill="#8fd89a" transform="rotate(-30 962.32 1918.65)"/><path d="M884.6 1768.3V1779.6" stroke="#060909" stroke-width="2" stroke-dasharray="4 3.2"/><path d="M879 1779.6L890.2 1779.6L884.6 1800.9Z" fill="#060909"/><path d="M884.6 1837.4V1849.3" stroke="#060909" stroke-width="2" stroke-dasharray="4 3.2"/><path d="M879 1849.3L890.2 1849.3L884.6 1870.5Z" fill="#060909"/><ellipse cx="1154.75" cy="1775.76" rx="4.2" ry="3" fill="#f9c98a" stroke="#555" stroke-width="0.7" opacity="0.35" transform="rotate(15.25 1154.75 1775.76)"/><ellipse cx="1146.56" cy="1792.17" rx="4.2" ry="3" fill="#f9c98a" stroke="#555" stroke-width="0.7" opacity="0.57" transform="rotate(37.75 1146.56 1792.17)"/><ellipse cx="1132.72" cy="1804.21" rx="4.2" ry="3" fill="#f9c98a" stroke="#555" stroke-width="0.7" opacity="0.8" transform="rotate(60.25 1132.72 1804.21)"/><ellipse cx="1115.33" cy="1810.02" rx="4.2" ry="3" fill="#f9c98a" stroke="#555" stroke-width="0.7" opacity="0.46" transform="rotate(82.75 1115.33 1810.02)"/><ellipse cx="1097.04" cy="1808.75" rx="4.2" ry="3" fill="#f9c98a" stroke="#555" stroke-width="0.7" opacity="0.69" transform="rotate(105.25 1097.04 1808.75)"/><ellipse cx="1080.63" cy="1800.56" rx="4.2" ry="3" fill="#f9c98a" stroke="#555" stroke-width="0.7" opacity="0.35" transform="rotate(127.75 1080.63 1800.56)"/><ellipse cx="1068.59" cy="1786.72" rx="4.2" ry="3" fill="#f9c98a" stroke="#555" stroke-width="0.7" opacity="0.57" transform="rotate(150.25 1068.59 1786.72)"/><ellipse cx="1062.78" cy="1769.33" rx="4.2" ry="3" fill="#f9c98a" stroke="#555" stroke-width="0.7" opacity="0.8" transform="rotate(172.75 1062.78 1769.33)"/><ellipse cx="1064.05" cy="1751.04" rx="4.2" ry="3" fill="#f9c98a" stroke="#555" stroke-width="0.7" opacity="0.46" transform="rotate(195.25 1064.05 1751.04)"/><ellipse cx="1072.24" cy="1734.63" rx="4.2" ry="3" fill="#f9c98a" stroke="#555" stroke-width="0.7" opacity="0.69" transform="rotate(217.75 1072.24 1734.63)"/><ellipse cx="1086.08" cy="1722.59" rx="4.2" ry="3" fill="#f9c98a" stroke="#555" stroke-width="0.7" opacity="0.35" transform="rotate(240.25 1086.08 1722.59)"/><ellipse cx="1103.47" cy="1716.78" rx="4.2" ry="3" fill="#f9c98a" stroke="#555" stroke-width="0.7" opacity="0.57" transform="rotate(262.75 1103.47 1716.78)"/><ellipse cx="1121.76" cy="1718.05" rx="4.2" ry="3" fill="#f9c98a" stroke="#555" stroke-width="0.7" opacity="0.8" transform="rotate(285.25 1121.76 1718.05)"/><ellipse cx="1138.17" cy="1726.24" rx="4.2" ry="3" fill="#f9c98a" stroke="#555" stroke-width="0.7" opacity="0.46" transform="rotate(307.75 1138.17 1726.24)"/><ellipse cx="1150.21" cy="1740.08" rx="4.2" ry="3" fill="#f9c98a" stroke="#555" stroke-width="0.7" opacity="0.69" transform="rotate(330.25 1150.21 1740.08)"/><ellipse cx="1156.02" cy="1757.47" rx="4.2" ry="3" fill="#f9c98a" stroke="#555" stroke-width="0.7" opacity="0.35" transform="rotate(352.75 1156.02 1757.47)"/><path d="M1147.4 1763.4L1159.4 1763.4" stroke="#222" stroke-width="4.4"/><path d="M1147.4 1763.4L1159.4 1763.4" stroke="#8a5a10" stroke-width="2.6"/><ellipse cx="1163.6" cy="1763.4" rx="5.2" ry="3.6" fill="#f5a623" stroke="#222" stroke-width="0.9" transform="rotate(0 1163.6 1763.4)"/><path d="M1136.27 1790.27L1144.76 1798.76" stroke="#222" stroke-width="4.4"/><path d="M1136.27 1790.27L1144.76 1798.76" stroke="#8a5a10" stroke-width="2.6"/><ellipse cx="1147.73" cy="1801.73" rx="5.2" ry="3.6" fill="#f5a623" stroke="#222" stroke-width="0.9" transform="rotate(45 1147.73 1801.73)"/><path d="M1109.4 1801.4L1109.4 1813.4" stroke="#222" stroke-width="4.4"/><path d="M1109.4 1801.4L1109.4 1813.4" stroke="#8a5a10" stroke-width="2.6"/><ellipse cx="1109.4" cy="1817.6" rx="5.2" ry="3.6" fill="#f5a623" stroke="#222" stroke-width="0.9" transform="rotate(90 1109.4 1817.6)"/><path d="M1082.53 1790.27L1074.04 1798.76" stroke="#222" stroke-width="4.4"/><path d="M1082.53 1790.27L1074.04 1798.76" stroke="#8a5a10" stroke-width="2.6"/><ellipse cx="1071.07" cy="1801.73" rx="5.2" ry="3.6" fill="#f5a623" stroke="#222" stroke-width="0.9" transform="rotate(135 1071.07 1801.73)"/><path d="M1071.4 1763.4L1059.4 1763.4" stroke="#222" stroke-width="4.4"/><path d="M1071.4 1763.4L1059.4 1763.4" stroke="#8a5a10" stroke-width="2.6"/><ellipse cx="1055.2" cy="1763.4" rx="5.2" ry="3.6" fill="#f5a623" stroke="#222" stroke-width="0.9" transform="rotate(180 1055.2 1763.4)"/><path d="M1082.53 1736.53L1074.04 1728.04" stroke="#222" stroke-width="4.4"/><path d="M1082.53 1736.53L1074.04 1728.04" stroke="#8a5a10" stroke-width="2.6"/><ellipse cx="1071.07" cy="1725.07" rx="5.2" ry="3.6" fill="#f5a623" stroke="#222" stroke-width="0.9" transform="rotate(225 1071.07 1725.07)"/><path d="M1109.4 1725.4L1109.4 1713.4" stroke="#222" stroke-width="4.4"/><path d="M1109.4 1725.4L1109.4 1713.4" stroke="#8a5a10" stroke-width="2.6"/><ellipse cx="1109.4" cy="1709.2" rx="5.2" ry="3.6" fill="#f5a623" stroke="#222" stroke-width="0.9" transform="rotate(270 1109.4 1709.2)"/><path d="M1136.27 1736.53L1144.76 1728.04" stroke="#222" stroke-width="4.4"/><path d="M1136.27 1736.53L1144.76 1728.04" stroke="#8a5a10" stroke-width="2.6"/><ellipse cx="1147.73" cy="1725.07" rx="5.2" ry="3.6" fill="#f5a623" stroke="#222" stroke-width="0.9" transform="rotate(315 1147.73 1725.07)"/><circle cx="1109.4" cy="1763.4" r="38.6" fill="#f7a21b" stroke="#222" stroke-width="1"/><circle cx="1109.4" cy="1763.4" r="35" fill="#f6ee8a" stroke="#222" stroke-width="1"/><circle cx="1109.4" cy="1763.4" r="29.5" fill="none" stroke="#f26f22" stroke-width="3.4" stroke-dasharray="3.6 3.4"/><circle cx="1109.4" cy="1763.4" r="23.8" fill="#f8f8f8" stroke="#222" stroke-width="1"/><path d="M1104.9 1750.4C1095.9 1753.4 1099.9 1761.4 1103.9 1765.4S1109.9 1775.4 1100.9 1780.4" stroke="#d9368f" stroke-width="3.2" fill="none" stroke-linecap="round"/><path d="M1115.9 1750.4C1106.9 1753.4 1110.9 1761.4 1114.9 1765.4S1120.9 1775.4 1111.9 1780.4" stroke="#d9368f" stroke-width="3.2" fill="none" stroke-linecap="round"/><ellipse cx="1283.45" cy="1775.76" rx="4.2" ry="3" fill="#c9d7e2" stroke="#555" stroke-width="0.7" opacity="0.35" transform="rotate(15.25 1283.45 1775.76)"/><ellipse cx="1275.26" cy="1792.17" rx="4.2" ry="3" fill="#c9d7e2" stroke="#555" stroke-width="0.7" opacity="0.57" transform="rotate(37.75 1275.26 1792.17)"/><ellipse cx="1261.42" cy="1804.21" rx="4.2" ry="3" fill="#c9d7e2" stroke="#555" stroke-width="0.7" opacity="0.8" transform="rotate(60.25 1261.42 1804.21)"/><ellipse cx="1244.03" cy="1810.02" rx="4.2" ry="3" fill="#c9d7e2" stroke="#555" stroke-width="0.7" opacity="0.46" transform="rotate(82.75 1244.03 1810.02)"/><ellipse cx="1225.74" cy="1808.75" rx="4.2" ry="3" fill="#c9d7e2" stroke="#555" stroke-width="0.7" opacity="0.69" transform="rotate(105.25 1225.74 1808.75)"/><ellipse cx="1209.33" cy="1800.56" rx="4.2" ry="3" fill="#c9d7e2" stroke="#555" stroke-width="0.7" opacity="0.35" transform="rotate(127.75 1209.33 1800.56)"/><ellipse cx="1197.29" cy="1786.72" rx="4.2" ry="3" fill="#c9d7e2" stroke="#555" stroke-width="0.7" opacity="0.57" transform="rotate(150.25 1197.29 1786.72)"/><ellipse cx="1191.48" cy="1769.33" rx="4.2" ry="3" fill="#c9d7e2" stroke="#555" stroke-width="0.7" opacity="0.8" transform="rotate(172.75 1191.48 1769.33)"/><ellipse cx="1192.75" cy="1751.04" rx="4.2" ry="3" fill="#c9d7e2" stroke="#555" stroke-width="0.7" opacity="0.46" transform="rotate(195.25 1192.75 1751.04)"/><ellipse cx="1200.94" cy="1734.63" rx="4.2" ry="3" fill="#c9d7e2" stroke="#555" stroke-width="0.7" opacity="0.69" transform="rotate(217.75 1200.94 1734.63)"/><ellipse cx="1214.78" cy="1722.59" rx="4.2" ry="3" fill="#c9d7e2" stroke="#555" stroke-width="0.7" opacity="0.35" transform="rotate(240.25 1214.78 1722.59)"/><ellipse cx="1232.17" cy="1716.78" rx="4.2" ry="3" fill="#c9d7e2" stroke="#555" stroke-width="0.7" opacity="0.57" transform="rotate(262.75 1232.17 1716.78)"/><ellipse cx="1250.46" cy="1718.05" rx="4.2" ry="3" fill="#c9d7e2" stroke="#555" stroke-width="0.7" opacity="0.8" transform="rotate(285.25 1250.46 1718.05)"/><ellipse cx="1266.87" cy="1726.24" rx="4.2" ry="3" fill="#c9d7e2" stroke="#555" stroke-width="0.7" opacity="0.46" transform="rotate(307.75 1266.87 1726.24)"/><ellipse cx="1278.91" cy="1740.08" rx="4.2" ry="3" fill="#c9d7e2" stroke="#555" stroke-width="0.7" opacity="0.69" transform="rotate(330.25 1278.91 1740.08)"/><ellipse cx="1284.72" cy="1757.47" rx="4.2" ry="3" fill="#c9d7e2" stroke="#555" stroke-width="0.7" opacity="0.35" transform="rotate(352.75 1284.72 1757.47)"/><path d="M1276.1 1763.4L1288.1 1763.4" stroke="#222" stroke-width="4.4"/><path d="M1276.1 1763.4L1288.1 1763.4" stroke="#4c5d6b" stroke-width="2.6"/><ellipse cx="1292.3" cy="1763.4" rx="5.2" ry="3.6" fill="#a9cbe6" stroke="#222" stroke-width="0.9" transform="rotate(0 1292.3 1763.4)"/><path d="M1264.97 1790.27L1273.46 1798.76" stroke="#222" stroke-width="4.4"/><path d="M1264.97 1790.27L1273.46 1798.76" stroke="#4c5d6b" stroke-width="2.6"/><ellipse cx="1276.43" cy="1801.73" rx="5.2" ry="3.6" fill="#a9cbe6" stroke="#222" stroke-width="0.9" transform="rotate(45 1276.43 1801.73)"/><path d="M1238.1 1801.4L1238.1 1813.4" stroke="#222" stroke-width="4.4"/><path d="M1238.1 1801.4L1238.1 1813.4" stroke="#4c5d6b" stroke-width="2.6"/><ellipse cx="1238.1" cy="1817.6" rx="5.2" ry="3.6" fill="#a9cbe6" stroke="#222" stroke-width="0.9" transform="rotate(90 1238.1 1817.6)"/><path d="M1211.23 1790.27L1202.74 1798.76" stroke="#222" stroke-width="4.4"/><path d="M1211.23 1790.27L1202.74 1798.76" stroke="#4c5d6b" stroke-width="2.6"/><ellipse cx="1199.77" cy="1801.73" rx="5.2" ry="3.6" fill="#a9cbe6" stroke="#222" stroke-width="0.9" transform="rotate(135 1199.77 1801.73)"/><path d="M1200.1 1763.4L1188.1 1763.4" stroke="#222" stroke-width="4.4"/><path d="M1200.1 1763.4L1188.1 1763.4" stroke="#4c5d6b" stroke-width="2.6"/><ellipse cx="1183.9" cy="1763.4" rx="5.2" ry="3.6" fill="#a9cbe6" stroke="#222" stroke-width="0.9" transform="rotate(180 1183.9 1763.4)"/><path d="M1211.23 1736.53L1202.74 1728.04" stroke="#222" stroke-width="4.4"/><path d="M1211.23 1736.53L1202.74 1728.04" stroke="#4c5d6b" stroke-width="2.6"/><ellipse cx="1199.77" cy="1725.07" rx="5.2" ry="3.6" fill="#a9cbe6" stroke="#222" stroke-width="0.9" transform="rotate(225 1199.77 1725.07)"/><path d="M1238.1 1725.4L1238.1 1713.4" stroke="#222" stroke-width="4.4"/><path d="M1238.1 1725.4L1238.1 1713.4" stroke="#4c5d6b" stroke-width="2.6"/><ellipse cx="1238.1" cy="1709.2" rx="5.2" ry="3.6" fill="#a9cbe6" stroke="#222" stroke-width="0.9" transform="rotate(270 1238.1 1709.2)"/><path d="M1264.97 1736.53L1273.46 1728.04" stroke="#222" stroke-width="4.4"/><path d="M1264.97 1736.53L1273.46 1728.04" stroke="#4c5d6b" stroke-width="2.6"/><ellipse cx="1276.43" cy="1725.07" rx="5.2" ry="3.6" fill="#a9cbe6" stroke="#222" stroke-width="0.9" transform="rotate(315 1276.43 1725.07)"/><circle cx="1238.1" cy="1763.4" r="38.6" fill="#b7d3e8" stroke="#222" stroke-width="1"/><circle cx="1238.1" cy="1763.4" r="35" fill="#cfe3ee" stroke="#222" stroke-width="1"/><circle cx="1238.1" cy="1763.4" r="29.5" fill="none" stroke="#1c3d78" stroke-width="3.4" stroke-dasharray="3.6 3.4"/><circle cx="1238.1" cy="1763.4" r="23.8" fill="#f8f8f8" stroke="#222" stroke-width="1"/><path d="M1233.6 1750.4C1224.6 1753.4 1228.6 1761.4 1232.6 1765.4S1238.6 1775.4 1229.6 1780.4" stroke="#d9368f" stroke-width="3.2" fill="none" stroke-linecap="round"/><path d="M1244.6 1750.4C1235.6 1753.4 1239.6 1761.4 1243.6 1765.4S1249.6 1775.4 1240.6 1780.4" stroke="#d9368f" stroke-width="3.2" fill="none" stroke-linecap="round"/><text x="1091.18" y="1839.4" font-size="18.2" textLength="36.3" lengthAdjust="spacingAndGlyphs">Live</text><text x="1204.58" y="1839.4" font-size="18.2" textLength="66.86" lengthAdjust="spacingAndGlyphs">Pseudo</text><path d="M1109.4 1848V1865" stroke="#060909" stroke-width="2" stroke-dasharray="4 3.2"/><path d="M1103.8 1865L1115 1865L1109.4 1886Z" fill="#060909"/><path d="M1238.3 1848V1865" stroke="#060909" stroke-width="2" stroke-dasharray="4 3.2"/><path d="M1232.7 1865L1243.9 1865L1238.3 1886Z" fill="#060909"/><ellipse cx="1177.6" cy="1930.7" rx="96.2" ry="12.4" fill="#fdcf9b" stroke="#111" stroke-width="1.1"/><path d="M1081.4 1914.7V1930.5M1273.8 1914.7V1930.5" stroke="#111" stroke-width="1.1"/><ellipse cx="1177.6" cy="1914.7" rx="96.2" ry="14.2" fill="none" stroke="#111" stroke-width="1.1"/><ellipse cx="1177.3" cy="1912.9" rx="103.8" ry="14.7" fill="none" stroke="#111" stroke-width="1.1"/><path d="M1073.5 1901.3V1912.9M1281.1 1901.3V1912.9" stroke="#111" stroke-width="1.1"/><ellipse cx="1177.3" cy="1901.3" rx="103.8" ry="14.7" fill="none" stroke="#111" stroke-width="1.1"/><ellipse cx="1177.6" cy="1906.5" rx="96.2" ry="13" fill="none" stroke="#111" stroke-width="1.1"/><path d="M1400 1728.7V1922.6H1636.5" stroke="#060909" stroke-width="2" fill="none"/><path d="M1466.4 1780V1921" stroke="#060909" stroke-width="1.2" stroke-dasharray="3.6 2.6"/><path d="M1403.6 1916.5C1405.98 1907.57 1412.53 1879.57 1417.9 1862.9C1423.27 1846.23 1430.43 1828.4 1435.8 1816.5C1441.17 1804.6 1445.05 1797.82 1450.1 1791.5C1455.15 1785.18 1460.15 1780.08 1466.1 1778.6C1472.05 1777.12 1477.75 1778.07 1485.8 1782.6C1493.85 1787.13 1503.68 1795.98 1514.4 1805.8C1525.12 1815.62 1538.2 1829.6 1550.1 1841.5C1562 1853.4 1573.9 1866.57 1585.8 1877.2C1597.7 1887.83 1613.13 1899.2 1621.5 1905.3C1629.87 1911.4 1633.58 1912.38 1636 1913.8" stroke="#e31e24" stroke-width="3.8" fill="none" stroke-linecap="round" stroke-linejoin="round"/><circle cx="1439.5" cy="1738.9" r="28.2" fill="#fff" stroke="#222" stroke-width="1"/><clipPath id="hc"><circle cx="1439.5" cy="1738.9" r="28.2"/></clipPath><g clip-path="url(#hc)"><path d="M1445 1711L1420 1733L1420 1746L1432 1767L1460 1770L1470 1740L1462 1712Z" fill="#c9a06e"/><path d="M1424 1731L1433 1729L1448 1737L1458 1752L1450 1764L1434 1768L1422 1757Z" fill="#ecd2b0"/><path d="M1425 1733L1431 1730L1434 1739L1430 1746L1425 1744Z" fill="#cc9aa0"/><circle cx="1458.8" cy="1724.2" r="3.6" fill="#111"/><circle cx="1458.2" cy="1723.2" r="1.1" fill="#fff"/><path d="M1422 1745L1412 1747M1422 1748L1413 1752M1447 1747L1458 1758M1446 1750L1452 1763M1444 1751L1446 1764" stroke="#f6b36b" stroke-width="0.8"/></g><circle cx="1439.5" cy="1738.9" r="28.2" fill="none" stroke="#222" stroke-width="1"/><g transform="translate(1520.2 1732.5) rotate(45)"><path d="M8 -12.5H131A12.5 12.5 0 0 1 131 12.5H8Z" fill="#f4f4f4" stroke="#111" stroke-width="1.2"/><path d="M62 -12.3H131A12.3 12.3 0 0 1 131 12.3H62Z" fill="#c0202e"/><path d="M62 6H131A12.3 12.3 0 0 1 140 9L131 12.3H62Z" fill="#9b1f27"/><ellipse cx="62" cy="0" rx="4.5" ry="12.3" fill="#ee5a4c"/><path d="M8 -12.5H131A12.5 12.5 0 0 1 131 12.5H8Z" fill="none" stroke="#111" stroke-width="1.2"/><rect x="-3" y="-17" width="13" height="34" rx="3" fill="#2d68b2" stroke="#111" stroke-width="1"/><rect x="-11" y="-16" width="9" height="32" fill="#2d68b2"/><ellipse cx="-11" cy="0" rx="5.6" ry="16" fill="#6cc4ef" stroke="#111" stroke-width="1"/><ellipse cx="-11" cy="0" rx="3" ry="8.5" fill="#231f20"/></g><path d="M1740.6 1729.1H1711.5V1818.7H1755.9" stroke="#4a4a4a" stroke-width="1.5" fill="none" stroke-dasharray="4.5 3"/><g stroke="#222" stroke-width="0.9" fill="#fff"><rect x="1783.5" y="1723.7" width="70.4" height="13.8" rx="1"/><rect x="1855.4" y="1716.8" width="4.6" height="26.8" rx="2.2"/><rect x="1860" y="1726.6" width="11" height="8"/><rect x="1871" y="1722.5" width="4" height="16" rx="2"/><path d="M1783.5 1726.6L1776.5 1728.3V1732.9L1783.5 1734.6Z"/><path d="M1776.5 1729.4H1772V1731.8H1776.5Z"/></g><path d="M1793 1728.5H1848M1795 1728.5V1733M1803 1728.5V1733M1812 1728.5V1733M1821 1728.5V1733M1830 1728.5V1733M1839 1728.5V1733M1847 1728.5V1733" stroke="#222" stroke-width="0.8"/><path d="M1767.35 1729.19L1748.81 1719.33M1767.16 1729.64L1747.27 1722.91M1767.04 1730.11L1746.32 1726.68M1767 1730.59L1746 1730.56M1767.04 1731.08L1746.31 1734.44M1767.16 1731.55L1747.24 1738.22M1767.35 1732L1748.77 1741.79" stroke="#666" stroke-width="0.8" stroke-dasharray="1.6 1.4"/><path d="M1755.9 1814.1C1757.43 1811.82 1760.35 1809.65 1764.3 1805.7C1768.25 1801.75 1776.92 1794.35 1779.6 1790.4C1782.28 1786.45 1779.83 1786.4 1780.4 1782C1780.97 1777.6 1781.82 1767.45 1783 1764C1784.18 1760.55 1785.5 1761 1787.5 1761.3C1789.5 1761.6 1792.73 1763 1795 1765.8C1797.27 1768.6 1798.05 1775.67 1801.1 1778.1C1804.15 1780.53 1810.48 1780.92 1813.3 1780.4C1816.12 1779.88 1815.18 1776.53 1818 1775C1820.82 1773.47 1825.62 1771.45 1830.2 1771.2C1834.78 1770.95 1842.07 1771.58 1845.5 1773.5C1848.93 1775.42 1850.72 1779.12 1850.8 1782.7C1850.88 1786.28 1844.33 1792.45 1846 1795C1847.67 1797.55 1854.5 1795.97 1860.8 1798C1867.1 1800.03 1877.42 1803.12 1883.8 1807.2C1890.18 1811.28 1894.77 1816.12 1899.1 1822.5C1903.43 1828.88 1907.5 1837.83 1909.8 1845.5C1912.1 1853.17 1912.52 1859.57 1912.9 1868.5C1913.28 1877.43 1911.85 1890.3 1912.1 1899.1C1912.35 1907.9 1914.78 1916.97 1914.4 1921.3C1914.02 1925.63 1916.18 1924.22 1909.8 1925.1C1903.42 1925.98 1882.98 1926.85 1876.1 1926.6C1869.22 1926.35 1876.67 1924.87 1868.5 1923.6C1860.33 1922.33 1837.32 1922.07 1827.1 1919C1816.88 1915.93 1813.07 1909.8 1807.2 1905.2C1801.33 1900.6 1795.98 1895.48 1791.9 1891.4C1787.82 1887.32 1784.75 1885.03 1782.7 1880.7C1780.65 1876.37 1780.12 1870.25 1779.6 1865.4C1779.08 1860.55 1782.15 1856.2 1779.6 1851.6C1777.05 1847 1768 1841.63 1764.3 1837.8C1760.6 1833.97 1758.93 1831.67 1757.4 1828.6C1755.87 1825.53 1755.35 1821.82 1755.1 1819.4C1754.85 1816.98 1754.37 1816.38 1755.9 1814.1Z" fill="#c9a06e" stroke="#151515" stroke-width="1.3"/><clipPath id="hb"><path d="M1755.9 1814.1C1757.43 1811.82 1760.35 1809.65 1764.3 1805.7C1768.25 1801.75 1776.92 1794.35 1779.6 1790.4C1782.28 1786.45 1779.83 1786.4 1780.4 1782C1780.97 1777.6 1781.82 1767.45 1783 1764C1784.18 1760.55 1785.5 1761 1787.5 1761.3C1789.5 1761.6 1792.73 1763 1795 1765.8C1797.27 1768.6 1798.05 1775.67 1801.1 1778.1C1804.15 1780.53 1810.48 1780.92 1813.3 1780.4C1816.12 1779.88 1815.18 1776.53 1818 1775C1820.82 1773.47 1825.62 1771.45 1830.2 1771.2C1834.78 1770.95 1842.07 1771.58 1845.5 1773.5C1848.93 1775.42 1850.72 1779.12 1850.8 1782.7C1850.88 1786.28 1844.33 1792.45 1846 1795C1847.67 1797.55 1854.5 1795.97 1860.8 1798C1867.1 1800.03 1877.42 1803.12 1883.8 1807.2C1890.18 1811.28 1894.77 1816.12 1899.1 1822.5C1903.43 1828.88 1907.5 1837.83 1909.8 1845.5C1912.1 1853.17 1912.52 1859.57 1912.9 1868.5C1913.28 1877.43 1911.85 1890.3 1912.1 1899.1C1912.35 1907.9 1914.78 1916.97 1914.4 1921.3C1914.02 1925.63 1916.18 1924.22 1909.8 1925.1C1903.42 1925.98 1882.98 1926.85 1876.1 1926.6C1869.22 1926.35 1876.67 1924.87 1868.5 1923.6C1860.33 1922.33 1837.32 1922.07 1827.1 1919C1816.88 1915.93 1813.07 1909.8 1807.2 1905.2C1801.33 1900.6 1795.98 1895.48 1791.9 1891.4C1787.82 1887.32 1784.75 1885.03 1782.7 1880.7C1780.65 1876.37 1780.12 1870.25 1779.6 1865.4C1779.08 1860.55 1782.15 1856.2 1779.6 1851.6C1777.05 1847 1768 1841.63 1764.3 1837.8C1760.6 1833.97 1758.93 1831.67 1757.4 1828.6C1755.87 1825.53 1755.35 1821.82 1755.1 1819.4C1754.85 1816.98 1754.37 1816.38 1755.9 1814.1Z"/></clipPath><g clip-path="url(#hb)"><path d="M1832 1838C1845 1830 1862 1823 1878 1812C1895 1822 1905 1840 1910 1852C1895 1852 1885 1855 1878 1860C1868 1866 1858 1862 1852 1858C1843 1850 1832 1846 1832 1838Z" fill="#ecd3b3"/><ellipse cx="1776" cy="1826" rx="19" ry="16" fill="#ecd3b3"/><path d="M1788 1873C1795 1868 1806 1867 1810 1870L1814 1888L1800 1892L1790 1887Z" fill="#ecd3b3"/><path d="M1854 1904C1860 1900 1870 1901 1874 1906L1876 1926L1852 1926Z" fill="#ecd3b3"/><path d="M1782 1786L1786 1766L1790 1774Z" fill="#c9939b"/><path d="M1820 1786C1822 1776 1832 1773 1842 1777C1846 1786 1840 1795 1830 1799C1824 1798 1820 1793 1820 1786Z" fill="#c9939b"/><path d="M1822 1792C1826 1789 1832 1788 1835 1790C1832 1794 1826 1796 1822 1792Z" fill="#a8717a"/><path d="M1780 1853C1792 1858 1810 1852 1827 1834M1812 1895C1830 1898 1850 1890 1868 1874M1855 1926C1853 1912 1855 1890 1870 1880" stroke="#a3855d" stroke-width="1" fill="none"/></g><path d="M1759 1817C1760 1812 1766 1810 1768 1814C1769 1818 1765 1821 1762 1820Z" fill="#c58c93"/><circle cx="1795.7" cy="1801.1" r="5.8" fill="#111"/><circle cx="1794.4" cy="1799.8" r="1.8" fill="#fff"/><path d="M1770 1895C1774 1888 1782 1878 1790 1883C1792 1890 1787 1896 1780 1898Z" fill="#c9939b" stroke="#151515" stroke-width="0.9"/><path d="M1797 1921C1802 1916 1812 1913 1826 1918L1818 1928L1800 1925Z" fill="#c9939b" stroke="#151515" stroke-width="0.9"/><path d="M1846 1929C1850 1922 1860 1921 1870 1924L1864 1933L1848 1933Z" fill="#c9939b" stroke="#151515" stroke-width="0.9"/><path d="M1734 1823.5L1760 1820.5M1738 1833L1760 1824M1738 1838L1762 1827M1778 1826L1792 1842M1780 1828L1787 1850M1776 1829L1783 1852" stroke="#f5b46e" stroke-width="0.8"/><g transform="translate(1969 1745.5) rotate(117.5)"><g stroke="#222" stroke-width="0.9" fill="#fff"><rect x="-1.5" y="-7.5" width="4" height="15" rx="2"/><rect x="2.5" y="-3" width="9" height="6"/><rect x="11.5" y="-10.2" width="4.2" height="20.4" rx="2.1"/><rect x="15.7" y="-5.2" width="60" height="10.4"/><path d="M75.7 -4L80 -1.4V1.4L75.7 4Z"/></g><path d="M80 0H142" stroke="#333" stroke-width="1.6"/><path d="M22 -2.4H72M24 -2.4V1M29 -2.4V1M34 -2.4V1M39 -2.4V1M44 -2.4V1M49 -2.4V1M54 -2.4V1M59 -2.4V1M64 -2.4V1M69 -2.4V1" stroke="#222" stroke-width="0.6"/></g></svg></body></html>
